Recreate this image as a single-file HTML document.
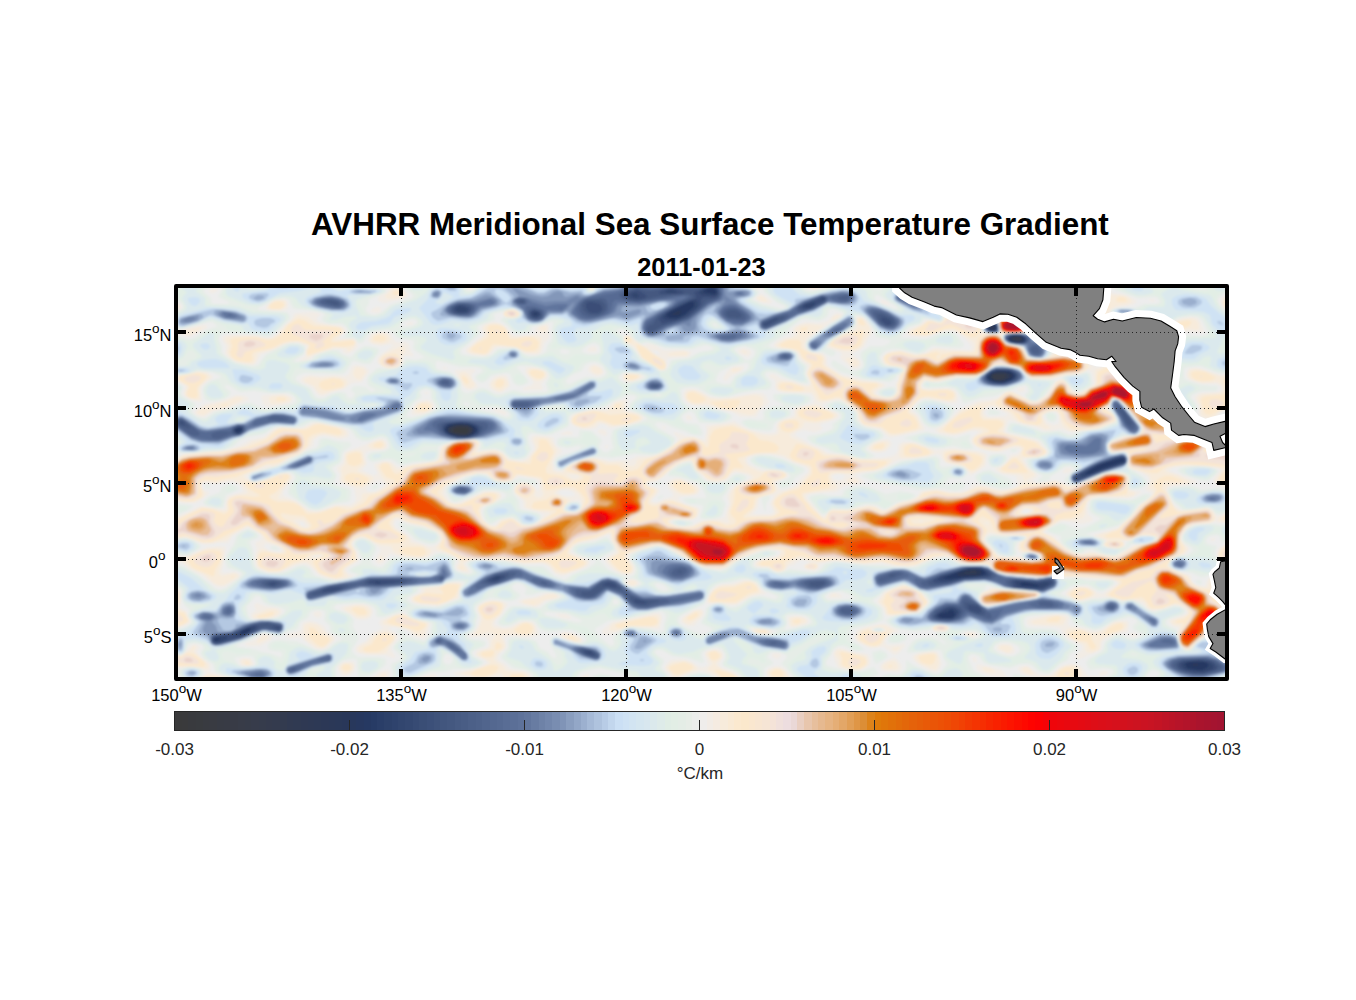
<!DOCTYPE html>
<html><head><meta charset="utf-8"><title>AVHRR Meridional Sea Surface Temperature Gradient</title>
<style>
html,body{margin:0;padding:0;background:#fff;}
body{width:1356px;height:1000px;overflow:hidden;position:relative;font-family:"Liberation Sans",Arial,sans-serif;}
svg{position:absolute;left:0;top:0;}
</style></head><body>
<svg width="1356" height="1000" viewBox="0 0 1356 1000">
<defs>
<clipPath id="dc"><rect x="178" y="288" width="1047" height="389"/></clipPath>
<filter id="bl" x="-2%" y="-2%" width="104%" height="104%"><feGaussianBlur stdDeviation="1.1"/></filter>
<linearGradient id="cb" x1="0" x2="1" y1="0" y2="0"><stop offset="0.0000" stop-color="#3a3a3b"/><stop offset="0.0067" stop-color="#3a3a3b"/><stop offset="0.0067" stop-color="#3a3a3c"/><stop offset="0.0133" stop-color="#3a3a3c"/><stop offset="0.0133" stop-color="#393a3e"/><stop offset="0.0200" stop-color="#393a3e"/><stop offset="0.0200" stop-color="#393b3f"/><stop offset="0.0267" stop-color="#393b3f"/><stop offset="0.0267" stop-color="#393b41"/><stop offset="0.0333" stop-color="#393b41"/><stop offset="0.0333" stop-color="#393b42"/><stop offset="0.0400" stop-color="#393b42"/><stop offset="0.0400" stop-color="#383b44"/><stop offset="0.0467" stop-color="#383b44"/><stop offset="0.0467" stop-color="#383b45"/><stop offset="0.0533" stop-color="#383b45"/><stop offset="0.0533" stop-color="#383b46"/><stop offset="0.0600" stop-color="#383b46"/><stop offset="0.0600" stop-color="#383c48"/><stop offset="0.0667" stop-color="#383c48"/><stop offset="0.0667" stop-color="#373c49"/><stop offset="0.0733" stop-color="#373c49"/><stop offset="0.0733" stop-color="#373c4b"/><stop offset="0.0800" stop-color="#373c4b"/><stop offset="0.0800" stop-color="#363c4c"/><stop offset="0.0867" stop-color="#363c4c"/><stop offset="0.0867" stop-color="#353b4d"/><stop offset="0.0933" stop-color="#353b4d"/><stop offset="0.0933" stop-color="#343b4e"/><stop offset="0.1000" stop-color="#343b4e"/><stop offset="0.1000" stop-color="#333b4f"/><stop offset="0.1067" stop-color="#333b4f"/><stop offset="0.1067" stop-color="#313a51"/><stop offset="0.1133" stop-color="#313a51"/><stop offset="0.1133" stop-color="#303a52"/><stop offset="0.1200" stop-color="#303a52"/><stop offset="0.1200" stop-color="#2f3953"/><stop offset="0.1267" stop-color="#2f3953"/><stop offset="0.1267" stop-color="#2e3954"/><stop offset="0.1333" stop-color="#2e3954"/><stop offset="0.1333" stop-color="#2d3955"/><stop offset="0.1400" stop-color="#2d3955"/><stop offset="0.1400" stop-color="#2c3856"/><stop offset="0.1467" stop-color="#2c3856"/><stop offset="0.1467" stop-color="#2b3857"/><stop offset="0.1533" stop-color="#2b3857"/><stop offset="0.1533" stop-color="#2a3858"/><stop offset="0.1600" stop-color="#2a3858"/><stop offset="0.1600" stop-color="#293759"/><stop offset="0.1667" stop-color="#293759"/><stop offset="0.1667" stop-color="#28385c"/><stop offset="0.1733" stop-color="#28385c"/><stop offset="0.1733" stop-color="#27385f"/><stop offset="0.1800" stop-color="#27385f"/><stop offset="0.1800" stop-color="#263962"/><stop offset="0.1867" stop-color="#263962"/><stop offset="0.1867" stop-color="#273b65"/><stop offset="0.1933" stop-color="#273b65"/><stop offset="0.1933" stop-color="#2a3e68"/><stop offset="0.2000" stop-color="#2a3e68"/><stop offset="0.2000" stop-color="#2d416a"/><stop offset="0.2067" stop-color="#2d416a"/><stop offset="0.2067" stop-color="#2f436d"/><stop offset="0.2133" stop-color="#2f436d"/><stop offset="0.2133" stop-color="#32466f"/><stop offset="0.2200" stop-color="#32466f"/><stop offset="0.2200" stop-color="#344871"/><stop offset="0.2267" stop-color="#344871"/><stop offset="0.2267" stop-color="#374b74"/><stop offset="0.2333" stop-color="#374b74"/><stop offset="0.2333" stop-color="#3a4e76"/><stop offset="0.2400" stop-color="#3a4e76"/><stop offset="0.2400" stop-color="#3c5079"/><stop offset="0.2467" stop-color="#3c5079"/><stop offset="0.2467" stop-color="#3f537b"/><stop offset="0.2533" stop-color="#3f537b"/><stop offset="0.2533" stop-color="#42567e"/><stop offset="0.2600" stop-color="#42567e"/><stop offset="0.2600" stop-color="#445880"/><stop offset="0.2667" stop-color="#445880"/><stop offset="0.2667" stop-color="#475b83"/><stop offset="0.2733" stop-color="#475b83"/><stop offset="0.2733" stop-color="#495d85"/><stop offset="0.2800" stop-color="#495d85"/><stop offset="0.2800" stop-color="#4c6088"/><stop offset="0.2867" stop-color="#4c6088"/><stop offset="0.2867" stop-color="#4e628a"/><stop offset="0.2933" stop-color="#4e628a"/><stop offset="0.2933" stop-color="#51658d"/><stop offset="0.3000" stop-color="#51658d"/><stop offset="0.3000" stop-color="#546890"/><stop offset="0.3067" stop-color="#546890"/><stop offset="0.3067" stop-color="#566a92"/><stop offset="0.3133" stop-color="#566a92"/><stop offset="0.3133" stop-color="#596d95"/><stop offset="0.3200" stop-color="#596d95"/><stop offset="0.3200" stop-color="#5b6f97"/><stop offset="0.3267" stop-color="#5b6f97"/><stop offset="0.3267" stop-color="#5e729a"/><stop offset="0.3333" stop-color="#5e729a"/><stop offset="0.3333" stop-color="#62769d"/><stop offset="0.3400" stop-color="#62769d"/><stop offset="0.3400" stop-color="#687ca2"/><stop offset="0.3467" stop-color="#687ca2"/><stop offset="0.3467" stop-color="#6e82a7"/><stop offset="0.3533" stop-color="#6e82a7"/><stop offset="0.3533" stop-color="#7387ac"/><stop offset="0.3600" stop-color="#7387ac"/><stop offset="0.3600" stop-color="#798db1"/><stop offset="0.3667" stop-color="#798db1"/><stop offset="0.3667" stop-color="#8094b7"/><stop offset="0.3733" stop-color="#8094b7"/><stop offset="0.3733" stop-color="#8a9ebf"/><stop offset="0.3800" stop-color="#8a9ebf"/><stop offset="0.3800" stop-color="#93a7c7"/><stop offset="0.3867" stop-color="#93a7c7"/><stop offset="0.3867" stop-color="#9cb0cf"/><stop offset="0.3933" stop-color="#9cb0cf"/><stop offset="0.3933" stop-color="#a6bad7"/><stop offset="0.4000" stop-color="#a6bad7"/><stop offset="0.4000" stop-color="#afc3de"/><stop offset="0.4067" stop-color="#afc3de"/><stop offset="0.4067" stop-color="#b8cce6"/><stop offset="0.4133" stop-color="#b8cce6"/><stop offset="0.4133" stop-color="#c2d6ed"/><stop offset="0.4200" stop-color="#c2d6ed"/><stop offset="0.4200" stop-color="#cbdff4"/><stop offset="0.4267" stop-color="#cbdff4"/><stop offset="0.4267" stop-color="#cfe2f4"/><stop offset="0.4333" stop-color="#cfe2f4"/><stop offset="0.4333" stop-color="#d2e4f2"/><stop offset="0.4400" stop-color="#d2e4f2"/><stop offset="0.4400" stop-color="#d5e6f0"/><stop offset="0.4467" stop-color="#d5e6f0"/><stop offset="0.4467" stop-color="#d8e7ef"/><stop offset="0.4533" stop-color="#d8e7ef"/><stop offset="0.4533" stop-color="#dbe9ec"/><stop offset="0.4600" stop-color="#dbe9ec"/><stop offset="0.4600" stop-color="#deebe9"/><stop offset="0.4667" stop-color="#deebe9"/><stop offset="0.4667" stop-color="#e0ede5"/><stop offset="0.4733" stop-color="#e0ede5"/><stop offset="0.4733" stop-color="#e2eee5"/><stop offset="0.4800" stop-color="#e2eee5"/><stop offset="0.4800" stop-color="#e4ede6"/><stop offset="0.4867" stop-color="#e4ede6"/><stop offset="0.4867" stop-color="#e7ede7"/><stop offset="0.4933" stop-color="#e7ede7"/><stop offset="0.4933" stop-color="#ebedeb"/><stop offset="0.5000" stop-color="#ebedeb"/><stop offset="0.5000" stop-color="#efedeb"/><stop offset="0.5067" stop-color="#efedeb"/><stop offset="0.5067" stop-color="#f2ece6"/><stop offset="0.5133" stop-color="#f2ece6"/><stop offset="0.5133" stop-color="#f5ebe1"/><stop offset="0.5200" stop-color="#f5ebe1"/><stop offset="0.5200" stop-color="#f7ebdb"/><stop offset="0.5267" stop-color="#f7ebdb"/><stop offset="0.5267" stop-color="#f9ead5"/><stop offset="0.5333" stop-color="#f9ead5"/><stop offset="0.5333" stop-color="#fbe9cf"/><stop offset="0.5400" stop-color="#fbe9cf"/><stop offset="0.5400" stop-color="#fbe8cc"/><stop offset="0.5467" stop-color="#fbe8cc"/><stop offset="0.5467" stop-color="#fae7cf"/><stop offset="0.5533" stop-color="#fae7cf"/><stop offset="0.5533" stop-color="#f8e6d2"/><stop offset="0.5600" stop-color="#f8e6d2"/><stop offset="0.5600" stop-color="#f6e5d5"/><stop offset="0.5667" stop-color="#f6e5d5"/><stop offset="0.5667" stop-color="#f4e3d8"/><stop offset="0.5733" stop-color="#f4e3d8"/><stop offset="0.5733" stop-color="#f0e0dc"/><stop offset="0.5800" stop-color="#f0e0dc"/><stop offset="0.5800" stop-color="#eddddf"/><stop offset="0.5867" stop-color="#eddddf"/><stop offset="0.5867" stop-color="#ead8d7"/><stop offset="0.5933" stop-color="#ead8d7"/><stop offset="0.5933" stop-color="#e9cfc2"/><stop offset="0.6000" stop-color="#e9cfc2"/><stop offset="0.6000" stop-color="#e8c6ad"/><stop offset="0.6067" stop-color="#e8c6ad"/><stop offset="0.6067" stop-color="#e7bf9d"/><stop offset="0.6133" stop-color="#e7bf9d"/><stop offset="0.6133" stop-color="#e6b990"/><stop offset="0.6200" stop-color="#e6b990"/><stop offset="0.6200" stop-color="#e6b483"/><stop offset="0.6267" stop-color="#e6b483"/><stop offset="0.6267" stop-color="#e5ae76"/><stop offset="0.6333" stop-color="#e5ae76"/><stop offset="0.6333" stop-color="#e3a768"/><stop offset="0.6400" stop-color="#e3a768"/><stop offset="0.6400" stop-color="#e19f57"/><stop offset="0.6467" stop-color="#e19f57"/><stop offset="0.6467" stop-color="#df9646"/><stop offset="0.6533" stop-color="#df9646"/><stop offset="0.6533" stop-color="#dc8e36"/><stop offset="0.6600" stop-color="#dc8e36"/><stop offset="0.6600" stop-color="#dd831a"/><stop offset="0.6667" stop-color="#dd831a"/><stop offset="0.6667" stop-color="#df7b0a"/><stop offset="0.6733" stop-color="#df7b0a"/><stop offset="0.6733" stop-color="#e0760a"/><stop offset="0.6800" stop-color="#e0760a"/><stop offset="0.6800" stop-color="#e1710a"/><stop offset="0.6867" stop-color="#e1710a"/><stop offset="0.6867" stop-color="#e26c0a"/><stop offset="0.6933" stop-color="#e26c0a"/><stop offset="0.6933" stop-color="#e3670a"/><stop offset="0.7000" stop-color="#e3670a"/><stop offset="0.7000" stop-color="#e5620a"/><stop offset="0.7067" stop-color="#e5620a"/><stop offset="0.7067" stop-color="#e65e09"/><stop offset="0.7133" stop-color="#e65e09"/><stop offset="0.7133" stop-color="#e85a08"/><stop offset="0.7200" stop-color="#e85a08"/><stop offset="0.7200" stop-color="#ea5507"/><stop offset="0.7267" stop-color="#ea5507"/><stop offset="0.7267" stop-color="#ec5106"/><stop offset="0.7333" stop-color="#ec5106"/><stop offset="0.7333" stop-color="#ed4d05"/><stop offset="0.7400" stop-color="#ed4d05"/><stop offset="0.7400" stop-color="#ef4705"/><stop offset="0.7467" stop-color="#ef4705"/><stop offset="0.7467" stop-color="#f14104"/><stop offset="0.7533" stop-color="#f14104"/><stop offset="0.7533" stop-color="#f23a03"/><stop offset="0.7600" stop-color="#f23a03"/><stop offset="0.7600" stop-color="#f43402"/><stop offset="0.7667" stop-color="#f43402"/><stop offset="0.7667" stop-color="#f62e02"/><stop offset="0.7733" stop-color="#f62e02"/><stop offset="0.7733" stop-color="#f72701"/><stop offset="0.7800" stop-color="#f72701"/><stop offset="0.7800" stop-color="#f92100"/><stop offset="0.7867" stop-color="#f92100"/><stop offset="0.7867" stop-color="#fa1b00"/><stop offset="0.7933" stop-color="#fa1b00"/><stop offset="0.7933" stop-color="#fc1500"/><stop offset="0.8000" stop-color="#fc1500"/><stop offset="0.8000" stop-color="#fc0f00"/><stop offset="0.8067" stop-color="#fc0f00"/><stop offset="0.8067" stop-color="#fe0900"/><stop offset="0.8133" stop-color="#fe0900"/><stop offset="0.8133" stop-color="#fe0300"/><stop offset="0.8200" stop-color="#fe0300"/><stop offset="0.8200" stop-color="#fc0102"/><stop offset="0.8267" stop-color="#fc0102"/><stop offset="0.8267" stop-color="#f50307"/><stop offset="0.8333" stop-color="#f50307"/><stop offset="0.8333" stop-color="#ef050b"/><stop offset="0.8400" stop-color="#ef050b"/><stop offset="0.8400" stop-color="#ec070d"/><stop offset="0.8467" stop-color="#ec070d"/><stop offset="0.8467" stop-color="#e9080f"/><stop offset="0.8533" stop-color="#e9080f"/><stop offset="0.8533" stop-color="#e70a11"/><stop offset="0.8600" stop-color="#e70a11"/><stop offset="0.8600" stop-color="#e40b13"/><stop offset="0.8667" stop-color="#e40b13"/><stop offset="0.8667" stop-color="#e10c15"/><stop offset="0.8733" stop-color="#e10c15"/><stop offset="0.8733" stop-color="#de0e17"/><stop offset="0.8800" stop-color="#de0e17"/><stop offset="0.8800" stop-color="#db0f19"/><stop offset="0.8867" stop-color="#db0f19"/><stop offset="0.8867" stop-color="#d9101b"/><stop offset="0.8933" stop-color="#d9101b"/><stop offset="0.8933" stop-color="#d6111c"/><stop offset="0.9000" stop-color="#d6111c"/><stop offset="0.9000" stop-color="#d3111d"/><stop offset="0.9067" stop-color="#d3111d"/><stop offset="0.9067" stop-color="#d0121f"/><stop offset="0.9133" stop-color="#d0121f"/><stop offset="0.9133" stop-color="#cd1320"/><stop offset="0.9200" stop-color="#cd1320"/><stop offset="0.9200" stop-color="#cb1322"/><stop offset="0.9267" stop-color="#cb1322"/><stop offset="0.9267" stop-color="#c81423"/><stop offset="0.9333" stop-color="#c81423"/><stop offset="0.9333" stop-color="#c41424"/><stop offset="0.9400" stop-color="#c41424"/><stop offset="0.9400" stop-color="#bf1426"/><stop offset="0.9467" stop-color="#bf1426"/><stop offset="0.9467" stop-color="#bb1427"/><stop offset="0.9533" stop-color="#bb1427"/><stop offset="0.9533" stop-color="#b71429"/><stop offset="0.9600" stop-color="#b71429"/><stop offset="0.9600" stop-color="#b3142a"/><stop offset="0.9667" stop-color="#b3142a"/><stop offset="0.9667" stop-color="#af142b"/><stop offset="0.9733" stop-color="#af142b"/><stop offset="0.9733" stop-color="#aa142d"/><stop offset="0.9800" stop-color="#aa142d"/><stop offset="0.9800" stop-color="#a7142e"/><stop offset="0.9867" stop-color="#a7142e"/><stop offset="0.9867" stop-color="#a51430"/><stop offset="0.9933" stop-color="#a51430"/><stop offset="0.9933" stop-color="#a21431"/><stop offset="1.0000" stop-color="#a21431"/></linearGradient>
</defs>
<text x="311" y="235" font-family="Liberation Sans, Arial, sans-serif" font-weight="bold" font-size="31.4" fill="#000">AVHRR Meridional Sea Surface Temperature Gradient</text>
<text x="701.5" y="275.5" text-anchor="middle" font-family="Liberation Sans, Arial, sans-serif" font-weight="bold" font-size="25.4" fill="#000">2011-01-23</text>
<rect x="178" y="288" width="1047" height="389" fill="#ededed"/>
<g clip-path="url(#dc)"><g filter="url(#bl)"><path fill="#f2ece5" fill-rule="evenodd" d="M256 284 254 283 252 280 257 280 257 282 256 284ZM380 287 368 287 360 286 357 284 355 280 381 280 382 286 380 287ZM470 290 468 289 467 288 469 280 474 280 475 286 473 288 470 290ZM690 283 682 282 678 280 693 280 690 283ZM814 290 810 289 806 288 805 286 804 280 829 280 828 282 830 284 830 286 814 290ZM880 287 876 287 869 284 866 282 864 280 883 280 883 284 880 287ZM1190 650 1184 649 1180 644 1177 634 1179 628 1172 626 1169 622 1169 620 1172 619 1182 616 1186 614 1187 612 1186 610 1180 606 1174 605 1162 609 1152 611 1147 608 1142 603 1132 600 1122 601 1114 598 1100 597 1082 601 1078 601 1067 596 1065 594 1068 590 1072 588 1082 586 1090 587 1098 593 1102 594 1114 586 1117 584 1117 582 1114 580 1108 579 1092 579 1076 577 1062 577 1054 575 1038 578 1006 575 996 572 988 565 962 564 950 558 946 557 934 558 918 565 910 567 896 566 882 563 864 564 838 561 832 561 820 564 819 564 818 568 814 571 806 569 803 566 806 564 811 562 810 562 802 560 797 562 794 565 788 566 784 571 778 572 774 571 768 567 760 567 755 566 755 562 758 560 762 559 774 557 778 556 780 554 780 552 778 550 768 550 760 551 744 557 738 560 726 568 720 570 702 567 671 550 664 546 656 546 640 550 629 554 628 556 629 558 634 566 635 570 632 574 628 575 621 574 613 570 605 562 605 560 606 558 615 552 616 550 611 540 610 535 608 534 596 540 580 543 574 546 571 550 570 552 572 553 589 560 590 562 588 566 584 568 562 576 554 573 549 566 544 564 540 563 524 564 504 560 494 560 478 559 470 560 465 564 466 566 470 572 468 573 462 572 458 570 456 568 456 566 458 562 456 558 448 554 438 552 436 552 428 557 422 558 404 557 390 554 388 556 384 562 382 564 378 564 376 562 375 560 377 556 381 550 380 548 369 540 362 537 356 539 352 544 353 546 357 552 359 560 357 562 348 567 346 570 348 573 353 576 351 578 336 580 325 578 318 574 310 566 304 564 296 565 282 572 276 573 268 572 260 570 257 568 256 564 255 554 257 548 255 544 256 542 261 540 262 536 260 534 250 527 246 528 235 534 232 536 229 542 226 543 218 543 206 545 186 538 182 537 170 539 170 519 189 512 200 506 220 509 224 509 225 508 226 500 228 496 232 495 242 492 243 490 240 485 234 482 228 482 216 484 206 483 202 484 202 487 204 490 209 492 209 494 198 502 194 503 184 503 170 500 170 464 184 454 208 452 220 451 228 450 240 446 250 440 264 437 273 430 278 427 284 427 294 428 302 428 312 423 316 422 342 428 347 430 349 432 349 436 346 438 340 439 326 436 320 436 314 440 313 446 298 455 290 458 285 462 274 467 252 472 247 476 247 478 250 481 254 482 266 479 281 474 286 473 290 474 292 476 293 478 284 490 283 494 284 496 298 502 308 510 316 511 322 510 336 505 350 505 355 502 356 498 354 488 339 482 340 474 337 470 337 468 343 462 344 454 346 452 380 439 382 439 386 441 387 444 387 448 382 450 370 451 366 452 365 456 367 464 362 470 366 472 372 475 376 475 377 474 377 472 374 466 374 464 382 461 390 461 398 467 400 467 414 464 435 462 438 458 440 448 441 446 450 442 460 440 470 440 477 440 480 444 478 452 496 450 502 452 510 459 520 461 526 459 534 450 534 446 531 440 531 438 532 436 536 435 552 437 554 438 554 442 556 446 562 450 562 452 556 457 553 462 555 470 558 471 560 471 573 464 582 460 590 458 596 458 606 460 610 461 620 460 630 460 638 456 650 456 656 455 667 450 677 442 678 438 674 434 674 432 678 433 686 436 694 437 704 440 706 434 706 426 708 425 720 424 734 421 736 422 742 426 748 429 764 433 772 433 776 432 776 426 778 422 793 416 794 414 794 410 795 408 812 404 814 402 813 396 810 394 782 392 776 390 775 388 775 380 770 378 769 376 770 374 774 374 782 379 792 381 804 385 808 385 810 384 810 382 806 374 808 366 801 360 797 352 794 350 790 349 778 348 773 346 774 344 778 340 792 336 793 334 792 328 798 325 806 322 818 323 824 322 828 321 834 314 838 313 842 314 842 316 841 318 830 323 808 339 805 344 806 348 812 352 820 353 824 354 827 358 827 364 828 366 842 375 864 380 878 382 885 384 887 384 886 386 878 390 876 394 880 396 890 397 894 396 896 394 897 390 895 384 898 380 898 376 903 372 904 370 902 367 888 366 884 364 882 360 882 358 886 353 892 351 900 350 914 354 918 354 924 353 934 348 964 350 970 350 972 348 970 344 962 336 956 332 952 331 944 331 926 337 912 336 906 335 907 332 910 329 921 324 926 320 930 320 940 323 942 321 944 318 942 313 927 304 922 300 918 295 908 290 908 288 911 280 931 280 932 282 942 285 946 292 954 296 956 298 954 300 942 304 941 306 942 308 948 311 964 314 983 320 981 328 982 332 986 333 996 334 1000 333 1000 332 999 324 996 318 998 317 1006 314 1007 312 1008 310 1006 304 1002 296 1002 292 1006 291 1018 294 1032 295 1034 298 1032 306 1033 308 1034 310 1044 312 1048 314 1053 320 1053 322 1048 325 1038 325 1032 330 1028 332 1002 334 1002 336 1002 338 1006 343 1010 345 1022 347 1024 349 1028 357 1032 359 1038 359 1044 358 1051 356 1053 352 1054 348 1060 344 1068 343 1078 343 1082 344 1082 346 1074 352 1073 352 1074 354 1082 357 1090 364 1096 367 1104 366 1114 361 1118 361 1125 366 1128 374 1132 376 1140 375 1147 370 1148 368 1147 362 1148 360 1152 359 1157 360 1160 362 1162 364 1162 372 1164 376 1173 384 1172 385 1168 386 1154 387 1146 389 1147 394 1144 398 1143 402 1143 404 1145 408 1150 412 1158 414 1164 413 1170 408 1172 408 1190 416 1190 418 1188 420 1174 424 1170 432 1170 434 1172 435 1190 434 1198 435 1220 442 1230 447 1233 452 1234 460 1233 466 1236 468 1236 495 1232 494 1228 488 1216 485 1214 482 1213 480 1214 478 1221 470 1219 468 1206 466 1190 466 1174 467 1169 470 1171 472 1195 480 1197 482 1192 484 1172 486 1167 488 1167 492 1172 503 1180 510 1188 511 1208 508 1212 510 1216 515 1218 516 1228 512 1236 511 1236 522 1222 523 1214 522 1210 523 1195 524 1188 528 1182 534 1181 540 1183 542 1189 548 1189 550 1185 554 1174 558 1169 562 1169 566 1172 568 1176 571 1190 575 1191 576 1192 582 1194 584 1200 586 1204 586 1205 586 1207 580 1209 578 1222 573 1225 570 1226 568 1225 566 1217 556 1217 552 1219 548 1226 544 1236 542 1236 592 1224 591 1222 592 1220 594 1222 596 1224 598 1236 600 1236 618 1228 620 1214 627 1211 630 1210 634 1198 641 1190 650ZM970 290 966 290 964 289 954 284 952 280 976 280 974 285 970 290ZM1108 317 1100 316 1092 314 1090 306 1082 296 1076 295 1058 295 1045 292 1043 290 1043 288 1046 286 1054 283 1056 280 1127 280 1124 283 1112 285 1110 288 1110 290 1112 293 1122 294 1128 296 1136 300 1137 302 1132 305 1120 307 1112 309 1110 312 1111 314 1108 317ZM1160 285 1156 284 1153 280 1164 280 1162 283 1160 285ZM760 290 753 288 752 286 756 283 758 284 760 286 760 290ZM386 303 380 302 378 300 378 298 379 296 387 292 390 288 396 287 400 288 404 290 408 294 408 296 404 298 386 303ZM594 290 590 290 590 288 592 287 594 287 594 290ZM214 293 210 293 209 290 212 288 218 288 218 290 214 293ZM1236 314 1230 313 1226 310 1222 306 1220 302 1221 298 1224 296 1231 292 1236 290 1236 314ZM770 304 760 302 756 300 755 298 760 294 762 294 771 300 772 302 770 304ZM172 312 170 312 170 299 176 301 181 306 181 308 179 310 172 312ZM280 311 268 310 266 309 265 308 269 304 274 300 280 299 286 300 288 302 288 308 286 310 280 311ZM1154 302 1147 300 1148 300 1152 299 1155 300 1154 302ZM890 305 883 304 880 300 883 300 888 302 890 304 890 305ZM378 313 372 312 371 312 371 310 376 307 380 307 381 310 380 312 378 313ZM516 318 510 318 506 317 503 316 503 314 504 312 508 310 515 310 518 311 520 314 518 316 516 318ZM254 365 248 365 238 363 234 361 229 358 225 354 226 346 222 340 222 337 226 335 230 335 254 335 268 338 272 337 278 333 284 326 291 320 294 314 296 313 314 312 320 314 321 314 317 318 317 320 320 322 327 324 340 326 345 328 346 330 345 332 338 339 354 339 356 340 358 346 356 349 348 354 344 353 342 350 342 349 334 349 315 354 309 360 300 361 299 360 305 356 307 346 298 342 290 343 284 344 274 350 262 354 260 356 257 362 254 365ZM856 369 850 367 842 360 840 358 842 354 840 352 828 348 827 346 829 342 833 340 854 328 856 324 856 317 858 316 862 317 866 320 872 328 872 332 872 334 868 339 865 346 860 350 852 354 858 359 861 362 861 366 856 369ZM1136 349 1130 348 1129 346 1131 344 1140 340 1156 336 1170 324 1182 318 1192 317 1198 318 1200 321 1204 330 1204 332 1200 333 1188 332 1180 333 1176 336 1173 342 1170 343 1154 344 1136 349ZM410 325 406 325 406 324 410 322 413 322 413 324 410 325ZM486 356 470 354 466 352 465 350 467 348 483 336 483 332 481 328 484 324 492 322 500 323 506 327 512 335 518 336 535 334 536 332 534 328 535 328 546 324 548 324 549 326 549 338 544 344 542 352 539 354 534 355 528 354 524 353 518 349 516 348 500 347 496 348 490 354 486 356ZM190 337 185 336 174 332 170 332 170 327 178 330 182 330 202 325 206 325 207 326 207 328 204 330 190 337ZM396 368 390 368 384 367 379 364 377 362 378 358 380 355 386 351 392 346 393 344 380 346 372 344 369 342 368 340 369 338 371 334 378 332 386 332 390 334 396 342 406 342 409 344 410 350 414 356 404 356 402 364 400 366 396 368ZM662 371 660 370 654 366 642 358 634 347 624 342 624 338 624 336 626 335 628 335 636 341 642 345 644 346 648 344 652 344 657 346 662 350 682 350 692 352 691 354 688 357 668 358 667 360 666 368 665 370 662 371ZM596 352 590 352 588 351 587 350 590 347 594 346 597 348 597 350 596 352ZM748 357 746 356 740 354 738 352 738 350 744 348 750 350 751 352 751 354 748 357ZM660 354 658 351 652 350 651 350 656 354 658 355 660 354ZM600 376 596 376 590 373 588 370 589 366 594 364 600 366 603 370 604 372 603 374 600 376ZM324 396 320 396 318 395 312 387 301 382 300 380 301 378 304 376 310 375 322 376 334 375 346 376 348 375 352 366 356 365 364 366 369 370 369 372 362 382 352 383 344 389 332 392 324 396ZM826 516 830 511 832 509 848 510 868 505 874 506 882 510 886 510 898 503 915 498 918 496 920 492 928 490 936 489 950 492 962 492 968 490 972 485 974 484 986 486 1002 490 1008 490 1014 488 1017 486 1018 484 1016 476 1002 474 995 470 995 468 1002 466 1005 464 1008 460 1010 455 1016 454 1018 453 1021 450 1020 448 1012 448 1002 452 992 452 980 449 972 444 971 440 972 438 978 432 978 431 970 431 958 435 952 436 940 434 934 430 946 423 958 411 962 408 978 401 990 400 998 398 1006 392 1010 391 1016 392 1030 401 1036 402 1045 396 1056 381 1060 379 1064 380 1066 382 1070 389 1072 391 1078 392 1082 392 1094 384 1092 373 1090 371 1088 370 1080 374 1066 375 1052 379 1032 379 1028 377 1020 368 998 365 994 366 982 374 974 378 956 377 938 382 932 382 926 380 922 384 921 386 922 388 928 389 946 388 952 389 955 390 957 394 958 398 957 402 956 403 952 403 930 399 924 399 920 400 913 406 912 410 918 416 921 422 925 428 925 430 916 432 890 438 888 437 880 429 866 427 862 424 858 420 858 414 857 412 852 408 842 400 836 400 824 404 822 406 824 408 838 414 839 416 838 418 834 420 821 424 820 426 823 428 821 430 814 432 804 430 797 432 795 434 796 436 802 439 810 444 822 449 828 453 844 455 862 459 882 458 892 456 896 454 898 450 898 446 899 444 903 442 908 442 916 443 936 450 954 448 965 450 980 451 987 454 986 466 970 476 968 470 964 467 960 465 946 463 944 461 940 455 938 454 924 457 898 460 887 466 880 470 857 474 855 476 856 476 863 480 864 483 858 484 844 486 838 491 836 492 818 493 810 494 807 496 807 498 816 509 822 516 824 516 826 516ZM726 381 724 380 723 378 728 370 731 368 736 366 740 366 744 366 744 368 743 370 731 376 726 381ZM448 369 444 369 442 368 444 367 447 368 448 369ZM542 390 526 390 523 390 523 388 524 388 532 385 534 382 526 374 525 370 525 368 530 367 538 368 543 370 547 372 548 376 547 378 541 384 543 388 542 390ZM1218 420 1207 420 1199 416 1199 406 1194 398 1196 395 1200 393 1218 392 1221 390 1221 386 1216 384 1202 384 1190 380 1187 378 1186 374 1187 372 1188 369 1192 368 1198 368 1220 375 1236 374 1236 406 1221 412 1219 414 1220 418 1218 420ZM472 390 468 390 464 388 461 382 456 374 455 370 472 369 476 370 472 374 472 376 473 380 478 386 477 388 472 390ZM200 402 192 400 185 396 183 394 185 388 185 386 182 384 175 380 174 378 178 376 198 371 207 372 213 376 213 378 206 382 202 386 201 390 202 400 202 401 200 402ZM632 382 626 382 624 381 622 378 622 376 625 374 628 373 640 374 643 376 643 378 640 379 632 382ZM500 393 498 392 494 391 490 388 489 384 491 380 494 377 500 375 504 375 507 376 508 378 510 386 506 390 500 393ZM1022 392 1020 392 1017 390 1019 388 1024 387 1025 390 1022 392ZM756 417 740 417 733 412 708 406 692 405 688 403 685 400 683 396 684 392 686 389 694 389 700 391 710 397 720 398 730 398 754 393 762 393 766 396 769 402 768 404 760 410 756 417ZM428 394 426 394 424 392 426 392 428 392 428 394ZM270 407 266 406 263 404 261 396 266 395 284 394 290 396 293 398 292 401 290 403 270 407ZM204 417 202 417 198 416 195 414 194 412 196 410 204 404 222 401 236 395 245 396 249 398 248 400 244 402 228 408 214 411 204 417ZM1118 556 1130 548 1134 545 1152 543 1156 540 1157 538 1156 536 1152 536 1140 535 1128 541 1124 541 1125 544 1122 547 1114 548 1105 546 1104 544 1106 540 1094 536 1094 534 1097 534 1118 528 1132 515 1140 505 1150 498 1152 494 1150 492 1145 490 1149 482 1149 480 1147 476 1140 472 1132 469 1128 466 1129 460 1127 452 1124 452 1112 453 1110 451 1108 448 1108 444 1112 441 1126 436 1136 435 1142 432 1142 430 1141 426 1126 406 1120 400 1116 398 1113 398 1111 400 1108 408 1116 418 1116 420 1116 422 1098 429 1072 432 1060 429 1050 431 1044 431 1036 427 1009 420 1005 430 1005 432 1010 434 1024 436 1036 440 1040 442 1048 452 1046 454 1042 456 1026 458 1024 459 1025 462 1029 468 1037 474 1038 476 1033 480 1034 482 1042 483 1056 480 1068 485 1074 485 1104 474 1112 472 1122 473 1126 474 1128 476 1129 488 1130 490 1142 492 1135 496 1129 498 1098 497 1092 498 1088 502 1087 508 1088 514 1092 518 1093 520 1090 522 1082 524 1064 521 1060 522 1045 530 1044 532 1054 536 1064 546 1074 553 1082 554 1090 551 1108 556 1114 556 1118 556ZM592 429 582 429 574 426 570 422 571 416 574 414 590 410 606 409 614 402 626 399 628 400 626 408 626 410 640 414 643 416 644 418 640 422 628 425 610 428 604 424 600 424 596 428 592 429ZM420 415 414 415 411 414 412 408 415 404 418 402 426 400 428 400 433 402 434 406 433 410 430 412 420 415ZM1006 416 1007 414 1004 412 994 407 990 407 988 408 984 412 986 415 988 417 1006 416ZM506 415 502 414 492 410 491 410 496 409 502 410 506 412 506 415ZM1058 424 1059 422 1059 416 1058 414 1056 412 1050 411 1044 414 1044 418 1048 423 1054 425 1058 424ZM692 420 687 420 686 418 686 416 688 415 690 415 692 418 692 420ZM1236 426 1228 424 1222 420 1223 420 1236 418 1236 426ZM666 429 664 429 662 426 664 426 666 429ZM606 436 602 435 600 434 598 432 598 430 602 429 606 430 607 434 606 436ZM570 435 562 435 560 434 564 432 568 431 572 432 573 434 570 435ZM878 453 870 451 868 450 868 448 871 444 878 441 886 439 890 440 892 444 891 446 886 451 878 453ZM174 452 170 452 170 441 177 444 175 448 175 452 174 452ZM608 448 605 448 605 446 608 445 608 446 608 448ZM786 490 792 487 797 484 801 478 808 472 808 470 806 467 793 462 782 457 770 454 758 455 752 456 747 458 747 460 748 464 762 470 778 470 784 472 787 474 788 476 786 478 778 481 775 482 780 490 786 490ZM688 526 692 526 700 521 724 518 725 516 729 504 727 496 731 488 734 486 748 480 750 478 750 476 744 474 736 472 732 474 727 480 724 481 716 482 710 481 706 479 696 470 692 462 690 461 683 462 676 466 670 470 664 477 658 480 648 482 648 485 657 488 660 490 659 492 652 500 652 501 654 502 658 502 673 496 673 494 668 488 667 486 668 482 672 479 676 478 682 479 694 484 698 486 700 490 698 494 694 495 680 497 678 498 684 504 699 508 700 510 697 518 694 519 690 520 674 519 670 522 671 524 675 526 680 527 688 526ZM1068 473 1064 473 1062 472 1066 468 1071 468 1072 470 1068 473ZM530 526 536 524 539 522 543 516 544 514 538 512 524 508 523 508 523 502 522 500 515 494 514 490 515 486 518 484 520 483 526 483 533 486 537 490 538 492 540 484 538 481 536 479 520 476 510 481 502 482 494 480 486 474 476 474 465 476 450 484 447 486 445 490 445 494 449 500 452 503 456 503 460 502 484 492 490 491 499 492 502 496 501 498 492 504 484 506 481 510 481 514 484 520 486 522 490 525 494 526 501 520 512 518 514 519 522 525 526 526 530 526ZM842 480 845 476 843 474 836 474 832 476 833 478 836 480 838 480 842 480ZM375 492 381 488 384 486 384 484 380 481 376 481 369 486 366 488 367 490 368 492 375 492ZM888 488 884 488 882 486 889 486 889 488 888 488ZM575 496 573 492 568 490 562 490 558 492 559 494 564 496 574 496 575 496ZM771 514 774 512 771 506 770 504 774 496 770 495 759 498 758 508 753 514 754 514 771 514ZM577 512 580 510 582 506 581 502 578 500 570 502 566 504 564 508 564 510 568 512 572 512 577 512ZM1026 514 1031 512 1030 510 1026 509 1024 510 1021 512 1022 513 1026 514ZM433 546 438 544 441 540 440 536 436 532 424 527 410 524 400 520 396 520 395 522 394 524 396 528 407 534 414 541 428 546 433 546ZM305 526 303 522 299 522 302 526 305 526ZM1039 560 1040 558 1040 556 1038 554 1028 552 1020 553 1018 550 1017 546 1019 542 1027 538 1025 536 1018 536 1004 536 990 534 988 535 985 538 985 540 986 542 998 556 1006 557 1020 557 1030 560 1039 560ZM1214 541 1212 541 1210 540 1212 538 1214 538 1216 538 1214 541ZM281 552 282 550 282 548 277 546 268 544 265 544 264 546 265 548 270 551 276 552 281 552ZM224 587 218 587 214 585 203 576 191 570 182 563 180 563 170 563 170 553 184 557 190 555 208 547 222 546 226 547 226 550 224 558 222 572 224 573 236 572 239 574 240 576 238 579 224 587ZM320 556 316 556 320 556ZM636 586 632 586 630 586 626 584 625 582 630 579 636 580 638 582 639 584 636 586ZM736 605 730 605 718 603 708 604 706 602 710 594 716 586 720 585 734 583 744 580 750 580 756 582 762 590 767 594 758 595 752 596 736 605ZM438 606 418 604 412 602 410 598 421 592 421 588 424 588 440 586 446 583 454 582 460 582 463 584 459 590 458 598 438 606ZM892 616 888 616 886 615 883 608 877 602 878 600 884 592 892 589 902 585 906 586 923 594 928 600 927 604 920 611 918 613 902 614 892 616ZM176 629 170 629 170 586 176 588 180 590 181 604 180 608 187 612 187 616 191 622 186 625 176 629ZM990 606 986 606 983 604 980 602 979 598 982 593 989 590 990 587 1004 590 1036 592 1038 592 1040 594 1039 596 1036 598 990 606ZM536 607 526 605 522 604 518 602 520 600 524 599 536 597 546 593 554 593 560 596 561 596 559 598 546 601 540 606 536 607ZM840 598 832 598 829 598 828 596 832 593 838 593 843 596 840 598ZM524 686 492 686 494 682 498 680 499 678 498 678 488 679 478 679 458 676 453 674 454 673 456 672 468 670 478 668 485 664 487 662 486 660 476 656 475 654 476 652 477 650 488 648 489 644 488 640 486 637 472 637 470 636 470 634 477 628 480 618 477 610 477 608 478 605 484 602 490 600 494 600 505 602 508 604 502 614 495 620 495 624 498 626 504 628 510 627 520 622 526 621 533 622 537 628 539 634 538 636 526 637 512 636 506 637 505 638 506 646 506 648 499 654 498 658 498 660 505 664 510 669 524 671 530 674 531 676 530 678 524 686ZM268 619 254 619 252 618 251 616 251 614 256 610 254 606 255 604 256 603 258 603 264 606 278 608 282 610 281 614 278 616 274 618 268 619ZM364 620 356 619 350 614 342 610 340 608 344 606 356 604 364 604 370 606 373 610 372 615 370 618 364 620ZM694 626 688 626 684 624 681 622 681 618 684 616 694 610 700 609 702 609 704 612 703 616 694 626ZM318 618 316 617 314 616 313 614 314 612 318 611 321 612 322 616 318 618ZM394 658 384 655 368 655 362 654 356 652 355 648 358 645 366 641 371 634 383 628 379 624 380 620 396 614 404 613 412 618 428 622 430 624 428 630 427 636 424 639 414 636 408 630 403 628 394 627 388 628 396 634 398 638 397 640 391 648 392 651 395 656 396 656 394 658ZM610 635 606 635 604 635 602 632 602 630 612 622 654 613 660 613 662 616 662 620 660 628 658 629 628 627 610 635ZM570 619 562 618 554 614 560 614 566 614 570 616 571 618 570 619ZM1080 659 1076 658 1075 656 1082 650 1082 648 1082 646 1067 638 1063 634 1060 628 1054 627 1030 626 1027 624 1027 620 1030 618 1048 615 1062 615 1068 616 1069 618 1068 624 1070 626 1084 628 1094 631 1102 630 1112 623 1116 621 1126 620 1129 622 1128 632 1116 634 1107 638 1102 642 1101 648 1100 650 1080 659ZM796 627 790 627 789 626 788 618 788 617 794 616 800 616 806 618 809 620 808 622 807 624 796 627ZM322 650 314 648 300 637 288 638 286 636 288 634 300 631 301 630 302 624 304 622 310 621 316 622 324 626 327 632 334 636 336 638 335 640 327 648 322 650ZM894 655 884 647 870 648 858 642 854 638 856 632 857 630 862 628 882 624 886 624 898 630 899 632 892 633 889 636 885 640 886 644 888 645 905 644 905 646 902 650 898 654 894 655ZM946 631 936 631 933 630 932 628 936 625 945 626 948 626 949 628 946 631ZM883 632 885 630 882 628 874 628 871 630 874 632 883 632ZM770 634 766 634 759 634 753 632 751 630 752 628 756 628 771 630 773 632 770 634ZM580 643 576 642 568 640 560 636 558 634 560 633 564 632 572 633 582 638 583 640 580 643ZM976 637 972 637 966 636 963 634 968 632 974 632 977 634 976 637ZM1136 637 1131 636 1129 634 1132 633 1137 634 1137 636 1136 637ZM260 646 248 646 244 644 254 640 262 634 268 634 272 636 272 638 271 640 260 646ZM1012 654 1008 654 1002 652 997 650 997 646 999 644 1002 644 1010 644 1013 646 1015 650 1015 652 1012 654ZM246 686 182 686 182 680 192 680 198 679 204 676 206 672 200 668 194 667 180 668 170 667 170 649 174 650 178 655 180 656 184 654 190 646 194 644 198 645 200 648 198 650 197 652 200 656 210 664 211 666 209 672 224 676 242 680 245 682 246 686ZM862 670 852 670 844 669 838 668 836 664 834 658 833 654 835 650 838 648 842 648 852 652 868 654 870 658 870 664 868 666 862 670ZM744 686 720 686 720 680 718 678 702 671 686 675 674 681 672 680 670 674 665 670 664 668 666 665 670 660 682 659 688 660 700 667 704 667 707 666 708 664 705 656 705 652 710 650 718 649 722 651 723 654 723 658 719 664 720 666 722 668 732 671 736 674 743 680 744 686ZM936 672 932 672 918 664 913 660 912 656 916 654 924 652 934 651 938 652 942 664 939 670 936 672ZM1236 659 1232 658 1231 656 1232 654 1236 652 1236 659ZM778 659 774 658 772 656 772 654 776 653 781 654 781 656 778 659ZM252 666 246 666 242 666 240 664 239 660 241 658 244 658 250 658 252 660 254 664 252 666ZM448 660 447 658 448 657 449 658 448 660ZM898 672 884 671 881 670 880 666 884 662 892 658 894 657 898 660 902 666 901 670 898 672ZM976 663 972 660 972 658 974 657 976 658 977 660 976 663ZM344 677 342 676 340 674 338 670 338 666 340 664 344 662 350 661 354 662 355 666 354 672 350 675 344 677ZM1006 678 990 676 982 673 977 670 976 668 977 664 978 664 1002 670 1005 674 1006 676 1006 678ZM1104 686 1084 686 1084 682 1082 681 1078 680 1062 682 1058 684 1057 686 1043 686 1042 682 1038 679 1022 674 1018 670 1018 668 1022 666 1028 666 1038 674 1042 675 1048 675 1052 674 1060 667 1064 665 1070 664 1076 664 1082 667 1088 676 1098 677 1104 686ZM782 686 765 686 767 680 766 672 768 669 772 667 778 666 782 667 786 670 792 680 790 683 782 686ZM380 686 363 686 366 682 372 678 379 672 384 670 388 670 390 672 390 676 382 682 381 686 380 686ZM1102 676 1099 676 1099 674 1100 672 1104 670 1108 672 1108 674 1102 676ZM588 686 575 686 582 676 588 673 589 674 588 686ZM428 686 409 686 411 682 416 679 430 674 436 674 437 676 436 676 431 680 428 686ZM1154 675 1152 674 1154 675ZM172 686 170 686 170 675 175 678 176 680 173 684 173 686 172 686ZM1230 680 1225 680 1236 677 1236 679 1230 680ZM324 686 294 686 296 684 300 681 310 678 314 679 320 682 323 684 324 686ZM882 686 876 686 876 682 878 681 880 682 882 686Z"/>
<path fill="#f7ebdb" fill-rule="evenodd" d="M378 286 372 286 363 286 360 284 358 280 380 280 378 286ZM690 282 684 282 679 280 692 280 690 282ZM814 289 810 288 808 287 806 284 806 280 825 280 822 286 814 289ZM878 285 872 284 867 280 881 280 880 283 878 285ZM942 311 927 304 923 300 920 294 911 290 910 288 912 280 927 280 930 283 940 286 945 292 952 296 953 298 952 300 940 305 939 306 942 310 942 311ZM968 287 966 287 962 286 958 282 957 280 974 280 972 284 968 287ZM1106 315 1100 314 1096 313 1094 312 1092 306 1088 302 1087 298 1088 296 1091 292 1089 290 1084 289 1082 292 1079 294 1064 295 1058 294 1049 292 1047 290 1047 288 1056 284 1058 280 1125 280 1122 282 1112 283 1108 286 1107 292 1108 294 1110 295 1120 295 1126 296 1130 298 1132 302 1128 304 1116 306 1110 310 1109 314 1106 315ZM1158 283 1156 280 1161 280 1158 283ZM470 288 470 286 472 284 473 286 472 287 470 288ZM592 290 590 289 591 288 593 288 594 288 592 290ZM396 299 388 299 386 298 385 296 392 289 398 288 403 290 405 294 405 296 402 297 396 299ZM1236 313 1230 312 1226 310 1223 306 1222 302 1223 300 1226 297 1232 293 1236 292 1236 313ZM1006 334 1001 334 997 320 998 318 1006 314 1009 312 1009 308 1004 296 1004 294 1006 293 1030 297 1032 300 1030 308 1031 310 1034 312 1044 314 1048 316 1050 320 1050 322 1046 323 1035 322 1034 328 1031 330 1028 332 1006 334ZM766 302 760 301 757 298 760 296 762 296 767 300 766 302ZM280 310 272 310 268 309 267 308 269 304 274 301 280 300 284 300 286 302 286 306 284 308 280 310ZM174 311 170 311 170 301 176 302 180 306 179 308 174 311ZM514 318 510 318 506 316 504 314 504 312 506 310 510 309 516 310 519 312 519 314 518 316 514 318ZM898 435 890 435 880 428 868 426 863 424 859 420 858 414 857 410 840 399 836 399 820 402 817 400 814 394 812 392 786 392 780 391 778 390 777 388 777 384 778 382 782 381 792 382 808 387 810 386 811 384 807 374 810 366 809 364 802 359 798 353 796 351 792 349 779 348 776 346 777 344 784 340 797 336 798 334 795 330 795 328 800 325 808 324 824 326 822 328 806 338 804 346 806 350 812 353 822 354 825 358 825 364 826 366 842 376 862 381 876 382 882 384 883 386 875 390 874 394 878 396 886 398 892 397 896 394 897 392 897 384 899 380 900 376 904 372 905 370 904 368 902 367 890 365 885 364 884 362 883 358 884 356 887 354 892 352 900 351 914 355 918 355 926 354 932 350 936 349 950 351 972 352 974 350 975 346 974 342 956 331 954 330 946 330 926 336 914 336 909 334 909 332 911 330 922 325 928 321 932 321 938 323 942 322 945 318 942 311 962 314 982 320 982 322 981 328 982 333 990 334 1000 334 1003 340 1006 343 1008 345 1022 348 1027 356 1032 359 1040 359 1046 358 1054 354 1056 348 1060 345 1068 344 1074 344 1075 346 1071 352 1070 354 1082 358 1090 366 1091 368 1089 368 1078 374 1066 375 1050 379 1036 379 1028 377 1020 368 1002 365 998 365 994 366 982 374 974 377 956 377 938 381 924 380 921 384 921 386 922 389 928 390 944 389 950 389 955 392 956 396 956 398 954 401 950 402 928 398 922 398 918 400 912 406 910 410 910 412 917 416 921 426 922 428 916 431 898 435ZM252 364 238 362 234 360 229 356 227 352 229 346 225 340 226 338 230 336 250 336 266 339 272 338 279 334 285 326 296 317 298 315 308 317 314 322 318 324 342 327 344 330 344 332 334 340 338 340 352 339 354 340 356 342 354 347 350 351 348 351 346 348 344 348 334 348 316 354 308 357 307 356 306 354 306 350 308 346 308 345 298 342 290 342 284 344 274 349 258 353 257 354 255 362 252 364ZM832 321 832 320 832 318 835 316 838 315 841 316 838 318 832 321ZM852 351 844 351 830 347 828 346 829 344 831 342 837 338 856 330 857 328 857 318 860 317 863 318 866 322 870 328 870 332 866 338 862 346 858 349 852 351ZM1144 346 1140 346 1136 346 1137 344 1141 342 1154 339 1158 337 1169 326 1179 320 1186 319 1192 318 1196 320 1198 322 1199 328 1198 330 1188 329 1179 332 1174 334 1171 340 1168 342 1154 343 1144 346ZM486 355 480 355 472 354 468 352 468 350 476 342 485 336 486 334 483 328 485 326 488 324 496 323 502 325 506 328 510 335 514 337 534 336 540 337 542 339 540 350 538 353 528 353 524 352 516 347 498 346 494 347 490 352 486 355ZM546 332 542 332 538 328 541 326 546 326 547 328 546 332ZM188 335 186 334 183 332 185 330 194 328 200 327 202 328 197 332 188 335ZM384 344 378 344 372 343 370 340 371 336 374 334 378 333 382 333 387 334 389 336 390 340 389 342 384 344ZM664 370 660 370 642 358 634 346 625 342 624 338 625 336 628 336 630 336 636 342 646 347 654 354 664 360 666 364 666 368 664 370ZM394 368 388 368 382 366 379 362 379 360 382 356 386 353 400 347 404 346 405 350 405 352 401 356 402 360 402 362 399 366 394 368ZM746 354 743 352 742 352 742 350 747 352 746 354ZM686 356 680 356 670 356 667 354 674 352 684 351 688 352 688 354 686 356ZM856 367 854 367 850 364 846 360 846 358 848 358 852 358 858 360 859 364 856 367ZM1188 650 1186 650 1184 648 1179 642 1178 634 1181 628 1180 626 1174 625 1171 622 1171 620 1173 620 1184 616 1188 614 1188 612 1186 608 1180 605 1174 604 1162 609 1152 610 1147 608 1145 602 1142 601 1130 599 1122 600 1114 598 1107 596 1106 596 1106 594 1119 584 1118 582 1112 579 1076 576 1062 577 1054 575 1038 578 1006 575 996 572 988 564 962 563 958 562 950 557 944 556 934 557 916 565 908 566 896 565 882 562 862 563 836 560 818 562 800 558 796 559 788 564 785 570 782 571 778 572 774 570 768 567 758 566 757 566 756 564 758 562 760 560 774 558 779 556 782 552 781 550 779 550 768 549 758 551 742 557 726 567 720 569 706 568 702 567 672 550 664 546 656 545 639 550 628 554 627 556 627 558 633 566 633 570 632 573 628 574 622 573 616 570 608 562 608 560 608 558 616 554 618 552 612 540 611 534 610 533 594 539 578 542 573 546 569 550 570 554 586 560 588 562 587 564 584 567 566 574 562 574 556 573 550 566 544 563 524 563 502 559 492 560 476 559 468 560 463 562 463 564 468 570 464 571 460 570 457 568 458 566 461 562 458 558 450 554 436 549 437 546 442 540 441 536 438 532 424 526 410 523 398 518 395 518 393 520 392 524 393 526 396 530 406 535 409 538 410 543 422 545 431 550 431 552 428 556 420 558 402 556 394 552 391 546 380 545 366 538 360 537 355 538 352 542 352 546 356 552 357 560 355 562 345 568 344 570 345 572 348 576 347 578 336 579 324 576 319 574 310 564 306 562 296 564 280 571 274 572 268 572 262 569 257 566 256 560 258 552 260 550 262 549 273 552 280 553 284 552 284 550 279 546 266 541 261 534 248 526 246 527 233 534 226 540 210 543 202 543 192 538 186 537 170 539 170 521 178 518 202 507 208 508 224 511 227 510 227 502 230 497 236 495 246 494 248 492 242 484 236 481 228 480 216 483 206 481 202 482 201 486 205 494 203 498 198 500 194 502 186 502 170 499 170 465 178 458 184 455 208 452 222 452 246 446 252 442 265 438 274 430 280 428 302 429 314 424 318 423 342 428 345 430 346 432 346 434 344 436 338 437 324 434 317 436 312 439 309 446 300 454 288 458 279 464 274 466 270 465 266 465 246 474 243 476 245 478 252 482 254 483 268 479 280 474 289 474 291 476 291 478 282 490 278 498 280 499 290 500 296 502 308 511 316 512 322 511 336 506 342 506 350 507 352 507 361 500 362 498 362 494 376 492 385 488 388 484 381 476 377 466 379 464 384 462 388 462 392 464 396 469 398 470 412 465 434 462 439 460 441 450 443 446 448 444 455 442 468 440 476 440 478 442 479 444 476 452 492 450 496 451 502 453 508 460 522 462 528 460 536 450 536 446 534 440 534 438 540 437 549 438 557 450 552 462 552 470 555 472 564 473 564 470 565 468 571 464 582 460 590 458 596 459 608 462 622 462 628 466 634 466 636 464 637 460 640 459 652 457 660 454 670 448 684 438 694 437 698 439 706 443 709 428 713 426 734 424 743 428 762 435 770 436 776 435 778 434 779 432 778 426 779 422 784 420 795 418 796 416 796 410 799 408 808 406 816 405 836 413 837 414 837 416 832 419 816 423 804 422 803 426 801 428 790 434 790 436 792 438 818 449 826 454 844 455 862 460 888 459 890 459 892 460 891 462 887 466 876 470 861 472 850 474 838 473 832 474 830 476 831 478 832 481 837 486 836 489 832 490 810 493 805 494 804 496 806 500 815 510 822 517 824 518 829 512 832 510 848 510 870 506 876 507 882 511 886 511 898 504 914 500 919 496 922 492 928 491 936 490 950 493 962 493 968 491 976 487 980 486 986 487 998 491 1004 491 1016 488 1025 482 1023 476 1018 474 1002 473 998 470 1006 464 1012 457 1019 456 1022 450 1022 448 1018 446 1014 446 998 451 984 449 976 446 973 442 972 440 974 437 983 432 982 430 974 429 958 434 952 434 941 432 939 432 939 430 962 410 978 403 990 402 998 399 1004 394 1006 392 1012 392 1030 402 1036 402 1040 400 1046 396 1049 394 1056 382 1060 380 1064 380 1066 382 1072 391 1076 393 1082 393 1094 386 1096 384 1095 370 1104 367 1114 362 1118 362 1121 364 1124 366 1125 374 1126 375 1130 377 1134 377 1142 374 1149 370 1151 368 1150 362 1152 360 1154 360 1159 364 1160 372 1168 382 1166 384 1164 385 1140 386 1139 388 1143 394 1142 402 1144 408 1150 411 1158 414 1164 414 1172 410 1176 411 1185 416 1186 418 1184 419 1173 424 1169 434 1169 436 1172 436 1192 435 1198 436 1216 441 1226 447 1231 450 1233 454 1233 462 1231 468 1232 469 1236 469 1236 493 1234 492 1232 488 1220 484 1216 482 1216 480 1217 478 1223 470 1220 468 1206 466 1186 465 1172 467 1167 468 1165 470 1166 472 1178 475 1191 482 1187 484 1170 485 1166 488 1166 490 1174 507 1179 510 1182 511 1206 508 1208 509 1213 512 1216 518 1214 520 1210 523 1194 524 1190 526 1186 528 1182 534 1181 540 1182 542 1187 548 1187 550 1184 554 1174 557 1171 560 1168 564 1168 566 1174 570 1188 576 1192 582 1196 586 1202 587 1206 588 1208 586 1210 580 1222 574 1227 570 1227 566 1218 556 1218 554 1220 550 1226 545 1236 543 1236 591 1222 590 1219 590 1218 592 1220 596 1222 599 1236 601 1236 617 1228 619 1213 626 1211 628 1208 634 1198 641 1192 648 1188 650ZM600 374 598 374 594 373 591 370 591 368 594 366 598 367 602 370 602 372 600 374ZM360 380 355 378 353 374 354 370 356 367 363 368 366 372 362 378 360 380ZM736 372 732 372 731 370 732 368 735 368 740 368 741 370 736 372ZM538 381 534 380 530 376 527 372 528 370 532 368 538 369 542 370 545 372 546 374 546 377 542 379 538 381ZM1214 418 1208 418 1202 416 1201 414 1200 406 1197 398 1199 396 1202 394 1220 393 1224 390 1223 386 1220 384 1218 382 1202 383 1192 380 1189 378 1188 374 1189 372 1190 370 1194 369 1200 369 1220 376 1236 375 1236 403 1229 408 1218 412 1214 418ZM198 400 190 399 185 396 185 392 187 388 187 386 177 380 176 378 178 376 198 372 206 373 210 376 210 378 200 386 199 390 200 396 200 399 198 400ZM472 388 468 388 464 386 459 376 460 373 464 372 468 374 475 384 474 386 472 388ZM632 381 626 380 623 378 623 376 624 374 628 374 638 374 641 376 640 378 632 381ZM502 391 498 391 496 390 493 388 491 384 494 380 500 377 505 378 508 382 508 386 506 387 502 391ZM322 394 318 392 314 386 305 382 304 379 307 378 310 377 320 378 334 377 342 378 347 380 347 384 344 388 322 394ZM750 415 744 414 737 412 722 409 706 404 696 405 692 404 688 402 686 400 685 394 688 391 694 390 700 392 710 398 718 399 730 398 754 395 760 396 763 398 763 404 754 414 750 415ZM280 404 274 404 271 404 269 400 269 398 272 396 282 395 287 396 290 398 291 400 290 401 280 404ZM204 415 202 415 199 414 197 414 197 412 199 410 206 406 226 401 236 397 240 397 243 398 242 400 230 406 224 408 212 410 204 415ZM1116 556 1131 548 1135 546 1152 542 1156 540 1157 538 1156 537 1154 536 1144 535 1140 536 1130 540 1120 540 1119 540 1124 543 1124 546 1120 548 1114 548 1108 547 1105 546 1104 544 1107 540 1097 536 1100 534 1118 529 1132 515 1140 506 1150 498 1154 494 1154 491 1149 488 1151 480 1150 476 1143 472 1132 469 1128 466 1129 460 1128 452 1124 451 1112 453 1110 452 1108 449 1109 444 1112 441 1126 436 1138 435 1142 432 1143 430 1141 426 1124 404 1120 400 1116 398 1113 398 1111 400 1107 410 1112 413 1115 418 1116 420 1114 422 1098 428 1072 431 1068 430 1063 426 1061 422 1059 414 1056 410 1048 412 1044 414 1042 416 1045 424 1051 428 1050 428 1046 429 1038 426 1024 424 1018 422 1014 418 1009 412 998 407 990 405 986 407 982 412 983 416 984 417 988 418 1000 418 1005 420 1005 424 1003 432 1007 434 1036 441 1039 442 1041 446 1046 450 1046 454 1042 456 1034 457 1021 458 1022 460 1027 468 1035 474 1034 476 1026 480 1026 482 1032 483 1038 484 1056 482 1070 486 1078 485 1102 474 1108 473 1122 473 1127 476 1129 478 1128 490 1130 491 1135 492 1135 494 1133 496 1126 497 1098 497 1092 498 1089 500 1087 502 1086 508 1085 514 1083 518 1074 520 1060 520 1042 532 1052 537 1060 544 1067 550 1076 553 1082 555 1094 553 1110 556 1116 556ZM424 413 418 413 415 412 414 410 416 406 418 403 424 402 428 401 430 403 433 406 432 408 430 410 424 413ZM588 428 582 428 574 425 571 422 572 417 576 414 592 410 608 411 613 404 616 402 622 401 624 403 624 410 624 411 638 414 642 418 641 420 640 421 628 424 612 426 600 422 598 422 594 426 588 428ZM1236 425 1230 424 1227 422 1230 420 1236 419 1236 425ZM382 449 372 449 370 448 368 446 369 444 372 442 378 440 382 440 384 442 386 444 385 448 382 449ZM882 451 874 451 871 450 870 448 873 444 878 442 884 441 888 442 889 444 888 446 886 449 882 451ZM172 452 170 452 170 442 174 443 176 444 174 451 172 452ZM912 458 902 458 899 456 901 446 903 444 908 443 914 443 931 450 934 452 932 454 928 456 912 458ZM362 488 360 488 345 484 341 480 342 474 341 468 345 464 345 456 346 453 350 451 358 450 362 451 365 464 357 470 359 472 371 476 373 478 373 480 370 482 362 488ZM972 473 970 472 963 466 946 462 943 458 943 452 947 450 954 450 976 452 984 455 985 458 984 464 978 470 972 473ZM773 516 775 514 776 512 773 506 772 502 778 494 798 486 809 474 810 472 810 468 807 466 793 462 784 455 762 453 756 454 748 456 744 460 745 462 748 466 758 471 762 472 770 470 778 470 784 472 787 474 786 476 784 478 773 482 777 490 776 492 758 498 755 508 748 516 752 516 773 516ZM692 526 702 522 708 521 718 521 726 523 730 523 728 518 728 512 731 504 730 496 732 490 736 486 751 480 753 478 753 476 748 473 736 471 732 472 727 478 724 480 718 481 710 481 706 479 702 474 696 471 694 468 692 461 690 460 682 462 675 466 658 480 654 481 647 482 646 484 647 486 656 488 657 490 656 494 650 500 650 502 652 503 656 504 666 500 672 500 686 505 697 508 698 510 698 512 697 516 694 518 688 519 674 519 670 520 669 522 671 524 676 526 684 527 692 526ZM494 526 497 526 501 520 510 518 514 519 522 525 531 526 538 523 550 514 550 512 540 511 526 508 526 502 525 500 518 495 515 492 515 488 518 485 522 483 526 483 532 486 535 488 535 492 534 496 538 498 542 497 544 494 542 490 541 482 540 479 536 478 518 475 510 481 502 482 494 480 488 474 478 473 464 476 449 484 445 486 442 492 442 494 448 502 454 504 461 504 484 492 494 492 500 494 500 496 500 498 495 502 490 504 482 506 480 510 482 519 484 522 490 526 494 526ZM579 478 580 476 577 474 566 474 568 476 572 479 576 479 579 478ZM856 483 850 483 847 482 847 480 850 478 854 478 858 480 858 482 856 483ZM690 495 682 495 676 492 670 486 670 484 670 482 674 480 680 479 695 486 698 488 698 491 695 494 690 495ZM574 512 579 510 582 506 582 500 579 494 574 490 568 488 560 489 555 492 554 494 555 494 571 500 564 506 563 510 568 512 574 512ZM1029 514 1032 512 1033 512 1033 510 1030 509 1026 508 1022 510 1020 512 1022 514 1029 514ZM1236 522 1222 522 1220 521 1218 520 1219 518 1225 514 1236 512 1236 522ZM308 528 309 526 308 524 304 520 298 519 293 520 295 522 300 526 304 528 308 528ZM922 522 924 520 920 520 919 522 922 522ZM989 524 988 522 984 522 986 524 988 525 989 524ZM1035 560 1040 558 1040 556 1039 554 1030 552 1022 552 1019 550 1019 546 1020 542 1027 538 1026 536 1018 535 1002 535 990 532 988 533 985 536 984 540 985 542 998 556 1006 557 1018 557 1028 560 1035 560ZM224 585 218 585 214 583 204 574 190 568 182 560 170 562 170 553 175 554 182 559 206 549 216 548 222 549 224 552 222 564 219 570 219 574 222 576 234 573 236 574 239 576 236 578 224 585ZM317 558 323 556 322 554 316 554 314 555 312 556 313 558 317 558ZM380 561 379 560 380 558 380 556 382 556 383 560 380 561ZM816 569 808 569 805 568 805 566 810 563 814 563 818 566 818 568 816 569ZM632 586 628 584 627 582 632 580 637 582 636 584 632 586ZM736 604 730 604 718 602 710 603 708 602 708 600 710 594 714 589 718 587 722 585 734 585 744 581 750 581 756 583 761 592 760 593 750 596 740 602 736 604ZM438 605 418 603 413 602 412 600 412 598 414 596 425 592 424 588 427 588 442 586 446 584 452 583 458 583 461 584 459 590 458 598 446 602 438 605ZM894 615 888 615 886 614 885 608 879 602 884 594 892 589 902 586 906 586 921 592 927 600 928 602 927 604 918 612 894 615ZM176 628 170 628 170 587 176 589 180 592 180 602 175 608 176 608 186 612 189 620 189 622 186 624 176 628ZM1082 600 1078 600 1073 598 1069 596 1067 594 1069 592 1072 589 1080 587 1088 588 1095 592 1095 594 1094 596 1082 600ZM988 606 986 605 982 604 980 600 980 597 982 593 992 589 1036 592 1038 593 1040 594 1039 596 1036 598 988 606ZM534 606 526 604 522 602 524 600 538 598 548 594 554 594 558 596 556 598 544 600 539 604 534 606ZM836 596 834 596 831 596 834 594 836 596ZM520 686 495 686 502 682 504 680 503 676 502 673 490 677 484 678 474 677 461 674 465 672 484 666 489 664 490 662 478 656 477 654 479 652 490 648 491 646 492 640 496 636 492 633 488 632 478 635 474 635 474 634 479 628 482 620 481 616 478 610 478 608 480 605 486 602 492 601 496 601 502 602 505 606 501 614 492 622 492 626 494 628 502 629 508 629 512 628 520 623 526 622 532 623 535 626 535 632 532 635 524 636 508 634 504 635 500 636 504 642 505 646 504 649 497 654 494 660 503 666 506 671 522 672 528 674 528 676 528 678 520 686ZM364 618 360 618 356 617 345 610 345 608 356 605 362 605 368 607 370 610 371 612 369 616 364 618ZM260 619 254 618 253 618 253 616 256 614 268 609 276 609 279 612 278 614 272 618 260 619ZM690 624 688 624 684 622 683 620 684 618 694 611 698 610 702 611 702 614 701 616 690 624ZM422 636 420 636 416 635 410 630 404 628 386 625 383 624 383 622 385 620 396 615 400 614 404 614 412 619 426 622 428 624 424 634 422 636ZM616 631 610 631 609 630 612 624 620 622 654 615 658 615 660 618 659 624 658 626 656 627 630 626 616 631ZM1062 625 1048 625 1034 624 1031 622 1032 621 1048 616 1058 615 1063 616 1066 618 1064 623 1062 625ZM796 626 791 626 790 620 790 618 794 617 800 617 804 618 806 620 806 622 804 623 796 626ZM1092 653 1086 652 1085 646 1084 644 1069 638 1066 634 1066 630 1070 628 1080 629 1092 633 1096 633 1102 631 1111 624 1116 622 1122 622 1126 623 1127 626 1124 630 1110 635 1102 639 1100 642 1100 648 1099 650 1092 653ZM324 648 320 648 317 648 306 640 304 634 304 626 306 624 310 623 318 625 321 628 324 632 333 638 333 640 324 648ZM878 647 870 647 859 642 856 638 859 632 861 630 867 628 880 625 886 626 893 630 894 630 893 632 886 637 882 644 878 647ZM944 631 936 631 933 630 933 628 934 626 938 625 947 626 948 628 944 631ZM884 632 886 630 884 628 880 627 874 627 872 628 870 630 872 631 876 632 884 632ZM768 634 760 633 754 632 753 630 758 629 768 630 770 632 768 634ZM380 654 370 654 364 653 359 652 358 648 360 646 368 642 373 636 378 633 386 631 394 634 396 636 396 638 389 646 387 652 386 653 380 654ZM580 642 576 642 570 640 563 638 562 636 562 634 566 633 572 634 580 638 581 640 580 642ZM974 636 965 634 968 633 972 633 974 634 974 636ZM258 643 256 642 262 636 266 635 268 636 268 638 265 640 258 643ZM1008 653 1001 650 999 648 1000 646 1004 645 1010 646 1012 648 1012 650 1008 653ZM206 669 194 666 182 667 170 666 170 650 174 651 178 656 180 656 190 650 193 646 195 646 196 648 194 650 194 652 208 664 208 668 206 669ZM896 651 894 651 891 648 892 648 896 647 900 647 900 649 896 651ZM858 670 846 669 840 666 839 664 839 660 835 654 836 651 838 650 842 650 852 653 864 655 866 656 868 660 868 664 864 668 858 670ZM744 686 721 686 721 680 720 678 708 670 708 668 713 664 707 656 706 654 707 652 710 651 714 650 720 652 722 654 722 657 715 664 720 668 734 674 742 681 744 686ZM936 670 932 669 920 664 916 660 915 656 919 654 926 653 932 652 936 653 938 656 939 662 938 666 936 670ZM1236 658 1234 656 1236 654 1236 658ZM248 666 242 664 241 662 242 660 246 659 250 660 252 664 248 666ZM678 677 674 677 668 670 666 668 668 665 674 662 684 661 692 663 697 668 697 670 696 670 678 677ZM896 670 892 670 886 670 883 668 882 666 887 662 890 661 894 661 896 662 898 666 898 668 896 670ZM348 674 344 674 340 670 340 666 344 663 350 663 354 665 353 670 348 674ZM1054 686 1045 686 1043 678 1052 676 1060 668 1066 666 1072 665 1076 666 1078 668 1081 670 1082 676 1080 678 1072 679 1058 681 1055 682 1054 686ZM994 673 986 672 983 670 982 668 984 667 990 668 994 670 995 672 994 673ZM1032 675 1028 674 1024 672 1022 670 1022 668 1026 667 1029 668 1033 672 1033 674 1032 675ZM776 682 774 682 769 676 768 674 768 671 774 668 778 668 782 669 786 672 789 680 786 681 776 682ZM382 678 380 677 380 674 384 673 386 673 387 676 382 678ZM244 686 187 686 188 682 198 680 206 675 210 674 240 680 244 682 245 686 244 686ZM426 686 411 686 412 682 416 680 430 677 431 678 428 682 427 686 426 686ZM322 686 296 686 297 684 302 681 310 679 318 682 322 684 322 686ZM586 686 577 686 580 682 584 679 586 680 586 686ZM1102 686 1087 686 1088 682 1090 680 1092 680 1098 681 1101 684 1102 686ZM378 686 368 686 370 684 374 682 376 683 378 686ZM774 686 769 686 772 682 774 683 774 686Z"/>
<path fill="#fbe8cc" fill-rule="evenodd" d="M372 286 364 284 361 280 378 280 376 284 372 286ZM688 282 684 282 681 280 690 280 688 282ZM816 287 812 287 810 286 808 284 807 280 822 280 820 284 816 287ZM876 281 873 280 876 281ZM934 306 931 306 926 302 923 294 914 288 915 280 924 280 924 282 926 284 936 287 949 298 948 300 938 303 934 306ZM968 283 966 282 964 280 970 280 968 283ZM1104 312 1098 310 1093 302 1092 298 1097 292 1092 288 1086 286 1082 286 1079 288 1076 292 1064 294 1056 292 1051 290 1051 288 1059 284 1061 280 1107 280 1102 292 1108 300 1109 306 1108 308 1104 312ZM592 289 591 288 592 289ZM400 295 394 295 393 294 392 294 394 291 398 290 401 292 400 295ZM1236 312 1232 311 1228 309 1225 306 1224 302 1225 300 1228 298 1236 294 1236 312ZM1024 333 1004 333 1001 332 998 320 1000 318 1009 314 1012 312 1009 298 1010 296 1024 298 1028 300 1028 302 1026 308 1026 316 1032 322 1034 326 1032 328 1030 330 1024 333ZM1126 302 1118 302 1116 301 1116 300 1118 297 1124 297 1127 300 1126 302ZM280 309 272 309 270 308 269 306 271 304 274 302 278 301 282 302 284 304 284 306 282 308 280 309ZM172 310 170 310 170 302 174 303 177 306 176 308 172 310ZM516 317 508 317 505 316 504 314 505 312 508 310 514 310 517 312 519 314 518 316 516 317ZM976 337 970 337 956 329 952 328 946 329 932 334 926 335 916 334 914 333 913 332 915 330 922 326 928 321 932 321 938 323 942 323 945 320 946 314 948 313 962 315 980 321 980 332 978 335 976 337ZM1044 320 1040 320 1037 316 1038 315 1042 316 1046 318 1044 320ZM864 326 859 324 858 319 862 319 864 322 865 324 864 326ZM250 362 246 362 240 361 235 360 231 356 230 352 232 346 230 340 234 338 250 337 256 337 268 340 274 339 282 334 286 328 288 325 298 319 304 320 310 324 314 326 336 327 340 328 342 332 332 338 331 340 332 342 338 342 352 340 355 342 354 345 350 346 344 347 334 346 323 350 308 355 307 354 307 352 310 346 309 344 300 341 290 341 282 343 272 348 254 352 252 354 253 360 250 362ZM1168 334 1168 332 1170 328 1179 322 1188 320 1190 321 1192 322 1189 326 1168 334ZM484 354 474 352 471 350 471 348 478 343 488 338 489 334 487 328 490 325 498 325 504 327 506 330 508 336 510 339 516 339 526 337 532 337 536 339 539 342 538 348 534 351 526 351 516 347 494 344 491 346 488 352 484 354ZM806 331 802 331 800 330 801 328 806 327 808 328 806 331ZM854 349 842 349 832 346 830 344 833 340 842 335 850 333 864 330 861 344 858 347 854 349ZM894 434 890 433 882 427 868 425 863 424 861 420 859 414 857 410 840 397 836 397 826 400 822 400 820 399 817 392 814 388 812 382 808 374 808 372 812 366 812 364 803 358 800 352 798 350 782 347 780 346 780 344 784 342 788 340 794 340 799 340 801 342 801 348 802 349 810 353 821 356 823 358 822 364 823 366 840 377 846 379 862 383 874 383 878 384 878 386 871 390 872 394 876 396 884 398 892 398 897 394 898 392 898 386 900 380 901 374 905 370 902 367 890 365 886 362 884 358 885 356 887 354 892 353 900 352 916 356 927 354 936 352 941 354 936 356 937 358 938 360 941 356 942 354 945 354 956 352 974 353 976 352 977 344 978 338 980 336 984 334 1000 334 1004 342 1006 344 1022 347 1028 357 1034 359 1040 359 1048 358 1057 354 1060 347 1064 346 1068 346 1070 348 1067 352 1067 354 1080 358 1085 362 1088 366 1087 368 1086 370 1080 373 1066 374 1050 378 1030 378 1028 376 1020 368 1000 364 994 365 982 374 974 377 956 377 938 381 932 381 924 379 922 382 920 384 920 388 922 390 928 391 942 390 948 390 953 392 954 394 954 397 952 399 948 400 928 396 920 398 910 408 907 412 915 418 918 424 918 428 916 429 912 430 894 434ZM382 342 376 341 373 340 373 338 378 335 384 336 386 338 386 340 382 342ZM632 342 626 342 625 340 625 338 628 336 630 337 632 342ZM664 369 660 369 643 358 640 354 636 344 645 348 652 354 664 361 666 366 664 369ZM390 368 386 367 382 365 381 362 381 360 382 357 386 355 392 354 396 354 400 358 401 360 401 362 398 366 390 368ZM1158 473 1152 473 1132 468 1130 466 1129 464 1129 452 1124 451 1114 452 1111 452 1109 450 1108 445 1112 442 1126 437 1138 435 1142 432 1143 430 1141 426 1131 412 1122 402 1118 399 1114 398 1112 399 1108 406 1105 410 1114 415 1115 418 1114 421 1098 428 1080 430 1072 429 1066 424 1063 420 1060 412 1056 410 1048 411 1041 414 1041 416 1042 422 1040 424 1038 425 1032 424 1024 423 1019 420 1013 412 999 406 996 404 996 402 1004 394 1010 392 1016 395 1032 402 1038 402 1048 396 1057 382 1060 381 1064 381 1066 383 1071 392 1076 394 1082 393 1097 384 1097 376 1098 372 1114 364 1118 364 1121 366 1123 368 1123 374 1124 376 1128 378 1132 379 1136 379 1152 372 1156 372 1158 374 1162 378 1163 380 1162 382 1152 384 1138 384 1136 384 1136 386 1141 396 1143 406 1147 410 1154 414 1160 415 1164 415 1172 412 1174 412 1180 414 1182 416 1182 418 1172 423 1167 436 1170 437 1180 438 1194 437 1204 439 1228 449 1232 452 1233 458 1232 464 1228 467 1204 465 1182 464 1168 466 1161 470 1158 473ZM540 379 536 378 532 376 530 374 530 371 533 370 537 370 544 372 544 376 542 378 540 379ZM1210 381 1202 381 1196 380 1192 377 1191 374 1192 372 1196 371 1206 372 1213 376 1216 378 1210 381ZM196 398 192 398 187 396 187 392 189 388 189 386 179 380 179 378 180 376 198 373 203 374 207 376 206 378 197 388 198 396 196 398ZM632 380 628 379 626 378 625 376 626 375 630 374 636 375 639 376 637 378 632 380ZM468 384 466 384 464 382 462 378 462 376 464 376 467 378 469 382 468 384ZM1210 415 1206 414 1204 412 1201 400 1201 398 1206 396 1220 395 1224 394 1226 392 1227 388 1223 380 1227 378 1236 376 1236 399 1231 400 1229 406 1226 408 1210 415ZM328 390 324 390 322 389 319 386 320 382 325 380 332 378 340 379 343 382 344 384 342 387 328 390ZM500 388 496 387 495 384 497 380 500 379 504 380 504 384 503 386 500 388ZM800 391 784 390 780 389 779 386 780 384 782 383 790 383 799 386 804 388 804 390 800 391ZM700 403 694 403 690 401 687 398 687 394 690 392 694 392 702 396 705 398 706 400 700 403ZM284 401 278 401 275 400 278 397 286 398 286 400 284 401ZM734 409 728 409 719 408 713 404 710 402 711 402 732 400 740 400 740 402 738 406 734 409ZM226 406 222 406 220 406 225 404 229 404 226 406ZM426 411 419 410 417 408 418 406 422 403 428 404 430 406 430 408 426 411ZM618 409 615 408 614 406 616 404 620 404 621 406 618 409ZM1038 457 1028 457 1023 456 1022 452 1025 448 1020 445 1014 445 996 450 986 449 978 446 974 442 974 440 975 438 978 436 989 432 989 430 982 427 974 427 954 433 946 432 944 430 943 430 948 424 960 414 972 408 980 406 981 408 980 416 983 420 986 420 998 420 1002 422 1003 424 1003 426 998 430 998 432 1034 442 1045 450 1046 452 1044 454 1038 457ZM816 421 808 420 802 418 799 416 798 412 800 410 804 408 814 407 830 412 834 416 832 418 816 421ZM584 427 580 426 574 424 572 420 573 418 578 414 594 411 600 412 610 415 622 414 630 414 636 415 640 418 637 420 628 424 614 425 604 421 600 420 596 421 592 424 584 427ZM790 432 786 432 782 430 780 426 781 424 784 421 790 420 794 420 798 421 799 424 798 428 794 430 790 432ZM1236 423 1234 422 1236 421 1236 423ZM192 501 184 501 170 498 170 466 176 460 182 456 188 455 206 453 222 452 248 447 266 440 277 430 282 428 304 430 308 429 314 425 320 424 338 428 342 432 341 434 338 435 322 432 312 435 308 438 307 446 303 450 298 454 287 458 280 462 266 464 256 469 243 474 236 477 228 478 216 481 206 480 202 481 201 482 200 486 202 492 202 496 198 499 192 501ZM1190 649 1186 649 1184 648 1180 644 1179 638 1178 634 1183 626 1184 623 1176 623 1175 622 1178 620 1184 619 1188 616 1190 612 1187 608 1180 604 1176 603 1162 608 1152 608 1150 607 1146 601 1142 597 1124 600 1110 596 1109 594 1111 592 1121 584 1122 582 1120 580 1108 578 1074 576 1054 575 1038 577 1007 574 997 572 988 564 962 563 958 561 950 556 944 555 934 556 916 564 906 565 898 565 882 561 864 563 854 562 836 559 818 561 802 556 798 556 784 562 785 566 784 568 782 570 778 571 774 570 770 566 762 566 759 564 762 561 780 559 784 556 785 554 785 550 782 549 768 548 758 550 740 557 726 567 718 568 706 567 702 566 692 562 675 550 664 546 656 545 640 548 625 554 624 556 625 558 632 568 630 572 626 573 619 570 611 562 611 560 612 558 619 554 620 552 613 540 612 532 612 531 610 531 596 537 580 541 572 544 568 550 567 552 567 554 582 560 585 562 585 564 582 566 578 568 566 572 562 572 557 570 550 563 544 561 524 562 502 559 492 560 476 559 462 560 440 548 440 546 443 538 441 534 438 531 424 525 410 522 398 516 392 518 389 522 389 524 393 530 405 536 406 538 405 540 400 543 382 543 376 542 364 536 360 536 356 538 352 540 350 544 351 546 355 552 355 560 343 568 342 570 343 576 336 578 330 577 322 574 319 572 314 564 313 562 314 560 326 556 321 554 310 554 304 559 292 563 285 568 280 571 270 571 262 568 259 566 258 562 258 557 260 553 264 552 276 554 282 554 286 553 286 550 282 546 268 540 263 534 248 525 246 525 221 538 212 542 206 542 202 542 186 536 170 538 170 522 176 521 202 508 212 509 224 514 226 513 229 510 228 502 229 500 232 498 238 496 254 497 261 496 248 488 245 484 246 482 248 482 256 483 268 480 277 476 284 474 288 474 289 476 289 478 276 492 269 496 270 498 273 500 278 502 288 502 294 503 300 506 306 513 308 514 320 513 336 507 340 508 347 510 352 509 364 503 369 496 382 492 396 482 394 480 386 477 380 468 381 464 386 463 389 464 391 468 393 472 396 474 400 473 406 468 412 466 436 462 440 460 442 450 444 446 449 444 456 442 468 440 475 440 478 442 478 444 474 452 474 454 496 451 502 454 508 461 530 464 531 462 532 456 539 448 539 440 542 439 546 440 548 442 554 452 546 468 546 472 548 474 562 476 572 481 576 482 582 480 584 476 578 474 568 471 566 470 570 466 580 461 586 459 594 459 606 465 618 465 626 471 632 471 638 469 645 460 662 454 680 441 686 439 692 438 696 439 701 442 706 447 708 447 709 444 710 436 714 430 720 428 732 426 753 434 760 440 768 441 774 443 778 446 779 448 778 450 776 452 756 453 738 458 737 458 738 460 744 468 734 468 732 470 726 478 720 480 714 480 708 478 704 474 696 470 695 466 693 460 692 459 682 461 675 464 668 470 662 476 656 479 654 480 646 480 645 482 646 486 652 489 655 490 654 492 649 498 648 502 648 504 652 506 656 506 664 502 672 501 692 508 695 510 696 514 694 518 688 519 676 518 670 519 668 520 667 522 669 524 678 527 690 528 694 527 704 522 712 521 718 522 726 526 732 525 735 524 736 520 732 516 730 512 734 502 735 488 739 486 759 478 765 472 772 471 782 472 785 474 786 476 782 478 771 480 775 488 775 490 772 493 755 498 754 504 753 508 743 516 744 518 746 518 770 517 774 516 778 514 780 512 776 507 774 504 775 500 777 498 784 493 798 489 812 474 812 468 810 465 796 461 792 459 790 456 790 454 795 446 796 444 800 444 817 450 822 455 824 456 842 456 860 460 882 461 886 461 887 462 886 464 883 466 874 470 862 470 850 473 838 472 831 472 829 474 828 476 830 486 829 488 802 493 802 496 804 500 813 510 824 520 826 520 829 512 832 511 848 511 868 507 874 508 882 512 886 511 898 504 916 500 919 498 924 493 930 492 936 491 950 494 962 494 968 492 978 488 982 488 988 489 998 492 1004 492 1011 490 1026 485 1042 484 1054 482 1058 483 1066 487 1068 488 1078 485 1106 474 1114 473 1124 474 1127 476 1128 478 1127 490 1127 494 1114 496 1096 496 1090 497 1086 502 1082 512 1079 514 1072 518 1060 519 1053 524 1040 532 1052 538 1066 550 1074 554 1082 555 1094 554 1114 557 1120 556 1137 546 1152 543 1157 540 1158 538 1156 536 1148 534 1140 535 1128 540 1120 538 1108 538 1104 536 1110 533 1118 530 1123 524 1134 515 1140 506 1153 496 1157 490 1154 486 1154 484 1158 479 1165 476 1172 476 1181 480 1183 480 1182 482 1176 482 1164 481 1161 488 1168 495 1174 508 1177 512 1180 512 1208 509 1212 512 1214 518 1214 520 1210 522 1194 524 1188 526 1186 528 1182 534 1180 538 1181 542 1184 548 1183 552 1180 554 1171 560 1166 566 1172 570 1186 576 1192 584 1196 586 1202 589 1212 590 1220 600 1236 604 1236 608 1232 614 1212 626 1207 634 1196 642 1190 649ZM1158 438 1156 436 1155 436 1156 438 1158 438ZM380 448 374 447 373 446 374 444 378 442 382 442 383 444 383 446 380 448ZM172 451 170 451 170 443 174 444 172 451ZM882 449 876 449 873 448 874 446 878 444 884 443 885 446 882 449ZM914 457 906 456 904 455 904 448 905 446 910 444 916 445 926 448 930 452 929 454 926 455 914 457ZM974 470 970 470 964 465 952 463 948 462 945 458 945 454 948 452 956 451 974 454 980 456 982 458 982 462 979 466 974 470ZM356 466 352 466 348 464 347 458 347 456 349 454 356 452 360 453 361 454 362 460 362 462 360 464 356 466ZM1028 473 1006 472 1002 470 1001 468 1012 459 1016 458 1020 462 1027 470 1028 473ZM1236 484 1222 482 1219 480 1219 478 1222 474 1226 471 1236 471 1236 484ZM496 528 498 526 502 522 508 520 512 519 521 526 528 526 536 524 550 516 556 512 556 510 536 509 532 508 532 506 534 502 546 500 552 496 558 496 565 500 567 502 562 510 566 512 570 513 576 512 581 510 585 502 585 498 580 492 574 487 564 487 548 490 546 490 545 488 542 478 540 477 518 474 516 474 512 480 504 481 495 480 488 473 480 472 472 474 462 476 446 483 437 492 438 494 448 503 456 505 462 504 484 494 490 493 496 494 497 496 494 502 490 504 480 506 478 510 481 520 484 522 490 527 496 528ZM362 485 356 485 348 482 345 480 345 478 345 476 348 474 352 473 360 474 364 476 368 478 369 480 367 482 362 485ZM690 493 684 493 680 492 675 488 673 486 674 483 676 482 680 481 692 486 694 488 695 490 694 492 690 493ZM528 497 522 496 516 493 515 490 517 486 520 484 526 484 530 485 533 488 534 490 533 492 530 495 528 497ZM1026 514 1034 512 1035 510 1032 508 1026 507 1022 508 1018 512 1018 514 1020 514 1026 514ZM310 528 312 526 311 524 304 516 292 515 282 513 281 514 281 516 284 519 292 523 300 528 306 529 310 528ZM1236 521 1225 520 1223 520 1223 518 1228 514 1236 513 1236 521ZM1037 560 1041 558 1041 556 1039 554 1036 553 1024 551 1021 548 1021 544 1023 542 1027 538 1027 536 1020 535 1000 534 994 530 992 524 990 520 982 516 978 520 979 522 987 530 983 538 984 542 992 550 996 556 1002 558 1018 558 1028 560 1037 560ZM923 524 937 520 932 518 920 518 912 519 910 520 911 522 914 524 923 524ZM1118 548 1108 547 1106 546 1105 544 1110 541 1118 541 1122 542 1123 544 1122 546 1118 548ZM1236 590 1216 587 1214 586 1213 584 1214 580 1224 575 1230 570 1229 566 1220 558 1219 554 1220 552 1226 546 1236 544 1236 590ZM422 556 416 556 405 554 400 552 399 550 402 548 406 547 420 547 424 548 426 552 426 554 422 556ZM214 576 212 576 193 568 188 562 188 560 193 556 204 551 212 550 220 551 221 554 220 562 215 570 214 576ZM170 561 170 555 174 556 176 558 175 560 170 561ZM814 569 808 568 805 566 806 566 810 564 816 564 817 566 814 569ZM462 569 461 568 460 568 462 567 463 568 462 569ZM232 578 231 578 232 576 234 576 232 578ZM736 602 712 602 710 601 709 600 710 596 714 591 720 588 734 587 748 582 752 583 756 586 758 590 758 591 748 594 736 602ZM438 604 420 603 415 600 414 598 418 596 426 593 438 594 443 594 443 592 439 588 440 588 447 584 454 584 460 585 455 596 446 602 438 604ZM896 614 890 614 888 613 887 608 883 602 885 598 886 594 893 590 904 586 912 588 921 594 927 602 926 604 922 608 918 612 896 614ZM172 606 170 606 170 588 176 590 178 592 179 594 178 602 172 606ZM1082 599 1078 599 1073 598 1071 596 1070 594 1074 590 1080 588 1086 588 1092 592 1092 594 1091 596 1082 599ZM994 605 986 605 984 604 980 600 980 598 980 596 984 593 996 589 1036 592 1039 594 1038 596 1036 598 994 605ZM534 603 529 602 534 602 535 602 534 603ZM488 620 484 618 480 612 479 608 480 606 486 603 492 602 498 602 502 604 502 608 499 614 494 617 488 620ZM366 615 362 615 358 615 352 610 352 608 356 607 364 608 367 612 366 615ZM172 627 170 627 170 610 184 613 188 620 187 622 182 625 172 627ZM264 618 258 618 257 616 270 612 274 612 274 614 271 616 264 618ZM692 620 688 620 687 618 689 616 693 614 696 612 698 613 698 616 692 620ZM420 631 416 631 407 628 390 624 387 622 389 620 394 616 400 615 402 615 412 619 426 624 426 626 420 631ZM1058 622 1050 622 1046 621 1046 620 1052 617 1058 616 1061 618 1058 622ZM622 628 618 628 615 626 617 624 622 623 648 617 654 617 658 620 657 624 652 626 630 626 622 628ZM798 624 794 623 793 622 793 620 798 619 801 620 800 622 798 624ZM528 634 520 634 516 632 514 630 522 624 524 623 528 623 532 626 533 628 532 632 528 634ZM1108 634 1104 634 1109 628 1114 625 1120 623 1123 624 1123 628 1121 630 1108 634ZM944 631 936 630 934 630 933 628 936 626 940 625 946 626 948 628 947 630 944 631ZM322 647 316 644 310 638 309 628 310 627 314 628 320 634 329 638 330 640 327 644 322 647ZM766 633 760 633 755 630 758 630 765 630 767 632 766 633ZM874 646 866 644 860 640 859 638 859 636 862 632 868 630 874 632 887 632 880 644 874 646ZM1092 650 1090 648 1087 642 1076 640 1072 638 1069 634 1070 632 1074 631 1080 630 1084 631 1089 634 1091 636 1092 640 1096 646 1096 648 1092 650ZM378 652 366 652 363 650 363 648 372 644 375 638 380 634 386 633 392 636 394 638 392 642 382 650 378 652ZM576 641 572 640 567 638 570 636 574 637 577 640 576 641ZM498 650 496 650 495 650 495 646 496 643 498 642 501 644 502 646 501 648 498 650ZM492 657 488 657 484 657 482 656 481 654 482 652 493 650 494 650 494 654 492 657ZM716 660 712 660 710 658 709 654 710 652 716 651 719 654 720 656 719 658 716 660ZM204 667 170 665 170 652 174 652 180 657 182 656 188 653 194 654 204 662 205 664 204 667ZM858 669 850 668 843 666 842 664 842 658 840 654 840 652 844 652 860 656 865 658 866 660 866 664 862 667 858 669ZM930 665 926 664 921 662 919 658 919 656 928 654 934 654 936 656 935 660 934 663 930 665ZM248 664 246 664 245 662 248 662 249 664 248 664ZM678 675 674 674 670 670 669 668 670 666 676 664 684 662 689 664 693 666 693 668 691 670 678 675ZM348 671 346 671 343 670 342 668 342 666 346 664 350 665 351 668 350 670 348 671ZM484 677 474 676 470 674 476 670 490 665 494 665 498 666 498 668 496 672 490 675 484 677ZM892 667 888 667 888 666 892 665 892 666 892 667ZM1070 679 1059 678 1057 678 1057 676 1059 672 1062 669 1066 667 1072 667 1076 670 1078 674 1076 676 1070 679ZM780 678 776 677 772 676 771 674 771 672 776 669 781 670 783 672 784 676 782 677 780 678ZM742 686 722 686 723 680 722 678 714 670 718 670 732 674 740 680 742 684 742 686ZM514 683 512 683 510 682 509 678 510 676 512 674 518 674 522 674 525 676 524 678 522 679 514 683ZM242 686 193 686 195 682 206 677 212 677 240 680 243 682 243 686 242 686ZM320 686 298 686 302 682 310 680 316 682 319 684 320 686ZM424 686 413 686 414 684 416 682 422 680 424 682 424 686ZM1098 686 1091 686 1092 684 1094 683 1098 684 1098 686Z"/>
<path fill="#f3e3d9" fill-rule="evenodd" d="M1096 282 1089 280 1097 280 1096 282ZM1064 291 1060 290 1062 288 1066 288 1066 290 1064 291ZM936 298 933 296 932 292 934 292 937 294 938 296 936 298ZM1236 309 1231 308 1229 304 1230 301 1236 299 1236 309ZM516 316 512 316 508 316 507 314 506 312 510 311 514 311 517 314 516 316ZM1020 333 1002 332 1000 329 999 322 999 320 1006 317 1016 316 1020 317 1028 320 1031 324 1032 328 1028 331 1020 333ZM972 333 968 332 956 326 950 324 946 325 932 331 926 331 925 330 930 323 934 323 942 325 944 323 948 318 958 317 974 321 978 323 978 326 977 330 975 332 972 333ZM318 349 315 348 314 348 317 344 316 344 310 342 300 337 292 334 291 330 292 327 294 325 298 324 300 325 304 329 306 330 328 330 334 331 334 332 322 342 325 344 324 346 318 349ZM500 333 496 332 494 331 495 330 499 330 500 332 500 333ZM880 424 870 424 864 422 859 410 844 398 843 396 843 392 844 390 846 387 852 385 856 385 862 387 872 397 874 397 888 399 892 399 896 397 899 394 900 386 906 368 904 366 892 364 889 362 888 360 888 358 892 355 900 354 914 357 928 357 938 362 948 356 954 354 976 355 978 354 979 342 982 338 986 335 995 334 1000 336 1006 344 1021 348 1023 350 1026 356 1028 359 1034 360 1040 360 1058 356 1064 355 1080 358 1084 361 1085 364 1085 368 1080 372 1066 373 1050 377 1030 377 1026 375 1020 367 1008 366 1000 363 994 364 984 372 974 376 956 376 936 380 924 377 918 384 918 386 920 392 919 394 910 406 900 413 887 418 880 424ZM852 346 844 346 833 344 835 340 842 337 848 335 854 335 858 337 858 340 856 344 852 346ZM242 358 238 357 236 354 238 350 238 344 240 341 245 340 252 339 259 340 265 344 266 344 265 346 245 352 242 358ZM528 347 522 346 521 344 526 341 530 341 532 342 532 344 528 347ZM480 350 479 348 480 347 482 348 480 350ZM816 361 808 359 806 358 806 356 807 354 810 354 816 356 818 360 816 361ZM392 367 386 366 383 364 383 360 384 358 388 356 392 356 396 357 399 358 400 362 399 364 396 366 392 367ZM662 366 654 362 652 358 654 358 659 360 663 364 662 366ZM828 395 826 395 818 387 811 376 810 372 814 369 818 367 824 369 832 373 843 382 844 384 842 388 828 395ZM1150 470 1134 468 1130 466 1129 464 1129 456 1130 454 1134 452 1145 450 1148 448 1142 448 1114 452 1112 451 1110 449 1109 446 1112 442 1126 437 1136 436 1144 432 1142 426 1133 414 1123 402 1118 399 1114 398 1112 398 1108 405 1102 410 1102 412 1112 416 1114 418 1113 420 1099 426 1084 428 1076 427 1068 423 1065 420 1063 412 1056 408 1048 410 1040 413 1038 416 1037 420 1036 422 1032 422 1026 422 1022 418 1020 414 1003 406 1001 402 1002 398 1006 395 1010 394 1030 403 1036 403 1042 401 1048 396 1058 383 1062 382 1064 382 1066 384 1068 391 1070 392 1076 395 1082 394 1085 394 1090 389 1101 384 1101 376 1103 374 1114 369 1116 368 1118 370 1118 374 1120 376 1130 383 1137 392 1139 396 1142 406 1144 410 1148 413 1156 416 1172 418 1169 428 1166 434 1162 435 1156 434 1152 434 1152 436 1156 443 1166 440 1196 439 1202 441 1206 444 1207 446 1203 450 1204 452 1206 452 1216 449 1224 449 1229 452 1231 456 1230 462 1228 464 1226 465 1202 462 1182 462 1172 463 1150 470ZM538 375 536 374 539 374 538 375ZM194 383 192 383 187 382 185 380 184 378 189 376 194 375 200 376 201 378 200 380 194 383ZM1202 377 1200 377 1199 376 1202 376 1203 376 1202 377ZM1150 381 1146 380 1146 378 1150 376 1152 376 1155 378 1154 380 1150 381ZM334 385 331 384 334 383 335 384 334 385ZM790 389 786 388 785 386 788 385 793 386 794 388 790 389ZM946 396 940 396 937 394 938 394 940 393 944 393 947 394 946 396ZM1216 408 1212 408 1210 406 1209 404 1210 400 1216 399 1220 400 1223 402 1224 404 1222 406 1216 408ZM728 405 726 405 722 404 724 404 726 403 728 404 728 405ZM816 418 807 416 804 414 804 412 806 410 812 410 819 412 823 414 820 416 816 418ZM588 423 580 423 576 422 576 420 578 416 582 415 592 413 597 414 596 416 592 421 588 423ZM628 421 622 421 621 420 628 417 631 418 632 418 628 421ZM960 428 954 428 952 426 955 422 962 419 970 417 972 418 973 420 971 422 960 428ZM908 427 901 426 900 424 901 422 906 419 910 420 911 422 912 424 908 427ZM792 428 786 428 785 426 784 424 788 423 792 423 794 426 792 428ZM192 499 182 499 170 495 171 468 174 463 182 458 188 456 208 454 222 454 236 450 251 448 268 442 278 434 284 431 298 432 302 434 303 436 305 442 304 446 302 450 298 453 278 459 266 462 254 468 240 472 216 477 206 476 202 478 199 480 198 482 198 494 196 497 192 499ZM720 479 716 479 712 478 704 473 698 470 696 466 695 458 694 457 684 459 676 463 668 468 660 476 654 479 650 479 646 477 643 474 642 470 645 466 650 461 666 453 680 444 686 441 692 439 698 441 700 444 702 446 702 454 706 456 720 452 719 446 720 444 729 438 732 432 738 432 748 434 749 438 746 444 750 450 744 452 725 454 726 456 730 460 730 464 726 474 724 477 720 479ZM1002 448 994 448 984 447 978 444 977 442 977 440 979 438 982 436 994 434 1010 436 1016 438 1019 440 1017 442 1002 448ZM1126 578 1118 578 1062 573 1040 577 1008 574 1000 572 995 570 992 568 990 562 976 563 964 563 958 561 948 555 942 553 932 554 916 562 904 564 884 559 860 561 834 558 818 558 811 556 803 552 792 550 784 547 780 547 764 548 754 550 740 556 728 564 722 567 706 567 702 565 695 562 680 552 660 544 652 544 628 551 622 551 618 547 615 542 614 538 615 530 612 529 608 530 596 535 576 539 572 543 560 554 554 557 526 561 502 557 490 559 466 558 462 557 446 548 444 546 445 540 444 538 442 533 438 530 426 523 410 520 398 514 394 514 391 516 379 524 377 528 378 529 384 530 390 531 398 536 399 538 394 539 380 540 376 539 368 534 364 534 358 535 354 536 350 540 348 544 348 546 353 552 351 556 351 560 340 568 337 574 334 575 329 574 325 572 321 570 318 564 320 561 330 556 329 554 320 552 300 554 294 554 285 546 271 540 265 532 256 528 248 521 245 522 239 526 234 528 224 531 215 538 206 540 202 540 184 534 170 537 170 526 178 525 188 518 202 511 206 511 212 512 215 514 215 516 214 520 214 522 218 526 222 527 224 525 227 520 234 512 234 510 232 504 232 502 234 499 240 498 260 502 266 504 270 506 274 514 282 522 302 531 308 531 313 530 317 528 320 526 317 522 318 520 321 520 324 524 328 523 334 521 342 514 352 511 367 506 374 498 383 494 400 482 405 474 409 470 414 467 429 466 441 462 443 460 442 454 443 450 447 446 454 442 468 440 474 441 477 444 476 448 470 456 472 456 492 452 498 453 502 456 505 460 505 464 503 468 504 468 510 470 512 472 513 474 512 478 508 480 500 480 494 478 490 472 474 472 462 475 444 482 431 490 430 492 440 498 446 504 450 506 460 507 472 505 473 510 482 522 488 528 494 530 501 528 505 524 510 521 514 522 518 526 522 527 532 526 552 518 562 513 574 513 580 511 589 502 589 500 585 488 592 476 591 476 584 474 572 470 570 468 578 462 588 460 594 461 599 464 600 468 598 472 599 474 612 473 618 474 618 476 614 480 615 482 620 483 628 477 636 476 642 479 644 488 650 490 650 494 644 502 644 510 640 513 633 518 630 520 631 522 638 523 658 518 659 516 658 508 659 506 662 503 666 503 674 504 682 507 692 511 694 514 692 517 688 518 676 517 664 518 662 518 662 520 664 522 666 525 670 527 688 529 696 528 704 524 708 523 726 528 732 528 737 526 742 522 748 520 758 519 772 519 786 515 797 514 799 512 798 512 784 508 780 504 780 502 782 498 785 496 790 494 794 494 796 496 804 504 807 510 822 522 836 527 842 528 847 526 849 524 842 522 832 523 830 523 828 518 829 516 830 513 834 512 840 513 846 513 868 508 872 509 880 513 884 513 900 505 914 501 932 494 936 493 948 496 962 495 968 494 978 490 984 489 988 490 998 493 1004 494 1028 487 1054 484 1060 485 1065 490 1068 490 1106 474 1118 474 1124 475 1126 476 1127 480 1126 486 1124 490 1122 491 1112 495 1096 495 1090 496 1076 510 1072 511 1064 512 1056 515 1055 516 1054 522 1051 524 1034 532 1022 534 1004 534 1000 533 996 528 994 519 987 512 984 509 981 510 971 520 983 528 984 532 982 538 982 540 984 544 991 550 994 558 1018 559 1030 561 1040 560 1042 558 1040 554 1027 550 1024 548 1024 544 1027 540 1030 536 1034 534 1040 535 1046 537 1066 551 1076 555 1082 556 1096 555 1114 558 1121 556 1140 546 1150 544 1156 542 1158 540 1158 537 1156 535 1154 534 1144 533 1128 539 1123 536 1121 534 1120 532 1124 526 1134 516 1142 507 1153 498 1160 492 1162 492 1166 494 1169 500 1170 504 1168 509 1160 516 1160 519 1180 514 1206 510 1208 510 1211 512 1213 518 1210 521 1192 524 1186 526 1184 529 1180 537 1179 542 1181 548 1180 552 1178 554 1161 564 1152 569 1138 572 1126 578ZM920 454 916 454 911 454 909 452 909 450 912 447 918 448 923 452 920 454ZM1036 456 1028 455 1026 454 1025 452 1028 450 1032 448 1038 448 1043 450 1043 452 1042 454 1036 456ZM810 460 804 460 798 458 796 456 798 452 800 449 804 448 810 449 814 451 815 454 814 456 813 458 810 460ZM542 462 538 460 536 458 540 453 542 452 546 452 548 454 548 458 546 460 542 462ZM966 463 958 463 952 462 947 460 947 456 950 454 954 453 960 453 966 454 971 456 973 460 971 462 966 463ZM822 473 820 473 818 470 816 466 816 462 820 460 832 457 844 457 860 462 876 463 879 464 877 466 874 467 862 468 850 471 834 471 822 473ZM1016 469 1010 469 1007 468 1011 464 1014 462 1016 463 1019 466 1019 468 1016 469ZM526 470 516 469 515 468 516 467 521 468 526 470ZM778 478 770 478 767 476 767 474 769 472 774 472 779 472 783 474 782 476 778 478ZM1236 479 1228 479 1226 478 1226 476 1228 474 1236 474 1236 479ZM282 478 280 478 278 478 280 476 283 476 282 478ZM556 486 550 485 547 482 548 480 550 478 556 477 560 478 564 480 564 482 563 484 556 486ZM360 480 356 480 355 480 355 478 359 478 360 480ZM814 487 811 486 810 484 816 480 818 479 820 479 820 480 820 484 818 486 814 487ZM754 496 748 496 744 495 739 492 739 488 741 486 746 484 760 481 766 482 772 486 772 490 770 492 754 496ZM262 488 256 488 254 486 258 484 262 484 265 486 262 488ZM528 495 524 495 520 493 517 490 518 488 522 485 526 485 530 486 532 488 532 490 530 493 528 495ZM488 504 482 504 476 503 474 502 476 500 479 498 488 496 492 497 493 500 492 502 488 504ZM560 508 554 508 550 506 549 502 551 500 554 497 556 497 562 499 564 502 564 504 562 506 560 508ZM740 512 736 511 737 508 742 500 746 499 748 499 749 502 748 506 744 509 740 512ZM1061 508 1061 502 1058 501 1051 502 1047 504 1047 506 1050 508 1060 509 1061 508ZM1023 516 1039 512 1041 512 1041 510 1038 508 1033 506 1028 506 1024 506 1018 510 1015 514 1018 515 1023 516ZM925 526 946 520 938 517 918 516 910 517 906 520 908 524 910 526 918 526 925 526ZM1236 518 1232 518 1233 516 1236 516 1236 518ZM891 532 888 531 884 532 888 533 891 532ZM1118 547 1110 547 1107 544 1108 543 1110 542 1118 542 1121 544 1118 547ZM1236 566 1232 565 1226 561 1223 558 1222 554 1223 552 1226 548 1230 547 1236 546 1236 566ZM208 567 204 567 198 565 194 562 194 560 197 556 203 554 210 552 214 553 217 556 216 560 212 565 208 567ZM278 569 270 569 264 567 261 564 262 560 264 557 268 556 284 559 286 560 284 564 281 568 278 569ZM568 568 564 568 561 568 559 564 559 562 562 560 568 560 574 561 577 562 576 564 568 568ZM780 570 776 569 774 568 773 566 773 564 778 563 782 564 783 568 780 570ZM814 568 809 568 807 566 810 564 814 565 815 566 814 568ZM1188 649 1184 648 1182 645 1179 640 1179 634 1190 618 1193 612 1187 608 1177 600 1172 595 1168 594 1165 594 1170 600 1168 604 1160 606 1154 606 1152 602 1151 598 1157 590 1154 584 1150 581 1137 588 1130 596 1128 597 1124 597 1119 596 1115 594 1115 592 1132 582 1150 578 1156 570 1160 569 1164 568 1168 569 1182 576 1192 586 1209 594 1211 596 1212 601 1219 604 1222 608 1224 612 1224 616 1220 620 1210 626 1204 636 1195 642 1190 647 1188 649ZM1236 588 1225 586 1223 584 1223 582 1232 576 1236 574 1236 588ZM750 589 745 588 748 586 751 586 751 588 750 589ZM918 612 912 612 894 611 891 606 891 604 895 600 890 596 889 594 895 590 904 588 910 589 917 592 919 594 920 598 924 602 921 608 918 612ZM998 604 984 604 981 602 981 598 984 594 998 590 1034 593 1038 593 1038 594 1037 596 1035 598 998 604ZM1080 596 1077 594 1077 592 1078 592 1082 591 1086 592 1085 594 1080 596ZM172 603 170 603 170 591 176 592 177 596 176 600 172 603ZM724 599 718 599 716 598 715 596 718 592 722 591 738 594 734 596 724 599ZM436 602 424 601 422 600 420 598 422 596 426 596 441 598 441 600 440 600 436 602ZM492 615 488 615 484 613 482 610 483 608 485 606 490 604 494 604 497 606 498 608 497 610 492 615ZM174 623 170 623 170 614 180 615 183 618 183 620 182 621 174 623ZM418 626 412 626 401 624 396 622 395 620 398 617 402 617 420 624 418 626ZM944 630 938 630 935 628 938 626 944 626 947 628 944 630ZM872 643 868 642 866 640 864 638 865 636 870 633 880 634 880 636 878 640 872 643ZM386 641 382 641 382 640 384 638 386 638 387 640 386 641ZM198 664 188 664 178 662 170 662 170 654 174 655 180 659 186 655 192 656 198 660 199 662 198 664ZM856 666 852 666 850 665 848 664 849 660 854 658 860 660 861 662 856 666ZM1068 675 1066 675 1064 674 1066 672 1068 672 1070 674 1068 675ZM738 686 726 686 728 681 732 680 736 682 738 684 738 686ZM238 686 223 686 224 683 230 682 236 683 238 684 238 686ZM316 686 301 686 304 683 310 682 314 683 317 684 317 686 316 686Z"/>
<path fill="#ead3cc" fill-rule="evenodd" d="M512 316 509 314 508 312 510 312 513 312 515 314 512 316ZM1018 333 1006 333 1002 332 1000 328 1000 320 1006 318 1016 317 1024 319 1030 324 1031 326 1028 330 1024 332 1018 333ZM972 328 968 328 965 326 965 324 968 323 972 324 973 326 972 328ZM316 341 310 338 309 336 312 334 316 334 322 334 323 336 322 338 316 341ZM876 422 870 422 866 420 859 410 846 400 845 396 845 392 848 388 856 386 861 388 872 398 888 400 892 400 896 398 900 394 901 386 907 368 906 366 904 364 896 362 892 360 891 358 894 356 902 356 910 359 926 358 936 363 938 363 948 358 954 355 978 356 979 354 979 346 982 340 986 336 994 335 998 336 1004 343 1008 345 1020 348 1022 350 1026 358 1028 359 1040 360 1058 357 1066 357 1078 359 1082 362 1084 364 1084 368 1078 372 1066 373 1050 376 1032 377 1028 375 1020 367 1007 364 1002 361 1000 361 994 363 990 368 984 372 976 375 956 375 936 379 924 376 918 382 917 386 918 394 908 405 900 411 884 416 876 422ZM848 344 842 343 838 342 844 338 848 338 852 338 853 340 853 342 848 344ZM248 347 244 346 244 344 246 342 250 341 254 342 256 344 253 346 248 347ZM392 366 388 365 386 364 384 362 385 360 388 358 390 357 396 358 398 360 398 362 396 364 392 366ZM832 390 826 390 820 386 812 376 812 374 813 372 818 369 822 370 828 373 838 380 840 382 840 385 836 388 832 390ZM1164 433 1160 433 1148 431 1146 430 1133 414 1124 404 1120 400 1116 398 1112 398 1108 405 1101 408 1099 410 1101 412 1111 416 1112 418 1111 420 1100 425 1090 427 1080 426 1072 422 1068 418 1066 412 1056 407 1044 410 1035 416 1032 420 1028 420 1026 418 1024 414 1022 412 1004 405 1003 404 1003 400 1006 396 1010 395 1030 404 1038 404 1042 402 1049 396 1058 385 1062 383 1066 385 1067 392 1070 393 1076 395 1082 395 1086 394 1090 389 1102 384 1104 382 1105 376 1108 375 1112 375 1128 384 1131 386 1137 394 1141 406 1144 411 1156 417 1166 418 1168 420 1169 422 1169 426 1167 430 1164 433ZM586 420 583 420 582 418 584 417 587 418 586 420ZM188 498 180 497 170 494 170 478 172 476 172 468 175 464 182 459 190 457 208 455 222 455 238 451 252 450 268 444 280 436 286 434 296 434 300 436 302 438 303 442 303 446 300 450 296 452 276 458 264 460 253 466 246 469 232 472 206 474 201 476 198 478 196 480 196 494 192 496 188 498ZM1114 451 1112 450 1110 448 1110 446 1112 443 1128 438 1136 436 1146 433 1148 433 1150 434 1153 440 1152 444 1148 446 1114 451ZM1000 447 994 447 986 446 980 444 979 440 980 438 982 437 992 435 1004 436 1013 440 1012 442 1000 447ZM1152 468 1144 468 1132 466 1130 462 1130 456 1134 454 1146 452 1156 450 1166 443 1184 440 1192 439 1198 440 1202 442 1204 444 1203 448 1199 452 1200 456 1198 457 1175 460 1152 468ZM716 478 712 476 706 471 700 470 698 468 696 464 697 456 696 456 686 458 676 462 666 468 654 478 650 478 647 476 644 474 644 470 646 466 654 460 670 452 682 443 690 441 694 440 698 442 701 446 701 450 698 456 708 458 714 457 720 457 724 458 726 460 727 464 724 474 721 476 716 478ZM332 572 328 571 323 566 323 564 324 562 334 556 326 552 320 550 302 552 294 551 273 540 267 532 256 527 250 520 248 518 242 520 236 525 232 525 231 524 231 522 236 515 238 512 238 508 235 504 235 502 238 501 240 501 262 505 266 508 278 520 282 523 290 526 302 532 308 533 316 532 332 525 344 515 370 506 376 499 402 482 408 474 412 470 416 468 440 464 445 462 446 462 444 456 444 454 445 450 447 446 455 442 466 441 472 442 474 442 475 444 474 448 466 458 472 458 490 453 498 454 501 456 503 460 503 464 500 468 510 472 511 474 510 478 506 480 500 480 497 478 494 476 492 470 474 471 460 475 443 480 427 490 426 492 438 498 448 506 452 508 464 509 468 511 474 515 481 524 490 529 494 531 504 531 510 533 514 532 520 529 536 526 553 520 564 514 574 514 578 513 591 504 591 500 589 490 591 488 594 484 600 482 611 484 622 485 628 479 632 478 636 478 639 480 641 484 642 488 647 492 647 494 642 502 643 508 642 510 638 513 631 516 626 522 626 524 628 525 636 525 650 522 656 521 668 527 692 530 698 529 704 525 708 524 722 529 732 530 737 528 744 523 750 521 758 520 774 520 786 517 792 516 810 517 824 525 838 529 844 529 862 524 846 520 842 518 857 512 868 509 880 514 884 514 900 506 912 503 932 496 936 496 948 497 962 497 968 496 978 491 984 491 988 491 996 494 1002 495 1028 488 1054 485 1060 486 1064 491 1066 492 1106 474 1114 474 1122 475 1124 476 1127 478 1125 486 1121 490 1110 494 1090 495 1086 497 1078 506 1072 509 1068 509 1066 508 1063 506 1061 500 1058 499 1049 500 1040 505 1028 505 1024 505 1018 508 1013 512 1012 515 1016 516 1040 514 1048 514 1050 516 1053 520 1052 522 1048 526 1038 530 1022 532 1004 533 1000 532 998 530 997 528 997 518 986 509 984 508 982 508 974 517 964 520 967 522 976 526 981 528 982 532 981 538 981 540 992 552 992 556 990 559 986 561 980 562 972 563 964 562 958 560 948 553 936 551 928 552 917 560 908 562 902 562 884 558 876 558 864 560 856 560 834 556 818 556 813 554 805 550 794 548 780 545 764 547 752 549 740 555 728 563 722 566 706 566 700 564 695 562 682 551 660 543 652 544 628 550 624 550 620 547 615 540 615 536 617 528 614 527 610 528 596 533 584 534 576 537 572 540 562 551 552 555 526 559 518 559 502 556 488 558 477 558 466 556 452 549 448 546 446 538 443 532 439 530 426 522 410 518 402 513 398 512 392 514 380 522 370 530 358 533 352 537 345 546 351 550 351 552 348 556 346 560 338 566 332 572ZM738 449 732 448 730 446 732 444 736 444 739 446 738 449ZM1034 455 1030 454 1028 454 1028 452 1034 449 1040 450 1040 452 1034 455ZM1228 461 1226 461 1222 459 1210 458 1205 456 1215 452 1224 451 1228 452 1229 454 1229 458 1228 461ZM806 456 804 456 803 454 804 452 808 452 809 454 806 456ZM964 462 953 462 950 460 948 458 950 455 954 454 964 454 967 456 969 458 968 460 964 462ZM852 470 846 470 824 470 820 468 819 466 820 463 824 461 832 459 838 458 848 460 860 464 862 466 852 470ZM590 474 580 472 573 468 572 466 576 464 584 461 588 460 592 461 597 464 598 468 594 472 590 474ZM776 477 772 476 770 474 772 473 775 474 779 476 776 477ZM556 483 554 482 554 481 557 480 558 482 556 483ZM760 494 754 494 748 494 742 492 741 488 746 485 756 483 764 483 769 486 771 488 769 490 760 494ZM526 494 522 493 520 492 519 490 520 488 524 486 530 488 530 492 526 494ZM1132 538 1126 537 1123 534 1122 530 1124 527 1144 506 1160 494 1162 494 1164 495 1168 502 1168 506 1167 508 1159 514 1148 526 1140 534 1132 538ZM484 504 479 502 478 502 479 500 482 498 486 497 490 498 491 500 490 502 484 504ZM560 507 556 507 552 506 550 502 552 500 556 498 562 500 563 502 563 504 560 507ZM798 507 794 507 787 506 785 504 785 500 788 498 794 498 799 504 800 506 798 507ZM688 518 684 518 676 516 666 515 660 510 660 506 662 504 666 504 688 511 692 512 693 514 691 516 688 518ZM1124 577 1116 577 1060 571 1052 574 1042 576 1008 574 1001 572 996 570 993 568 992 564 994 560 998 559 1032 562 1040 560 1042 558 1041 554 1038 553 1029 550 1026 546 1027 542 1030 538 1034 536 1038 536 1044 538 1066 552 1076 556 1082 557 1096 556 1112 559 1116 559 1122 557 1142 546 1156 541 1159 538 1160 534 1155 530 1155 528 1160 525 1166 525 1178 516 1184 514 1206 511 1208 511 1210 513 1211 518 1210 520 1192 523 1186 525 1183 528 1179 536 1178 540 1179 548 1176 554 1150 567 1137 570 1124 577ZM208 538 202 537 182 531 174 534 170 535 170 529 180 529 184 522 188 520 202 514 208 514 210 516 210 522 215 532 213 536 208 538ZM834 521 832 520 830 519 832 516 833 516 836 518 834 521ZM923 528 936 524 957 520 948 518 918 515 910 516 905 518 906 526 908 527 923 528ZM894 534 896 532 894 530 882 529 878 529 878 530 879 532 884 535 890 535 894 534ZM382 538 376 536 374 534 375 534 380 532 387 534 387 536 386 536 382 538ZM1118 546 1114 546 1109 544 1112 543 1116 542 1119 544 1120 544 1118 546ZM1236 563 1228 560 1225 558 1224 554 1225 552 1228 550 1236 547 1236 563ZM206 562 201 560 202 558 206 555 210 555 211 556 210 560 206 562ZM274 567 267 566 266 564 266 562 270 560 276 561 278 562 278 564 274 567ZM780 567 776 567 776 566 780 565 780 567ZM812 567 812 566 812 567ZM1188 648 1186 648 1182 646 1180 640 1179 636 1190 622 1194 612 1179 600 1174 594 1160 590 1158 588 1155 582 1154 578 1157 572 1162 570 1168 570 1182 576 1190 586 1207 594 1208 596 1209 602 1217 606 1221 610 1222 616 1219 620 1210 626 1204 634 1188 648ZM1236 586 1231 584 1230 582 1232 581 1236 580 1236 586ZM916 612 908 611 900 608 899 606 907 600 895 596 893 596 894 594 899 590 904 590 910 590 916 592 916 594 915 598 920 602 922 604 920 608 916 612ZM990 604 986 604 982 602 981 600 982 596 984 595 998 591 1015 592 1036 593 1037 594 1036 596 1034 597 1002 602 990 604ZM170 601 170 593 174 594 174 596 174 599 170 601ZM1162 604 1158 604 1156 603 1157 600 1160 598 1164 600 1165 602 1162 604ZM490 612 486 611 486 608 490 607 493 608 493 610 490 612ZM944 629 940 629 937 628 938 627 942 627 945 628 944 629ZM172 659 170 659 170 657 172 658 172 659ZM192 662 186 662 184 660 186 658 190 658 193 660 192 662ZM314 686 305 686 310 684 312 684 314 686ZM734 686 732 686 734 686Z"/>
<path fill="#e7be9a" fill-rule="evenodd" d="M1016 333 1006 333 1002 332 1000 326 1000 322 1000 320 1008 318 1018 318 1026 321 1030 324 1030 328 1027 330 1022 332 1016 333ZM874 420 870 420 867 418 860 409 847 400 846 394 847 392 848 390 854 387 858 388 872 399 888 401 896 400 899 398 901 394 902 386 904 380 908 364 910 362 916 360 924 359 928 360 935 364 938 364 948 358 954 356 979 356 980 354 980 348 980 342 984 338 988 336 994 335 998 336 1006 345 1019 348 1022 350 1026 358 1027 360 1040 360 1058 358 1064 357 1078 360 1081 362 1083 364 1083 368 1078 371 1066 372 1050 376 1032 376 1028 374 1020 367 1008 364 1000 359 994 362 987 370 982 373 976 375 956 375 936 378 924 376 916 382 916 394 908 404 900 409 874 420ZM392 365 386 363 386 362 386 360 392 358 396 360 396 362 392 365ZM902 361 897 360 898 358 900 358 902 360 902 361ZM834 388 828 388 822 386 814 376 814 374 814 372 818 371 822 371 835 378 838 382 838 384 836 386 834 388ZM1164 432 1150 430 1146 428 1134 414 1123 402 1120 399 1114 397 1112 398 1108 404 1101 408 1098 410 1098 412 1100 413 1109 418 1109 420 1100 424 1090 426 1082 425 1074 422 1070 418 1068 412 1058 407 1044 409 1034 415 1030 416 1006 405 1004 404 1003 400 1006 397 1010 395 1030 405 1036 405 1040 404 1050 397 1056 387 1060 384 1062 384 1065 386 1067 392 1068 394 1075 396 1080 396 1084 395 1090 389 1101 386 1106 382 1110 379 1112 379 1126 384 1130 387 1137 396 1140 408 1143 412 1156 418 1164 419 1167 420 1168 422 1168 426 1166 430 1164 432ZM1116 450 1112 449 1110 446 1111 444 1128 438 1146 434 1150 435 1152 440 1151 444 1148 446 1116 450ZM186 497 178 495 170 492 170 480 173 478 174 476 173 468 176 464 182 459 190 457 206 456 222 456 238 452 254 451 268 445 280 437 286 435 296 435 299 436 301 440 302 444 302 446 299 450 296 452 276 457 262 458 253 466 244 468 230 471 208 472 200 474 197 476 195 478 195 492 194 494 190 496 186 497ZM1000 446 994 446 988 445 982 444 981 440 984 438 992 437 1004 438 1008 439 1010 440 1008 442 1000 446ZM1152 467 1144 467 1132 465 1130 462 1130 457 1134 455 1158 451 1178 442 1186 440 1196 441 1200 442 1203 444 1201 448 1192 456 1168 458 1166 458 1161 464 1152 467ZM332 565 330 564 330 562 339 556 330 552 327 550 328 548 327 546 321 546 314 550 306 551 300 551 294 549 274 538 268 530 258 526 250 517 242 516 241 514 242 505 244 504 252 505 262 507 266 510 278 524 290 527 300 532 310 534 320 532 332 526 346 516 362 510 371 508 378 500 403 484 409 474 412 471 418 469 449 464 450 462 446 459 445 456 445 452 446 448 453 444 466 441 472 442 474 444 474 446 471 450 463 458 464 459 470 459 484 455 494 454 498 455 501 458 502 462 501 464 496 468 474 470 456 474 440 480 426 489 423 492 425 494 436 499 446 506 462 510 468 512 472 516 481 524 490 530 504 534 510 537 514 537 523 530 542 525 564 516 576 515 580 513 594 504 594 502 592 492 594 488 598 486 602 486 622 486 630 481 634 480 638 483 640 488 645 492 644 496 641 500 642 508 640 512 630 516 620 525 612 526 596 532 584 531 578 533 572 537 562 549 558 552 552 553 524 558 504 554 486 557 474 556 460 551 452 548 450 546 448 540 442 531 430 522 424 520 410 517 402 512 400 511 392 513 380 520 370 528 358 532 352 536 343 546 349 550 349 552 342 556 342 558 340 560 332 565ZM654 477 650 477 648 476 645 472 647 468 654 462 672 453 679 446 686 443 694 441 698 444 700 450 698 453 674 461 664 467 657 474 654 477ZM1034 453 1032 452 1034 451 1036 452 1034 453ZM1226 455 1218 455 1216 454 1222 453 1226 453 1226 455ZM958 462 952 460 950 458 950 456 954 455 958 454 964 455 967 458 967 460 965 460 958 462ZM718 476 714 475 708 470 702 470 698 469 696 464 698 459 700 457 708 460 716 458 722 460 724 464 722 472 721 474 718 476ZM852 469 846 469 826 468 824 467 823 466 824 464 828 461 836 460 842 460 850 462 857 464 857 466 852 469ZM590 473 586 473 580 471 575 468 575 466 579 462 584 461 588 461 592 462 596 464 597 468 594 471 590 473ZM506 479 502 479 497 478 495 476 495 472 496 471 498 471 508 472 509 474 510 476 509 478 506 479ZM724 565 708 565 700 564 692 560 682 551 668 545 660 543 650 543 628 549 624 549 620 547 617 542 616 540 616 536 620 528 622 527 638 526 650 523 658 523 668 528 694 531 700 530 704 526 708 525 716 529 730 531 738 530 746 524 752 522 760 521 774 521 786 518 792 517 808 520 820 526 842 531 846 531 858 528 870 528 880 535 892 537 897 534 901 530 898 530 872 527 866 523 852 520 851 518 858 512 864 510 872 511 882 515 886 514 900 507 930 498 936 497 948 499 962 498 968 496 978 492 984 491 988 492 996 495 1002 495 1028 489 1054 485 1060 487 1064 492 1066 493 1078 488 1086 484 1106 475 1114 474 1120 475 1124 476 1126 478 1123 486 1119 490 1108 493 1088 495 1078 504 1072 508 1068 508 1066 507 1064 504 1062 499 1060 498 1049 500 1038 504 1028 504 1022 505 1016 508 1009 514 1009 516 1011 516 1016 517 1040 514 1046 515 1050 518 1052 520 1050 524 1042 528 1036 530 1004 532 1001 532 998 530 997 526 1000 516 988 508 984 507 980 509 972 517 966 519 918 514 908 515 904 518 903 528 904 529 924 529 938 524 954 522 962 522 976 527 980 530 980 538 981 542 989 550 991 554 991 556 990 558 982 562 972 562 964 561 958 559 948 552 936 549 926 549 920 556 916 558 912 561 906 561 886 557 876 557 864 559 858 559 848 558 834 554 820 555 815 554 806 548 794 547 780 544 760 547 752 549 738 554 728 562 724 565ZM756 494 752 494 747 492 744 490 743 488 748 485 756 483 764 484 769 486 769 488 767 490 756 494ZM524 493 521 492 522 489 524 488 528 489 527 492 524 493ZM1132 537 1128 537 1124 534 1123 532 1125 528 1145 506 1160 496 1162 496 1164 496 1167 502 1167 504 1166 506 1138 534 1132 537ZM486 503 482 502 480 500 484 498 489 498 490 500 486 503ZM560 506 556 506 553 506 551 504 552 500 556 498 560 499 562 502 561 504 560 506ZM690 517 684 517 676 515 669 514 662 510 660 508 661 506 662 505 666 504 670 507 688 512 692 514 690 517ZM1124 576 1116 576 1096 574 1080 573 1058 570 1056 571 1051 574 1044 576 1008 573 996 571 993 568 993 564 994 561 998 559 1032 562 1042 560 1043 558 1042 554 1040 553 1030 550 1028 548 1027 546 1028 542 1030 540 1034 537 1038 536 1044 538 1064 552 1076 557 1082 558 1098 557 1116 560 1122 558 1142 546 1157 542 1167 528 1174 520 1178 517 1184 515 1206 512 1210 514 1211 516 1209 520 1192 522 1186 524 1183 528 1179 534 1178 548 1177 552 1174 554 1150 566 1136 570 1124 576ZM208 535 202 535 188 531 186 528 186 524 189 520 194 518 200 517 204 518 207 520 211 530 210 532 208 535ZM1116 545 1111 544 1112 544 1114 543 1116 544 1116 545ZM1236 562 1229 560 1227 558 1226 554 1228 550 1236 548 1236 562ZM1188 647 1186 647 1182 645 1180 640 1180 636 1190 622 1195 614 1196 612 1180 600 1174 592 1162 589 1158 587 1156 582 1155 578 1158 574 1162 571 1168 571 1182 577 1189 586 1205 594 1207 596 1208 603 1216 606 1220 610 1221 616 1218 619 1209 626 1203 634 1188 647ZM910 597 902 596 898 596 898 594 902 591 908 591 912 592 914 594 913 596 910 597ZM998 603 986 603 983 602 982 598 984 596 1002 591 1021 592 1036 594 1036 596 998 603ZM172 598 170 598 170 595 172 596 172 598ZM916 611 912 611 908 610 905 608 904 606 906 603 910 601 916 601 920 603 921 606 920 608 916 611Z"/>
<path fill="#e5af79" fill-rule="evenodd" d="M1014 333 1006 332 1002 331 1000 326 1000 322 1000 321 1008 318 1016 318 1024 321 1029 324 1029 328 1026 330 1022 332 1014 333ZM872 419 867 418 860 408 848 400 846 394 848 390 854 388 858 389 872 400 890 402 896 401 900 399 902 396 903 388 905 382 906 374 910 364 912 362 916 360 924 359 928 361 934 364 938 365 948 359 954 357 960 356 980 357 981 356 980 348 981 342 984 338 988 336 996 336 1000 338 1006 345 1018 348 1022 352 1025 358 1026 360 1040 361 1058 358 1064 358 1078 360 1082 362 1083 364 1082 368 1078 370 1068 371 1050 375 1032 376 1028 374 1020 366 1009 364 1006 362 1002 359 1000 358 992 362 990 366 986 370 981 372 976 375 956 374 936 378 924 375 915 382 916 390 915 394 908 403 902 406 872 419ZM392 363 388 363 387 360 390 359 394 359 394 361 392 363ZM832 387 826 387 822 384 816 376 816 374 818 372 822 372 834 380 835 382 836 384 832 387ZM1164 430 1152 430 1146 427 1140 422 1135 412 1122 400 1114 397 1112 398 1108 404 1099 408 1097 412 1098 414 1106 418 1106 420 1100 423 1092 425 1084 424 1076 421 1072 418 1069 412 1058 406 1042 408 1036 413 1030 414 1006 405 1004 403 1004 400 1006 398 1010 396 1032 406 1040 407 1042 406 1051 396 1056 388 1060 385 1064 386 1066 392 1068 394 1074 396 1080 396 1086 395 1091 390 1102 386 1110 381 1114 381 1126 384 1131 388 1136 396 1139 410 1142 412 1154 418 1164 420 1166 422 1167 426 1164 430ZM1118 449 1113 448 1112 447 1111 446 1114 444 1144 435 1148 435 1151 440 1150 443 1148 445 1118 449ZM186 496 178 494 170 491 170 481 174 478 175 476 174 468 177 464 182 460 190 458 206 456 222 457 238 453 256 452 268 446 280 438 286 436 296 436 298 438 300 440 301 444 301 446 296 450 278 455 260 456 257 458 253 464 246 467 232 470 210 470 200 473 194 478 193 492 190 495 186 496ZM1000 445 994 445 988 444 983 442 983 440 986 438 990 438 1002 439 1005 440 1004 442 1000 445ZM1178 456 1162 454 1172 448 1178 444 1184 441 1194 441 1200 442 1202 444 1201 446 1200 448 1194 453 1188 455 1178 456ZM458 460 452 460 446 457 445 452 448 448 452 444 458 442 468 442 473 444 473 446 471 450 458 460ZM654 476 650 476 648 474 646 470 648 468 656 462 662 458 672 455 680 448 686 444 694 442 698 446 699 450 696 453 674 460 662 467 654 476ZM526 557 518 556 504 553 488 556 482 556 460 549 452 545 444 531 438 527 428 520 411 516 404 511 400 510 394 512 380 519 370 528 360 530 352 534 340 546 348 550 347 552 342 555 338 554 332 552 330 550 333 546 326 545 320 546 308 550 296 549 277 540 274 536 273 534 274 532 278 528 282 527 288 528 298 533 306 534 314 534 324 532 334 527 346 517 362 510 372 508 380 500 395 488 404 484 410 474 414 471 436 467 448 466 458 462 472 460 484 456 492 455 496 455 500 458 501 462 498 466 488 468 476 468 454 473 440 479 424 488 422 490 422 492 436 499 446 507 466 513 488 531 502 535 510 540 512 541 516 540 520 534 524 532 554 522 566 516 578 515 595 504 597 502 595 498 594 492 596 490 598 488 624 487 630 483 632 482 637 484 638 488 643 492 643 494 640 500 642 508 640 510 636 513 630 515 620 523 600 530 594 531 588 530 582 524 580 524 572 532 566 544 560 550 552 553 536 554 526 557ZM1152 466 1144 466 1134 464 1131 462 1131 458 1132 456 1134 455 1152 454 1160 454 1159 458 1160 462 1158 464 1152 466ZM962 461 954 460 952 460 951 458 953 456 956 455 962 455 965 456 966 459 962 461ZM718 473 716 473 713 470 708 467 704 469 700 469 697 466 698 460 700 458 704 459 708 462 714 460 720 461 721 462 722 464 718 473ZM592 472 586 472 580 471 577 468 576 466 578 464 584 462 592 462 594 464 596 466 595 470 592 472ZM852 468 844 468 830 467 827 466 828 464 832 462 842 461 850 462 854 464 854 466 852 468ZM504 479 497 476 496 474 496 473 502 472 508 474 508 476 504 479ZM900 528 894 528 876 527 857 518 860 514 864 512 870 511 880 515 884 515 890 513 900 508 910 505 928 499 934 498 946 500 952 500 966 498 978 493 984 492 988 493 996 496 1002 496 1024 491 1054 486 1060 488 1064 494 1081 488 1088 484 1106 475 1112 474 1118 475 1124 476 1125 478 1125 480 1121 486 1118 489 1106 493 1088 494 1078 503 1072 507 1068 507 1065 506 1062 496 1048 499 1038 503 1022 504 1016 507 1008 513 1004 515 998 513 988 508 984 506 980 508 972 516 968 518 928 514 912 514 906 515 904 517 902 520 903 526 900 528ZM758 493 749 492 745 490 745 488 749 486 756 484 764 484 767 486 767 488 766 490 758 493ZM1134 536 1130 536 1126 534 1124 532 1126 528 1146 506 1160 498 1164 499 1167 504 1164 507 1134 536ZM486 502 482 502 481 500 484 499 486 499 488 500 489 500 486 502ZM558 506 556 506 553 504 552 502 554 500 558 499 561 500 561 504 558 506ZM668 511 662 510 661 508 661 506 664 505 668 506 670 510 668 511ZM268 526 262 526 257 524 250 516 245 512 246 508 248 507 254 507 260 508 264 510 271 518 273 522 272 524 268 526ZM688 517 682 516 676 513 672 512 670 510 674 509 678 511 688 512 691 514 688 517ZM1120 576 1096 573 1080 573 1058 569 1053 574 1046 576 1008 573 997 570 994 568 993 564 995 562 998 560 1032 562 1040 562 1042 561 1044 558 1042 554 1040 553 1031 550 1029 548 1028 546 1028 544 1030 540 1034 538 1038 537 1044 540 1052 546 1066 554 1076 557 1082 559 1098 557 1114 560 1118 560 1124 558 1144 546 1157 542 1174 522 1178 517 1184 516 1206 513 1209 514 1210 516 1208 518 1194 520 1188 523 1182 528 1178 534 1177 550 1174 554 1148 566 1136 569 1126 574 1120 576ZM1006 532 1000 531 998 526 999 520 1004 518 1016 518 1038 515 1046 516 1051 520 1051 522 1048 524 1038 529 1006 532ZM200 532 194 531 190 529 188 526 189 522 192 520 196 519 200 519 204 520 206 524 206 528 204 530 200 532ZM722 565 706 565 700 563 693 560 682 551 660 542 650 543 628 548 624 548 622 546 618 542 617 540 617 536 620 530 622 528 650 524 656 524 666 529 696 532 700 532 704 527 708 525 712 526 716 530 730 532 738 531 747 524 752 522 760 522 774 522 786 519 792 519 802 520 818 527 842 532 846 532 856 529 864 529 870 530 880 536 890 537 896 536 906 531 924 530 939 524 956 523 974 526 978 528 979 532 979 538 979 540 989 550 991 554 989 558 984 561 976 562 968 562 960 559 946 551 924 545 921 546 920 552 918 556 914 558 910 560 902 560 890 557 882 556 856 559 848 557 834 553 818 553 806 547 794 546 780 544 758 546 750 549 738 553 728 562 722 565ZM1236 561 1230 558 1227 554 1230 551 1236 549 1236 561ZM1188 647 1184 646 1182 644 1180 640 1180 636 1191 622 1197 612 1181 600 1174 592 1162 589 1158 586 1156 582 1156 578 1159 574 1162 571 1168 571 1178 576 1182 578 1188 586 1204 593 1206 596 1206 604 1216 606 1218 608 1220 612 1220 616 1218 620 1208 625 1202 634 1188 647ZM1004 602 986 602 984 601 983 598 985 596 996 593 1002 592 1024 594 1032 596 1026 598 1004 602ZM910 595 906 595 903 594 906 593 910 593 910 595ZM916 611 912 611 908 610 905 608 905 606 908 603 910 602 914 602 918 602 920 604 920 606 918 609 916 611Z"/>
<path fill="#e09d53" fill-rule="evenodd" d="M1022 332 1010 332 1004 331 1001 328 1000 322 1004 319 1012 318 1018 319 1024 320 1028 324 1029 326 1027 330 1022 332ZM904 404 902 404 901 402 903 396 904 388 907 382 907 374 910 366 912 363 916 361 924 360 934 365 938 366 950 359 956 357 980 358 982 356 980 348 981 344 984 339 990 336 996 336 1000 338 1006 345 1018 348 1021 352 1024 358 1026 360 1040 361 1064 358 1078 361 1080 362 1082 364 1082 368 1078 370 1068 371 1050 375 1032 375 1026 373 1021 366 1010 364 1002 358 992 361 987 368 982 372 976 374 970 375 956 374 936 377 924 374 911 382 914 388 915 392 910 399 904 404ZM830 385 828 385 825 384 823 380 819 376 819 374 820 374 823 374 832 380 833 382 830 385ZM1094 424 1086 424 1078 421 1074 418 1072 414 1069 412 1062 409 1058 406 1046 406 1046 404 1046 402 1052 396 1056 389 1060 386 1064 388 1066 392 1068 394 1078 397 1085 396 1090 390 1112 382 1124 384 1130 387 1134 394 1137 398 1138 406 1137 410 1134 410 1132 410 1121 400 1116 397 1112 397 1108 404 1096 410 1096 414 1102 418 1104 420 1100 422 1094 424ZM876 417 872 417 868 416 861 408 849 400 847 396 848 391 852 389 858 389 870 400 885 402 891 404 891 408 888 410 876 417ZM1034 413 1028 413 1007 404 1005 402 1005 400 1007 398 1010 397 1023 402 1036 410 1036 412 1034 413ZM1154 429 1150 428 1145 426 1141 420 1140 416 1142 415 1145 416 1156 420 1164 421 1166 422 1166 424 1164 427 1154 429ZM1130 447 1118 447 1115 446 1114 446 1129 440 1144 435 1148 435 1150 438 1151 442 1148 444 1130 447ZM282 454 274 454 266 450 272 444 284 438 294 437 296 438 298 439 300 444 298 448 291 452 282 454ZM994 444 990 444 986 442 988 440 990 440 996 442 994 444ZM1190 454 1180 454 1172 452 1175 450 1178 444 1182 442 1192 441 1196 442 1200 444 1201 446 1199 448 1194 452 1190 454ZM456 459 452 459 447 456 446 452 448 447 453 444 459 442 468 442 472 444 473 446 470 450 462 456 456 459ZM682 456 680 455 679 452 680 450 683 446 687 444 692 443 696 444 697 446 698 450 696 452 682 456ZM186 495 178 493 170 489 170 483 176 478 175 468 177 464 180 461 186 459 192 458 210 457 222 459 234 454 240 453 248 454 253 456 252 462 250 464 245 466 232 469 210 469 204 470 197 474 192 478 191 492 190 494 186 495ZM464 470 458 470 456 468 456 466 460 464 472 461 481 458 490 456 496 456 498 457 500 460 500 463 496 465 476 466 464 470ZM962 460 956 460 953 458 952 458 955 456 960 456 964 458 962 460ZM1152 465 1144 465 1135 464 1132 462 1132 459 1132 457 1134 457 1151 456 1155 460 1156 462 1154 464 1152 465ZM652 474 650 474 648 474 647 472 648 469 659 462 666 460 666 462 657 468 654 472 652 474ZM702 469 700 468 698 464 698 460 700 459 704 460 707 464 706 466 702 469ZM590 472 586 472 580 470 577 468 577 466 579 464 584 462 592 463 594 464 595 468 594 470 590 472ZM850 467 842 467 835 466 834 464 840 463 846 463 851 464 851 466 850 467ZM524 556 516 555 506 551 488 555 482 555 470 550 458 546 452 542 442 528 432 521 426 519 412 516 402 509 394 511 378 517 370 526 360 529 354 532 342 543 338 545 322 544 308 549 300 549 294 547 282 542 278 538 276 536 278 533 282 530 286 529 290 530 300 534 308 535 318 535 328 532 336 527 343 520 347 518 356 514 362 511 372 509 380 500 396 489 406 484 410 476 414 473 420 471 434 468 442 469 447 474 432 484 422 488 420 490 421 494 434 499 445 508 460 512 466 514 488 532 502 536 510 543 512 544 518 542 522 534 527 532 568 518 578 516 587 510 594 506 600 505 606 506 609 504 609 502 600 501 598 498 597 494 598 492 600 490 626 488 628 487 630 484 632 484 635 486 635 488 636 490 641 494 639 500 641 506 640 510 636 512 630 514 618 522 602 529 594 530 588 529 582 521 578 521 567 530 566 532 567 538 566 542 563 546 560 549 552 552 534 553 524 556ZM506 477 500 477 498 476 498 474 500 472 506 473 507 476 506 477ZM1102 493 1090 492 1087 486 1090 484 1106 475 1118 475 1122 476 1124 478 1124 480 1117 488 1110 491 1102 493ZM760 492 750 492 747 490 747 488 750 486 756 484 762 485 766 486 766 488 765 490 760 492ZM898 528 884 527 874 525 862 520 861 518 862 514 864 512 868 512 880 516 886 516 892 513 900 509 908 507 926 500 934 499 944 501 952 501 968 498 982 493 988 493 996 496 1002 497 1022 492 1054 487 1058 488 1061 492 1061 494 1058 496 1048 498 1038 502 1022 503 1008 512 1004 513 998 512 988 507 984 506 979 508 972 516 968 518 918 513 908 514 902 516 901 526 898 528ZM1072 507 1068 506 1065 504 1064 500 1064 496 1076 491 1080 491 1084 493 1084 496 1080 500 1076 505 1072 507ZM560 505 554 505 553 504 553 502 556 499 559 500 561 502 561 504 560 505ZM1134 535 1130 535 1128 535 1126 532 1126 530 1137 518 1144 508 1149 504 1156 501 1160 500 1164 501 1165 504 1163 508 1134 535ZM666 510 662 509 662 507 666 506 667 506 668 508 666 510ZM262 525 258 524 256 521 249 512 250 510 254 509 260 509 264 512 268 516 270 520 270 522 268 523 262 525ZM688 516 682 516 680 515 679 514 682 512 688 512 690 514 688 516ZM1208 517 1201 516 1199 516 1206 514 1208 516 1208 517ZM1008 531 1002 531 999 528 999 524 1002 520 1038 515 1046 516 1050 520 1050 522 1048 524 1038 529 1008 531ZM1122 575 1116 575 1096 572 1080 572 1058 568 1056 569 1052 574 1046 575 1010 573 997 570 994 568 994 564 995 562 998 560 1032 563 1040 562 1044 561 1045 558 1042 554 1040 552 1032 550 1029 546 1029 544 1031 540 1034 538 1038 538 1043 540 1052 546 1064 554 1076 558 1082 559 1098 558 1114 561 1118 561 1124 558 1145 546 1158 542 1175 522 1178 518 1184 516 1191 516 1192 518 1183 526 1178 532 1177 536 1177 548 1176 550 1174 554 1162 559 1148 565 1136 569 1122 575ZM724 564 706 564 700 563 694 560 683 550 660 542 652 542 628 547 624 547 618 542 617 540 617 536 620 532 622 529 648 525 654 526 664 530 678 530 696 533 702 532 704 527 708 526 712 527 716 531 730 534 739 532 748 525 754 523 760 522 774 524 786 520 792 520 798 521 816 528 831 530 844 534 848 534 856 530 862 530 868 532 878 537 890 538 896 537 907 532 924 531 938 525 948 524 956 524 972 527 976 529 978 532 978 538 979 540 988 550 990 554 988 558 982 561 974 562 966 561 959 558 948 550 924 542 920 543 918 546 918 552 917 554 914 558 910 559 904 559 890 556 882 555 856 558 846 556 836 551 820 552 808 546 794 546 780 543 758 546 748 549 738 553 729 560 724 564ZM198 529 192 528 191 526 191 524 196 521 201 522 203 524 203 526 202 528 198 529ZM342 554 336 553 333 550 334 548 338 548 342 549 346 550 346 552 342 554ZM1236 560 1230 558 1229 554 1231 552 1236 550 1236 560ZM1188 646 1186 646 1182 644 1180 640 1180 636 1191 622 1197 614 1198 610 1192 608 1183 602 1180 598 1176 591 1164 588 1160 586 1157 582 1157 578 1159 574 1162 572 1168 572 1178 576 1182 580 1186 586 1203 594 1206 598 1206 604 1214 606 1217 608 1219 612 1219 616 1218 618 1208 626 1202 634 1188 646ZM998 602 986 600 984 598 993 594 1002 592 1010 592 1026 596 1022 598 998 602ZM912 611 907 608 906 606 907 604 912 602 918 604 919 606 918 608 916 610 912 611Z"/>
<path fill="#dd8116" fill-rule="evenodd" d="M1022 332 1010 332 1004 331 1001 328 1000 322 1004 320 1012 319 1018 319 1024 321 1027 324 1029 326 1026 330 1022 332ZM914 379 910 379 908 378 908 374 912 366 916 362 924 361 932 366 938 367 950 359 956 358 982 358 983 356 981 348 982 342 986 338 992 336 996 337 998 338 1006 346 1014 347 1018 348 1021 352 1024 361 1042 361 1064 359 1078 361 1080 363 1081 366 1081 368 1078 369 1068 370 1052 374 1032 375 1026 372 1022 365 1010 364 1008 362 1004 357 1002 357 990 361 988 366 987 368 982 372 976 374 970 374 956 374 936 376 924 373 914 379ZM1094 423 1086 422 1078 420 1076 418 1073 414 1071 412 1064 409 1058 405 1050 405 1048 404 1048 402 1056 390 1060 388 1064 388 1065 392 1068 395 1078 397 1084 396 1092 390 1112 382 1124 384 1130 388 1134 394 1136 398 1137 404 1136 407 1134 408 1130 407 1121 400 1116 397 1112 397 1108 403 1099 408 1094 412 1094 414 1100 420 1098 422 1094 423ZM908 399 906 399 906 398 905 390 906 388 908 386 912 387 914 390 913 394 908 399ZM874 416 868 415 860 406 850 399 848 396 849 392 854 390 858 390 870 400 882 402 887 404 887 408 885 410 874 416ZM1032 412 1028 412 1008 404 1006 402 1006 400 1006 399 1008 398 1018 402 1032 410 1033 410 1032 412ZM1152 427 1149 426 1146 425 1143 422 1143 420 1148 419 1156 422 1162 422 1164 424 1162 424 1156 424 1152 427ZM1134 446 1128 445 1126 444 1125 444 1131 440 1142 436 1146 436 1150 438 1150 442 1148 444 1134 446ZM284 453 274 453 271 450 270 448 275 444 284 439 294 438 297 440 299 444 297 448 292 450 284 453ZM1190 453 1184 453 1179 452 1178 448 1178 446 1182 443 1188 441 1194 442 1199 444 1200 446 1198 448 1194 451 1190 453ZM458 458 452 458 448 456 447 452 450 447 454 444 462 443 468 443 471 444 471 448 469 450 464 455 458 458ZM686 454 683 452 683 450 684 448 690 445 696 447 696 448 696 451 686 454ZM188 493 184 493 178 492 173 490 172 486 173 484 178 478 175 470 176 468 177 464 182 462 190 459 208 458 212 459 220 462 224 461 231 456 237 454 246 454 250 456 249 462 244 466 232 468 218 466 212 467 204 469 194 474 191 478 191 486 190 490 188 493ZM498 463 496 463 484 463 480 462 480 460 485 458 494 456 498 458 499 460 498 463ZM960 458 958 458 955 458 958 456 960 458ZM1148 464 1138 462 1136 462 1134 460 1144 458 1148 459 1152 462 1148 464ZM704 468 701 468 699 466 699 462 700 460 703 460 705 462 705 466 704 468ZM590 471 586 471 582 470 578 468 578 466 580 464 584 462 590 463 593 464 594 466 594 469 590 471ZM490 554 482 553 470 547 456 544 450 539 442 528 432 520 428 518 412 515 404 510 402 509 396 510 382 514 376 514 374 522 370 525 368 527 358 528 352 531 342 541 338 544 322 543 308 548 300 548 294 547 287 544 281 540 278 536 279 534 286 531 302 535 314 536 324 535 334 531 340 528 343 522 348 518 356 515 364 511 374 510 378 504 380 501 396 490 407 484 411 476 414 473 422 471 436 470 439 472 439 476 430 484 420 488 419 490 420 494 433 500 444 508 460 512 466 515 488 533 500 538 506 542 507 546 506 548 490 554ZM502 475 501 474 502 475ZM1106 492 1098 492 1092 491 1091 490 1090 486 1102 478 1107 476 1116 475 1122 476 1124 478 1124 480 1117 488 1112 490 1106 492ZM754 492 750 490 748 488 751 486 756 485 762 486 764 488 760 490 754 492ZM898 527 886 527 874 525 866 520 865 518 865 514 866 513 870 513 880 516 886 516 894 514 900 510 906 509 916 504 926 500 934 500 944 502 952 502 968 498 982 493 988 493 996 497 1000 498 1054 487 1058 488 1060 492 1060 494 1058 496 1048 497 1036 501 1022 502 1008 511 1004 512 998 511 990 506 984 505 978 507 972 515 968 517 950 515 914 512 908 513 902 516 900 524 898 527ZM598 530 592 530 588 528 582 520 581 516 585 512 592 508 598 506 608 506 612 504 612 502 612 501 600 498 600 496 601 492 606 491 630 489 636 491 639 494 638 500 640 506 639 510 629 514 616 523 598 530ZM1072 506 1070 506 1066 504 1065 502 1064 497 1066 496 1070 493 1074 492 1078 492 1082 495 1081 498 1078 502 1072 506ZM558 505 554 504 554 502 556 500 559 500 560 502 558 505ZM1136 529 1134 528 1136 524 1146 508 1156 502 1160 502 1164 503 1163 506 1161 508 1142 525 1136 529ZM666 509 664 509 664 508 666 507 667 508 666 509ZM260 523 258 522 255 518 253 514 254 511 258 510 262 511 264 513 267 516 268 518 267 520 260 523ZM686 516 682 515 681 514 684 513 688 514 686 516ZM1010 530 1004 530 1001 530 999 526 1000 522 1004 520 1014 519 1038 515 1046 517 1048 518 1049 520 1049 522 1046 524 1038 528 1010 530ZM1048 575 1042 575 1003 572 996 569 995 568 994 564 996 562 1000 561 1032 563 1040 563 1044 562 1045 560 1046 558 1044 553 1040 552 1032 550 1030 546 1030 544 1032 541 1034 539 1038 538 1043 540 1050 547 1062 554 1072 558 1080 560 1098 558 1114 562 1120 561 1126 559 1146 546 1158 542 1178 520 1182 518 1186 518 1185 522 1178 528 1177 532 1177 546 1175 550 1172 554 1160 560 1120 574 1106 572 1080 571 1056 567 1055 568 1052 572 1048 575ZM524 554 517 554 513 552 512 550 513 548 522 545 523 544 523 538 526 534 566 520 570 520 572 520 571 522 564 528 562 531 562 534 564 538 565 540 563 544 560 548 550 551 532 551 524 554ZM722 564 706 564 700 563 694 559 684 550 660 541 652 541 640 543 628 546 624 546 622 545 619 542 618 536 620 532 624 530 650 526 654 527 662 530 678 531 698 534 702 534 704 528 708 526 712 528 716 532 730 535 740 532 750 526 754 524 762 523 776 526 787 522 792 521 798 522 816 529 830 531 844 536 850 536 856 532 862 531 866 532 878 538 892 539 896 538 908 532 914 532 926 533 938 526 954 524 972 528 976 530 977 532 977 538 978 540 987 550 990 554 988 558 982 561 974 562 966 561 958 558 948 550 926 540 920 541 916 544 915 546 916 552 914 556 910 558 906 558 890 555 882 554 874 555 860 557 854 557 846 554 836 549 820 550 808 545 794 545 780 542 756 545 746 548 738 552 728 561 722 564ZM196 526 195 524 198 524 196 526ZM1132 534 1129 534 1128 532 1133 530 1133 532 1132 534ZM342 553 337 552 336 550 342 550 344 552 342 553ZM1236 558 1232 557 1231 554 1233 552 1236 552 1236 558ZM1188 646 1184 645 1182 643 1181 640 1181 636 1192 622 1199 612 1199 610 1192 607 1183 600 1180 598 1176 590 1164 588 1160 586 1158 582 1157 578 1159 574 1162 572 1168 572 1177 576 1182 580 1184 586 1202 594 1205 598 1205 606 1214 606 1217 608 1219 612 1219 616 1217 618 1208 625 1201 634 1188 646ZM1004 601 994 600 990 598 989 598 995 594 1004 593 1011 594 1017 596 1004 601ZM916 610 910 609 907 608 907 606 912 603 916 603 919 606 916 610Z"/>
<path fill="#e26e0a" fill-rule="evenodd" d="M1020 332 1010 332 1004 331 1001 328 1001 322 1004 320 1010 319 1018 319 1024 321 1027 324 1028 326 1026 330 1020 332ZM914 377 910 376 910 372 913 366 918 363 924 362 932 368 936 369 940 367 950 360 956 358 962 358 982 359 984 358 981 348 982 344 986 339 990 337 998 338 1006 346 1017 348 1020 352 1022 356 1022 362 1016 364 1010 363 1004 357 1002 356 990 360 988 362 988 366 986 368 981 372 976 373 936 374 924 372 914 377ZM1042 375 1032 374 1028 373 1024 368 1024 364 1028 362 1046 362 1062 359 1076 362 1080 364 1080 366 1078 368 1070 369 1052 374 1042 375ZM1090 419 1086 419 1080 418 1072 412 1064 408 1058 405 1052 404 1051 402 1051 400 1056 392 1060 389 1062 390 1065 394 1068 395 1076 397 1082 397 1086 396 1092 390 1112 383 1124 385 1128 387 1131 390 1135 400 1136 404 1134 405 1130 406 1120 399 1112 397 1108 403 1093 412 1091 414 1092 418 1090 419ZM874 414 870 413 860 404 850 399 849 396 850 392 852 391 856 391 870 402 878 403 883 404 884 406 883 410 878 412 874 414ZM910 393 909 392 910 391 910 393ZM1020 407 1016 406 1009 402 1018 404 1021 406 1020 407ZM1142 444 1134 444 1133 442 1135 440 1141 438 1146 437 1148 438 1149 440 1148 442 1142 444ZM284 452 276 451 274 450 273 448 277 444 284 441 292 440 295 442 296 444 295 448 290 450 284 452ZM1190 452 1186 452 1182 451 1179 448 1180 446 1182 444 1188 442 1194 442 1197 444 1199 446 1198 448 1194 450 1190 452ZM458 457 452 457 449 456 448 452 450 448 454 445 460 443 466 443 470 444 470 448 468 450 462 454 458 457ZM236 466 232 466 229 464 229 462 232 458 235 456 240 456 246 457 246 460 245 462 242 464 236 466ZM184 492 178 490 175 488 174 486 175 484 181 478 177 470 177 468 178 466 183 462 189 460 204 459 210 460 211 462 209 464 188 476 187 478 189 482 189 484 186 490 184 492ZM704 466 702 466 701 466 702 462 704 462 704 464 704 466ZM588 471 582 469 579 468 579 466 584 463 590 464 593 466 593 468 591 470 588 471ZM492 552 486 552 482 552 479 550 473 544 460 543 456 541 450 536 442 527 430 518 412 514 402 507 386 511 382 511 378 509 379 506 382 502 396 490 406 487 414 486 415 486 412 483 411 480 412 478 414 474 422 472 432 472 433 474 433 476 430 482 426 484 416 487 417 492 419 494 432 500 442 509 458 513 464 516 478 525 490 535 500 540 503 544 502 546 498 550 492 552ZM1106 491 1096 490 1093 488 1093 486 1101 478 1106 476 1116 475 1123 478 1123 480 1117 484 1114 488 1106 491ZM756 490 752 488 756 486 759 486 760 488 756 490ZM968 517 964 517 950 514 918 512 912 511 910 510 916 505 926 501 934 501 944 503 952 503 969 498 982 494 988 494 996 498 1000 499 1018 496 1026 497 1036 494 1043 490 1054 489 1056 489 1059 492 1058 494 1056 495 1044 496 1034 499 1024 499 1010 509 1004 511 998 510 992 505 982 504 978 506 973 514 968 517ZM598 529 592 529 588 526 583 518 584 514 586 512 590 510 594 508 609 508 614 506 615 504 614 500 605 496 605 494 607 494 626 491 632 491 636 494 637 496 636 500 640 506 640 508 638 510 629 514 614 522 598 529ZM1072 505 1070 505 1068 504 1066 502 1066 498 1068 495 1072 494 1076 494 1078 496 1079 498 1078 500 1072 505ZM558 504 556 503 556 502 558 502 558 504ZM1146 518 1145 512 1148 508 1154 504 1160 505 1160 506 1159 508 1148 516 1146 518ZM368 526 350 526 346 525 345 524 346 520 350 519 358 516 364 512 368 512 372 514 373 518 372 522 368 526ZM262 520 260 520 258 519 256 516 257 514 260 513 264 514 265 518 262 520ZM890 527 882 526 875 524 870 520 869 518 872 516 882 518 894 516 898 516 900 520 898 524 896 526 890 527ZM1036 529 1024 529 1014 527 1004 529 1001 528 1000 524 1002 522 1004 521 1014 520 1036 516 1042 516 1048 520 1048 522 1045 524 1040 527 1036 529ZM1046 575 1022 572 1006 572 998 569 996 567 995 564 996 562 1000 561 1030 564 1044 563 1047 560 1046 553 1052 552 1056 552 1064 557 1078 560 1098 559 1114 563 1120 562 1126 560 1133 554 1146 547 1158 542 1174 528 1178 522 1180 521 1181 522 1176 528 1174 530 1176 544 1175 550 1172 553 1160 560 1134 567 1122 573 1116 573 1108 571 1080 571 1056 565 1054 566 1052 572 1046 575ZM724 563 708 563 700 562 694 559 688 552 684 549 660 540 652 540 640 542 628 545 624 545 620 542 619 536 621 532 624 531 648 528 652 528 660 532 676 531 694 535 702 535 704 534 705 528 708 527 712 528 714 534 730 538 742 533 750 527 754 525 762 525 778 530 782 529 788 524 792 523 798 524 816 530 830 532 848 538 852 538 862 534 878 539 888 540 896 539 910 534 918 534 921 536 920 538 913 544 912 546 913 554 911 556 908 557 902 557 890 554 882 553 854 556 847 554 840 547 822 548 808 544 794 544 780 541 754 545 742 548 738 551 730 559 724 563ZM980 561 970 561 962 559 948 549 930 539 927 536 936 528 946 526 956 526 974 530 976 532 976 538 977 540 987 550 989 554 987 558 980 561ZM552 550 544 550 538 548 534 544 527 540 526 538 526 536 527 534 530 533 548 527 556 526 560 526 558 534 562 538 562 542 559 546 552 550ZM338 543 334 543 330 542 327 540 326 538 330 536 336 533 342 532 345 532 346 534 344 538 341 540 338 543ZM308 547 300 547 294 546 284 540 282 538 282 536 286 534 290 534 318 540 318 542 315 544 308 547ZM1040 550 1034 550 1031 548 1031 544 1034 541 1039 540 1044 544 1045 546 1044 547 1040 550ZM1174 588 1166 588 1160 585 1159 582 1158 580 1160 574 1164 573 1168 573 1176 576 1180 580 1181 582 1181 584 1174 588ZM1200 608 1192 607 1185 602 1181 596 1180 594 1180 592 1186 589 1190 589 1196 591 1203 594 1205 598 1205 600 1202 606 1200 608ZM1004 600 998 599 995 598 995 596 998 594 1002 594 1006 594 1009 596 1009 598 1004 600ZM916 609 912 609 910 608 908 608 908 606 912 604 916 604 917 606 916 609ZM1188 645 1186 645 1182 642 1181 638 1182 634 1191 624 1202 609 1208 606 1212 607 1216 608 1218 612 1217 618 1216 620 1207 624 1200 634 1188 645Z"/>
<path fill="#e75c08" fill-rule="evenodd" d="M1018 332 1010 332 1004 331 1001 328 1001 322 1006 320 1012 319 1020 320 1025 322 1027 324 1027 328 1024 330 1018 332ZM1018 363 1014 363 1010 362 1004 355 994 358 986 359 982 350 982 346 983 342 988 338 994 337 1000 340 1006 348 1016 348 1019 352 1021 356 1020 360 1018 363ZM976 373 970 373 946 373 942 372 941 370 946 363 956 359 964 359 986 361 987 364 986 368 982 370 976 373ZM1048 374 1038 374 1030 373 1025 370 1025 366 1026 364 1030 362 1048 362 1060 360 1069 362 1074 364 1063 370 1048 374ZM918 373 914 373 913 372 914 368 918 364 923 364 924 366 923 368 918 373ZM1086 415 1080 414 1064 408 1055 402 1054 400 1056 394 1058 392 1062 392 1066 395 1070 396 1078 398 1084 397 1086 396 1092 391 1114 383 1122 385 1126 386 1130 390 1133 396 1134 402 1132 404 1130 404 1120 398 1112 396 1111 398 1106 403 1086 415ZM862 400 852 398 850 396 851 394 854 392 858 393 862 398 862 400ZM876 411 872 411 870 410 864 404 864 402 870 403 878 404 880 406 880 408 876 411ZM286 450 280 449 278 448 278 446 282 443 288 443 291 444 291 446 290 448 286 450ZM1190 451 1184 450 1181 448 1181 446 1184 444 1188 443 1194 443 1196 444 1196 448 1190 451ZM458 456 454 456 450 454 449 452 451 448 456 445 460 444 466 444 468 446 469 448 467 450 462 454 458 456ZM190 474 184 474 180 472 178 468 180 464 185 462 190 460 198 461 203 462 202 466 199 468 190 474ZM588 470 582 468 580 467 581 466 584 464 590 464 591 466 591 468 588 470ZM424 483 415 482 414 480 414 478 416 475 420 474 426 474 428 476 428 480 426 482 424 483ZM1106 490 1100 490 1097 488 1097 486 1102 478 1106 476 1112 476 1118 476 1122 478 1121 480 1114 484 1112 488 1106 490ZM182 489 178 488 178 484 182 481 184 481 186 482 186 484 184 488 182 489ZM492 550 486 550 482 548 481 546 480 541 464 542 456 540 450 535 444 525 432 517 414 512 404 506 386 509 382 507 382 504 398 491 404 490 414 490 419 496 430 502 440 509 458 515 476 525 484 532 487 538 496 540 498 542 499 544 498 546 492 550ZM600 528 594 528 588 525 585 518 585 514 587 512 590 510 596 509 610 509 615 508 617 506 617 504 617 500 614 496 616 494 626 493 630 493 633 494 634 500 639 506 638 510 636 512 627 514 610 524 600 528ZM970 516 964 516 950 513 920 512 914 510 913 508 918 504 926 502 932 502 944 504 950 504 972 499 984 495 988 496 998 500 1010 498 1013 498 1014 500 1013 502 1009 508 1002 510 996 508 994 502 980 503 978 505 974 513 970 516ZM1070 504 1068 502 1067 498 1070 497 1074 497 1076 498 1076 500 1073 502 1070 504ZM368 525 362 524 357 520 361 516 364 513 370 514 372 518 371 522 368 525ZM1038 528 1030 528 1022 528 1017 526 1015 522 1020 519 1034 516 1040 516 1045 518 1047 520 1046 522 1043 526 1038 528ZM892 526 882 525 876 522 878 520 888 517 894 517 897 518 898 520 898 522 895 524 892 526ZM352 522 352 520 354 520 352 522ZM720 563 706 562 700 561 695 558 684 549 660 539 640 540 626 543 621 540 620 536 622 534 626 532 646 529 658 534 676 532 692 536 704 536 705 534 705 530 706 528 708 527 712 530 712 536 724 538 736 544 737 544 737 538 739 536 752 528 758 526 764 527 774 532 780 534 784 533 792 527 798 527 816 533 830 534 850 540 864 538 882 541 894 541 900 540 910 536 914 536 916 538 909 544 908 546 910 552 909 554 904 555 894 553 886 552 872 552 860 554 854 554 848 552 845 546 842 546 822 547 808 543 794 543 784 539 780 539 770 542 740 546 738 548 729 558 726 561 720 563ZM978 561 968 561 961 558 944 544 932 538 930 536 930 534 938 529 948 527 954 527 972 531 974 532 974 538 975 540 986 550 988 554 988 556 986 558 978 561ZM552 549 546 549 543 548 538 542 530 538 530 536 534 534 546 530 553 530 554 534 560 539 561 542 558 546 552 549ZM1048 574 1022 571 1009 572 998 569 997 568 996 566 997 564 1000 562 1028 565 1044 564 1050 562 1050 556 1052 555 1064 559 1078 562 1096 560 1102 560 1109 562 1116 566 1128 564 1134 556 1148 547 1158 543 1168 534 1172 533 1174 536 1175 538 1175 548 1172 553 1160 559 1142 564 1132 566 1123 570 1118 570 1114 567 1102 570 1080 570 1068 568 1054 563 1052 564 1052 570 1048 574ZM306 546 300 546 295 544 289 542 286 538 288 537 292 536 307 538 312 540 312 542 311 544 306 546ZM338 541 334 540 333 538 336 536 340 536 341 536 341 538 338 541ZM1038 548 1034 548 1032 546 1034 542 1038 541 1040 542 1041 544 1041 546 1038 548ZM1168 587 1162 585 1160 582 1159 578 1162 574 1166 573 1168 574 1176 578 1179 580 1178 583 1172 586 1168 587ZM1198 607 1194 607 1186 602 1182 598 1182 594 1184 592 1190 591 1194 591 1202 594 1204 598 1204 600 1202 604 1198 607ZM914 607 912 607 910 606 911 606 914 605 915 606 914 607ZM1188 644 1186 644 1184 642 1182 640 1182 636 1193 624 1200 613 1202 610 1208 607 1212 607 1215 608 1218 612 1217 618 1206 624 1200 634 1188 644Z"/>
<path fill="#ee4c05" fill-rule="evenodd" d="M1018 332 1008 332 1004 330 1002 327 1001 322 1006 320 1014 320 1020 321 1026 324 1027 326 1026 328 1022 330 1018 332ZM1018 362 1014 362 1011 362 1004 353 994 358 990 358 986 357 984 354 982 350 982 346 984 342 986 340 990 338 994 338 998 339 1001 342 1006 349 1013 348 1017 350 1020 356 1019 360 1018 362ZM972 373 948 372 946 370 944 368 946 366 949 362 958 359 970 360 984 363 985 366 983 368 978 372 972 373ZM1050 373 1040 373 1030 373 1027 370 1025 366 1027 364 1030 363 1060 361 1066 362 1069 364 1068 366 1065 368 1050 373ZM1086 413 1080 413 1064 407 1056 402 1057 398 1059 394 1062 393 1068 396 1074 398 1084 397 1092 392 1114 384 1126 386 1129 390 1132 394 1133 400 1130 403 1128 403 1118 398 1112 396 1110 397 1106 402 1086 413ZM1190 450 1186 449 1184 448 1183 446 1188 444 1194 445 1194 446 1194 448 1190 450ZM456 455 454 454 451 452 451 450 453 448 456 446 460 445 464 445 466 446 466 448 464 452 456 455ZM190 472 186 472 182 471 181 468 181 466 184 463 188 461 194 461 198 462 199 464 198 468 190 472ZM586 468 583 466 584 466 587 466 586 468ZM422 479 418 479 417 478 420 476 422 476 423 478 422 479ZM1104 489 1101 488 1103 484 1103 480 1105 478 1114 476 1118 477 1121 478 1118 482 1111 484 1108 488 1104 489ZM470 541 460 541 454 538 449 532 445 524 436 515 417 512 406 505 390 507 386 506 386 504 394 495 398 492 408 492 412 492 418 498 426 502 438 511 455 516 470 522 478 526 482 532 483 536 480 538 470 541ZM600 527 594 527 589 524 586 518 586 514 588 512 592 510 598 509 614 511 618 510 621 508 620 498 624 496 627 496 638 506 638 508 636 510 626 513 608 524 600 527ZM968 516 962 515 950 512 934 512 921 512 917 510 915 508 920 505 928 503 934 502 944 505 948 505 962 501 976 500 984 497 986 497 990 498 989 500 988 500 978 501 976 501 974 512 972 514 968 516ZM1004 509 1002 509 998 508 996 506 996 504 1000 502 1006 502 1008 506 1007 508 1004 509ZM368 524 364 523 361 520 362 516 364 514 368 515 370 518 370 522 368 524ZM1036 528 1024 527 1020 526 1018 522 1021 520 1032 517 1038 516 1044 518 1046 520 1045 524 1041 526 1036 528ZM892 525 884 524 882 524 881 522 888 518 894 518 896 518 897 520 896 522 892 525ZM762 542 746 542 742 541 742 538 743 536 751 530 758 528 766 530 773 534 774 536 772 540 762 542ZM974 561 966 560 961 558 947 544 934 539 932 536 932 534 938 530 948 528 952 529 970 534 973 540 984 548 987 554 986 556 984 558 974 561ZM708 535 706 534 705 532 706 529 708 529 710 530 711 532 710 534 708 535ZM830 546 820 546 806 541 792 541 787 538 786 536 792 530 800 529 806 531 816 535 834 536 840 538 844 542 842 544 830 546ZM626 541 622 540 622 536 624 534 628 532 644 532 647 532 650 536 648 537 638 537 626 541ZM554 547 550 547 546 546 542 540 536 536 540 534 546 534 558 541 558 542 557 544 554 547ZM722 562 706 562 700 560 696 558 684 548 665 540 662 538 662 536 670 534 678 533 690 536 708 537 716 538 724 540 732 546 734 550 733 554 729 558 722 562ZM1142 563 1138 562 1136 561 1136 558 1139 554 1148 548 1156 544 1168 535 1170 535 1174 537 1175 540 1175 546 1174 550 1172 552 1158 559 1142 563ZM306 544 300 544 296 542 295 542 298 540 304 540 307 542 306 544ZM862 552 856 552 852 550 850 548 850 544 852 543 860 541 868 540 900 544 901 546 903 550 902 551 874 550 862 552ZM492 547 488 547 486 546 486 544 490 543 492 543 494 544 492 547ZM1036 545 1035 544 1036 543 1036 545ZM1102 569 1088 569 1071 566 1064 564 1059 562 1064 561 1078 564 1092 561 1100 561 1106 562 1108 564 1107 566 1102 569ZM1048 573 1046 573 1022 569 1016 571 1010 571 1005 570 1004 568 1006 566 1010 565 1022 567 1048 564 1051 566 1051 568 1050 571 1048 573ZM1170 585 1164 585 1162 583 1160 580 1162 576 1164 574 1168 575 1176 580 1175 582 1170 585ZM1198 606 1194 606 1188 602 1184 598 1183 594 1186 593 1192 592 1196 593 1202 595 1203 598 1203 600 1201 604 1198 606ZM1188 642 1186 642 1184 641 1183 638 1183 636 1194 624 1200 614 1208 608 1212 608 1214 609 1217 614 1216 618 1204 624 1199 634 1188 642Z"/>
<path fill="#f43503" fill-rule="evenodd" d="M1014 332 1008 331 1004 330 1002 327 1002 323 1006 321 1014 320 1022 321 1026 324 1026 328 1024 330 1014 332ZM996 357 992 357 988 357 984 351 983 348 984 344 986 340 990 339 994 338 998 340 1002 343 1004 348 1004 352 996 357ZM1016 361 1012 360 1010 357 1007 352 1008 350 1012 349 1016 352 1018 358 1016 361ZM974 372 968 372 952 371 948 370 947 368 948 366 951 362 960 360 974 361 983 364 984 366 982 368 974 372ZM1048 373 1038 373 1030 372 1027 370 1027 366 1030 364 1036 363 1060 362 1064 364 1064 366 1060 368 1048 373ZM1086 412 1080 412 1064 407 1058 402 1058 398 1062 395 1074 398 1084 398 1086 397 1092 392 1114 384 1126 387 1129 390 1131 394 1132 398 1130 401 1126 401 1116 397 1112 396 1106 402 1086 412ZM456 453 454 452 454 448 458 446 462 447 463 448 461 450 456 453ZM188 471 186 470 184 469 183 466 184 464 190 462 195 464 196 466 195 468 188 471ZM1114 483 1106 483 1104 482 1104 480 1106 478 1110 477 1116 477 1119 478 1119 480 1114 483ZM396 505 394 504 392 502 393 498 396 494 408 493 412 496 413 500 412 503 396 505ZM970 515 962 515 952 510 948 510 930 512 919 510 917 508 920 506 928 503 934 503 948 507 952 506 962 502 970 501 974 503 975 508 973 512 970 515ZM630 512 624 512 623 510 623 506 624 503 628 502 632 503 637 506 638 508 637 510 630 512ZM1004 508 1002 508 998 508 998 506 998 504 1000 503 1004 503 1006 506 1004 508ZM598 527 592 526 588 520 587 516 590 512 596 510 602 510 617 514 615 518 609 522 598 527ZM368 522 366 522 363 520 363 518 364 516 366 516 368 518 369 520 368 522ZM1034 528 1024 526 1020 524 1020 522 1026 518 1036 517 1040 517 1044 520 1044 522 1042 526 1034 528ZM892 524 888 524 883 522 884 521 888 520 892 519 895 520 895 522 892 524ZM470 540 460 540 454 537 450 534 449 530 448 528 450 525 456 521 460 520 468 522 476 526 480 530 481 534 478 538 470 540ZM980 560 970 560 962 558 957 554 950 542 936 539 933 536 933 534 938 531 946 530 954 531 962 534 980 546 985 550 987 554 986 556 984 558 980 560ZM708 533 707 532 708 531 710 532 708 533ZM766 540 752 540 748 539 748 538 749 536 753 532 760 531 764 532 769 536 769 538 766 540ZM802 540 796 540 792 540 790 538 789 536 792 533 796 532 804 532 808 534 809 538 802 540ZM724 561 710 561 700 560 696 557 684 547 670 540 667 538 671 536 678 535 688 537 714 539 724 541 730 546 733 550 732 552 730 556 724 561ZM832 545 824 545 820 544 813 542 810 538 818 537 828 536 834 538 839 540 839 542 832 545ZM1154 560 1143 560 1142 558 1141 556 1145 550 1156 545 1166 537 1170 536 1172 537 1174 540 1174 544 1172 550 1160 558 1154 560ZM552 544 550 544 550 542 552 542 552 544ZM864 549 858 548 856 546 860 544 868 543 885 544 888 546 882 548 864 549ZM1098 568 1088 568 1084 566 1086 564 1092 563 1100 563 1103 564 1102 566 1098 568ZM1048 572 1038 569 1038 568 1048 565 1050 568 1050 570 1048 572ZM1014 571 1008 570 1006 568 1007 568 1012 566 1018 568 1018 570 1014 571ZM1166 583 1164 583 1162 580 1162 578 1164 576 1169 576 1172 580 1166 583ZM1198 605 1194 605 1190 602 1185 598 1185 596 1188 594 1192 593 1196 593 1200 596 1202 598 1202 600 1201 602 1198 605ZM1190 640 1185 640 1184 638 1184 636 1197 624 1198 618 1201 614 1208 609 1212 608 1214 610 1216 614 1215 618 1200 624 1200 628 1199 632 1190 640Z"/>
<path fill="#fa1d00" fill-rule="evenodd" d="M1020 331 1012 331 1004 330 1002 328 1002 324 1004 322 1010 320 1016 320 1021 322 1024 324 1026 326 1024 329 1020 331ZM994 357 990 357 988 356 985 354 983 350 984 346 985 342 988 340 990 339 994 339 998 340 1001 344 1003 348 1003 350 1001 352 994 357ZM1012 355 1010 354 1010 351 1012 351 1014 352 1012 355ZM970 372 952 370 950 368 950 366 951 364 953 362 962 361 974 362 981 364 981 366 978 370 970 372ZM1040 373 1030 371 1028 370 1028 366 1030 365 1038 364 1060 364 1060 366 1058 368 1052 370 1040 373ZM1086 411 1080 411 1064 406 1059 402 1058 400 1059 398 1060 396 1062 396 1074 399 1084 398 1087 398 1092 392 1114 385 1124 387 1128 389 1130 392 1131 398 1128 400 1126 400 1116 396 1112 396 1106 402 1086 411ZM190 468 188 468 186 466 188 464 191 464 192 466 190 468ZM1114 482 1108 482 1106 481 1105 480 1110 478 1117 478 1118 480 1117 480 1114 482ZM398 503 396 502 394 500 395 498 396 496 409 496 409 498 407 500 398 503ZM968 515 964 515 960 513 955 510 954 508 957 504 962 503 968 502 972 503 974 506 974 510 972 513 968 515ZM632 511 628 511 626 510 625 508 625 506 628 504 636 505 637 506 636 508 632 511ZM936 511 926 511 920 510 919 508 920 506 924 505 932 504 938 506 940 508 939 510 936 511ZM1004 507 1002 507 1000 506 1001 504 1003 504 1004 506 1004 507ZM598 526 594 525 589 522 588 516 590 513 596 511 602 511 606 512 612 516 612 518 609 522 604 524 598 526ZM1038 527 1026 527 1022 525 1021 522 1022 520 1028 518 1036 517 1040 517 1043 520 1044 522 1042 524 1038 527ZM890 523 886 522 889 520 892 520 890 523ZM470 539 462 539 455 536 450 532 450 528 450 527 454 524 462 522 468 523 474 525 478 530 480 534 477 536 470 539ZM976 560 968 559 962 557 956 552 954 542 938 539 935 536 935 534 937 532 942 531 952 531 959 534 962 539 978 545 985 550 986 554 983 558 976 560ZM762 538 757 538 756 536 758 535 760 535 763 536 762 538ZM800 538 796 538 793 536 795 534 800 534 802 536 800 538ZM830 544 821 544 816 542 816 540 820 538 826 537 832 538 835 540 835 542 830 544ZM1156 559 1150 559 1146 558 1144 556 1144 554 1148 549 1156 546 1166 538 1170 537 1172 538 1174 544 1172 550 1160 557 1156 559ZM722 561 708 560 700 559 696 556 684 545 678 542 676 539 678 538 686 539 700 538 716 540 724 542 730 546 731 548 731 552 728 558 722 561ZM1016 569 1014 569 1009 568 1010 568 1012 567 1015 568 1016 569ZM1198 604 1194 604 1190 602 1188 600 1187 596 1192 594 1200 596 1201 598 1201 600 1198 604ZM1206 621 1200 620 1200 618 1202 614 1208 609 1212 609 1214 610 1216 614 1214 617 1210 619 1206 621ZM1190 637 1188 637 1187 636 1194 630 1196 630 1198 630 1196 634 1190 637Z"/>
<path fill="#fe0700" fill-rule="evenodd" d="M1018 331 1010 331 1004 330 1002 328 1002 324 1005 322 1010 320 1016 321 1022 322 1025 324 1025 326 1022 329 1018 331ZM996 356 992 356 988 356 984 351 984 348 984 344 986 342 990 340 994 339 996 340 1000 342 1002 346 1002 348 1001 352 996 356ZM972 371 965 370 955 368 953 368 953 366 957 362 962 361 974 362 978 364 979 366 978 368 972 371ZM1046 372 1034 371 1030 370 1029 368 1032 365 1040 364 1050 365 1054 366 1052 370 1046 372ZM1084 411 1078 410 1064 406 1060 402 1059 398 1062 396 1074 400 1086 399 1092 393 1114 385 1124 387 1128 389 1130 392 1130 396 1128 399 1124 400 1112 395 1106 401 1092 408 1084 411ZM1114 481 1110 481 1107 480 1110 478 1113 478 1115 480 1114 481ZM968 514 964 514 960 512 956 508 956 506 962 503 971 504 973 506 973 508 972 512 968 514ZM632 510 628 510 626 508 626 506 630 505 634 506 635 508 632 510ZM932 511 926 510 921 508 923 506 928 505 932 505 936 506 937 508 932 511ZM600 525 594 525 590 522 589 518 591 514 594 512 600 511 605 512 609 516 610 518 608 520 604 523 600 525ZM1036 527 1030 527 1026 526 1023 524 1023 522 1026 520 1034 518 1038 517 1041 518 1043 520 1042 524 1040 526 1036 527ZM470 538 462 538 456 537 452 532 451 528 454 526 460 524 466 523 470 525 476 528 478 532 476 536 470 538ZM956 540 950 540 942 540 938 538 936 536 937 534 942 532 950 532 955 534 958 536 958 538 956 540ZM1154 559 1146 558 1145 556 1145 552 1150 549 1158 547 1166 539 1170 538 1172 540 1173 544 1170 550 1160 557 1154 559ZM722 560 706 560 700 558 689 548 686 544 686 542 692 540 700 539 716 541 724 543 729 548 731 552 728 556 722 560ZM826 543 822 542 820 540 824 539 830 540 830 542 826 543ZM980 559 970 559 962 556 957 550 956 546 957 544 960 541 966 542 972 543 980 547 984 550 985 554 984 556 980 559ZM1196 603 1194 602 1190 601 1189 598 1194 596 1198 597 1200 598 1200 600 1196 603ZM1210 619 1205 618 1203 618 1202 616 1203 614 1208 611 1212 610 1214 612 1215 614 1214 617 1210 619Z"/>
<path fill="#ef060b" fill-rule="evenodd" d="M1018 331 1010 331 1005 330 1003 328 1002 324 1006 322 1010 321 1016 321 1021 322 1024 324 1024 328 1021 330 1018 331ZM994 356 988 355 986 352 985 350 985 344 988 341 990 340 994 340 998 341 1001 346 1001 350 1000 352 994 356ZM972 370 962 368 959 368 957 366 959 364 964 362 970 363 976 364 976 366 976 368 972 370ZM1048 371 1042 371 1036 371 1032 370 1031 368 1032 366 1036 365 1048 365 1051 366 1051 368 1050 370 1048 371ZM1086 410 1078 409 1064 405 1061 402 1060 400 1062 397 1072 400 1086 399 1088 398 1092 394 1102 390 1108 389 1114 386 1124 387 1127 390 1129 392 1130 396 1126 399 1124 399 1114 395 1110 395 1106 400 1092 408 1086 410ZM966 514 962 513 959 512 957 508 958 506 962 504 968 504 971 504 972 506 972 510 970 512 966 514ZM632 509 628 509 627 508 628 506 632 506 632 508 632 509ZM932 510 926 510 925 508 928 506 932 506 934 508 932 510ZM600 524 596 524 592 522 590 518 591 514 594 513 598 512 602 513 606 514 608 518 608 520 606 522 600 524ZM1038 526 1028 526 1025 524 1024 522 1025 520 1028 520 1038 518 1042 520 1042 522 1042 524 1038 526ZM470 537 464 537 458 536 454 533 452 529 454 527 460 525 464 524 470 526 474 528 476 532 474 535 470 537ZM954 539 950 539 944 539 939 538 937 536 939 534 942 532 950 532 956 536 956 538 954 539ZM1156 558 1148 557 1146 556 1146 554 1150 550 1158 548 1161 544 1166 539 1170 539 1171 540 1172 544 1170 550 1156 558ZM724 559 720 559 712 559 701 558 698 555 691 548 689 546 689 542 693 540 700 540 716 542 724 544 728 548 730 552 728 556 724 559ZM978 559 969 558 962 556 958 550 958 546 962 543 968 543 974 544 980 547 983 550 984 554 983 556 978 559ZM1212 617 1208 617 1206 614 1209 612 1212 612 1213 612 1214 614 1212 617Z"/>
<path fill="#e20c14" fill-rule="evenodd" d="M1016 331 1006 329 1003 328 1003 324 1006 322 1012 321 1018 322 1023 324 1024 326 1022 328 1016 331ZM996 355 990 355 987 354 986 351 985 348 986 345 990 341 996 341 998 343 1001 346 1000 350 996 355ZM972 368 967 368 965 366 966 364 970 364 972 366 972 368ZM1044 371 1036 370 1033 368 1036 366 1042 365 1046 366 1049 368 1047 370 1044 371ZM1088 409 1082 409 1078 408 1064 403 1062 400 1064 399 1068 402 1086 399 1092 394 1102 390 1108 390 1113 386 1116 386 1124 388 1129 392 1129 396 1126 399 1110 394 1106 400 1100 402 1093 406 1088 409ZM968 513 964 513 961 512 958 508 959 506 962 504 970 505 971 506 972 509 970 512 968 513ZM600 523 596 522 592 520 591 518 592 515 596 513 600 513 605 516 606 518 606 520 603 522 600 523ZM1036 526 1029 526 1027 524 1025 522 1027 520 1029 520 1039 518 1041 520 1041 522 1040 524 1036 526ZM464 537 460 536 456 534 454 532 454 529 458 527 462 526 466 526 470 528 473 530 473 534 469 536 464 537ZM950 539 942 538 939 536 942 534 946 533 950 534 953 536 953 538 950 539ZM1156 557 1150 557 1148 556 1147 554 1150 550 1158 548 1162 544 1166 541 1170 541 1172 544 1170 549 1156 557ZM722 559 710 558 702 556 692 548 691 546 691 544 694 541 700 541 716 543 724 545 728 548 729 552 726 556 722 559ZM978 558 972 558 964 556 959 552 959 548 959 546 962 544 968 544 974 545 978 547 983 550 984 554 982 556 978 558Z"/>
<path fill="#d4111d" fill-rule="evenodd" d="M1018 330 1014 330 1007 330 1004 328 1003 324 1006 322 1010 322 1019 322 1022 324 1023 326 1021 328 1018 330ZM992 355 990 354 988 353 986 348 988 343 992 341 998 343 1000 348 1000 350 998 352 992 355ZM1088 408 1080 408 1076 406 1075 404 1078 402 1088 400 1092 395 1100 391 1104 391 1110 391 1114 387 1124 388 1126 390 1128 392 1128 396 1124 398 1110 393 1106 398 1096 401 1093 406 1088 408ZM966 512 961 510 961 506 964 505 969 506 969 510 966 512ZM602 520 598 520 596 516 598 515 600 516 602 518 602 520ZM1038 525 1030 525 1028 522 1030 520 1038 519 1040 520 1040 522 1039 524 1038 525ZM466 535 460 534 457 532 456 530 460 528 466 528 468 532 466 535ZM722 558 712 557 702 555 694 548 693 546 694 544 696 542 700 542 724 547 727 550 727 552 725 556 722 558ZM1154 556 1150 554 1150 552 1154 551 1160 550 1164 544 1166 543 1169 544 1169 546 1168 549 1160 552 1157 554 1154 556ZM976 558 970 557 964 556 960 552 960 548 964 545 968 545 974 545 978 548 982 550 982 554 980 556 976 558Z"/>
<path fill="#c61424" fill-rule="evenodd" d="M1016 330 1010 330 1006 329 1004 326 1004 324 1007 322 1012 322 1016 322 1020 324 1022 326 1022 328 1016 330ZM994 354 989 352 987 348 988 344 992 342 996 343 999 346 998 350 994 354ZM1124 398 1113 394 1111 392 1112 390 1114 388 1116 387 1124 389 1127 392 1128 394 1127 396 1124 398ZM1086 408 1079 406 1077 406 1078 404 1082 402 1090 400 1092 396 1102 392 1106 391 1108 392 1108 394 1106 397 1095 400 1092 406 1086 408ZM964 509 963 508 964 509ZM1036 523 1032 522 1036 521 1038 522 1036 523ZM720 557 711 556 705 554 697 548 696 546 696 544 698 543 702 543 722 548 725 550 726 552 724 555 720 557ZM976 557 970 557 966 555 962 552 962 548 964 546 968 546 972 546 977 548 980 550 981 552 980 555 976 557Z"/>
<path fill="#ab142d" fill-rule="evenodd" d="M1018 329 1010 329 1006 328 1005 326 1006 324 1008 323 1016 322 1019 324 1021 326 1020 328 1018 329ZM994 353 990 352 988 348 990 345 992 343 996 344 998 348 997 350 994 353ZM1126 397 1122 397 1114 394 1112 392 1113 390 1116 387 1124 390 1127 394 1127 396 1126 397ZM1098 399 1092 399 1092 398 1102 392 1106 392 1107 394 1106 397 1098 399ZM1088 407 1082 407 1079 404 1081 402 1084 402 1089 402 1091 402 1091 404 1088 407ZM976 556 970 556 966 554 963 552 963 548 968 546 976 548 979 550 980 552 978 554 976 556ZM720 555 714 554 713 552 712 550 716 549 722 550 723 552 720 555Z"/>
<path fill="#e6ede7" fill-rule="evenodd" d="M562 470 558 469 555 466 555 462 556 458 560 456 574 452 582 448 578 446 568 448 562 447 558 446 557 444 557 440 559 438 564 437 578 437 579 436 579 432 580 430 592 431 594 433 602 440 602 442 599 446 600 449 604 452 608 452 610 450 613 448 611 438 612 432 613 430 618 428 635 424 646 420 647 418 644 416 631 410 629 408 629 406 630 404 636 398 636 396 632 395 628 395 612 402 604 407 590 409 572 414 570 416 569 418 569 426 552 434 546 435 532 433 530 434 528 436 528 438 529 444 531 448 531 450 526 458 520 459 514 459 510 458 502 451 496 449 480 450 479 450 481 444 480 442 476 440 470 439 450 442 439 446 438 448 439 452 438 458 436 460 432 461 416 462 402 465 398 464 392 460 388 459 372 462 370 461 367 458 367 456 369 454 372 452 384 451 389 448 389 444 386 438 380 437 368 441 362 441 356 438 351 430 349 428 322 422 314 422 310 422 304 426 294 428 282 426 274 427 264 434 248 437 240 440 234 446 224 450 192 453 182 453 178 452 176 448 179 444 178 442 170 440 170 433 173 432 170 427 170 380 176 382 182 386 183 388 181 392 182 396 196 404 195 406 192 410 192 412 196 416 202 418 206 418 214 412 228 409 246 403 252 403 262 408 266 409 292 404 295 402 296 400 294 396 288 393 268 393 254 391 240 392 236 390 230 386 226 385 225 386 226 388 231 392 229 396 226 398 220 400 214 401 208 401 206 400 204 398 203 392 203 388 206 384 210 381 220 378 221 376 220 376 212 372 198 371 188 374 170 376 170 334 176 335 186 339 190 339 194 338 206 330 216 327 217 326 213 322 208 322 182 329 178 328 174 325 170 323 170 313 180 310 183 308 183 306 182 304 178 300 174 298 170 297 170 282 173 280 249 280 250 285 254 287 259 286 260 280 338 280 342 282 350 283 360 286 384 288 386 290 386 292 382 294 372 298 369 300 369 304 366 308 366 310 368 313 370 314 374 315 378 314 382 312 390 305 408 299 412 298 413 296 412 294 404 287 400 286 386 285 384 284 384 280 467 280 466 288 467 290 470 291 474 290 476 288 477 286 477 280 608 280 612 282 617 280 676 280 680 282 686 283 692 282 694 280 752 280 749 286 757 290 759 292 758 294 753 298 752 300 753 300 762 304 782 309 785 308 785 306 778 303 767 294 764 292 761 280 803 280 803 286 804 288 808 291 812 291 837 286 839 284 837 280 861 280 864 284 878 290 882 289 885 286 885 280 910 280 905 288 906 290 916 296 927 306 942 313 943 316 944 318 942 321 940 322 928 319 924 319 920 324 911 326 908 328 903 334 902 336 902 338 926 339 942 333 950 332 956 334 964 344 964 346 960 348 932 346 924 352 918 354 914 353 900 349 894 349 888 350 884 352 881 356 880 358 882 362 886 366 902 368 904 370 903 372 896 376 896 378 894 380 890 382 864 379 852 375 840 372 832 366 831 364 832 362 832 361 834 360 850 370 854 371 858 370 862 368 863 366 863 362 860 356 861 352 870 346 884 346 888 344 890 342 890 340 876 337 874 330 867 320 862 316 856 315 855 316 856 324 854 328 833 340 827 346 827 348 833 350 836 352 835 354 834 356 830 356 822 352 814 352 810 351 807 348 806 346 806 342 808 340 830 324 840 318 844 314 842 312 834 309 830 309 829 310 828 316 824 319 818 321 806 319 802 319 790 328 787 334 773 342 768 346 773 348 790 350 796 352 799 360 807 366 805 374 808 380 808 384 802 383 786 378 776 373 770 372 767 372 765 374 766 376 771 382 772 384 771 388 768 390 756 390 740 393 728 397 720 397 710 395 698 388 692 387 684 388 681 390 682 400 684 403 692 409 702 407 710 407 730 414 732 416 732 418 728 421 720 423 700 423 698 421 694 413 690 411 684 414 682 416 682 418 684 421 686 423 698 424 703 432 702 435 701 436 690 434 684 431 674 428 664 423 658 422 655 424 658 428 672 436 675 438 675 440 672 446 661 452 652 455 634 454 612 458 600 457 590 458 574 462 562 470ZM998 334 986 333 983 332 981 326 985 320 985 318 950 310 945 308 945 306 957 300 964 295 972 293 974 290 978 280 1052 280 1050 282 1042 286 1036 293 1020 293 1006 289 1002 290 1000 291 1000 296 1004 304 1005 310 1003 312 994 318 998 322 1000 328 1000 332 998 334ZM1192 414 1184 412 1175 406 1170 405 1168 406 1163 412 1158 413 1150 411 1145 406 1144 402 1146 399 1152 396 1158 391 1172 388 1178 384 1177 382 1170 378 1166 376 1165 372 1166 366 1161 360 1154 357 1146 358 1144 360 1146 366 1146 370 1140 374 1132 375 1129 372 1126 364 1117 356 1118 356 1122 354 1152 346 1172 344 1177 342 1180 336 1184 335 1200 336 1206 335 1208 332 1207 330 1202 320 1198 317 1190 316 1178 318 1168 324 1158 334 1152 336 1130 341 1118 339 1117 340 1120 344 1121 346 1117 352 1117 356 1106 363 1100 365 1096 364 1090 362 1078 354 1077 352 1080 351 1091 348 1095 346 1094 344 1084 338 1062 342 1054 345 1052 348 1052 352 1050 356 1043 358 1036 359 1032 358 1028 356 1024 348 1022 347 1006 343 1003 340 1002 336 1006 334 1028 332 1038 327 1052 327 1056 325 1057 322 1053 316 1048 312 1038 309 1036 307 1035 304 1038 297 1040 294 1046 294 1060 296 1074 297 1078 298 1081 300 1087 308 1088 316 1106 319 1112 318 1114 316 1115 314 1111 312 1112 310 1114 309 1120 308 1135 308 1144 304 1156 304 1160 302 1159 300 1156 297 1138 298 1115 290 1116 288 1126 284 1129 280 1151 280 1154 286 1156 287 1160 288 1164 286 1167 280 1195 280 1192 286 1195 288 1200 289 1204 289 1206 288 1208 280 1236 280 1236 289 1230 290 1222 295 1219 298 1218 300 1219 304 1224 310 1230 314 1236 316 1236 373 1220 373 1200 366 1190 367 1185 368 1184 370 1184 378 1186 380 1202 385 1214 386 1217 386 1218 388 1216 391 1202 391 1192 395 1191 396 1191 398 1196 404 1197 408 1196 412 1192 414ZM228 304 229 302 220 298 218 296 222 290 220 286 218 286 212 286 206 288 204 290 204 292 211 298 212 302 212 304 220 304 228 304ZM593 290 594 290 594 288 592 286 590 288 589 290 590 290 593 290ZM958 293 954 293 950 292 948 290 948 288 950 287 954 288 958 290 958 293ZM898 308 896 306 878 295 876 295 875 296 875 300 881 304 894 309 896 309 898 308ZM352 398 355 394 351 390 352 388 354 386 358 386 366 387 371 392 376 390 368 386 367 382 368 376 376 369 378 368 388 369 394 369 401 366 406 359 416 360 423 358 424 358 423 356 414 350 413 348 414 342 412 340 398 338 396 336 392 332 388 330 378 331 371 332 368 335 364 341 362 343 358 343 355 338 352 338 343 338 348 332 347 328 344 325 340 324 329 324 324 322 322 320 322 318 325 314 322 312 312 310 294 309 292 307 289 300 284 298 274 300 258 308 259 310 268 311 286 312 289 314 290 318 289 320 274 334 270 336 266 337 254 334 228 333 222 334 219 338 219 340 222 346 222 352 225 356 236 363 252 366 258 365 263 358 266 354 284 345 292 343 300 344 305 346 304 354 295 360 295 362 298 362 312 360 314 356 318 354 332 350 338 350 342 354 350 357 352 356 356 351 364 346 368 346 378 348 379 350 379 352 372 362 370 364 364 364 354 361 352 362 346 372 343 374 304 373 298 375 296 378 296 380 298 382 310 388 315 396 318 398 324 398 332 394 340 392 346 393 348 398 352 398ZM487 356 492 355 498 349 512 348 518 349 524 354 528 356 536 356 542 354 546 352 547 346 552 339 552 330 553 322 550 322 540 325 532 326 531 328 531 332 529 332 518 334 514 333 508 326 500 320 504 317 512 318 518 317 520 314 519 312 516 309 510 309 502 312 496 313 494 314 495 318 495 320 478 326 478 328 480 332 480 334 461 350 462 354 466 355 482 357 487 356ZM412 326 416 324 417 322 416 320 412 319 404 321 402 322 400 326 400 327 404 327 412 326ZM717 326 716 324 713 324 714 326 717 326ZM665 370 668 368 670 362 672 360 688 358 700 352 712 350 713 348 710 346 706 345 692 349 666 348 650 343 646 342 642 344 640 343 634 339 627 330 622 329 618 329 618 330 619 334 623 336 623 340 624 342 633 348 641 358 654 366 660 371 665 370ZM597 354 600 352 600 348 599 346 596 344 594 343 588 345 582 350 583 352 588 354 594 354 597 354ZM749 360 752 358 754 356 755 352 754 350 750 348 744 346 740 347 735 348 735 350 736 352 746 360 749 360ZM568 354 570 352 568 350 564 349 560 350 560 352 562 354 566 354 568 354ZM501 394 514 390 524 393 546 392 548 390 546 384 546 382 549 378 549 374 546 370 540 368 532 366 522 366 518 366 517 368 522 373 528 380 529 382 526 384 520 386 516 385 513 382 510 374 506 373 494 375 491 376 486 381 482 383 478 381 475 378 476 375 482 372 482 370 480 368 476 367 460 367 438 361 436 362 436 368 438 370 450 372 458 378 461 382 461 390 466 393 468 393 480 388 484 388 496 394 501 394ZM570 384 576 381 586 377 598 378 602 377 606 374 606 372 603 366 598 363 594 362 588 363 584 366 582 371 573 374 566 380 566 382 568 384 570 384ZM730 384 735 376 747 370 749 366 748 363 746 363 732 366 719 372 716 380 717 382 724 384 730 384ZM966 403 964 403 963 402 958 392 954 388 946 387 926 388 923 386 923 384 926 381 932 382 938 383 958 378 974 378 982 374 994 366 1000 365 1019 368 1028 377 1030 379 1048 380 1056 380 1044 396 1036 401 1030 401 1025 396 1025 394 1028 392 1028 390 1027 386 1024 385 1018 386 1012 390 1006 391 996 396 980 398 966 403ZM632 382 642 380 646 376 640 374 626 372 622 373 620 376 619 378 622 382 626 383 632 382ZM1082 391 1078 391 1072 389 1066 382 1061 378 1066 375 1078 375 1086 372 1090 373 1091 376 1092 384 1091 386 1082 391ZM890 397 882 396 879 394 878 392 880 390 886 388 890 387 894 387 896 389 896 392 894 396 890 397ZM411 418 427 414 436 409 436 406 431 398 431 392 430 390 426 389 422 390 420 392 422 396 421 398 414 402 411 406 406 416 408 417 411 418ZM768 431 758 430 748 428 742 424 741 422 744 420 748 419 762 420 764 418 763 412 766 409 774 406 785 406 778 402 774 400 773 396 774 394 798 394 806 395 810 396 811 400 808 403 800 406 788 408 791 412 790 416 776 422 774 424 772 430 768 431ZM660 396 661 394 657 394 656 396 660 396ZM1140 489 1134 489 1130 489 1129 486 1130 478 1128 476 1124 473 1118 472 1110 472 1104 474 1076 485 1072 485 1064 480 1065 478 1075 470 1074 468 1070 466 1064 467 1056 473 1051 476 1050 476 1050 480 1049 480 1044 482 1039 482 1037 480 1038 480 1043 476 1032 470 1028 466 1026 460 1028 459 1040 457 1046 456 1048 454 1048 450 1042 442 1038 439 1008 432 1007 430 1008 426 1010 423 1014 423 1033 428 1042 432 1060 431 1070 435 1074 434 1079 432 1100 429 1116 422 1116 418 1109 408 1112 399 1114 398 1118 400 1124 404 1140 424 1142 430 1141 432 1138 435 1132 436 1124 436 1112 441 1108 444 1108 448 1110 451 1112 453 1124 452 1126 453 1128 458 1128 466 1128 468 1132 470 1142 476 1146 480 1147 482 1145 486 1140 489ZM934 428 928 427 923 422 920 415 914 410 915 408 918 404 924 400 932 400 944 403 955 408 954 412 948 420 940 426 934 428ZM866 459 858 458 844 454 832 452 826 448 814 444 808 440 807 438 808 436 820 434 831 430 833 428 832 424 841 418 841 416 840 413 826 406 828 404 836 401 840 401 844 403 851 408 856 412 857 414 857 420 860 424 866 427 878 430 883 434 884 436 883 438 872 443 866 448 866 450 868 451 875 456 872 458 866 459ZM470 406 469 404 466 402 464 402 464 404 466 406 470 406ZM509 416 510 414 508 412 498 407 488 407 480 408 480 410 494 413 506 417 509 416ZM559 408 557 408 559 408ZM998 415 990 415 988 414 988 412 990 409 996 410 1000 412 1000 414 998 415ZM1236 417 1226 417 1223 414 1227 412 1236 409 1236 417ZM1054 422 1052 422 1048 421 1046 417 1045 414 1050 412 1054 413 1056 414 1057 418 1056 420 1054 422ZM1236 463 1235 452 1234 450 1224 442 1216 439 1190 431 1186 431 1178 434 1172 434 1172 432 1174 426 1178 424 1198 420 1216 422 1228 426 1236 427 1236 463ZM972 449 964 449 954 446 942 448 934 448 928 447 914 441 903 438 910 436 926 432 956 438 970 434 970 436 969 440 974 448 972 449ZM318 510 314 510 310 509 288 494 288 492 288 490 295 478 295 476 292 473 288 472 280 473 266 479 254 482 250 480 249 478 249 476 252 473 280 465 306 451 316 448 318 446 319 440 322 438 326 438 338 441 350 442 351 444 351 446 343 452 341 462 332 468 337 476 336 478 334 482 334 484 338 486 346 488 350 489 351 492 350 500 348 502 334 504 318 510ZM430 448 427 448 430 448ZM1016 452 1012 452 1010 450 1012 449 1016 449 1017 450 1016 452ZM170 464 170 453 180 454 179 456 170 464ZM998 467 992 467 990 465 988 460 989 456 992 455 996 454 1002 454 1006 455 1007 458 1006 460 1003 464 998 467ZM786 488 780 488 778 484 779 482 789 478 790 476 789 474 782 470 766 469 756 466 751 462 750 460 751 458 754 456 760 455 770 456 782 459 804 468 805 470 804 472 795 478 792 484 786 488ZM956 491 950 490 944 488 916 490 908 487 872 481 865 478 861 476 864 474 880 471 902 461 936 456 939 458 940 460 940 466 942 467 959 466 964 467 967 470 967 474 964 477 960 479 950 478 945 484 945 486 946 486 958 482 962 482 965 484 965 486 964 488 956 491ZM712 519 704 519 700 518 700 516 703 508 703 506 702 505 688 504 685 502 683 500 685 498 690 498 706 498 706 496 701 486 698 483 680 477 668 476 668 474 671 470 680 464 690 462 692 462 696 471 701 476 704 480 708 482 716 483 726 482 733 476 736 474 742 474 746 476 747 478 745 480 730 486 727 492 722 498 725 502 726 504 722 516 718 518 712 519ZM1208 481 1204 481 1188 476 1182 474 1177 470 1184 467 1196 466 1210 467 1218 470 1218 472 1216 474 1208 481ZM1006 489 1000 489 980 483 976 480 975 476 978 474 984 471 990 470 1008 478 1011 480 1013 484 1012 486 1010 488 1006 489ZM532 525 528 525 523 524 514 518 512 517 500 519 492 524 490 524 486 522 483 514 483 510 487 506 504 498 506 496 506 494 502 492 494 490 484 490 460 501 456 502 453 502 451 500 446 492 447 488 450 485 459 482 465 478 478 474 486 475 494 480 502 482 510 482 520 478 534 480 537 482 536 485 526 482 520 482 515 484 513 490 514 494 519 500 520 509 522 510 538 513 541 516 541 518 539 520 532 525ZM660 485 656 485 653 484 662 481 662 482 660 485ZM222 508 216 508 207 506 204 504 203 502 208 497 220 492 221 488 223 486 230 484 236 486 239 488 238 490 226 495 224 506 222 508ZM210 488 206 488 205 486 206 485 210 486 211 486 210 488ZM376 489 372 489 371 488 374 485 378 485 379 486 376 489ZM824 515 822 514 816 508 810 500 809 498 810 496 814 495 822 494 832 496 842 496 844 490 848 488 862 486 870 487 886 494 900 491 912 493 914 494 916 496 913 498 898 502 886 509 884 509 876 505 866 504 848 509 832 509 824 515ZM1218 515 1216 514 1212 509 1208 507 1190 510 1183 510 1174 502 1169 494 1168 490 1170 488 1174 487 1190 486 1196 487 1202 490 1218 488 1224 490 1232 496 1236 497 1236 510 1218 515ZM1114 556 1102 554 1092 549 1085 550 1084 552 1082 553 1074 552 1068 548 1062 544 1060 540 1061 536 1060 536 1048 532 1046 530 1060 523 1066 524 1074 528 1078 529 1088 526 1099 520 1100 520 1100 518 1092 514 1089 510 1090 502 1091 500 1094 499 1100 498 1130 500 1134 499 1144 494 1150 494 1150 496 1149 498 1139 504 1131 516 1118 526 1086 534 1104 540 1105 542 1103 544 1104 546 1108 548 1114 549 1124 547 1126 546 1127 542 1140 536 1152 536 1156 537 1156 538 1155 540 1151 542 1131 544 1128 548 1118 554 1114 556ZM660 499 657 498 662 495 664 495 660 499ZM766 511 764 510 764 509 761 498 765 496 770 496 770 498 766 504 766 511ZM172 517 170 517 170 502 180 504 192 505 193 506 189 510 172 517ZM576 512 567 512 564 510 564 508 568 503 572 502 578 502 580 504 581 506 580 510 576 512ZM1028 512 1025 512 1028 512ZM688 526 678 526 674 524 672 522 674 521 678 520 693 522 693 524 688 526ZM434 544 428 544 416 540 408 532 399 526 398 524 401 522 410 525 422 527 436 532 439 536 440 538 438 542 434 544ZM1204 577 1200 577 1192 573 1176 570 1172 568 1169 566 1170 562 1173 558 1178 556 1188 555 1193 550 1192 548 1184 543 1183 540 1182 538 1184 534 1188 528 1196 525 1214 524 1220 525 1236 523 1236 541 1222 542 1221 542 1220 536 1216 535 1210 536 1207 538 1206 542 1208 544 1217 546 1215 552 1215 556 1222 564 1224 568 1222 570 1218 572 1204 577ZM1236 686 1132 686 1128 684 1125 686 1106 686 1105 680 1106 678 1112 674 1113 672 1113 670 1110 669 1104 668 1090 670 1087 666 1086 662 1090 658 1102 651 1105 642 1112 637 1116 635 1122 635 1129 638 1132 639 1138 638 1142 636 1142 634 1134 630 1133 628 1133 626 1137 622 1137 620 1134 618 1130 617 1118 620 1112 622 1100 629 1094 630 1074 624 1073 622 1069 616 1067 614 1056 613 1028 616 1025 618 1024 622 1025 626 1028 628 1050 629 1056 630 1067 640 1078 646 1078 649 1070 654 1068 660 1060 664 1050 673 1046 674 1041 672 1037 670 1033 666 1028 664 1020 664 1010 668 990 665 983 662 979 656 972 654 969 656 968 658 974 671 986 677 1000 680 1002 682 1004 686 886 686 882 676 888 674 898 675 902 674 905 670 906 668 906 660 908 661 915 666 936 674 940 673 947 664 943 658 942 652 940 650 910 653 908 653 907 652 908 648 912 642 916 639 920 638 930 637 936 638 944 644 946 644 945 642 938 637 936 634 937 632 944 632 948 630 950 628 948 626 944 625 936 625 932 626 930 630 914 631 896 628 889 624 885 620 890 618 898 615 918 613 929 604 929 600 924 594 904 584 886 590 873 600 874 602 882 608 884 620 883 620 876 623 855 628 851 630 850 638 851 640 863 648 865 650 856 651 852 650 844 646 838 646 834 649 830 656 826 662 826 664 828 666 844 670 862 671 874 667 879 674 871 678 871 680 872 686 794 686 796 682 796 680 786 668 781 664 786 658 787 656 780 652 774 652 771 652 768 656 768 658 773 662 773 664 766 667 764 670 763 686 746 686 744 680 738 672 723 666 722 664 725 658 725 654 722 649 716 647 708 649 703 652 702 654 704 662 702 663 688 658 672 656 662 650 656 650 655 652 656 654 664 660 664 662 662 666 662 668 668 676 669 678 668 686 635 686 628 676 626 674 600 668 590 670 581 672 578 676 572 686 529 686 533 676 532 674 526 670 513 668 501 658 501 656 508 648 508 640 509 638 516 637 534 640 537 642 540 648 548 652 552 657 556 658 556 655 550 644 550 640 552 637 556 636 570 642 580 643 584 642 586 640 585 638 582 635 572 630 564 630 550 632 544 631 540 629 535 622 530 620 520 620 512 625 508 626 502 626 498 624 498 622 499 620 508 609 512 606 518 606 540 608 548 602 560 598 563 596 558 594 548 592 541 592 532 595 526 595 525 594 526 590 526 588 522 584 518 583 514 584 512 586 514 590 520 594 520 596 516 600 510 601 490 598 480 603 476 606 475 610 478 616 476 622 476 626 474 630 468 634 467 636 468 638 470 639 482 640 486 642 486 644 485 646 475 650 472 652 473 656 484 662 482 664 478 667 468 669 454 669 444 672 434 672 429 672 411 680 408 682 408 686 385 686 386 682 392 678 393 676 391 666 391 664 400 660 402 658 401 656 395 650 393 648 394 646 401 638 402 636 396 630 398 630 403 630 405 632 407 636 424 641 431 634 431 630 432 624 429 622 418 620 412 618 408 616 406 611 404 611 384 617 378 617 376 616 376 610 372 606 364 603 356 603 337 604 335 606 334 608 337 610 349 614 354 620 353 626 359 638 353 648 352 650 354 654 358 657 378 657 384 658 386 660 386 664 382 668 370 676 358 678 358 676 357 660 356 659 350 659 342 661 337 666 336 668 336 674 336 680 338 682 340 682 356 678 357 678 357 686 327 686 325 684 320 680 310 677 298 681 294 684 292 686 248 686 247 682 244 680 224 676 215 672 213 664 204 659 201 654 201 652 204 648 202 644 194 643 188 644 187 646 184 652 180 655 178 654 172 648 170 647 170 631 186 627 190 624 192 622 188 616 190 610 185 606 182 600 181 596 182 592 182 590 176 586 170 584 170 565 178 565 182 566 190 570 200 576 216 589 220 590 226 588 239 578 242 574 241 572 238 571 227 568 225 560 226 556 234 544 236 536 241 532 248 529 256 532 259 536 258 538 252 540 250 542 253 550 254 564 256 568 258 570 266 573 278 573 286 572 298 566 304 565 310 568 315 576 334 581 350 578 358 576 356 574 350 572 349 570 351 568 360 564 362 560 359 552 354 546 354 544 356 540 362 538 369 540 376 546 376 550 372 558 371 562 374 565 378 567 382 567 390 559 394 557 424 559 430 558 436 554 442 553 448 555 454 558 456 562 454 566 455 570 458 572 464 573 470 574 473 572 467 564 468 562 472 561 480 560 494 561 504 561 528 566 543 566 546 568 550 572 554 576 560 578 564 580 566 579 570 576 574 574 588 568 596 562 596 560 594 560 578 555 574 552 572 550 574 546 580 544 594 542 606 537 608 538 614 545 615 550 603 556 599 560 609 570 622 575 630 577 634 575 636 570 635 566 630 558 630 556 631 554 640 550 656 546 662 547 670 550 702 567 720 571 726 569 736 561 744 558 760 552 766 550 774 551 776 552 777 554 772 556 756 559 754 562 753 566 758 568 768 568 774 572 778 573 782 572 790 569 810 572 816 572 820 570 824 564 834 562 864 565 882 565 894 567 914 567 932 560 942 558 946 558 962 564 988 565 996 572 1006 575 1038 578 1054 575 1064 579 1076 578 1090 580 1106 580 1111 580 1115 582 1114 584 1112 586 1102 591 1098 591 1088 585 1080 585 1071 586 1060 594 1078 601 1082 602 1092 599 1110 598 1116 599 1122 602 1132 600 1140 604 1148 610 1154 612 1174 606 1180 607 1185 610 1185 612 1184 613 1182 615 1170 618 1167 620 1166 622 1168 626 1176 629 1179 642 1182 648 1186 650 1190 650 1196 644 1202 639 1213 636 1214 634 1213 630 1215 628 1228 621 1236 620 1236 650 1230 652 1228 654 1230 658 1236 660 1236 675 1224 678 1221 678 1219 680 1222 683 1236 681 1236 686ZM1010 557 1004 556 998 554 987 542 986 540 986 537 988 536 992 535 1004 536 1020 536 1026 538 1024 540 1017 542 1015 548 1017 554 1010 557ZM188 555 182 555 170 552 170 540 182 538 186 538 193 540 201 546 200 548 188 555ZM280 550 278 550 274 550 270 548 272 546 276 546 278 548 280 550ZM1038 560 1032 560 1026 559 1021 556 1021 554 1026 552 1036 554 1040 556 1040 558 1038 560ZM637 586 641 584 640 582 636 579 628 578 626 579 624 582 625 584 629 586 632 587 637 586ZM704 634 710 632 712 630 711 628 702 624 701 622 706 614 706 608 709 606 714 604 718 603 724 604 730 607 734 607 740 605 749 598 754 597 760 596 774 599 777 598 777 596 764 590 756 582 748 579 742 579 732 582 720 583 716 585 710 590 706 600 704 604 683 614 680 616 678 620 679 624 682 626 700 634 704 634ZM1200 585 1195 582 1196 580 1200 580 1202 582 1201 584 1200 585ZM440 606 460 599 460 598 460 590 462 587 464 584 465 582 460 581 454 581 446 583 442 585 420 588 418 588 418 592 417 592 407 598 409 602 416 605 434 607 440 606ZM668 590 667 588 663 584 658 583 655 584 657 588 661 590 664 591 668 590ZM993 606 1036 598 1039 596 1040 594 1038 592 1036 592 1005 590 999 588 990 585 986 585 985 590 982 592 979 596 979 600 981 604 984 606 988 606 993 606ZM838 600 852 599 854 598 848 594 840 591 829 592 825 596 826 598 828 600 838 600ZM1236 598 1228 597 1225 594 1226 593 1236 593 1236 598ZM258 620 276 618 283 614 285 612 285 610 282 608 268 605 263 602 260 596 256 596 247 606 247 608 248 616 250 618 252 620 258 620ZM616 604 618 604 619 602 616 599 614 600 613 602 614 604 616 604ZM282 656 282 654 281 652 272 651 269 650 268 648 268 644 272 641 278 640 296 641 316 650 322 651 328 649 334 643 341 640 342 638 330 632 330 626 324 620 325 614 325 612 322 610 316 610 310 612 308 618 300 622 298 628 296 630 286 632 280 636 276 636 266 633 262 633 252 639 239 644 237 646 240 647 254 649 262 652 270 653 280 657 282 656ZM612 646 614 644 613 638 614 636 624 629 628 627 632 627 650 629 658 632 662 632 664 630 664 624 666 618 665 614 662 611 655 612 630 618 608 621 596 628 595 630 596 632 601 638 608 644 612 646ZM581 622 582 620 581 620 566 613 548 612 546 612 544 614 548 616 570 621 576 622 581 622ZM788 630 809 624 812 622 811 620 809 618 804 615 796 614 788 615 786 616 787 624 785 628 785 630 788 630ZM368 625 368 624 369 624 368 625ZM771 634 777 632 776 630 756 628 750 627 749 628 752 632 757 634 764 635 771 634ZM880 632 876 631 873 630 872 630 878 628 882 628 884 630 880 632ZM978 638 979 636 980 634 978 632 974 631 966 631 959 634 972 638 978 638ZM898 643 890 643 888 642 888 640 890 636 896 634 902 634 907 636 907 638 906 640 898 643ZM1014 656 1019 652 1020 650 1018 646 1014 644 1008 642 1002 642 997 644 994 646 994 648 995 650 1000 654 1008 656 1014 656ZM876 664 873 660 872 652 876 651 880 650 886 652 888 656 887 658 882 661 876 664ZM451 664 453 660 453 658 450 654 446 654 443 658 444 662 446 664 451 664ZM250 666 254 666 256 664 254 658 252 656 244 656 234 658 239 666 244 667 250 666ZM194 680 188 679 182 678 179 674 179 670 184 668 192 667 198 668 203 670 204 672 202 676 198 678 194 680ZM1150 680 1158 676 1160 674 1159 672 1154 670 1150 671 1146 676 1146 679 1150 680ZM718 686 675 686 678 682 684 677 692 674 700 673 708 674 715 678 718 680 718 686ZM1040 686 1015 686 1013 674 1016 674 1034 679 1039 682 1040 686ZM628 686 591 686 592 680 593 676 596 675 600 674 608 675 616 678 626 682 629 684 629 686 628 686ZM488 686 431 686 432 682 434 680 440 677 446 676 484 681 488 682 488 686ZM1082 686 1061 686 1064 683 1074 681 1080 682 1082 686Z"/>
<path fill="#e2eee5" fill-rule="evenodd" d="M406 463 400 463 396 459 392 458 386 458 374 460 372 460 370 459 369 456 372 454 386 452 390 450 391 448 390 442 388 438 384 436 380 436 370 439 364 439 358 436 353 430 350 428 314 421 309 422 294 427 282 426 274 427 264 433 248 435 237 440 232 446 224 450 206 451 192 453 178 452 176 448 180 444 180 442 176 440 170 439 170 435 174 434 175 432 170 426 170 381 176 383 181 386 182 388 180 392 180 396 193 404 193 406 190 410 190 412 196 417 202 420 206 419 216 413 230 410 244 405 250 405 260 410 266 410 294 405 298 403 298 400 295 396 288 392 272 393 256 389 244 390 238 389 228 382 223 374 217 372 198 370 187 374 170 375 170 336 176 337 188 341 190 341 196 339 208 331 214 330 219 330 220 332 217 340 219 346 220 352 221 354 234 363 254 368 258 368 260 366 264 360 266 357 284 347 290 344 298 344 302 346 305 348 303 354 291 360 291 362 294 363 310 360 313 360 320 354 330 351 335 352 347 358 349 360 349 364 347 366 342 371 338 372 314 371 296 368 295 370 292 376 292 380 294 382 308 388 310 390 314 398 320 400 324 399 333 394 338 393 342 394 346 400 350 402 352 402 356 397 360 394 384 392 386 392 384 390 372 385 370 382 369 380 369 378 374 373 380 370 392 369 398 368 402 366 406 361 428 361 432 363 436 370 452 374 459 380 461 384 460 390 462 396 459 404 461 406 479 412 494 414 504 418 508 419 511 418 511 414 506 409 500 407 496 406 482 406 478 405 472 400 471 398 471 396 476 392 484 390 488 391 494 395 498 396 502 396 512 392 524 394 547 394 550 392 551 390 548 384 551 378 550 374 546 370 540 367 528 364 522 364 515 366 508 371 490 374 485 380 480 380 478 378 478 376 486 372 486 370 484 367 478 366 466 365 452 363 440 359 430 357 417 350 416 346 419 342 418 340 414 338 402 338 397 336 396 332 398 330 412 328 418 325 419 322 418 320 416 318 410 318 404 320 396 327 392 328 378 330 372 331 366 334 362 340 358 341 354 337 347 336 349 330 344 323 342 322 332 323 327 322 325 320 328 316 327 314 321 312 296 307 293 304 292 300 290 298 284 297 276 298 260 306 256 307 244 305 224 297 222 294 224 290 224 288 222 286 220 284 210 286 203 288 201 290 201 292 207 298 209 304 240 306 254 311 282 313 287 314 288 316 288 318 275 332 268 335 246 333 227 330 225 326 212 320 196 325 180 329 178 327 174 323 170 321 170 314 182 311 184 308 185 306 183 304 178 298 178 292 170 291 170 284 174 283 176 280 248 280 250 286 254 288 261 286 262 284 261 280 335 280 338 283 342 284 350 285 360 287 380 288 385 290 385 292 384 293 370 296 361 300 359 302 365 314 368 315 374 316 382 314 392 306 412 300 415 298 417 296 416 294 404 286 400 285 388 284 386 282 385 280 466 280 465 290 466 292 468 292 472 291 477 288 478 286 478 280 558 280 560 282 564 283 568 282 569 280 603 280 612 283 616 282 619 280 675 280 678 282 686 284 693 282 695 280 750 280 747 286 754 290 757 292 756 296 750 300 751 300 760 305 780 310 786 308 788 306 776 301 768 294 766 292 763 280 802 280 802 286 803 290 806 292 812 292 840 286 841 284 840 280 859 280 861 286 871 290 872 292 872 298 874 300 881 304 898 311 901 310 900 308 885 298 882 294 882 292 887 286 887 280 908 280 907 284 904 288 903 288 904 290 916 297 928 307 942 314 943 316 942 320 940 322 928 318 924 318 920 323 908 327 898 336 894 338 890 338 882 337 879 336 874 328 866 318 860 315 856 314 855 316 856 322 854 327 830 341 827 344 824 350 816 352 812 352 808 350 807 348 806 344 808 340 832 324 841 318 845 314 844 312 836 308 828 308 825 310 825 314 822 318 818 319 806 317 801 318 787 328 782 334 762 346 764 348 768 348 776 350 790 350 796 352 797 354 798 360 805 366 804 374 807 380 807 382 802 382 788 378 776 371 769 370 764 372 763 374 764 378 770 384 769 386 766 388 740 392 730 395 724 396 716 396 710 394 705 390 705 388 706 385 712 384 726 386 731 386 732 384 736 377 747 372 751 368 752 362 757 354 758 350 757 348 752 346 746 345 740 346 734 348 733 348 733 350 742 358 743 360 742 362 720 367 718 367 710 364 706 364 703 366 704 368 712 372 714 374 714 378 712 380 704 385 682 386 680 387 678 388 681 400 688 408 687 410 680 416 680 420 686 425 694 426 696 428 699 432 698 434 693 434 686 429 676 426 666 421 652 420 642 414 632 410 630 408 631 404 639 398 640 396 634 394 628 392 604 406 590 408 570 414 568 416 568 424 567 426 552 433 544 434 528 431 526 436 527 442 527 446 529 450 526 456 522 458 516 459 510 458 502 450 496 448 482 449 482 444 481 442 476 440 470 439 454 441 438 446 425 446 421 448 418 452 434 450 436 450 438 454 436 458 430 461 416 461 406 463ZM996 334 986 333 982 330 982 328 982 324 984 321 988 318 954 310 949 308 947 306 950 304 961 300 973 294 975 292 979 280 1047 280 1042 284 1036 290 1032 292 1020 292 1004 288 1000 290 998 292 998 296 1002 304 1002 310 1001 312 991 318 996 320 998 323 1000 332 998 333 996 334ZM1180 379 1174 379 1168 376 1167 372 1170 368 1170 366 1160 357 1152 356 1144 357 1142 360 1144 366 1144 370 1140 372 1134 374 1132 373 1130 372 1128 366 1123 360 1123 358 1126 355 1136 353 1150 348 1174 345 1184 337 1202 337 1208 336 1210 334 1210 330 1204 318 1198 315 1188 315 1178 317 1168 323 1158 332 1152 335 1132 339 1120 336 1114 337 1111 340 1116 344 1116 348 1110 358 1104 362 1100 363 1096 363 1090 361 1082 354 1083 352 1096 349 1099 346 1098 344 1092 340 1090 334 1088 332 1084 332 1074 338 1060 341 1052 344 1051 346 1051 352 1049 356 1046 358 1038 359 1034 359 1028 357 1024 348 1022 346 1006 343 1003 340 1002 336 1006 334 1029 332 1040 328 1052 329 1058 327 1060 324 1059 320 1048 311 1039 308 1038 306 1039 298 1044 295 1048 295 1060 297 1076 298 1080 300 1086 308 1085 312 1081 316 1082 318 1084 319 1094 319 1106 321 1112 319 1117 316 1117 314 1112 312 1112 310 1116 309 1124 308 1138 309 1146 305 1158 305 1162 304 1162 302 1162 300 1158 296 1152 295 1136 296 1120 290 1120 288 1128 283 1131 280 1149 280 1152 287 1156 289 1160 289 1166 287 1168 284 1169 280 1190 280 1186 286 1186 288 1194 290 1204 291 1208 291 1209 290 1210 280 1236 280 1236 288 1230 289 1219 294 1217 296 1216 300 1218 304 1222 310 1230 315 1236 317 1236 373 1218 372 1212 370 1202 365 1184 365 1182 366 1181 368 1182 376 1180 379ZM594 290 595 288 594 287 592 286 590 286 588 290 590 291 594 290ZM568 360 573 356 576 354 592 356 598 355 602 352 601 344 598 342 594 341 578 349 562 347 552 349 551 348 551 346 555 340 554 328 555 326 558 321 556 320 550 320 542 324 530 326 528 330 526 332 518 333 514 330 504 320 506 319 516 318 520 316 521 314 520 311 516 309 512 309 493 312 491 314 491 318 490 320 475 326 475 328 477 332 477 334 469 342 459 348 458 352 460 355 464 357 484 358 491 356 498 350 514 348 518 350 524 355 528 357 539 356 552 352 562 359 566 360 568 360ZM720 328 720 326 716 322 714 321 711 322 711 324 713 326 716 328 720 328ZM666 372 669 368 672 363 674 361 690 359 700 353 714 351 716 348 713 346 706 344 700 344 692 348 684 348 666 347 648 342 644 342 640 343 634 338 632 336 631 332 628 330 620 328 612 328 616 333 622 337 624 342 632 348 640 359 654 366 660 372 666 372ZM920 353 914 352 904 349 894 346 900 342 906 340 930 340 941 334 948 333 950 333 955 336 958 340 958 344 956 345 950 346 932 344 924 350 920 353ZM368 362 364 362 358 360 355 358 355 356 358 352 364 348 368 348 374 349 376 350 376 354 372 359 368 362ZM890 380 884 380 868 379 862 378 857 374 857 372 862 369 865 366 863 356 865 352 872 349 880 349 882 350 879 356 879 358 880 362 882 364 886 366 898 367 902 369 903 370 902 372 894 376 892 378 890 380ZM186 366 188 361 196 358 197 356 196 354 192 350 188 351 184 358 177 362 180 366 186 366ZM568 388 573 386 578 382 586 379 592 378 600 379 604 378 608 376 608 372 604 365 598 361 592 360 584 362 581 364 578 370 562 380 562 382 564 388 568 388ZM1036 401 1032 401 1027 398 1027 396 1030 392 1031 390 1028 386 1026 384 1019 386 1010 389 1002 391 986 393 976 398 968 399 964 398 958 390 954 387 946 386 928 387 924 386 923 384 926 382 932 383 940 383 957 378 974 378 982 375 994 366 1004 365 1020 369 1030 379 1054 381 1052 384 1043 396 1036 401ZM631 384 642 380 647 378 647 376 640 373 624 372 620 374 617 376 618 380 622 383 626 384 631 384ZM522 384 518 384 515 382 514 378 516 374 520 374 525 378 526 382 522 384ZM1082 390 1078 390 1072 388 1063 378 1068 376 1078 375 1086 373 1088 374 1090 376 1091 384 1088 387 1082 390ZM216 400 212 400 208 399 206 396 204 392 204 388 206 386 210 383 214 381 218 381 220 382 222 388 227 394 227 396 224 398 216 400ZM1192 412 1186 411 1174 405 1168 404 1165 404 1163 410 1162 411 1158 412 1156 412 1147 408 1145 406 1145 402 1146 400 1156 397 1162 392 1174 389 1184 383 1190 383 1197 386 1200 388 1201 388 1192 393 1189 396 1190 398 1195 406 1195 410 1192 412ZM402 420 418 417 432 412 437 410 438 406 433 398 433 392 432 390 426 388 420 390 419 392 419 396 418 398 411 404 404 414 397 420 398 421 402 420ZM888 397 882 396 880 394 880 392 882 390 888 388 892 388 894 389 895 392 894 394 888 397ZM662 396 665 394 654 394 651 394 651 396 656 397 662 396ZM798 405 792 405 784 403 778 400 777 396 780 394 792 394 804 395 808 398 808 400 807 402 798 405ZM1136 489 1132 489 1130 488 1129 476 1126 473 1124 472 1114 472 1106 473 1074 485 1070 484 1068 480 1070 474 1077 468 1074 466 1068 465 1064 466 1056 472 1050 474 1044 474 1036 472 1031 468 1028 460 1030 459 1046 456 1049 454 1049 450 1043 442 1040 439 1034 437 1012 432 1009 430 1010 426 1012 424 1016 424 1030 428 1042 433 1058 432 1068 436 1074 436 1081 432 1100 429 1116 423 1117 418 1110 410 1110 406 1112 399 1114 398 1118 400 1124 404 1140 424 1141 428 1142 430 1141 432 1138 435 1132 436 1124 435 1112 440 1108 444 1108 448 1110 452 1112 453 1124 452 1127 454 1128 460 1128 468 1132 471 1142 477 1145 480 1145 484 1143 486 1140 487 1136 489ZM938 426 930 426 924 423 920 415 917 410 917 408 918 404 924 401 932 401 943 404 952 408 952 412 949 418 944 423 938 426ZM868 458 858 458 836 452 830 447 818 445 812 442 811 440 813 438 834 430 836 428 836 424 842 418 843 416 842 414 839 412 830 408 828 406 829 404 836 402 844 403 850 408 855 412 856 414 856 420 859 424 864 428 876 430 881 432 882 436 881 438 868 444 864 448 864 450 870 456 868 458ZM376 406 377 404 372 404 367 404 366 406 370 406 376 406ZM561 410 562 409 563 408 562 406 560 406 551 406 546 408 548 410 561 410ZM722 422 712 422 702 421 698 418 696 412 700 408 708 408 722 412 729 414 730 416 729 418 722 422ZM774 421 770 421 766 416 766 412 768 410 774 408 780 408 786 410 789 412 789 414 787 416 774 421ZM1236 415 1228 415 1227 414 1231 412 1236 410 1236 415ZM994 413 992 412 994 411 995 412 994 413ZM1052 420 1048 418 1047 416 1047 414 1050 413 1054 414 1055 418 1052 420ZM242 420 243 420 242 419 239 420 242 420ZM766 428 758 428 750 428 746 426 744 422 746 421 750 421 767 424 768 426 766 428ZM618 456 612 456 610 456 610 454 614 450 616 448 614 436 614 432 616 430 622 428 644 423 650 423 656 430 670 436 674 440 673 444 669 446 662 452 656 454 650 454 634 452 618 456ZM1236 448 1222 440 1200 433 1188 427 1186 427 1181 430 1176 432 1173 432 1173 428 1174 427 1177 426 1186 426 1196 422 1200 422 1214 423 1228 427 1236 428 1236 448ZM562 469 560 469 556 466 555 462 558 459 581 450 587 446 580 443 570 446 564 446 559 444 560 440 566 438 580 440 582 438 583 434 584 432 590 432 595 436 598 440 597 444 600 452 600 454 596 456 584 459 574 462 562 469ZM944 447 936 447 930 446 913 440 912 438 920 434 928 433 946 438 952 440 952 442 951 444 944 447ZM320 509 314 509 310 508 298 500 293 494 291 492 291 488 297 478 296 476 292 472 288 472 280 473 266 479 254 482 251 480 249 476 252 473 278 466 291 460 306 452 318 449 321 446 322 442 324 440 328 440 342 445 343 446 341 452 340 460 338 463 331 466 329 468 335 474 335 476 334 479 328 481 316 478 312 478 310 480 311 482 315 484 328 484 346 489 347 492 347 498 344 500 332 503 320 509ZM644 442 645 442 644 440 641 442 642 443 644 442ZM970 447 966 447 963 446 961 444 961 442 964 441 966 441 970 446 970 447ZM409 456 413 456 417 452 408 453 402 454 401 456 402 456 409 456ZM172 463 170 463 170 453 178 454 178 456 177 458 172 463ZM998 466 994 466 990 464 989 460 991 456 994 455 1000 455 1004 456 1006 457 1006 460 1005 462 1001 464 998 466ZM796 474 792 474 782 470 766 468 754 464 752 462 752 460 756 457 762 456 770 456 780 459 800 468 801 470 800 472 796 474ZM932 488 920 488 910 486 878 481 870 478 867 476 880 471 902 462 914 460 932 458 936 458 938 460 938 468 942 470 946 470 952 467 958 466 962 467 966 470 966 474 964 477 958 478 948 476 939 486 932 488ZM718 496 712 495 707 492 702 483 692 480 680 475 670 474 670 472 673 470 679 466 686 463 690 463 694 470 699 476 704 482 728 484 727 488 725 492 722 494 718 496ZM1208 479 1202 479 1190 476 1183 472 1182 470 1187 468 1198 467 1210 468 1216 470 1217 472 1215 474 1212 477 1208 479ZM1006 487 1000 487 982 483 978 480 977 476 979 474 984 472 990 472 1006 482 1008 484 1006 487ZM456 501 453 500 448 492 447 490 447 488 452 485 460 482 467 478 472 476 478 474 484 475 498 482 504 483 512 483 514 484 510 493 500 490 486 489 480 491 470 496 456 501ZM738 483 730 482 731 478 734 476 740 475 744 478 744 480 743 480 738 483ZM534 483 530 482 532 481 534 483ZM784 486 782 486 782 484 784 482 786 483 787 484 784 486ZM230 492 226 491 225 490 226 488 230 486 235 488 235 490 230 492ZM826 513 822 513 818 508 812 500 812 498 818 496 828 497 846 496 847 496 846 492 848 490 856 487 864 487 872 489 880 494 886 500 892 502 892 504 890 506 886 508 884 508 878 504 870 503 862 504 854 508 848 509 832 508 830 509 826 513ZM958 488 956 488 958 487 958 488ZM1220 513 1216 513 1212 508 1208 507 1190 509 1184 509 1174 501 1170 494 1169 490 1174 488 1188 487 1194 488 1200 492 1216 490 1224 491 1232 497 1236 499 1236 509 1220 513ZM908 500 898 500 897 498 897 496 898 494 902 494 910 494 913 496 912 498 908 500ZM220 507 208 505 206 504 205 502 208 499 212 497 220 496 222 498 223 502 222 506 220 507ZM532 525 526 525 522 524 516 517 512 516 500 518 492 522 490 522 486 519 485 510 486 508 489 506 505 500 512 496 516 500 516 508 518 510 532 512 538 514 540 516 540 518 539 520 536 522 532 525ZM1096 531 1088 531 1085 530 1103 520 1105 518 1103 516 1094 513 1091 510 1090 506 1091 502 1092 500 1100 499 1130 501 1136 500 1144 496 1146 496 1147 496 1145 500 1138 504 1133 512 1130 516 1118 524 1104 529 1096 531ZM694 503 690 502 687 500 692 499 696 500 696 502 694 503ZM712 518 704 518 702 516 703 514 706 508 708 502 714 500 720 501 723 504 721 514 718 516 712 518ZM574 512 568 511 565 510 565 508 567 504 570 503 574 502 578 503 580 505 581 508 578 510 574 512ZM172 515 170 515 170 505 176 506 186 506 188 508 186 510 172 515ZM684 526 676 524 673 522 674 521 680 520 688 522 690 522 689 524 684 526ZM1210 574 1204 574 1192 571 1178 571 1172 568 1170 566 1169 564 1171 560 1176 557 1180 556 1190 556 1198 552 1198 548 1186 542 1183 540 1183 536 1184 534 1189 528 1195 526 1202 525 1212 525 1218 527 1236 524 1236 539 1226 539 1220 534 1216 533 1208 535 1204 538 1204 545 1212 548 1211 554 1212 556 1219 562 1222 566 1221 568 1219 570 1210 574ZM1058 533 1052 532 1048 530 1051 528 1060 525 1064 525 1066 526 1066 528 1065 530 1058 533ZM432 543 428 542 417 538 407 530 406 527 422 528 435 532 438 536 438 538 436 541 432 543ZM1220 686 1136 686 1133 684 1128 682 1124 684 1122 686 1107 686 1107 680 1115 674 1116 672 1115 670 1112 668 1110 667 1094 666 1090 664 1090 660 1093 658 1105 652 1106 642 1112 638 1116 636 1120 636 1129 640 1132 640 1138 638 1144 636 1145 634 1145 632 1138 630 1136 628 1137 626 1140 624 1140 622 1135 618 1128 615 1114 620 1102 627 1094 629 1078 623 1068 614 1056 613 1030 615 1023 616 1022 620 1023 626 1026 630 1030 631 1044 630 1054 631 1075 646 1074 648 1068 652 1065 660 1058 664 1053 670 1050 672 1046 672 1042 671 1039 670 1034 664 1030 662 1022 663 1008 666 990 664 985 662 980 654 976 653 972 653 968 654 966 658 967 668 970 674 984 679 996 682 1000 683 1000 686 888 686 887 680 888 678 890 676 902 676 910 667 914 667 920 669 932 675 938 676 940 675 944 670 950 666 951 664 945 658 944 656 946 650 952 646 955 642 948 640 946 638 945 634 950 630 950 628 949 626 944 625 938 625 934 626 928 629 912 630 898 628 892 626 889 622 889 620 890 618 896 616 920 613 928 606 930 602 930 600 925 594 904 584 900 585 884 590 878 596 869 600 870 602 878 607 880 610 881 616 879 620 872 623 850 627 846 630 846 640 848 642 859 646 861 648 860 650 854 649 846 644 838 645 833 648 829 656 825 660 824 667 828 669 834 671 860 673 872 672 867 678 867 680 869 686 854 686 852 684 846 684 842 684 840 686 798 686 798 682 798 680 791 672 787 664 808 647 825 638 826 636 824 635 814 638 788 653 784 653 774 651 768 652 765 656 765 658 766 662 764 663 762 663 759 660 754 659 750 658 748 660 747 662 749 664 760 666 762 676 761 686 747 686 745 680 738 672 725 666 724 664 727 658 727 654 723 648 718 646 706 648 702 650 699 654 700 658 698 659 688 656 674 655 662 649 658 649 654 650 653 652 654 654 661 660 662 662 659 668 665 674 667 676 665 686 645 686 644 682 636 678 629 672 598 667 588 668 578 672 576 676 570 686 533 686 535 676 535 674 526 669 516 666 504 658 504 656 509 650 510 642 511 640 518 639 532 641 535 642 538 650 546 654 556 664 558 665 562 664 563 660 560 650 554 647 551 644 551 640 552 638 556 637 570 642 580 644 586 642 588 640 589 638 586 635 574 629 568 629 550 630 544 629 540 627 536 620 532 619 520 620 508 624 502 624 500 622 501 620 508 610 512 608 520 607 536 609 540 610 542 614 544 616 558 619 576 625 586 627 598 640 608 647 612 648 616 647 618 644 618 642 616 638 617 636 622 630 626 628 632 627 650 630 660 634 664 633 666 631 666 624 669 618 669 614 668 612 666 611 658 610 628 618 614 619 608 618 604 613 600 614 592 618 588 618 580 617 566 612 548 610 545 608 546 604 550 602 562 598 564 598 563 596 554 592 534 592 524 584 518 582 513 584 509 586 510 588 516 596 515 598 514 599 506 600 494 596 493 594 496 590 494 590 488 592 487 594 488 596 476 604 474 606 474 610 477 616 474 622 475 626 473 630 466 634 465 636 466 638 468 640 480 642 483 644 482 646 474 649 471 652 472 656 482 662 482 664 481 664 476 667 470 668 464 668 458 667 455 664 455 660 453 656 450 653 444 652 443 654 442 660 442 663 446 668 444 669 430 671 412 678 407 682 406 686 387 686 388 682 395 676 394 668 394 666 403 660 404 658 403 654 395 648 395 646 396 644 402 640 406 639 424 643 433 634 433 630 434 624 433 622 412 618 408 614 408 612 412 609 418 607 439 608 460 600 461 598 460 594 460 590 467 582 464 581 458 580 448 582 442 585 423 586 416 588 415 592 402 598 412 606 386 615 380 615 377 608 376 606 372 604 366 603 356 602 333 604 331 606 330 609 346 614 348 616 351 618 351 620 348 626 351 632 350 634 348 635 340 635 333 632 334 626 327 620 328 610 322 609 314 608 310 609 308 611 305 616 298 622 294 628 286 631 282 635 278 636 266 633 262 633 250 639 235 644 233 646 236 648 250 650 252 652 251 652 238 654 228 651 223 652 222 654 222 656 224 660 232 662 240 666 248 667 254 666 257 664 256 658 257 656 258 654 270 655 276 658 280 663 282 662 285 658 286 650 284 649 276 649 272 648 271 646 272 644 276 642 282 642 290 645 302 645 320 652 327 650 336 644 342 641 348 641 350 642 351 644 350 656 340 661 335 666 334 668 334 676 330 682 326 682 314 677 310 676 295 682 289 686 250 686 248 682 245 680 226 675 217 672 216 670 216 664 206 658 202 654 202 652 207 648 202 644 194 642 188 643 185 652 180 655 176 653 172 646 170 644 170 632 186 628 193 622 192 620 189 616 189 614 194 608 194 607 186 604 183 600 182 598 183 590 182 589 176 584 170 583 170 566 180 566 198 576 214 590 220 591 226 590 230 587 244 576 244 574 242 572 230 566 228 562 227 558 228 554 238 542 237 538 238 536 243 532 248 530 255 532 257 536 256 537 248 540 246 542 251 550 253 566 258 570 267 574 280 574 286 572 298 567 304 567 307 568 309 570 310 576 312 576 334 581 346 580 358 576 360 576 360 574 352 571 352 570 354 568 362 565 366 565 376 568 382 569 384 568 390 561 394 559 424 560 430 559 436 555 440 554 447 556 453 558 454 562 454 568 456 572 468 575 472 574 475 572 469 566 468 564 472 561 478 560 506 562 536 569 538 568 541 568 551 576 560 580 566 581 570 580 572 576 575 574 588 570 596 566 598 566 606 570 625 578 623 580 623 582 628 586 632 588 639 586 643 584 641 582 634 578 637 574 637 570 636 566 632 560 632 556 638 552 656 546 662 547 669 550 702 568 720 572 726 571 736 563 742 559 754 556 763 552 766 551 772 552 774 554 770 556 756 558 752 562 752 566 756 569 768 569 774 572 778 573 788 571 810 573 816 573 822 570 827 564 836 562 868 566 916 568 932 561 946 558 960 564 986 565 996 572 1006 575 1038 578 1054 576 1062 579 1066 580 1078 579 1088 582 1106 580 1110 581 1113 582 1112 584 1110 586 1104 590 1098 589 1088 583 1072 585 1062 591 1054 594 1058 596 1078 602 1084 602 1092 600 1102 600 1110 598 1116 599 1122 602 1128 600 1132 600 1138 603 1148 610 1154 613 1174 607 1178 607 1180 607 1183 610 1183 612 1180 614 1169 618 1165 620 1164 624 1166 626 1176 631 1180 644 1182 649 1186 651 1190 650 1196 644 1202 639 1216 636 1217 636 1216 630 1217 628 1228 623 1236 621 1236 638 1230 640 1233 646 1227 652 1226 654 1228 658 1236 661 1236 674 1221 678 1217 680 1217 682 1220 686ZM1012 556 1004 556 998 554 988 542 987 540 988 538 992 536 1004 537 1016 536 1022 536 1026 538 1024 540 1015 542 1014 548 1015 554 1012 556ZM1116 555 1112 555 1104 554 1094 548 1084 549 1082 552 1080 552 1076 552 1067 548 1064 544 1063 542 1064 539 1072 537 1084 536 1094 537 1103 540 1104 542 1102 546 1104 547 1114 549 1125 548 1116 555ZM1144 544 1134 544 1130 543 1130 542 1136 538 1142 536 1152 536 1156 538 1153 542 1144 544ZM184 555 170 551 170 540 182 539 186 539 194 542 199 546 199 548 196 550 190 554 184 555ZM368 558 366 558 362 556 359 550 355 546 355 542 358 540 362 539 366 540 370 542 373 546 374 548 373 550 370 555 368 558ZM596 558 586 556 578 554 575 552 574 548 576 546 580 544 594 543 606 539 608 540 613 546 614 548 613 550 600 557 596 558ZM1038 560 1028 560 1023 558 1022 556 1023 554 1026 552 1035 554 1040 556 1040 558 1038 560ZM703 636 717 628 706 624 704 622 707 614 708 608 712 605 716 604 720 604 730 608 734 609 740 607 749 600 754 598 762 597 776 601 780 599 780 596 777 594 764 590 762 588 757 582 746 578 740 578 714 584 710 588 706 598 704 603 678 616 676 618 676 622 678 624 698 636 703 636ZM670 592 671 590 671 588 665 584 658 582 654 582 652 584 654 586 660 592 664 592 670 592ZM994 606 1014 601 1036 598 1039 596 1040 594 1038 592 1036 592 1000 589 986 584 970 584 967 586 970 587 978 587 981 588 982 590 978 596 980 602 984 605 986 606 994 606ZM691 588 690 588 691 588ZM838 600 856 600 858 600 859 598 852 594 842 590 830 592 825 594 823 596 824 598 828 601 838 600ZM259 620 278 618 285 614 289 610 290 608 288 606 270 604 266 602 261 596 258 594 254 594 252 596 250 602 245 606 244 608 247 616 249 620 252 620 259 620ZM1236 597 1232 596 1236 594 1236 597ZM616 606 619 604 621 602 619 600 616 598 612 600 610 606 612 607 616 606ZM774 634 780 632 812 625 814 624 814 622 811 618 808 615 799 614 790 613 786 614 784 616 786 622 786 624 784 627 780 629 772 629 752 627 747 628 751 632 758 634 766 635 774 634ZM882 631 876 631 873 630 876 628 880 628 883 630 882 631ZM974 640 980 638 982 636 980 632 976 630 964 630 959 632 955 634 968 637 972 640 974 640ZM896 642 892 641 890 640 890 638 892 636 896 635 900 635 902 636 903 638 902 640 896 642ZM926 651 914 651 912 650 911 648 912 646 916 642 924 639 934 640 937 642 939 644 939 646 936 648 926 651ZM1017 656 1022 654 1026 650 1024 646 1018 644 1010 641 1000 641 995 644 992 648 992 650 993 652 1004 656 1010 657 1017 656ZM880 660 878 660 876 659 875 656 876 654 880 652 884 654 884 658 880 660ZM1139 656 1138 654 1134 652 1132 652 1129 654 1130 655 1132 656 1136 656 1139 656ZM370 674 364 674 360 672 359 668 360 661 363 660 368 659 376 659 381 660 382 664 380 668 376 671 370 674ZM196 679 190 679 184 678 181 676 180 672 184 669 188 667 194 668 200 669 202 672 203 674 200 676 196 679ZM314 672 319 670 320 668 314 668 311 670 314 672ZM1151 680 1161 676 1162 674 1161 672 1154 668 1150 669 1146 674 1144 678 1145 680 1146 681 1151 680ZM718 686 677 686 680 682 686 678 692 675 700 674 708 675 714 678 717 680 718 686ZM622 686 593 686 594 678 598 676 602 676 608 676 614 679 621 682 622 686ZM1038 686 1017 686 1017 680 1018 678 1020 677 1030 679 1036 682 1038 686ZM486 686 432 686 433 682 436 680 442 678 446 678 482 681 486 683 486 686ZM1236 686 1224 686 1228 683 1236 682 1236 686ZM1078 686 1064 686 1067 684 1074 683 1078 684 1079 686 1078 686ZM350 686 345 686 348 684 350 686Z"/>
<path fill="#dbe9ed" fill-rule="evenodd" d="M698 384 686 384 678 383 676 382 672 378 670 374 673 366 676 364 678 362 692 360 703 356 714 354 721 350 718 346 711 344 702 342 700 343 690 347 670 347 664 346 650 341 644 340 638 341 635 338 634 332 632 329 626 327 610 324 602 326 592 332 591 332 593 336 592 338 582 345 574 347 562 345 559 344 558 343 555 330 557 326 564 322 564 320 558 319 552 319 540 324 528 325 524 330 518 331 514 329 508 322 508 320 509 320 518 318 521 316 521 314 520 312 517 310 514 308 510 308 493 312 489 314 488 318 486 320 469 326 468 326 474 332 473 336 468 342 454 350 453 352 455 358 452 360 432 354 422 349 421 348 421 346 427 340 426 338 420 336 406 336 401 334 401 332 402 332 414 329 421 326 423 324 422 320 419 318 416 316 412 316 404 318 390 327 370 330 366 332 362 338 358 339 352 335 352 330 349 326 350 322 357 318 356 316 344 317 336 320 332 320 330 320 330 318 333 316 332 314 302 306 298 302 296 298 290 296 284 296 276 297 260 305 248 304 228 296 226 294 226 286 224 283 220 281 204 286 196 290 196 292 197 292 202 296 205 298 205 306 206 306 234 307 240 308 252 313 280 314 285 316 285 320 274 332 270 334 266 334 247 332 244 330 242 326 238 325 224 323 212 319 196 324 180 328 178 326 174 320 171 318 173 316 184 311 187 308 186 306 182 298 187 292 178 286 179 280 246 280 247 288 250 289 254 289 262 287 264 286 263 280 332 280 334 284 340 286 380 289 384 290 382 292 361 298 358 299 356 300 356 306 359 312 360 316 374 317 378 317 384 315 391 308 394 306 416 300 426 293 429 288 428 287 420 290 414 290 410 288 404 283 392 283 390 282 388 280 464 280 463 290 464 293 468 294 474 292 478 288 480 286 480 280 555 280 559 284 568 285 571 284 573 280 590 280 594 283 612 284 618 283 621 280 673 280 678 283 686 284 694 283 696 280 747 280 745 286 754 290 756 292 755 296 748 300 748 301 760 306 778 311 787 308 789 306 778 299 770 294 768 290 765 280 800 280 800 288 801 290 806 293 812 294 843 286 845 284 843 280 856 280 856 286 866 291 868 298 871 300 894 310 900 312 904 311 903 308 887 298 885 294 891 288 889 280 907 280 905 284 900 288 901 290 916 298 930 308 941 314 943 316 942 320 940 321 926 318 922 317 919 322 908 325 898 334 894 336 888 336 880 334 864 316 860 314 854 313 853 314 855 322 853 326 830 340 822 350 816 352 812 351 809 350 807 346 807 344 809 340 830 325 842 318 847 312 845 310 837 308 828 306 823 308 822 314 820 316 816 317 806 315 801 316 790 323 776 330 774 332 775 336 770 339 754 344 738 345 731 348 729 350 739 358 739 360 738 362 722 365 718 364 710 360 706 361 702 362 700 366 700 368 708 374 710 376 706 380 698 384ZM990 316 984 316 976 315 955 310 952 308 951 306 954 304 969 300 975 296 977 292 981 280 1038 280 1036 288 1034 290 1030 291 1020 291 1004 287 1000 288 997 290 996 294 997 304 996 306 997 310 995 314 990 316ZM1144 295 1138 295 1134 294 1125 290 1124 288 1132 282 1133 280 1147 280 1149 286 1154 292 1153 292 1152 293 1144 295ZM1220 291 1216 290 1214 288 1213 286 1213 280 1236 280 1236 286 1220 291ZM1236 372 1222 371 1213 368 1210 366 1211 358 1210 356 1204 357 1198 362 1190 363 1172 362 1160 356 1143 354 1143 352 1146 350 1152 349 1176 346 1188 339 1216 338 1217 338 1216 336 1209 324 1205 318 1202 315 1198 314 1188 314 1178 316 1170 320 1154 332 1134 337 1120 335 1114 335 1108 336 1104 340 1102 341 1097 338 1095 332 1092 329 1090 328 1086 328 1082 330 1071 336 1060 339 1052 343 1050 346 1049 354 1045 358 1040 359 1034 359 1030 357 1027 356 1024 347 1022 346 1007 344 1004 340 1003 336 1004 335 1006 334 1030 333 1040 330 1056 332 1061 330 1063 328 1064 320 1050 310 1042 305 1041 302 1041 300 1044 296 1050 296 1075 300 1081 306 1083 310 1081 312 1075 318 1075 320 1084 322 1102 323 1113 320 1121 316 1121 314 1113 312 1113 310 1116 309 1128 308 1142 311 1148 307 1160 307 1164 307 1165 304 1165 300 1161 294 1168 289 1176 284 1178 288 1182 290 1210 295 1212 297 1215 304 1218 308 1228 317 1236 319 1236 336 1228 337 1222 339 1221 344 1217 352 1219 354 1226 353 1229 350 1231 346 1236 344 1236 372ZM592 292 594 290 595 288 594 286 592 284 590 286 587 290 588 292 592 292ZM994 334 986 333 983 330 982 328 983 324 988 320 994 319 996 320 998 322 1000 332 998 333 994 334ZM722 328 723 328 722 326 716 321 712 320 709 322 708 324 712 328 716 329 722 328ZM460 326 460 324 456 324 453 324 456 326 460 326ZM646 394 642 394 636 392 630 390 628 388 632 384 644 381 650 376 642 373 624 371 614 375 600 360 600 358 603 354 604 352 603 342 601 336 603 332 606 331 610 332 620 339 624 344 633 350 639 360 650 365 656 368 660 374 660 376 666 380 669 388 668 390 664 392 646 394ZM518 458 512 457 507 454 504 448 507 446 504 442 497 442 486 447 484 446 484 444 482 442 474 439 458 440 438 444 424 443 421 444 416 448 412 450 398 451 394 448 389 438 384 434 380 434 370 437 366 437 361 436 356 430 352 428 312 420 306 421 294 427 276 426 262 431 250 433 242 438 234 440 229 446 224 449 206 450 192 452 180 452 178 450 177 448 178 446 182 442 177 438 178 436 177 434 170 425 170 383 175 384 179 386 180 388 177 394 178 396 190 404 187 410 188 412 198 419 204 422 208 421 212 416 216 414 230 411 242 406 250 406 260 411 266 412 284 408 294 408 301 402 302 400 296 394 290 391 272 392 258 387 244 388 240 387 231 382 226 374 221 372 196 369 192 372 186 373 170 374 170 364 178 366 190 366 191 362 201 358 202 356 194 348 193 346 193 344 206 335 210 333 212 333 214 334 214 340 216 346 217 354 234 364 252 369 260 370 265 368 266 362 270 360 274 360 286 363 290 366 289 370 285 376 286 378 292 384 302 387 306 389 308 392 311 398 314 400 318 402 324 402 328 400 334 396 338 396 340 398 344 402 348 405 358 404 364 406 370 407 376 406 379 404 378 404 374 403 360 404 356 401 356 398 360 396 364 395 390 394 392 392 391 390 387 388 373 382 371 380 374 375 380 373 396 369 408 363 424 363 428 365 435 372 450 374 454 376 458 380 460 384 457 390 458 396 456 404 456 406 458 408 463 410 477 412 494 415 508 420 512 419 513 416 512 414 508 410 502 406 498 404 484 404 480 403 475 398 475 396 476 394 480 392 484 392 494 397 498 398 512 394 524 396 544 395 551 394 558 390 566 390 571 388 580 383 590 379 594 379 600 382 612 377 623 388 622 390 619 396 600 406 590 408 580 411 572 412 568 411 564 406 562 405 548 406 542 408 543 410 546 412 556 411 566 412 566 414 567 418 566 423 552 431 546 433 537 432 528 426 522 426 521 430 523 436 526 440 526 444 524 448 527 452 524 456 518 458ZM950 344 940 343 936 342 936 340 938 338 942 336 950 335 953 338 953 340 953 342 950 344ZM174 361 170 361 170 337 180 340 184 342 187 346 183 356 180 358 174 361ZM918 352 910 350 904 346 903 344 906 342 912 341 920 342 925 344 925 346 924 348 921 350 918 352ZM288 358 280 357 278 356 277 354 281 350 290 345 298 345 303 348 304 351 302 353 296 356 288 358ZM1100 362 1094 361 1090 359 1087 356 1088 354 1104 348 1108 345 1110 345 1110 348 1106 358 1103 360 1100 362ZM558 379 556 379 550 372 546 368 526 361 516 363 502 369 496 370 492 370 484 365 470 363 467 362 472 359 488 359 500 352 514 349 519 350 522 357 526 359 530 359 552 356 562 362 574 366 574 368 572 372 566 376 558 379ZM366 360 362 359 358 358 358 356 358 354 362 351 366 350 368 350 372 351 373 354 372 356 369 358 366 360ZM752 389 744 389 735 388 736 382 737 378 740 377 754 369 757 360 762 352 766 350 786 350 792 351 796 354 797 360 804 368 803 374 805 380 804 381 800 381 791 378 776 370 766 369 762 371 760 374 761 376 766 382 766 384 762 386 752 389ZM886 379 880 379 870 378 864 377 860 374 861 372 866 366 867 356 870 353 872 352 876 352 878 362 882 366 886 367 898 368 902 370 900 372 892 375 886 379ZM338 371 312 370 302 368 299 366 302 364 316 360 322 355 328 354 332 354 342 358 346 362 346 364 344 367 342 369 338 371ZM1138 372 1134 372 1132 370 1126 360 1126 358 1127 358 1134 356 1138 358 1142 368 1141 370 1138 372ZM1036 400 1032 400 1029 398 1034 392 1030 385 1028 383 1022 384 1004 389 984 390 974 396 968 397 964 394 958 387 946 384 956 379 974 379 982 375 994 366 1000 365 1004 366 1020 369 1030 380 1042 381 1049 382 1050 384 1049 386 1041 392 1040 396 1036 400ZM1176 377 1172 376 1171 374 1171 372 1174 371 1178 372 1179 374 1178 376 1176 377ZM1080 389 1076 389 1072 387 1064 378 1068 376 1087 374 1089 378 1088 384 1086 386 1080 389ZM520 380 519 380 520 379 520 380ZM558 387 556 387 555 386 554 383 556 383 558 385 558 387ZM928 386 926 385 926 384 926 383 930 384 928 386ZM220 398 212 398 208 396 206 392 208 386 212 384 216 385 223 394 223 396 220 398ZM1160 411 1156 411 1150 409 1146 406 1146 402 1150 401 1160 399 1166 395 1176 391 1186 386 1190 385 1195 388 1194 390 1188 393 1186 396 1187 398 1192 406 1192 408 1191 410 1186 409 1174 403 1164 400 1162 402 1162 408 1160 411ZM400 424 418 419 439 410 440 408 440 406 436 398 436 392 434 390 431 388 426 387 420 389 417 392 416 398 408 404 403 412 400 415 390 420 388 422 392 424 400 424ZM726 395 716 394 711 392 710 390 712 388 718 387 732 388 734 390 732 392 726 395ZM890 396 884 395 882 394 882 392 886 390 892 390 894 390 894 392 893 394 890 396ZM674 420 672 420 652 417 634 409 633 408 633 406 636 402 644 398 648 398 662 399 666 397 672 392 674 392 677 394 680 402 685 408 684 410 678 416 674 420ZM796 404 790 403 786 402 782 400 781 398 784 396 792 395 802 396 805 398 803 402 796 404ZM1076 485 1071 484 1069 480 1069 478 1071 474 1078 468 1078 466 1076 465 1070 464 1064 464 1060 466 1056 471 1048 473 1038 472 1032 468 1030 464 1030 460 1046 457 1049 454 1050 452 1045 442 1040 436 1056 433 1068 437 1072 437 1076 436 1082 432 1101 430 1116 424 1118 423 1117 420 1110 408 1110 406 1112 399 1114 399 1118 400 1124 406 1140 424 1142 428 1141 432 1138 434 1132 435 1122 435 1110 441 1108 444 1108 450 1112 453 1124 452 1126 454 1128 460 1127 468 1130 472 1130 473 1126 472 1116 471 1106 472 1076 485ZM938 425 932 425 926 422 919 410 920 406 921 404 926 402 934 402 942 404 949 408 950 412 948 418 944 422 938 425ZM864 457 857 456 843 452 840 450 838 445 834 443 822 444 816 442 816 440 817 438 832 434 836 432 839 428 840 424 845 418 845 414 844 412 833 408 832 406 833 404 836 403 840 404 849 408 854 412 854 420 857 424 864 428 876 431 879 434 880 436 878 438 861 448 861 450 866 454 866 456 864 457ZM722 421 714 421 704 420 700 417 699 412 702 410 706 409 722 412 726 414 727 416 726 418 722 421ZM780 418 776 418 772 418 770 416 770 412 772 411 776 410 782 411 785 412 786 414 785 416 780 418ZM242 422 244 420 246 418 244 417 240 417 236 418 234 420 236 421 242 422ZM1236 445 1222 438 1201 432 1197 428 1197 426 1200 424 1208 424 1228 428 1236 429 1236 445ZM656 453 644 452 640 450 638 448 646 445 650 444 650 442 649 440 644 437 640 438 636 440 635 444 636 448 626 450 622 450 618 443 617 436 617 432 619 430 624 428 642 425 648 426 656 432 668 438 671 442 671 444 668 447 661 450 656 453ZM1036 435 1015 432 1012 430 1012 428 1014 426 1016 425 1027 428 1033 430 1036 434 1036 435ZM940 446 934 446 928 445 919 440 917 438 922 435 928 434 942 438 947 440 947 442 946 444 940 446ZM570 444 566 444 563 442 564 441 568 441 571 442 570 444ZM258 481 254 481 252 481 250 478 250 476 254 473 278 467 297 458 306 453 318 450 328 445 334 447 338 450 339 458 338 460 325 466 332 474 332 476 330 478 326 478 314 476 302 477 294 472 288 471 278 473 258 481ZM562 469 558 468 556 466 556 462 558 459 592 445 594 445 598 448 599 452 596 455 574 462 562 469ZM428 460 422 458 421 458 421 456 423 454 428 452 432 452 436 452 436 454 435 458 432 459 428 460ZM170 463 170 454 176 455 176 456 176 458 170 463ZM378 458 374 458 372 456 376 454 380 454 382 456 378 458ZM998 465 994 465 991 464 990 460 992 458 998 456 1002 456 1004 458 1003 460 1001 464 998 465ZM794 472 790 472 770 468 758 463 755 460 756 458 762 457 776 460 784 462 792 466 795 470 794 472ZM930 487 922 487 912 485 898 483 878 479 873 476 877 474 902 463 916 460 932 459 935 462 935 468 942 474 943 476 936 484 930 487ZM698 479 694 479 690 478 682 472 676 471 676 470 684 466 690 464 693 470 698 476 698 479ZM962 477 958 477 952 476 949 472 950 470 952 468 956 467 962 468 965 470 966 472 965 474 962 477ZM1206 478 1200 477 1192 476 1187 474 1185 470 1190 468 1198 467 1210 468 1215 470 1214 472 1212 474 1206 478ZM1136 488 1132 488 1130 486 1131 476 1130 474 1130 473 1140 477 1143 480 1143 482 1142 485 1136 488ZM998 483 992 483 984 482 981 480 981 476 986 474 990 474 998 480 999 482 998 483ZM464 498 458 498 454 497 448 492 448 490 448 488 452 485 462 482 469 478 474 476 480 475 485 476 496 482 510 484 511 486 510 488 508 490 490 488 482 489 472 495 464 498ZM738 481 734 481 734 480 736 477 740 478 741 480 738 481ZM318 508 314 508 310 507 299 498 296 488 297 484 302 480 304 480 312 485 330 487 338 490 341 492 341 494 339 498 324 506 318 508ZM720 493 714 493 710 492 707 490 707 486 708 485 712 484 720 484 724 485 725 488 724 490 720 493ZM826 511 823 510 819 506 817 502 818 500 832 497 851 498 851 496 850 494 850 492 856 489 862 488 868 490 877 494 881 500 880 501 876 502 856 502 853 506 848 508 840 508 832 506 826 511ZM1222 511 1218 511 1213 508 1208 506 1192 508 1186 508 1182 504 1174 500 1171 494 1170 492 1174 489 1186 488 1192 489 1198 493 1214 490 1222 491 1226 494 1232 499 1236 501 1236 507 1222 511ZM216 506 210 504 209 504 208 502 212 498 216 498 219 498 221 500 221 504 220 505 216 506ZM1118 521 1114 520 1108 515 1098 513 1094 511 1092 506 1093 502 1096 500 1102 500 1134 504 1135 504 1134 508 1131 514 1124 518 1118 521ZM532 524 528 524 523 524 520 520 516 515 514 514 490 518 488 514 487 510 489 508 496 505 504 503 510 503 512 505 516 512 530 513 538 516 539 518 539 520 536 522 532 524ZM574 512 567 510 565 508 566 506 572 503 576 503 578 504 580 506 580 508 577 510 574 512ZM714 516 708 516 705 514 708 511 714 505 717 506 718 510 717 514 714 516ZM684 525 678 524 676 522 680 521 685 522 686 524 684 525ZM1102 528 1100 528 1099 526 1100 525 1104 524 1107 524 1108 524 1106 526 1102 528ZM1236 537 1230 537 1226 535 1222 532 1222 530 1222 528 1228 526 1236 524 1236 537ZM1198 545 1192 544 1185 540 1184 536 1186 531 1191 528 1198 526 1206 525 1212 526 1214 528 1213 530 1204 536 1201 542 1198 545ZM432 541 428 540 419 538 415 534 413 530 414 529 420 529 432 533 436 534 437 536 436 539 432 541ZM248 538 244 538 242 538 242 536 243 534 248 531 250 532 254 534 254 536 248 538ZM1008 556 1002 555 998 553 989 542 988 540 989 538 992 537 1006 538 1014 536 1022 536 1025 538 1023 540 1013 542 1013 554 1008 556ZM1142 544 1135 544 1132 542 1135 538 1142 536 1151 536 1155 538 1152 542 1142 544ZM1116 554 1112 554 1104 553 1098 548 1084 548 1076 550 1068 546 1066 544 1066 542 1070 540 1080 537 1092 537 1102 541 1103 542 1101 546 1102 547 1120 550 1116 554ZM186 554 170 550 170 541 186 539 192 541 196 544 197 546 195 550 190 552 186 554ZM368 553 364 553 358 548 356 544 357 542 360 540 364 540 369 544 371 546 371 548 368 553ZM596 556 590 556 582 554 577 552 577 548 582 546 594 544 604 542 608 542 612 545 613 548 612 550 596 556ZM1216 686 1146 686 1165 676 1164 672 1155 666 1153 662 1154 660 1156 658 1164 654 1165 654 1148 655 1132 649 1126 652 1121 656 1122 658 1124 658 1140 660 1147 664 1148 666 1148 668 1140 681 1138 682 1124 681 1121 682 1119 686 1110 686 1110 680 1116 676 1118 674 1118 672 1117 666 1114 665 1098 664 1095 662 1095 660 1098 657 1108 652 1107 644 1110 641 1112 639 1120 637 1130 641 1134 641 1145 636 1149 632 1146 626 1141 622 1134 616 1128 614 1112 620 1102 626 1096 628 1090 627 1085 624 1082 619 1076 619 1068 614 1066 613 1056 613 1032 613 1025 614 1020 616 1019 618 1021 628 1022 632 1024 633 1030 635 1042 632 1052 633 1060 637 1071 646 1070 648 1065 652 1062 658 1048 670 1043 670 1036 662 1024 658 1029 652 1030 650 1030 646 1028 643 1022 641 1012 640 1002 640 994 641 992 644 988 650 989 652 1011 660 1012 662 1010 662 998 663 990 663 986 660 984 653 970 651 966 651 964 652 962 662 960 664 956 663 948 658 946 656 948 652 965 644 983 638 984 636 984 634 980 631 976 629 954 630 948 626 944 625 936 625 928 627 914 629 902 628 894 625 890 622 891 620 893 618 902 615 920 613 929 606 931 602 931 600 928 594 904 583 884 590 875 596 870 597 864 597 852 590 846 589 828 592 823 594 821 596 823 600 826 603 844 601 862 602 874 606 878 610 878 616 877 618 875 620 866 623 842 626 838 628 838 630 838 638 838 640 832 644 828 654 823 658 822 668 823 670 832 673 846 672 858 674 861 676 862 678 860 681 858 682 841 682 838 684 836 686 801 686 801 680 793 672 792 668 791 666 796 662 805 660 806 658 805 652 810 647 820 643 832 639 836 636 836 634 835 632 826 630 820 631 802 643 792 647 788 651 786 652 770 650 758 654 754 652 752 646 749 644 740 639 736 639 733 640 747 654 746 656 742 660 742 664 746 665 756 668 758 670 759 674 758 686 749 686 747 678 740 669 728 664 727 662 730 658 729 654 726 648 724 645 722 644 710 647 704 647 692 652 680 654 674 653 666 648 662 647 658 647 654 649 652 651 651 654 659 662 659 664 655 668 655 670 663 674 665 676 662 686 651 686 650 682 649 680 640 676 638 672 636 671 618 669 600 665 590 666 576 671 573 674 568 686 537 686 537 680 539 676 538 674 525 666 520 661 510 658 507 656 511 650 512 644 514 641 520 640 528 641 532 644 535 650 544 656 550 660 552 664 554 671 556 671 564 667 566 664 568 662 565 656 565 652 554 647 552 644 551 640 554 637 556 637 571 642 580 644 584 644 592 642 596 642 602 644 610 650 614 651 618 649 621 644 622 642 620 638 621 634 623 630 626 629 630 628 634 628 664 635 666 634 667 630 670 626 672 625 682 627 696 638 702 639 706 635 725 626 724 626 712 623 707 620 709 612 709 608 712 605 716 604 722 604 724 606 730 610 736 612 738 611 749 602 754 599 762 599 776 603 780 603 782 601 784 596 784 594 766 590 762 588 758 581 748 577 742 576 734 577 718 581 711 584 707 588 707 596 704 602 694 606 682 612 676 613 668 610 660 610 640 613 628 617 620 618 614 617 611 614 613 610 620 606 622 604 620 600 616 597 613 596 612 598 607 606 604 608 596 611 588 615 582 615 568 611 552 610 548 608 548 606 550 604 565 598 565 596 563 594 556 592 536 590 522 582 518 582 514 582 504 587 494 588 488 590 484 594 482 598 474 603 473 606 473 608 475 616 473 620 474 626 471 630 464 634 463 636 466 640 474 644 470 650 469 652 472 657 479 662 480 663 478 664 470 667 462 666 460 664 457 660 453 656 442 649 440 650 441 654 440 666 438 667 426 671 408 678 404 682 404 686 390 686 392 683 397 678 396 670 396 666 398 664 405 660 407 658 406 654 398 648 398 646 399 644 404 642 408 641 414 642 424 646 428 639 437 632 436 622 432 621 420 619 414 618 410 614 410 612 414 609 420 608 440 608 462 601 463 600 460 594 460 592 462 588 468 582 469 580 468 579 454 580 446 582 442 585 420 586 412 588 412 590 413 592 410 593 398 595 394 598 396 600 406 604 407 604 407 606 397 610 386 614 382 612 380 608 376 604 364 601 356 600 344 601 330 600 328 600 326 604 324 606 306 606 307 604 302 599 288 603 276 604 269 602 266 596 262 594 258 593 252 593 250 594 248 600 241 608 244 616 249 620 280 619 286 616 292 611 298 610 302 610 302 615 301 616 296 621 292 627 286 630 282 634 278 635 266 632 262 632 246 640 226 647 216 650 215 650 218 654 219 658 218 660 216 661 210 660 206 656 205 654 205 652 212 650 207 644 200 642 194 641 187 642 184 650 182 654 178 654 175 650 173 642 170 639 170 635 186 628 194 624 194 622 190 616 191 614 192 612 213 604 192 604 188 603 184 601 183 598 185 590 184 588 176 583 170 581 170 568 180 568 196 576 200 579 210 590 216 592 220 593 224 593 231 588 246 574 246 572 244 571 232 565 229 560 230 556 232 554 238 548 242 547 246 548 248 550 252 568 254 570 258 572 268 574 280 575 288 574 298 569 302 569 306 572 302 576 304 578 318 579 330 582 343 580 360 576 363 574 362 570 364 569 370 569 382 572 386 572 387 570 391 564 396 560 408 560 426 561 431 560 438 556 442 556 448 557 452 560 453 568 456 572 468 577 472 576 477 574 476 572 470 566 469 564 471 562 477 560 486 560 506 563 524 567 536 572 566 582 572 582 578 576 590 573 612 574 622 578 623 578 622 582 623 584 630 587 634 588 641 586 646 584 638 578 639 570 633 560 633 556 638 552 656 547 662 547 668 550 676 554 684 558 704 569 722 573 726 573 736 563 742 560 746 559 749 560 750 566 752 568 754 569 768 570 778 574 788 573 810 574 822 572 825 570 829 566 834 563 842 563 876 568 904 568 918 569 932 562 946 559 959 564 980 565 988 566 996 572 1006 575 1038 578 1052 576 1056 576 1062 580 1066 582 1067 584 1062 589 1051 592 1050 594 1051 594 1082 604 1092 601 1102 601 1110 599 1116 600 1122 603 1128 601 1132 601 1138 604 1148 611 1156 614 1174 608 1180 608 1182 610 1181 612 1170 616 1164 619 1162 620 1162 625 1162 627 1176 633 1179 644 1184 651 1188 652 1192 651 1196 643 1202 640 1206 638 1222 640 1226 642 1228 646 1228 648 1224 652 1224 654 1228 658 1236 662 1236 673 1216 678 1214 680 1216 684 1216 686ZM768 555 764 555 762 554 765 552 769 552 770 554 768 555ZM1038 560 1028 560 1024 558 1023 556 1024 554 1026 553 1034 554 1039 556 1039 558 1038 560ZM1212 572 1206 572 1192 569 1184 571 1180 571 1172 568 1170 566 1170 564 1172 559 1180 557 1190 558 1198 557 1208 558 1214 560 1219 566 1218 569 1212 572ZM870 584 871 584 871 582 870 580 868 580 867 582 868 584 870 584ZM671 592 676 590 664 583 654 581 650 582 647 584 659 592 664 593 671 592ZM1106 588 1100 588 1097 586 1095 584 1097 582 1102 582 1106 582 1109 582 1110 584 1106 588ZM990 606 1014 601 1036 598 1040 596 1041 594 1039 592 1036 591 1001 588 986 583 968 583 963 586 966 588 978 592 978 598 980 602 984 606 990 606ZM692 590 697 588 697 586 694 584 690 585 684 588 682 590 692 590ZM510 598 506 598 502 598 498 596 498 594 502 590 506 590 510 592 512 594 512 596 510 598ZM510 622 506 622 505 620 510 612 514 608 522 608 530 609 535 610 538 614 538 618 518 618 510 622ZM344 624 342 624 338 624 331 620 329 618 330 614 332 613 336 612 346 616 347 618 348 620 344 624ZM773 636 802 628 816 626 817 624 817 622 813 616 810 614 790 612 786 613 782 616 781 616 785 622 785 624 783 626 780 628 770 629 748 625 744 626 749 630 756 634 764 635 773 636ZM562 628 552 628 546 628 541 624 539 620 540 618 542 618 554 619 562 622 567 624 568 626 566 626 562 628ZM1236 636 1224 635 1220 633 1220 630 1222 628 1226 625 1236 622 1236 636ZM344 632 340 632 338 630 340 628 342 628 345 630 344 632ZM882 631 876 631 874 630 879 628 882 630 882 631ZM964 641 952 640 950 639 948 638 950 636 956 635 965 636 969 638 968 640 964 641ZM926 650 916 650 914 648 914 646 918 642 924 641 930 641 935 644 936 646 934 648 926 650ZM278 686 251 686 251 682 249 680 224 674 219 670 219 668 222 664 226 663 232 664 237 666 242 667 255 666 259 664 258 660 260 658 264 656 270 657 273 660 275 662 274 666 275 668 278 670 282 671 288 662 290 652 296 648 300 647 304 648 318 653 320 653 330 650 335 646 340 643 344 643 348 644 348 648 346 654 331 668 332 676 329 680 323 680 316 676 317 674 324 670 325 668 324 666 320 666 312 668 308 670 307 674 302 678 290 682 282 683 278 686ZM370 672 366 672 362 670 361 666 363 662 370 661 374 661 378 663 378 666 377 668 370 672ZM194 679 188 678 184 677 182 674 182 672 184 669 190 668 194 668 199 670 201 672 201 674 198 677 194 679ZM956 686 891 686 891 682 892 680 902 678 910 671 912 669 916 669 922 670 934 677 938 679 942 677 948 670 952 669 956 668 960 670 963 674 962 676 957 682 956 686ZM716 686 679 686 682 682 688 678 694 676 702 675 708 676 713 678 716 682 716 686ZM282 680 282 677 279 678 280 680 282 680ZM618 686 595 686 596 679 598 678 602 677 608 678 614 680 618 683 618 686ZM482 686 434 686 434 683 438 681 446 679 475 682 482 683 483 684 483 686 482 686ZM1036 686 1019 686 1020 681 1024 680 1033 682 1036 684 1036 686ZM1236 686 1230 686 1232 684 1236 684 1236 686ZM1074 686 1070 686 1074 686Z"/>
<path fill="#cfe2f4" fill-rule="evenodd" d="M194 287 190 287 186 286 184 284 183 280 209 280 204 284 194 287ZM238 292 234 290 229 280 242 280 240 288 238 292ZM342 313 332 312 318 309 310 307 307 304 305 302 306 298 310 296 321 292 321 290 318 288 310 288 298 291 280 293 264 302 258 303 252 303 247 300 243 298 242 294 246 293 267 290 269 288 266 280 325 280 326 284 328 286 338 291 340 291 348 289 356 288 372 289 380 290 380 292 379 292 372 294 348 295 347 296 352 302 352 308 348 311 342 313ZM420 285 414 285 412 283 412 280 423 280 422 282 420 285ZM732 345 724 345 700 339 696 340 691 344 686 345 666 344 656 340 646 338 642 336 639 332 638 323 632 325 630 325 612 321 602 322 588 327 576 328 575 330 574 334 577 340 574 342 568 343 564 340 559 332 560 330 562 328 572 326 572 324 570 320 564 318 556 316 550 317 542 322 536 324 532 324 524 322 518 323 516 322 516 320 520 318 522 316 522 312 520 311 514 308 502 308 487 312 484 314 481 318 476 320 468 322 452 320 442 324 436 325 432 324 430 322 419 308 428 299 429 294 431 290 438 286 440 280 462 280 459 294 460 296 464 296 472 295 479 290 483 286 484 280 522 280 526 283 534 284 538 288 540 288 543 288 545 286 536 284 536 280 548 280 548 285 570 288 580 286 584 287 586 288 586 292 588 293 594 292 598 288 600 287 620 285 622 283 625 280 670 280 672 282 676 283 686 284 695 284 697 282 698 280 741 280 738 286 750 289 754 292 753 296 744 300 745 302 760 310 776 312 787 310 791 306 792 304 790 302 782 298 775 294 773 290 774 286 771 280 796 280 796 283 792 288 796 292 800 295 810 296 834 290 844 288 850 289 856 291 860 294 863 300 864 301 880 306 900 315 912 315 914 316 915 318 914 320 908 323 902 329 898 332 892 334 888 334 880 331 868 317 860 312 828 304 822 308 816 312 801 316 786 323 769 330 766 332 765 334 766 336 762 338 752 341 732 345ZM900 284 896 283 893 280 903 280 902 282 900 284ZM988 298 984 297 983 294 983 288 984 280 998 280 991 296 988 298ZM1028 289 1024 289 1018 288 1011 284 1007 280 1029 280 1031 286 1030 288 1028 289ZM1228 284 1222 284 1220 283 1219 280 1236 280 1236 282 1228 284ZM1140 291 1134 290 1132 289 1131 288 1138 283 1140 283 1142 285 1144 288 1143 290 1140 291ZM940 320 910 311 896 302 892 298 892 294 896 292 902 292 914 299 928 309 940 316 941 318 940 320ZM442 304 452 298 454 296 453 296 444 292 441 298 435 302 438 304 442 304ZM1236 332 1224 332 1218 330 1212 324 1210 315 1204 312 1198 311 1176 310 1174 308 1172 304 1172 299 1176 296 1186 294 1196 295 1205 298 1207 300 1211 306 1226 319 1230 322 1236 323 1236 332ZM196 306 194 306 190 304 188 300 188 298 194 297 199 298 200 300 200 302 196 306ZM1070 314 1064 314 1059 312 1056 310 1054 304 1050 302 1050 300 1068 301 1072 303 1076 306 1077 310 1075 312 1070 314ZM984 313 976 312 964 308 962 308 962 306 972 304 980 304 981 304 986 310 986 312 984 313ZM268 331 262 331 254 330 251 328 248 323 242 324 224 321 212 317 208 317 196 323 182 327 178 326 177 320 178 317 184 314 208 308 214 308 236 310 244 313 250 316 274 316 280 318 281 320 279 322 272 328 268 331ZM364 330 360 330 358 330 356 328 356 326 358 324 362 322 376 321 386 318 390 316 394 311 398 309 406 308 411 308 411 310 409 312 394 317 391 322 388 324 372 326 364 330ZM1130 314 1118 313 1115 312 1115 310 1118 309 1124 309 1130 309 1135 310 1135 312 1134 312 1130 314ZM818 351 812 351 809 348 808 344 810 341 848 315 850 315 852 316 854 322 852 326 829 340 822 348 818 351ZM1124 332 1110 331 1107 330 1107 328 1108 326 1111 324 1130 316 1156 315 1162 316 1164 318 1163 320 1160 324 1156 328 1152 330 1146 331 1136 328 1128 331 1124 332ZM721 330 725 330 727 328 718 320 714 317 710 317 708 318 706 320 705 324 708 328 714 330 721 330ZM998 333 992 333 986 332 983 328 983 324 988 320 992 320 996 320 998 322 999 324 1000 330 998 333ZM759 330 756 328 752 328 759 330ZM454 345 446 345 440 342 436 336 436 332 437 330 440 328 446 328 460 330 465 332 467 336 466 340 462 342 454 345ZM1044 358 1036 358 1030 357 1028 355 1024 347 1008 343 1004 340 1004 336 1006 334 1016 333 1032 334 1040 333 1046 334 1048 336 1046 342 1048 352 1047 356 1044 358ZM174 358 170 358 170 340 174 340 178 342 181 344 182 348 181 352 180 354 174 358ZM1194 359 1188 359 1174 357 1170 355 1166 352 1168 351 1180 348 1188 343 1192 342 1202 342 1209 346 1210 348 1208 350 1200 354 1194 359ZM652 373 642 371 632 371 622 369 616 369 614 369 610 364 610 362 612 356 608 350 609 346 612 343 620 343 628 348 631 350 633 354 630 358 652 367 655 370 654 372 652 373ZM206 350 202 348 200 346 201 344 206 343 209 344 210 346 210 348 206 350ZM294 354 288 354 286 353 284 352 286 350 290 347 296 347 299 348 299 350 298 352 294 354ZM502 365 498 365 494 362 496 360 500 356 512 349 516 350 519 352 520 356 518 358 502 365ZM796 375 791 374 780 368 764 365 761 362 762 358 765 354 770 353 784 351 792 352 796 356 795 362 799 368 798 373 796 375ZM1236 370 1226 370 1220 368 1217 366 1217 362 1218 359 1222 358 1236 354 1236 370ZM730 360 726 360 725 358 726 356 730 357 732 358 730 360ZM334 369 314 369 306 368 304 366 309 362 328 357 332 357 339 360 342 364 340 367 334 369ZM230 368 204 368 198 366 197 364 198 362 204 360 212 359 216 359 225 362 229 366 230 368ZM560 374 556 372 550 368 543 364 542 362 546 361 550 361 564 368 565 368 565 370 563 372 560 374ZM696 380 688 380 682 378 678 372 678 370 679 368 684 365 692 366 701 376 700 378 696 380ZM882 377 870 377 867 376 866 374 870 367 874 365 882 368 896 368 899 370 900 370 896 373 886 374 882 377ZM194 452 184 452 179 450 179 446 187 442 174 429 172 424 170 419 170 406 171 406 170 399 180 404 178 408 180 412 191 418 202 426 210 427 219 424 216 422 215 418 218 416 222 414 233 414 227 422 228 424 245 422 250 418 250 416 237 414 238 412 244 409 248 410 254 414 258 414 282 411 286 411 294 413 300 406 304 404 320 406 334 406 340 410 348 412 362 409 378 407 382 406 383 404 378 402 364 401 362 400 361 398 365 396 374 395 400 396 400 394 394 387 379 380 378 378 382 377 396 375 401 370 408 367 416 366 422 367 426 368 429 372 432 374 446 375 452 377 456 380 458 382 457 386 451 392 451 398 448 401 446 401 442 399 441 396 440 392 434 388 426 385 418 386 414 390 410 395 404 398 404 408 402 412 375 422 373 424 374 430 370 432 366 431 361 428 357 426 336 423 316 419 300 419 298 424 294 426 280 425 271 426 248 432 242 437 231 440 222 447 218 448 206 447 194 452ZM972 391 970 391 967 390 966 388 965 384 974 381 992 368 996 366 1004 366 1018 369 1022 371 1026 378 1026 380 1024 382 1008 387 998 388 980 387 972 391ZM186 373 176 373 171 370 172 369 180 368 186 368 190 370 189 372 186 373ZM252 385 244 385 237 382 235 380 232 369 244 370 256 374 260 376 261 378 260 380 257 382 252 385ZM752 386 746 386 743 386 741 384 741 380 742 378 746 376 752 376 754 376 758 379 758 382 757 384 752 386ZM660 392 652 392 640 390 637 388 636 386 650 378 658 377 663 380 666 386 665 390 660 392ZM1080 385 1076 385 1072 384 1070 382 1068 378 1072 377 1082 378 1083 378 1084 381 1080 385ZM530 421 522 421 518 420 516 414 510 408 507 404 506 402 507 400 514 397 542 396 568 391 592 380 596 381 598 384 597 388 593 392 600 392 610 389 612 389 613 392 612 396 602 402 580 409 576 410 572 409 566 404 564 403 554 404 543 406 538 410 539 414 537 416 534 419 530 421ZM280 389 272 389 269 388 269 386 272 383 280 383 282 384 283 386 280 389ZM1040 386 1038 386 1038 384 1040 384 1041 384 1040 386ZM172 391 170 391 170 385 174 386 175 388 174 390 172 391ZM1180 401 1177 400 1177 398 1179 398 1180 400 1180 401ZM1078 484 1072 483 1070 480 1070 478 1072 474 1082 468 1082 466 1081 464 1072 462 1062 462 1059 464 1056 468 1054 470 1050 472 1044 472 1040 471 1035 468 1033 466 1033 462 1034 460 1046 458 1051 454 1052 452 1047 440 1048 438 1050 437 1056 436 1068 439 1074 439 1078 438 1087 432 1104 430 1118 426 1118 424 1118 420 1112 409 1110 406 1113 400 1116 399 1118 400 1126 408 1140 425 1141 428 1140 432 1136 435 1130 435 1124 432 1122 432 1110 440 1107 444 1107 450 1110 454 1114 454 1124 453 1126 455 1128 460 1126 466 1122 469 1102 473 1078 484ZM662 416 654 415 648 413 639 408 638 406 644 402 652 401 664 403 672 403 676 405 679 408 678 410 673 414 662 416ZM938 423 932 423 928 420 925 410 926 406 930 405 936 405 942 408 945 410 946 414 945 418 942 420 938 423ZM1156 408 1154 408 1152 408 1150 406 1154 405 1155 406 1156 408ZM406 448 402 447 398 445 390 432 390 430 392 428 406 425 428 416 450 409 474 414 490 415 496 417 511 426 515 430 514 436 522 438 524 442 522 445 516 447 512 446 510 444 509 442 509 438 508 437 496 439 486 441 474 439 448 441 424 440 418 442 411 446 406 448ZM716 419 712 419 707 418 704 416 704 414 706 412 708 411 718 414 721 416 716 419ZM548 430 544 430 539 428 537 426 539 422 544 418 552 414 558 414 562 416 563 418 562 422 558 425 548 430ZM860 444 850 443 844 440 840 438 840 436 848 425 850 425 860 430 873 432 875 434 875 436 872 438 860 444ZM630 437 628 437 626 437 624 434 624 432 628 430 632 430 637 430 640 430 640 432 630 437ZM1236 439 1228 436 1226 434 1226 432 1236 432 1236 439ZM938 443 934 443 929 442 925 440 924 438 928 437 934 438 939 440 939 442 938 443ZM662 442 661 442 661 440 662 441 662 442ZM562 468 558 467 557 464 557 462 560 460 592 447 594 447 597 450 597 452 596 455 572 462 562 468ZM256 481 252 481 250 479 250 476 252 474 278 468 306 455 328 451 332 452 334 454 335 458 332 460 320 462 316 464 314 466 314 470 312 472 304 473 294 470 280 472 266 478 256 481ZM518 454 516 454 513 452 515 452 518 452 519 452 518 454ZM172 461 170 461 170 455 174 456 174 458 172 461ZM996 462 994 462 994 460 998 458 998 460 996 462ZM928 482 900 481 886 478 882 476 886 472 896 467 908 465 916 462 926 462 929 464 930 470 934 476 933 478 928 482ZM786 468 778 468 775 466 775 464 778 464 781 464 785 466 786 468ZM962 476 958 476 954 475 952 472 952 470 954 468 956 468 962 468 964 470 965 472 964 474 962 476ZM1206 475 1198 475 1194 474 1192 472 1194 470 1198 469 1206 469 1210 470 1210 472 1206 475ZM462 497 456 496 452 494 449 492 450 488 452 486 456 485 470 483 472 478 478 477 485 478 497 484 494 486 478 485 476 490 474 492 468 495 462 497ZM1136 485 1134 485 1132 484 1132 482 1134 478 1136 479 1139 480 1139 482 1136 485ZM316 505 310 503 305 498 306 493 308 490 314 489 320 489 324 490 327 492 327 494 321 502 316 505ZM1184 499 1180 499 1176 498 1174 496 1173 494 1174 492 1178 491 1186 492 1189 494 1189 496 1188 497 1184 499ZM868 498 862 496 858 494 860 492 864 493 868 496 868 498ZM1218 505 1200 504 1197 502 1196 500 1198 496 1204 494 1212 492 1220 492 1225 494 1226 496 1227 500 1224 503 1218 505ZM846 505 834 504 829 504 825 502 828 500 836 498 844 499 850 500 850 502 846 505ZM1126 514 1122 514 1112 511 1100 510 1096 508 1096 504 1098 502 1104 502 1126 505 1130 507 1130 510 1128 512 1126 514ZM574 511 569 510 567 510 567 508 569 506 572 504 576 504 578 504 579 506 579 508 578 509 574 511ZM504 514 496 514 494 512 493 510 498 508 504 508 508 510 507 512 504 514ZM532 523 528 523 523 522 521 518 521 516 526 514 534 516 536 518 536 520 534 522 532 523ZM1236 533 1230 532 1229 530 1229 528 1236 526 1236 533ZM1194 541 1192 540 1189 538 1188 536 1189 532 1195 528 1200 527 1204 528 1205 528 1204 530 1198 533 1197 540 1194 541ZM1020 540 1012 540 1009 538 1010 537 1014 537 1023 538 1020 540ZM1096 547 1076 547 1073 546 1072 544 1075 540 1078 539 1084 538 1090 538 1096 539 1101 542 1100 545 1096 547ZM1144 543 1136 542 1134 542 1134 540 1137 538 1142 537 1150 537 1153 538 1153 540 1152 540 1144 543ZM1008 553 1004 553 1000 551 993 544 993 542 996 540 1000 540 1006 542 1009 546 1009 550 1008 553ZM186 552 170 548 170 543 184 541 190 542 193 544 193 548 190 550 186 552ZM596 553 588 552 585 552 584 550 588 548 598 546 604 546 606 548 601 550 596 553ZM678 586 660 580 644 577 643 574 641 566 636 560 637 556 640 554 653 550 658 548 662 549 666 550 672 555 687 560 712 576 712 578 707 580 694 581 678 586ZM1036 560 1026 559 1025 558 1024 556 1028 553 1036 554 1038 556 1039 558 1036 560ZM242 561 239 560 239 558 240 557 242 558 242 560 242 561ZM1184 570 1178 570 1173 568 1171 564 1171 562 1174 559 1178 558 1182 558 1186 559 1189 562 1190 564 1188 568 1184 570ZM182 653 178 652 176 650 175 646 176 638 178 635 190 630 197 624 197 622 192 616 193 614 196 612 202 610 216 610 220 604 226 600 230 594 236 589 240 582 252 575 256 574 290 577 294 578 300 582 304 583 334 583 357 578 372 573 382 575 389 574 392 572 394 565 400 562 410 562 426 563 444 559 447 560 450 562 452 570 455 576 453 578 446 581 442 584 422 585 394 589 386 597 384 599 380 600 372 600 358 598 344 599 332 596 310 602 306 600 302 594 290 590 284 591 274 594 256 591 248 592 246 592 244 599 238 604 239 616 243 620 248 622 266 620 284 621 286 622 286 624 285 630 282 632 278 634 266 632 262 632 240 641 228 645 216 647 212 646 206 641 202 640 194 638 188 639 185 640 184 650 182 653ZM628 615 622 615 618 614 619 610 624 606 625 604 620 598 614 595 608 594 605 602 602 604 591 606 586 611 580 611 570 609 558 608 555 606 554 606 556 604 569 600 569 598 564 594 558 592 538 589 522 582 518 581 514 581 502 585 490 589 476 597 468 599 466 599 462 597 461 592 464 588 482 574 481 572 474 568 472 566 473 564 477 562 484 561 490 562 504 566 516 566 523 568 536 574 566 583 584 583 588 582 602 577 608 576 619 578 624 584 632 589 636 589 646 588 656 594 660 594 670 594 692 591 700 589 704 589 706 592 705 598 702 601 682 608 660 608 648 611 636 612 628 615ZM1210 568 1203 568 1198 564 1201 562 1208 563 1210 564 1212 566 1210 568ZM1008 637 998 637 992 637 985 632 980 626 976 623 970 626 962 627 956 627 940 624 912 627 900 626 894 622 894 620 900 616 906 615 918 615 922 614 934 602 934 600 933 596 934 595 950 593 953 590 952 588 944 589 932 593 930 593 920 590 907 584 904 582 897 584 882 589 875 590 872 592 867 592 866 592 866 590 874 588 872 576 874 572 878 571 896 568 904 568 911 570 924 574 925 574 926 570 928 567 934 565 938 563 946 563 952 566 982 565 988 566 998 573 1006 575 1038 578 1052 576 1055 576 1059 580 1060 584 1060 586 1057 588 1048 592 1046 594 1050 596 1073 602 1081 604 1084 608 1084 610 1083 614 1080 616 1078 617 1074 617 1068 613 1062 612 1032 612 1020 614 1012 618 1015 624 1016 630 1014 634 1008 637ZM742 573 736 572 734 570 737 566 742 564 745 566 746 570 742 573ZM808 610 796 610 789 608 786 607 787 604 788 598 792 596 797 594 798 592 797 592 792 590 776 591 768 589 763 586 760 580 754 576 752 574 756 572 768 572 779 576 784 577 798 576 814 575 828 572 832 570 836 567 840 567 848 569 862 569 867 572 866 576 860 579 856 580 846 580 839 586 819 594 817 596 817 602 816 604 812 608 808 610ZM847 574 847 572 846 571 844 571 843 572 844 574 847 574ZM202 603 192 602 186 600 185 596 189 588 176 578 170 576 170 572 179 572 191 578 205 590 214 594 216 596 216 598 213 600 202 603ZM424 576 431 574 428 572 424 572 416 573 414 574 418 576 424 576ZM992 606 1016 602 1036 599 1040 596 1042 594 1039 592 1036 591 1004 588 992 583 984 582 966 582 960 584 956 588 960 590 968 591 972 593 976 597 980 602 984 606 988 607 992 606ZM1156 629 1152 628 1135 616 1124 611 1120 614 1107 618 1100 624 1094 624 1091 622 1092 616 1088 610 1088 606 1092 604 1102 603 1110 600 1116 601 1122 606 1128 602 1132 602 1147 612 1159 618 1160 620 1160 624 1158 628 1156 629ZM754 614 748 610 747 608 748 606 751 604 754 602 758 601 761 602 763 604 763 606 754 614ZM854 622 846 622 828 621 824 620 822 618 826 613 831 606 836 604 842 602 850 602 860 604 869 608 872 610 872 614 867 618 854 622ZM392 609 388 608 386 606 386 604 390 603 397 604 397 606 392 609ZM408 676 404 675 401 674 400 670 401 666 410 660 415 652 428 649 428 642 430 639 440 634 446 634 448 630 442 622 440 621 418 618 413 616 413 612 416 610 422 609 442 610 452 606 458 604 464 604 468 605 471 614 468 620 472 624 472 626 469 630 459 634 458 636 460 640 465 644 466 648 469 654 470 660 472 662 470 663 462 662 451 652 443 648 440 647 436 650 437 654 437 658 436 662 434 664 415 674 408 676ZM730 621 722 621 714 619 711 610 711 608 714 606 716 605 720 605 724 606 725 608 726 614 731 618 730 621ZM774 614 772 614 770 612 769 610 773 608 779 610 779 612 774 614ZM530 615 520 615 517 614 516 612 520 610 526 610 531 612 531 614 530 615ZM774 628 756 626 751 624 749 620 752 617 754 615 772 615 780 619 782 622 780 626 774 628ZM786 651 784 651 762 648 736 637 732 637 710 646 705 644 704 642 704 640 705 638 708 635 720 630 734 626 740 627 756 635 768 636 784 636 802 630 808 630 810 631 811 632 807 636 800 640 792 643 789 648 786 651ZM1236 632 1229 632 1228 630 1227 630 1230 627 1236 626 1236 632ZM680 641 674 640 670 638 668 632 670 628 674 627 678 627 684 630 685 634 686 638 684 640 680 641ZM644 666 622 665 618 664 617 664 626 661 629 658 624 650 629 640 623 634 623 632 626 630 630 628 634 629 640 632 650 634 666 640 666 642 652 646 648 650 647 652 647 654 653 660 653 662 650 665 644 666ZM1176 652 1148 652 1139 648 1136 646 1135 644 1139 642 1156 633 1162 632 1170 633 1176 635 1180 648 1180 650 1176 652ZM964 640 954 640 952 638 956 636 961 636 966 638 964 640ZM1050 659 1046 659 1040 658 1038 656 1036 654 1035 644 1036 642 1040 638 1046 636 1052 636 1058 638 1063 642 1064 646 1062 648 1056 655 1050 659ZM586 663 580 663 578 662 574 658 572 654 570 652 554 645 552 642 553 640 556 638 570 643 580 645 596 645 600 647 604 650 606 656 603 660 598 662 586 663ZM1122 649 1118 649 1114 648 1112 646 1111 644 1113 642 1116 640 1123 642 1126 644 1126 646 1125 648 1122 649ZM1210 686 1154 686 1157 682 1162 680 1174 679 1176 678 1161 668 1159 664 1159 662 1162 658 1176 654 1195 654 1201 652 1202 652 1201 650 1196 648 1195 646 1198 643 1202 641 1208 640 1218 643 1221 644 1222 646 1219 652 1219 654 1225 658 1236 664 1236 671 1210 680 1209 682 1210 684 1210 686ZM982 647 978 647 974 646 977 644 982 643 983 644 982 647ZM926 647 922 647 922 646 926 644 929 644 929 646 926 647ZM522 649 520 648 519 646 520 645 523 646 524 648 522 649ZM818 683 812 683 807 678 799 672 797 670 797 668 800 666 806 665 808 664 812 656 811 652 813 650 818 647 824 646 826 647 826 650 825 652 820 656 821 662 821 666 818 669 814 672 815 674 821 678 822 680 821 682 818 683ZM296 677 292 677 288 676 285 672 285 670 288 665 300 660 296 656 296 654 298 652 302 651 306 652 314 656 328 653 332 653 334 654 335 656 334 660 332 663 310 668 296 677ZM542 670 536 669 532 666 530 664 532 660 534 658 538 658 542 659 546 661 547 664 547 666 546 668 542 670ZM1136 678 1128 678 1124 674 1123 672 1123 668 1126 665 1130 663 1136 663 1140 664 1142 666 1142 670 1141 672 1138 676 1136 678ZM268 686 256 686 256 682 253 680 229 674 226 672 226 670 226 668 230 668 244 669 264 666 268 667 274 670 276 674 274 676 270 680 268 686ZM192 678 188 677 186 676 184 674 184 672 187 670 190 669 194 669 198 670 200 672 199 674 196 677 192 678ZM926 686 908 686 910 678 911 674 914 672 918 672 922 673 926 676 929 678 929 680 926 686ZM848 680 842 679 839 678 841 676 846 674 850 675 854 676 853 678 848 680ZM712 686 684 686 686 683 690 681 702 678 710 680 712 682 712 686ZM474 686 437 686 438 684 440 682 448 681 466 682 472 684 474 686ZM612 686 600 686 601 682 604 682 608 683 612 686ZM1032 686 1024 686 1026 684 1028 683 1030 684 1032 686Z"/>
<path fill="#b4c8e2" fill-rule="evenodd" d="M198 284 190 284 188 282 187 280 203 280 198 284ZM286 288 280 288 274 287 270 284 268 280 293 280 294 284 293 286 286 288ZM456 291 450 291 444 288 442 286 443 280 459 280 458 286 456 291ZM728 344 720 343 698 336 692 337 688 342 682 343 668 342 660 339 648 338 643 336 641 332 640 328 641 320 640 318 628 322 616 319 610 319 590 324 584 325 576 323 568 316 566 314 562 315 550 315 542 322 538 323 532 323 528 322 523 318 522 318 523 312 520 310 516 308 510 306 506 304 496 308 484 311 478 317 472 319 466 320 450 318 438 321 433 318 431 314 432 312 438 309 445 304 452 301 458 299 470 298 476 295 490 286 494 280 515 280 519 284 538 292 544 292 552 288 556 288 572 291 582 290 584 294 588 294 594 293 598 290 602 288 620 286 626 284 629 280 666 280 668 282 671 284 688 285 698 284 700 282 700 280 735 280 733 286 734 288 746 289 750 290 752 292 751 296 740 299 740 300 741 302 746 305 758 313 766 314 779 312 788 310 795 304 795 300 796 299 810 297 820 294 832 291 842 290 848 290 854 292 858 296 859 298 858 301 856 304 852 306 846 306 828 303 814 311 799 316 786 322 766 331 764 331 762 330 756 324 750 326 745 328 757 334 759 336 758 338 749 340 728 344ZM370 294 356 294 349 292 352 290 360 289 371 290 376 290 376 292 370 294ZM438 299 432 298 430 296 432 292 436 289 440 290 442 292 441 296 438 299ZM508 302 511 298 508 294 502 290 498 289 495 290 495 292 496 294 506 303 508 302ZM930 315 926 314 914 311 898 303 894 300 894 296 898 293 902 293 921 304 927 310 930 315ZM258 302 252 300 249 298 249 296 252 294 260 293 266 293 269 294 268 296 265 300 258 302ZM344 311 332 311 316 308 310 304 308 302 308 300 314 297 326 294 332 294 340 296 348 299 350 304 350 306 349 308 344 311ZM1194 308 1186 308 1182 307 1178 304 1178 300 1182 298 1188 297 1196 297 1201 300 1202 302 1201 304 1198 306 1194 308ZM657 310 663 308 666 304 664 303 658 303 653 304 650 306 651 308 652 309 657 310ZM894 332 888 332 880 329 861 310 860 308 860 306 866 304 874 305 888 310 904 318 905 322 903 326 899 330 894 332ZM1068 310 1065 310 1064 308 1066 306 1068 307 1070 308 1068 310ZM184 326 180 326 178 324 178 320 180 317 188 315 214 309 222 309 236 311 245 314 248 318 246 322 242 323 224 320 214 316 210 315 198 322 184 326ZM1130 313 1122 313 1117 312 1118 310 1122 309 1133 310 1133 312 1130 313ZM721 332 729 330 730 328 712 315 708 314 704 316 702 320 701 324 702 326 704 329 711 332 721 332ZM814 351 812 350 809 348 808 344 810 341 848 316 850 316 852 317 854 322 852 326 845 330 828 340 820 348 814 351ZM264 328 260 327 256 326 254 323 255 320 258 319 262 318 270 318 275 320 275 322 271 324 268 327 264 328ZM998 333 990 333 985 332 983 328 984 324 988 321 992 320 996 321 998 323 999 328 999 332 998 333ZM1152 327 1148 326 1136 320 1150 320 1155 320 1156 322 1156 324 1152 327ZM1224 325 1222 325 1219 324 1217 322 1218 321 1220 321 1224 325ZM1122 327 1120 327 1118 326 1122 325 1123 326 1122 327ZM673 332 675 330 674 329 670 330 668 332 670 333 673 332ZM454 342 450 342 446 340 442 338 442 334 444 332 448 331 455 332 460 334 462 336 461 338 454 342ZM1042 358 1036 358 1030 356 1028 354 1024 346 1008 343 1004 340 1004 336 1006 334 1020 333 1028 334 1038 336 1044 344 1047 350 1046 354 1042 358ZM174 356 170 356 170 342 176 344 179 348 178 352 174 356ZM1192 354 1188 354 1185 354 1185 352 1188 348 1192 345 1198 345 1202 346 1202 348 1201 350 1192 354ZM628 353 624 353 620 353 615 350 615 348 620 347 624 347 629 350 630 352 628 353ZM506 360 504 360 503 358 510 351 514 350 518 352 519 356 516 358 506 360ZM788 366 784 366 770 363 767 362 766 358 769 356 780 352 786 351 790 352 794 354 795 356 788 366ZM1236 369 1225 366 1222 364 1222 362 1226 360 1236 357 1236 369ZM332 368 316 368 310 368 307 366 312 362 326 360 334 360 338 362 339 364 338 366 332 368ZM636 371 628 369 624 368 623 364 626 362 634 361 638 363 644 367 650 368 651 370 648 370 644 369 636 371ZM1006 387 996 387 986 386 978 384 977 380 981 376 992 369 996 367 1002 366 1010 368 1018 369 1020 371 1025 376 1024 380 1018 383 1006 387ZM182 372 178 372 176 370 180 369 186 370 182 372ZM892 372 888 372 887 370 890 369 894 370 892 372ZM878 375 872 374 871 374 871 372 874 370 878 370 880 372 878 375ZM418 374 414 374 412 372 413 372 416 371 419 372 418 374ZM248 383 244 383 241 382 239 380 240 376 242 375 244 375 252 377 253 378 253 380 250 382 248 383ZM450 390 446 390 440 389 428 382 427 382 427 380 430 378 440 376 446 376 452 377 456 380 457 384 456 387 450 390ZM408 390 404 390 402 388 400 386 388 384 385 382 385 380 390 377 396 377 400 379 404 383 412 383 412 386 408 390ZM660 391 654 391 650 391 644 388 643 388 643 386 645 382 650 379 654 378 658 378 662 380 665 386 664 388 660 391ZM528 418 522 417 517 412 511 408 509 404 510 400 514 398 544 397 568 392 574 389 592 381 594 381 596 382 596 386 595 388 589 392 587 396 600 396 602 396 601 398 596 402 578 408 574 407 571 406 569 402 568 402 542 406 536 408 533 414 528 418ZM364 425 352 425 335 422 316 418 302 417 298 414 298 410 300 407 304 405 328 408 346 413 352 413 364 410 378 408 384 406 385 404 385 402 375 398 380 397 398 399 400 400 402 402 403 406 403 408 400 412 364 425ZM1134 435 1128 434 1120 428 1118 418 1111 406 1112 402 1114 400 1116 400 1120 402 1139 426 1140 428 1139 432 1137 434 1134 435ZM660 413 654 413 650 412 645 410 643 406 646 404 652 404 658 406 665 410 663 412 660 413ZM936 421 932 420 930 418 930 412 931 410 932 408 938 409 942 411 943 414 943 416 942 418 936 421ZM218 445 198 443 190 440 174 428 172 422 174 418 178 415 182 415 188 418 200 426 208 428 238 423 244 423 254 417 276 412 286 413 294 415 298 418 298 422 294 425 278 424 270 425 250 431 242 436 233 438 218 445ZM404 443 400 441 398 436 396 434 398 431 406 428 430 417 448 413 456 413 494 417 502 422 507 428 509 430 508 432 505 434 486 439 474 438 452 440 422 438 413 440 404 443ZM548 427 546 427 544 426 546 422 553 418 558 418 559 420 558 422 548 427ZM1076 484 1074 483 1071 480 1070 478 1072 475 1095 460 1084 462 1068 460 1060 460 1056 462 1055 466 1053 468 1046 471 1042 470 1037 468 1035 466 1035 464 1038 460 1048 458 1053 456 1054 452 1052 442 1054 439 1056 438 1068 440 1076 440 1080 439 1090 433 1116 430 1113 436 1107 444 1107 450 1108 453 1112 455 1122 453 1126 454 1128 460 1126 465 1122 468 1102 473 1076 484ZM864 440 860 440 856 438 854 436 854 434 864 434 868 434 870 436 869 438 864 440ZM518 446 512 444 511 442 511 440 514 438 516 438 522 439 522 443 518 446ZM196 451 184 451 181 450 181 448 183 446 186 445 194 444 198 445 200 448 199 450 196 451ZM562 467 560 467 558 466 558 462 560 461 592 448 594 448 596 450 597 452 595 454 574 461 562 467ZM294 470 284 470 280 468 290 463 308 455 316 457 326 455 329 456 328 457 326 458 316 459 312 464 304 468 294 470ZM170 460 170 456 172 458 170 460ZM960 476 956 475 953 474 953 472 954 470 958 468 963 470 963 474 960 476ZM910 480 902 480 896 479 888 476 887 474 889 472 893 470 902 469 908 469 922 474 917 478 910 480ZM256 480 254 480 252 480 251 478 252 476 262 472 272 472 271 474 268 476 256 480ZM1204 472 1202 472 1200 472 1204 472ZM464 496 458 495 454 494 451 492 451 488 454 486 462 485 470 485 474 488 474 490 472 492 464 496ZM1220 503 1212 503 1206 503 1202 501 1200 498 1202 496 1206 494 1212 493 1218 493 1222 494 1225 498 1224 500 1220 503ZM844 504 836 504 830 502 831 500 834 500 842 500 847 502 844 504ZM574 510 570 510 569 508 572 505 577 506 578 506 578 508 574 510ZM530 521 526 520 524 518 526 516 532 517 533 518 533 520 530 521ZM1018 539 1014 539 1011 538 1016 537 1019 538 1018 539ZM1096 546 1082 546 1077 544 1075 542 1077 540 1082 539 1092 538 1099 542 1100 544 1096 546ZM1144 541 1140 541 1138 540 1142 539 1143 540 1144 541ZM186 550 179 548 175 546 182 543 188 543 190 546 189 548 186 550ZM1002 548 1000 546 999 544 1002 545 1002 548ZM678 584 672 583 648 575 646 573 644 566 640 560 641 558 656 551 660 551 670 557 682 560 689 562 697 568 700 572 701 574 698 577 684 582 678 584ZM1034 560 1028 558 1026 558 1025 556 1028 554 1030 553 1035 554 1038 556 1038 558 1034 560ZM1184 569 1178 569 1174 568 1172 564 1172 562 1175 560 1178 558 1185 560 1187 562 1188 564 1186 567 1184 569ZM312 601 308 601 306 598 304 594 305 590 303 588 344 582 372 575 392 575 397 574 398 567 404 564 412 564 426 566 442 561 446 561 449 564 453 574 452 578 446 580 442 584 389 588 388 590 386 592 384 594 378 597 368 597 356 594 348 596 331 596 312 601ZM646 611 626 611 628 608 628 606 623 600 618 596 610 592 607 592 602 599 598 601 592 602 580 602 576 601 569 596 562 592 538 588 524 581 518 580 514 580 488 588 476 595 468 598 464 597 462 592 464 589 487 572 486 572 478 568 476 566 477 564 478 563 484 562 494 564 497 566 498 568 500 568 512 567 520 568 536 574 566 584 588 586 602 578 608 577 618 579 624 586 634 590 636 591 646 591 656 595 670 595 700 590 704 591 705 594 704 598 700 601 680 606 660 608 646 611ZM1042 594 1036 591 1006 588 990 582 984 581 964 582 954 586 942 588 930 591 920 590 908 583 904 582 898 582 884 587 879 588 876 587 875 586 873 582 873 578 874 574 878 572 894 569 902 569 908 570 921 576 924 576 929 574 934 570 938 568 946 569 964 566 982 566 988 567 1000 574 1008 576 1038 579 1052 576 1056 578 1058 582 1057 586 1054 589 1042 594ZM431 576 435 574 436 574 436 572 434 571 424 570 410 572 408 574 407 574 418 576 431 576ZM812 594 808 594 794 589 780 591 770 589 764 586 763 584 763 578 758 576 760 574 764 574 767 574 771 578 788 579 800 577 830 575 836 576 839 580 839 584 835 586 812 594ZM270 592 244 589 241 588 240 586 242 582 248 579 252 577 258 576 288 578 294 581 298 586 297 586 294 588 270 592ZM200 602 194 602 190 600 187 598 187 594 192 591 198 590 207 592 212 596 211 598 210 600 200 602ZM359 592 360 590 357 590 356 592 359 592ZM1002 635 996 635 992 634 988 630 985 626 974 620 972 620 966 624 962 625 928 623 910 626 900 624 897 622 896 620 898 618 904 616 922 617 928 610 936 604 940 598 948 598 956 599 960 594 964 592 970 594 976 599 982 605 986 607 988 608 1018 602 1036 599 1044 596 1070 602 1080 605 1082 608 1082 612 1078 616 1074 616 1068 612 1062 611 1032 611 1016 614 1006 618 1001 622 1001 624 1008 624 1011 626 1008 632 1002 635ZM238 600 234 600 234 598 236 595 238 594 241 596 241 598 238 600ZM804 608 798 608 793 606 791 604 791 600 794 598 798 596 806 595 810 596 812 600 812 602 809 606 804 608ZM1102 616 1098 615 1094 612 1092 608 1092 607 1102 604 1106 601 1110 600 1116 601 1120 604 1120 608 1118 612 1112 614 1102 616ZM222 646 216 646 214 646 206 639 193 634 193 632 200 622 194 618 194 616 195 614 204 611 216 612 222 604 226 602 234 601 234 602 236 608 235 618 236 620 246 622 262 620 270 620 280 622 284 624 284 630 280 633 278 634 266 631 262 631 242 640 222 646ZM1156 627 1154 627 1152 627 1138 616 1126 610 1124 608 1125 604 1128 602 1132 602 1146 612 1158 618 1159 620 1159 622 1156 627ZM852 620 842 620 834 617 831 614 832 608 838 604 846 603 858 604 865 608 866 612 863 616 858 618 852 620ZM464 631 456 631 452 630 450 626 450 622 446 620 442 619 422 618 417 616 415 614 417 612 421 610 442 612 456 606 463 606 466 609 468 614 466 616 461 618 461 620 468 622 471 626 469 628 464 631ZM720 614 716 613 714 612 712 610 714 607 718 606 723 608 724 610 723 612 720 614ZM772 627 764 626 757 624 754 622 753 620 758 618 768 617 774 618 779 620 780 622 779 624 772 627ZM678 638 674 637 671 636 669 632 671 630 674 628 676 628 680 628 682 630 683 634 682 636 678 638ZM786 650 784 650 762 647 736 636 732 637 710 645 706 644 705 640 708 636 718 632 730 628 738 628 756 636 788 639 789 642 790 644 789 648 786 650ZM638 654 634 653 630 650 630 646 634 640 633 638 626 636 624 635 624 632 626 630 630 629 634 630 640 634 652 637 657 640 655 642 648 647 638 654ZM1156 651 1150 651 1145 650 1141 648 1139 644 1144 641 1160 634 1170 634 1176 636 1179 646 1178 649 1156 651ZM466 661 464 661 462 660 454 653 442 647 440 646 434 648 432 648 429 646 429 642 432 639 440 635 452 638 460 645 468 654 469 658 466 661ZM182 651 178 651 176 646 178 640 180 637 182 638 183 640 183 648 182 651ZM960 639 956 639 955 638 960 638 961 638 960 639ZM598 661 580 659 570 650 554 645 553 644 553 640 554 639 556 639 572 644 584 646 594 646 598 647 601 650 602 654 601 658 598 661ZM1048 653 1046 653 1042 651 1040 646 1041 642 1044 640 1050 639 1054 640 1058 642 1059 644 1059 646 1054 650 1048 653ZM1214 650 1208 650 1198 647 1197 646 1199 644 1202 642 1209 642 1216 646 1216 648 1214 650ZM410 673 406 672 404 670 404 668 414 663 418 655 422 653 428 652 432 653 434 654 435 656 435 660 432 663 420 668 410 673ZM294 675 290 675 287 674 285 670 287 666 308 659 328 653 330 654 333 656 333 660 330 662 314 666 294 675ZM1204 686 1159 686 1160 684 1162 682 1176 682 1182 680 1181 678 1172 673 1165 668 1162 664 1162 662 1166 658 1178 655 1199 654 1210 653 1218 656 1235 666 1235 668 1234 670 1230 672 1204 680 1203 682 1204 684 1204 686ZM816 668 812 667 810 664 812 660 816 658 818 660 819 664 818 666 816 668ZM644 661 640 661 640 660 642 659 644 660 644 661ZM540 667 536 666 535 664 535 662 538 661 542 662 543 664 543 666 540 667ZM1134 675 1130 675 1128 673 1127 670 1129 668 1134 666 1138 668 1138 670 1138 672 1134 675ZM262 681 254 680 236 674 231 672 234 670 262 668 268 669 272 672 273 674 272 677 268 679 262 681ZM192 677 187 676 186 674 186 672 192 670 197 672 197 674 192 677ZM922 681 916 681 914 679 915 676 918 675 922 676 924 678 922 681ZM706 686 690 686 702 681 706 682 706 686ZM466 686 440 686 442 683 448 682 461 684 466 686Z"/>
<path fill="#9aaecd" fill-rule="evenodd" d="M196 281 193 280 196 280 196 281ZM282 285 274 284 272 282 271 280 286 280 284 283 282 285ZM454 289 450 289 446 287 445 284 445 280 457 280 456 286 454 289ZM730 343 722 342 716 340 709 338 706 334 708 333 726 332 736 328 726 323 716 314 713 312 716 306 714 306 706 311 700 318 698 324 700 332 685 336 684 336 683 340 681 340 670 341 667 340 665 336 666 336 679 334 680 332 678 328 674 327 667 330 665 332 665 336 664 336 652 337 648 337 644 334 641 330 641 324 645 316 644 315 640 316 628 320 614 318 590 323 584 323 578 321 569 316 568 313 566 312 562 314 550 314 544 320 540 322 534 323 530 322 524 318 523 312 522 310 512 306 511 302 514 296 502 286 501 284 504 281 508 280 515 284 538 294 544 294 552 290 558 289 570 293 580 292 584 295 586 295 590 295 604 289 620 287 634 281 648 283 660 282 670 284 688 285 698 284 701 282 702 280 731 280 729 288 730 290 732 290 744 290 748 290 751 292 750 294 749 296 738 298 737 300 740 304 753 312 760 319 787 310 792 308 800 301 822 294 840 291 846 290 853 292 857 296 856 301 850 305 844 305 828 303 814 310 798 315 786 322 766 330 764 330 760 329 759 326 758 321 756 321 739 328 753 334 755 336 753 338 748 340 730 343ZM370 293 360 293 352 292 356 290 362 290 372 292 370 293ZM438 298 434 298 432 296 432 292 434 291 438 290 441 292 440 296 438 298ZM472 318 464 318 442 316 441 316 440 314 443 308 450 303 458 300 472 298 486 292 490 292 492 294 501 300 501 304 498 306 482 310 476 316 472 318ZM922 312 914 310 898 302 895 300 895 296 898 293 900 293 912 299 922 306 923 308 922 312ZM260 300 256 300 253 298 258 295 264 296 264 298 260 300ZM344 310 334 310 323 308 313 306 311 304 310 302 314 298 322 296 330 295 340 297 346 300 349 304 348 307 344 310ZM1190 306 1183 304 1182 302 1182 300 1186 299 1190 298 1194 299 1196 300 1197 302 1196 304 1190 306ZM651 312 663 308 668 306 668 304 666 302 660 302 648 306 646 306 646 308 648 312 651 312ZM894 331 888 331 880 328 864 312 863 310 863 308 868 305 876 306 886 310 900 318 903 320 903 324 900 328 894 331ZM244 322 242 322 224 319 216 316 214 314 214 312 216 310 220 310 236 312 246 316 246 320 244 322ZM1128 313 1122 313 1118 312 1118 310 1124 310 1131 310 1132 312 1128 313ZM184 325 180 324 179 322 180 319 182 318 198 314 202 314 203 316 203 318 198 321 184 325ZM816 350 812 350 810 348 809 344 810 342 848 317 850 316 852 318 853 322 852 325 842 332 826 340 820 347 816 350ZM996 333 990 333 986 332 984 328 985 324 988 322 990 321 994 321 996 322 998 324 999 330 999 332 996 333ZM266 323 263 322 266 323ZM452 339 448 338 447 336 447 334 450 333 455 334 456 336 452 339ZM1040 358 1034 357 1029 356 1024 346 1012 344 1007 342 1004 340 1004 336 1007 334 1016 333 1026 334 1032 336 1042 343 1045 348 1046 352 1045 354 1043 356 1040 358ZM174 354 170 354 170 344 174 346 176 348 176 352 174 354ZM516 358 512 358 510 357 508 356 509 352 512 351 517 352 518 354 516 358ZM784 363 780 363 774 362 771 360 770 358 778 354 782 352 788 352 793 354 794 356 792 359 790 361 784 363ZM1236 367 1229 366 1228 364 1227 362 1230 360 1236 360 1236 367ZM326 368 315 368 310 366 312 363 322 361 332 362 336 364 334 366 326 368ZM638 370 632 370 628 368 626 366 626 364 630 362 637 364 640 366 641 368 638 370ZM1002 387 992 386 984 385 980 382 979 380 981 376 990 370 998 367 1006 367 1017 370 1020 372 1023 376 1024 378 1020 382 1010 385 1002 387ZM450 389 446 389 440 388 434 384 432 380 435 378 442 377 446 377 452 378 455 380 456 384 455 386 450 389ZM398 384 390 384 387 382 386 380 388 379 390 378 396 378 400 380 400 382 398 384ZM658 391 652 391 648 390 645 388 645 384 648 382 652 380 656 379 658 380 662 383 664 386 662 389 658 391ZM526 415 524 414 520 412 512 408 510 404 511 400 514 399 548 397 572 391 590 381 594 381 596 384 596 386 594 388 578 399 542 405 533 408 530 413 526 415ZM580 406 576 406 574 404 576 401 578 400 586 399 590 400 589 402 580 406ZM362 424 354 424 341 422 318 418 302 416 299 414 299 410 301 408 304 406 326 409 344 414 350 414 364 411 382 408 387 404 388 400 390 400 398 400 400 402 402 404 402 408 400 411 362 424ZM1136 434 1130 433 1121 426 1119 418 1112 407 1112 403 1114 400 1118 400 1120 403 1139 426 1140 428 1139 430 1136 434ZM656 410 650 410 649 408 650 407 654 407 656 408 656 410ZM220 443 202 443 192 440 186 436 175 428 173 424 174 420 178 416 182 416 188 419 200 427 204 429 208 429 230 426 238 424 244 423 256 417 274 413 282 413 292 415 296 416 297 418 297 422 294 425 278 424 270 424 250 430 240 436 234 438 220 443ZM938 418 936 418 934 417 933 414 934 413 936 413 939 414 939 416 938 418ZM460 440 452 440 430 437 412 437 407 436 406 434 414 426 429 418 438 416 450 415 492 418 500 422 504 430 504 432 502 433 486 438 460 440ZM1078 483 1074 483 1072 482 1071 478 1072 474 1104 457 1098 457 1082 459 1056 458 1055 456 1056 442 1060 441 1078 441 1092 434 1100 433 1108 434 1109 436 1106 444 1106 446 1108 456 1124 454 1126 456 1128 458 1126 464 1122 467 1102 473 1078 483ZM520 444 518 444 514 444 513 442 512 440 516 439 520 439 521 442 520 444ZM192 451 185 450 183 450 182 448 185 446 190 445 194 445 198 448 197 450 192 451ZM560 467 558 464 558 462 560 461 592 448 594 448 596 450 596 452 594 454 572 461 560 467ZM296 469 288 469 285 468 284 468 290 464 308 456 310 456 313 458 313 460 312 463 296 469ZM1048 470 1044 470 1039 468 1037 466 1036 464 1038 462 1042 460 1048 460 1052 461 1053 464 1053 466 1052 468 1048 470ZM960 475 956 474 954 472 954 470 958 469 961 470 963 472 960 475ZM904 479 896 477 892 476 891 474 894 472 900 470 906 472 910 474 910 476 909 478 904 479ZM254 480 252 478 252 476 253 476 262 473 267 474 264 476 254 480ZM466 495 460 495 456 494 452 492 451 490 454 487 460 485 468 486 472 488 473 490 472 492 466 495ZM1214 503 1205 502 1203 500 1203 498 1206 495 1214 494 1220 494 1223 496 1223 498 1221 500 1214 503ZM576 508 571 508 574 506 576 506 576 508ZM1094 546 1082 545 1079 544 1077 542 1079 540 1082 539 1092 539 1096 540 1098 542 1097 544 1094 546ZM186 547 182 547 182 546 184 545 186 547ZM1036 559 1032 559 1029 558 1027 558 1026 556 1028 554 1034 554 1037 556 1036 559ZM682 582 672 582 650 574 648 572 645 560 648 557 658 556 668 559 684 562 690 564 695 568 698 572 698 574 696 576 691 578 682 582ZM1182 569 1178 568 1174 567 1172 564 1173 562 1178 559 1182 559 1185 560 1186 562 1186 566 1182 569ZM314 600 310 600 306 598 305 594 306 591 324 585 354 580 370 576 388 576 400 575 422 577 434 576 438 574 437 568 439 566 442 564 444 563 446 564 448 566 452 574 450 577 446 579 442 583 388 588 384 590 381 594 376 595 370 596 367 594 365 592 366 590 365 588 360 588 344 593 328 596 314 600ZM488 570 481 568 479 568 479 566 481 564 486 563 491 564 494 566 492 568 488 570ZM1044 593 1042 593 1036 591 1008 588 992 582 984 580 965 582 952 586 928 591 920 589 908 582 904 581 880 587 876 585 874 578 875 576 878 573 894 569 906 570 920 576 924 577 930 576 940 571 962 566 980 566 988 567 996 573 1006 576 1036 579 1052 577 1056 578 1058 582 1056 586 1044 593ZM412 570 406 570 404 570 406 568 410 567 414 568 412 570ZM648 610 638 610 632 608 620 596 608 591 606 592 600 598 596 600 592 601 584 601 576 599 562 591 540 588 524 580 518 579 514 580 502 584 488 588 474 595 468 597 464 596 462 592 464 589 488 574 504 569 514 567 521 568 536 575 564 584 588 587 602 579 608 578 618 580 626 587 634 592 638 593 646 593 654 595 664 596 700 590 703 592 704 594 704 598 700 601 682 605 660 607 648 610ZM816 592 808 592 794 588 782 590 774 589 766 587 765 584 765 582 766 580 770 579 790 580 802 578 824 576 832 577 836 580 836 584 833 586 816 592ZM272 591 248 588 244 586 243 584 245 582 248 579 254 577 258 577 286 579 291 580 294 584 293 586 290 587 272 591ZM200 601 191 600 189 598 189 594 192 592 198 591 204 592 208 596 209 598 207 598 200 601ZM992 625 986 624 972 618 970 618 964 623 956 624 936 623 924 621 916 624 906 624 900 623 899 620 902 618 906 617 922 619 928 610 940 602 946 600 956 601 960 595 964 593 970 594 982 606 988 608 1015 602 1036 599 1042 597 1058 599 1071 602 1080 606 1082 608 1080 613 1076 615 1070 611 1066 610 1034 610 1026 611 1006 617 992 625ZM804 606 800 606 796 606 794 604 794 602 798 599 806 599 807 600 807 602 804 606ZM1114 613 1110 613 1102 612 1098 610 1097 608 1102 606 1108 602 1114 601 1118 603 1119 606 1118 610 1114 613ZM218 646 216 646 212 645 210 642 208 637 201 634 198 633 199 630 203 622 196 618 195 616 197 614 206 612 218 613 222 605 226 603 230 603 234 604 235 606 236 613 234 617 232 618 228 619 220 618 218 620 218 622 223 630 228 631 232 630 235 628 236 624 238 624 246 623 262 620 280 622 282 623 284 626 283 630 280 633 266 631 262 631 240 640 218 646ZM1156 627 1152 626 1138 615 1126 609 1125 608 1126 604 1128 603 1132 603 1144 612 1156 618 1158 620 1159 622 1158 625 1156 627ZM850 619 842 618 836 616 833 612 833 608 838 605 846 604 856 605 862 608 863 612 860 615 856 617 850 619ZM720 612 716 612 714 610 714 608 718 607 722 607 723 610 720 612ZM436 618 426 617 421 616 418 614 421 612 426 611 444 614 453 610 458 608 462 609 464 612 462 614 458 616 452 616 444 615 436 618ZM774 625 770 625 762 625 758 624 756 622 758 620 762 619 771 618 775 620 777 622 776 624 774 625ZM464 630 460 630 456 630 452 628 452 624 454 622 458 621 462 621 466 622 469 624 469 626 467 628 464 630ZM1000 632 994 631 993 630 993 628 998 627 1002 628 1002 630 1000 632ZM678 637 674 637 672 635 670 632 672 630 676 628 681 630 682 632 682 634 678 637ZM636 637 632 637 628 636 625 634 625 632 628 630 634 630 638 634 637 636 636 637ZM786 650 762 646 736 635 732 635 710 644 707 644 706 640 708 637 719 632 731 630 738 629 742 630 754 636 776 638 786 640 788 642 789 646 788 648 786 650ZM1156 650 1146 649 1142 646 1142 644 1145 642 1160 635 1170 635 1176 637 1179 646 1178 648 1156 650ZM466 661 462 660 454 654 444 646 440 646 434 647 432 647 430 644 430 642 435 638 440 636 452 640 460 645 467 654 468 658 466 661ZM640 649 636 649 634 648 640 637 645 636 652 640 652 642 651 642 640 649ZM180 650 178 649 177 646 178 641 180 639 182 640 183 644 182 648 180 650ZM596 661 582 657 568 649 554 644 554 641 554 640 556 639 568 644 596 648 600 652 601 656 600 659 596 661ZM1052 647 1046 647 1045 646 1045 644 1049 642 1054 642 1055 644 1052 647ZM290 675 288 674 286 672 286 668 288 666 328 654 330 654 332 656 332 660 330 662 312 666 296 673 290 675ZM426 664 422 664 419 664 418 662 419 658 422 656 424 654 430 655 432 656 432 660 430 662 426 664ZM1198 686 1175 686 1188 680 1185 678 1174 673 1168 669 1164 666 1163 664 1164 662 1169 658 1178 656 1210 655 1220 658 1232 666 1231 670 1228 672 1196 680 1198 686ZM814 665 814 664 814 665ZM264 679 258 679 252 678 237 674 236 672 258 669 266 669 270 671 271 674 270 676 264 679ZM194 675 190 675 188 672 190 671 194 671 196 672 194 675ZM454 686 444 686 448 684 454 686ZM1168 686 1166 686 1168 686Z"/>
<path fill="#8397b9" fill-rule="evenodd" d="M280 282 276 282 274 280 281 280 280 282ZM452 287 450 287 448 286 447 280 455 280 455 284 452 287ZM652 337 648 336 643 332 642 328 643 322 646 318 650 315 668 306 670 304 670 302 664 301 658 302 638 307 628 306 623 306 621 310 622 312 628 312 638 309 641 310 641 312 639 314 628 318 624 318 620 316 616 316 592 322 584 322 578 320 570 314 568 311 566 311 562 313 550 313 542 320 538 322 534 322 530 321 527 320 525 316 522 310 516 306 513 304 512 302 513 300 519 296 512 288 514 288 518 289 532 295 542 297 548 296 554 292 558 291 562 292 564 296 566 297 578 294 582 296 588 296 604 290 618 289 634 283 690 286 700 284 702 283 704 280 729 280 727 288 728 292 730 292 742 290 745 290 749 292 749 294 747 296 735 298 734 298 737 302 750 310 754 314 755 318 754 320 748 323 742 326 736 326 732 325 726 322 720 318 717 314 716 310 721 304 720 304 716 303 710 306 698 316 696 320 696 328 695 330 690 332 686 332 683 330 681 326 676 326 666 330 660 335 652 337ZM364 292 356 292 360 291 364 292ZM438 297 434 297 432 296 432 294 434 292 438 291 440 292 440 295 438 297ZM766 330 764 330 760 328 759 324 760 320 772 315 788 310 802 301 822 294 828 294 842 291 850 292 854 294 855 296 854 300 850 304 842 304 828 302 814 310 798 315 786 322 766 330ZM920 310 912 309 898 301 895 298 896 296 898 294 900 294 913 300 920 306 921 308 920 310ZM468 318 458 317 448 315 444 312 444 310 447 306 454 302 458 301 474 300 486 295 492 296 498 300 498 304 496 306 482 309 474 316 468 318ZM340 310 332 310 318 307 313 304 312 302 315 298 322 297 330 296 338 297 344 300 348 304 347 306 346 308 340 310ZM892 331 884 329 878 325 865 312 865 310 866 308 870 306 880 308 890 312 900 318 902 322 900 326 896 329 892 331ZM1130 312 1124 312 1120 312 1120 310 1126 310 1129 310 1130 312ZM244 321 224 319 219 316 217 314 218 312 222 311 234 312 244 316 245 318 244 321ZM190 323 182 323 180 322 180 320 183 318 190 316 198 315 199 316 198 320 190 323ZM816 350 812 349 810 348 809 344 810 342 818 338 833 326 848 318 850 317 851 318 852 322 850 326 840 332 825 340 820 346 816 350ZM996 333 990 333 986 332 984 328 985 324 988 322 990 321 994 321 996 322 998 324 999 330 998 332 996 333ZM732 342 726 342 720 341 713 338 710 336 714 334 738 330 747 332 751 336 748 338 732 342ZM1042 357 1036 357 1030 356 1028 352 1026 346 1008 343 1005 340 1004 336 1007 334 1016 334 1024 334 1029 336 1034 340 1040 343 1044 346 1045 352 1044 355 1042 357ZM172 352 170 352 170 347 174 348 174 350 172 352ZM516 357 512 357 510 356 509 354 510 352 512 351 516 352 517 354 516 357ZM788 361 778 361 776 360 776 358 778 354 782 353 790 352 792 354 793 356 792 359 788 361ZM330 367 318 367 314 366 315 364 322 362 330 362 334 364 333 366 330 367ZM638 369 630 368 628 368 627 366 630 363 635 364 639 366 639 368 638 369ZM1236 364 1234 364 1236 363 1236 364ZM1006 386 998 386 988 385 982 382 980 380 980 378 990 370 996 367 1004 367 1012 368 1018 370 1021 372 1023 376 1022 380 1016 383 1006 386ZM452 388 446 388 440 387 436 384 435 380 438 378 442 377 451 378 454 380 455 384 454 386 452 388ZM396 384 390 383 388 382 387 380 391 378 396 379 399 382 396 384ZM660 390 654 390 650 390 646 388 646 384 648 382 652 380 658 380 662 383 663 386 662 388 660 390ZM526 411 513 408 510 406 511 402 514 399 546 398 572 392 590 382 594 382 595 384 595 386 594 388 576 398 566 401 544 404 526 411ZM1134 434 1129 432 1122 426 1119 418 1112 406 1112 404 1114 401 1117 400 1120 403 1139 426 1139 428 1139 430 1137 432 1134 434ZM362 423 356 423 340 421 318 417 302 415 300 414 300 411 302 408 304 407 326 410 344 415 350 415 364 411 382 409 386 407 392 402 394 401 398 401 402 404 401 408 398 411 362 423ZM220 442 204 442 198 441 192 439 186 435 176 427 174 424 174 420 178 417 182 417 199 428 208 430 228 427 238 424 246 424 256 418 274 414 282 414 292 416 296 417 297 420 296 422 294 424 278 423 270 424 250 430 240 436 232 437 220 442ZM458 440 452 439 432 435 416 435 413 434 412 432 415 428 429 420 436 417 446 416 460 416 490 418 497 422 501 428 501 430 500 432 484 437 458 440ZM1082 458 1060 455 1058 450 1058 444 1062 442 1082 442 1089 436 1094 435 1102 434 1106 436 1107 438 1105 444 1105 452 1105 454 1099 456 1082 458ZM194 450 186 450 185 450 184 448 187 446 192 446 197 448 196 448 194 450ZM562 466 559 464 559 462 560 462 592 448 594 448 596 450 596 452 594 454 570 460 562 466ZM1078 483 1074 483 1072 480 1071 476 1074 474 1094 463 1108 457 1122 454 1126 456 1127 462 1126 464 1124 466 1102 473 1078 483ZM294 469 288 468 287 466 294 462 308 456 310 456 313 458 312 462 310 463 300 467 294 469ZM1048 469 1040 468 1038 466 1038 464 1039 462 1042 461 1050 462 1052 464 1052 466 1051 468 1048 469ZM960 474 956 474 955 472 956 470 960 470 961 472 960 474ZM904 477 898 476 895 474 898 472 902 472 906 474 906 476 904 477ZM254 479 252 478 253 476 259 474 263 474 261 476 254 479ZM464 495 456 494 453 492 452 490 456 487 462 486 468 486 471 488 472 490 470 492 464 495ZM1216 502 1208 501 1206 500 1204 498 1206 496 1212 494 1218 495 1221 496 1221 500 1216 502ZM1094 545 1084 545 1080 544 1079 542 1080 540 1083 540 1090 539 1096 542 1097 544 1094 545ZM1036 559 1030 558 1028 558 1027 556 1030 554 1034 555 1037 556 1037 558 1036 559ZM1182 568 1178 568 1176 567 1173 566 1173 562 1178 560 1184 560 1186 562 1186 564 1182 568ZM682 581 676 581 672 581 654 574 651 570 651 562 656 560 666 561 680 562 686 563 691 566 695 570 695 574 692 577 682 581ZM312 600 308 600 306 598 306 594 308 591 326 585 356 580 368 577 400 576 418 577 430 577 438 574 439 572 440 568 444 564 447 566 451 574 450 576 446 578 442 583 386 588 382 588 378 592 374 594 370 592 370 590 369 588 360 588 312 600ZM490 568 484 568 482 566 484 564 488 564 492 566 490 568ZM1044 592 1042 592 1034 590 1009 588 992 582 984 580 964 581 952 585 928 590 920 589 908 581 904 580 880 587 876 584 874 578 875 576 878 574 894 570 902 569 908 570 920 576 924 578 929 576 940 572 960 567 980 566 988 568 998 574 1006 576 1036 579 1050 577 1054 578 1057 582 1056 586 1054 588 1044 592ZM646 610 638 610 632 608 620 596 608 591 606 591 600 597 596 599 592 600 584 600 576 598 562 590 540 587 524 580 518 579 514 579 500 584 488 587 474 594 468 596 464 596 463 592 465 590 486 575 508 569 516 568 522 569 534 575 549 580 564 585 588 587 602 579 608 578 616 580 634 592 640 595 666 596 700 591 702 592 704 594 704 598 700 600 680 605 660 607 646 610ZM818 591 810 591 794 587 782 589 776 589 769 588 767 586 766 584 767 582 770 580 790 581 802 578 820 577 830 577 834 580 835 584 833 586 828 588 818 591ZM276 590 268 590 250 588 247 586 245 584 247 582 250 580 260 578 284 579 289 580 292 584 291 586 288 587 276 590ZM198 600 192 598 191 596 191 594 194 593 198 592 203 594 205 596 205 598 203 598 198 600ZM992 624 984 623 970 617 968 617 962 622 952 623 932 622 928 620 926 618 929 612 936 606 946 602 956 602 962 595 966 594 970 595 982 606 988 609 1017 602 1036 600 1042 598 1064 602 1078 606 1081 608 1080 612 1076 614 1070 610 1068 610 1026 610 1006 616 996 622 992 624ZM1114 612 1110 612 1104 610 1103 608 1104 606 1106 603 1110 601 1112 601 1116 602 1118 604 1119 608 1116 610 1114 612ZM1156 626 1152 626 1138 614 1128 609 1126 608 1126 605 1128 603 1132 603 1142 612 1156 619 1158 622 1156 626ZM232 617 226 617 220 615 221 610 224 606 230 604 234 606 235 610 235 612 234 615 232 617ZM850 618 844 618 838 616 835 614 834 610 838 606 846 604 854 605 861 608 862 612 860 614 856 616 850 618ZM720 611 718 611 715 610 716 608 720 608 721 610 720 611ZM216 646 214 645 211 644 210 640 208 635 203 632 203 628 206 622 198 618 197 616 199 614 202 612 208 612 213 614 217 616 217 618 212 622 216 626 217 630 218 632 226 632 232 631 242 625 262 621 280 622 282 624 283 626 283 630 280 633 266 630 262 631 240 640 216 646ZM434 617 427 616 422 614 424 612 428 612 437 614 437 616 434 617ZM908 623 904 622 901 620 903 618 908 618 912 618 914 620 908 623ZM770 624 762 624 760 623 758 622 762 619 770 619 773 622 770 624ZM462 630 458 630 455 628 453 626 453 624 456 623 460 622 467 624 468 626 468 627 462 630ZM678 636 676 636 672 635 671 632 672 630 676 629 680 630 681 634 678 636ZM634 636 628 636 626 634 626 632 628 630 634 630 636 634 634 636ZM710 644 708 644 706 642 706 639 708 637 724 632 728 632 730 634 729 636 726 638 710 644ZM466 660 462 660 454 653 444 646 434 645 432 644 433 640 436 637 440 636 454 642 460 646 467 654 468 658 466 660ZM786 649 763 646 751 640 746 636 774 638 786 641 788 642 788 644 788 647 786 649ZM1160 649 1148 648 1144 646 1144 644 1147 642 1160 636 1170 636 1176 638 1178 644 1177 648 1160 649ZM598 660 594 660 582 656 566 647 555 644 554 642 556 640 568 646 582 646 596 649 599 652 601 654 600 658 598 660ZM646 642 643 642 644 640 646 640 646 642ZM180 647 179 646 178 644 180 642 181 644 180 647ZM292 674 290 674 287 672 286 670 288 667 328 654 330 654 332 656 332 660 330 662 312 666 292 674ZM426 662 422 661 422 658 426 656 429 656 430 658 429 660 426 662ZM1202 678 1190 678 1176 673 1167 668 1165 664 1165 662 1170 659 1178 657 1208 656 1218 659 1227 664 1230 666 1229 670 1226 672 1202 678ZM262 679 251 678 243 674 240 672 242 671 260 669 266 670 270 672 270 674 268 676 262 679ZM1192 686 1182 686 1184 684 1188 683 1192 684 1192 686Z"/>
<path fill="#7286ab" fill-rule="evenodd" d="M654 336 648 336 644 332 642 328 644 322 646 319 652 316 669 306 672 304 672 301 660 301 640 305 622 305 618 306 616 312 613 314 600 319 586 321 580 320 571 314 571 310 574 304 574 302 572 304 568 308 562 312 548 312 543 320 540 321 536 322 530 321 527 318 523 310 514 304 513 302 513 300 518 297 522 297 526 297 544 302 556 301 566 301 576 296 578 296 580 298 586 297 604 291 620 289 634 285 692 286 703 284 704 284 705 280 727 280 724 288 726 296 734 302 748 311 751 314 752 316 752 318 750 321 742 325 734 325 726 321 720 316 718 312 719 310 725 302 725 300 724 300 713 304 708 306 694 318 691 322 690 327 684 324 674 326 666 328 658 334 654 336ZM744 296 736 296 734 295 733 294 736 291 742 291 745 292 746 294 744 296ZM438 296 434 296 434 295 434 294 436 292 438 292 438 294 438 296ZM766 330 762 329 760 326 760 322 762 320 774 315 788 311 804 301 822 295 828 295 842 292 850 293 853 294 854 296 854 300 850 303 842 304 828 302 814 310 798 315 784 322 766 330ZM916 309 912 307 898 301 896 298 896 296 898 294 900 294 912 300 918 306 918 308 916 309ZM342 309 334 309 324 308 315 304 313 302 316 299 324 297 332 297 338 298 344 300 346 304 346 306 342 309ZM470 317 462 317 450 315 446 312 445 310 447 306 450 305 458 302 476 301 490 298 494 298 496 300 497 302 495 304 490 306 480 308 474 314 470 317ZM892 330 886 329 878 325 867 312 866 310 867 308 872 307 879 308 888 312 898 318 900 320 900 324 896 328 892 330ZM238 319 232 319 226 318 220 316 220 314 222 311 230 312 237 314 243 318 238 319ZM1126 312 1123 312 1127 312 1126 312ZM188 322 184 322 183 320 188 317 194 317 196 318 194 320 188 322ZM830 337 824 337 823 336 826 332 834 326 848 319 850 319 851 322 848 326 839 332 830 337ZM996 333 990 332 986 330 984 328 986 324 990 321 994 321 996 322 998 326 999 330 998 332 996 333ZM734 341 722 341 716 338 713 336 714 336 716 334 736 332 742 332 747 334 747 336 746 338 734 341ZM1040 357 1034 357 1030 354 1028 351 1026 345 1014 344 1008 342 1005 340 1005 336 1008 334 1016 334 1024 334 1028 336 1031 338 1032 341 1040 343 1044 347 1044 350 1044 354 1042 356 1040 357ZM816 349 814 349 812 348 810 346 810 344 815 340 820 340 821 342 821 344 816 349ZM514 357 510 356 510 354 510 353 514 352 516 354 516 356 514 357ZM788 360 780 360 778 358 778 356 779 354 782 353 788 353 791 354 792 356 792 358 788 360ZM328 366 322 366 319 366 319 364 320 364 326 363 330 364 331 364 328 366ZM636 368 630 367 629 366 630 364 634 364 637 366 636 368ZM1004 386 994 386 986 384 982 382 981 378 983 376 990 370 998 368 1006 368 1014 369 1019 372 1022 374 1022 378 1019 380 1012 384 1004 386ZM450 388 444 388 440 386 437 384 437 380 440 379 444 378 448 378 452 379 454 382 454 384 452 386 450 388ZM396 383 390 383 389 380 392 379 396 379 398 380 398 382 396 383ZM658 390 654 390 650 389 647 386 647 384 649 382 652 381 660 382 662 384 663 386 661 388 658 390ZM528 409 524 409 514 409 511 406 511 402 512 401 514 400 546 399 574 392 591 382 592 382 594 384 595 386 594 387 574 398 563 400 546 402 528 409ZM1136 433 1130 432 1123 426 1120 418 1112 407 1112 404 1114 401 1116 401 1120 404 1137 424 1139 428 1138 431 1136 433ZM362 422 358 422 353 422 350 420 349 418 364 412 384 411 386 410 392 404 396 402 398 402 401 404 401 408 398 410 386 413 362 422ZM344 420 334 420 314 414 302 414 301 412 302 409 304 408 328 412 346 418 344 420ZM216 442 200 441 190 437 176 427 174 424 175 420 178 417 182 417 198 428 202 430 208 430 230 427 238 424 246 424 256 418 274 414 282 414 292 416 295 418 296 420 296 422 294 424 278 423 270 423 250 429 240 436 232 437 224 440 216 442ZM466 439 452 439 432 433 419 434 417 432 416 430 419 428 430 420 435 418 442 417 488 419 494 421 498 426 498 430 494 432 482 437 466 439ZM1088 456 1078 456 1064 454 1061 452 1060 446 1062 444 1064 444 1082 444 1086 443 1090 438 1093 436 1098 436 1102 437 1104 440 1103 444 1103 452 1098 454 1088 456ZM192 450 187 450 186 448 188 446 193 446 195 448 192 450ZM588 455 582 455 581 454 591 450 594 450 594 453 588 455ZM1076 483 1074 482 1072 480 1071 478 1072 476 1088 467 1100 461 1110 457 1122 454 1124 455 1126 457 1127 462 1124 465 1104 472 1076 483ZM296 468 290 468 289 466 293 464 308 457 310 457 312 458 312 460 310 463 296 468ZM1050 467 1046 467 1044 467 1040 466 1040 464 1042 463 1047 462 1050 464 1050 467ZM466 494 457 494 454 492 453 490 455 488 458 486 468 487 470 488 471 490 469 492 466 494ZM1216 501 1208 501 1206 498 1208 496 1212 496 1216 495 1219 496 1220 499 1216 501ZM1092 545 1084 544 1080 542 1081 542 1084 540 1090 540 1094 541 1096 542 1092 545ZM1032 559 1029 558 1028 556 1032 555 1035 556 1036 558 1032 559ZM1180 568 1178 567 1174 566 1174 564 1175 562 1180 560 1184 562 1185 564 1184 566 1180 568ZM682 580 674 580 664 576 657 572 658 567 661 564 674 563 682 563 690 565 694 570 694 574 690 577 682 580ZM310 600 308 599 306 596 306 594 308 591 328 585 354 581 368 577 400 577 422 578 430 577 439 574 441 572 441 568 444 566 446 568 449 574 449 576 442 582 426 583 376 589 366 587 360 587 310 600ZM1044 592 1042 592 1034 590 1011 588 1004 587 994 582 986 580 964 581 950 585 926 590 920 588 908 581 904 580 880 586 876 584 875 578 876 576 878 574 894 570 906 570 920 577 924 578 928 577 940 573 960 567 970 566 980 566 988 568 998 574 1006 577 1036 579 1050 577 1055 578 1057 582 1056 586 1053 588 1044 592ZM468 596 465 594 464 591 482 578 494 573 512 569 520 569 532 575 551 580 557 584 561 586 554 588 544 588 536 585 524 579 516 578 486 587 474 594 468 596ZM814 591 808 590 794 585 782 589 775 588 769 586 767 584 768 582 772 580 792 582 802 579 820 577 828 578 831 580 833 582 833 584 830 586 822 589 814 591ZM280 589 270 589 261 588 250 586 248 586 247 584 249 582 252 580 262 578 282 579 287 580 290 582 290 584 289 586 280 589ZM648 609 642 609 634 608 630 605 620 595 608 590 606 591 596 599 588 600 580 599 574 597 567 592 563 588 564 586 570 586 588 588 602 580 608 578 616 581 633 592 642 597 670 596 700 592 702 592 704 594 703 598 700 600 682 604 660 606 648 609ZM200 597 196 597 194 596 196 594 198 594 201 594 201 596 200 597ZM992 623 984 622 970 616 960 621 948 623 932 621 928 619 927 616 930 612 936 607 946 603 958 603 962 596 966 594 969 596 982 606 988 609 1042 598 1058 600 1071 606 1068 608 1060 609 1032 609 1024 610 1006 615 996 621 992 623ZM1114 611 1110 611 1106 610 1105 608 1105 606 1107 604 1110 602 1116 603 1118 605 1118 608 1114 611ZM1136 611 1134 611 1128 609 1127 606 1130 604 1132 604 1137 608 1136 611ZM230 616 226 616 222 614 222 608 225 606 230 605 234 608 234 612 230 616ZM852 617 846 617 840 616 836 614 835 610 838 606 844 605 852 605 858 608 860 610 860 612 856 615 852 617ZM1078 613 1076 612 1072 606 1078 607 1080 608 1080 611 1078 613ZM210 621 206 621 200 619 199 618 199 614 202 613 208 613 212 614 215 616 214 618 210 621ZM432 615 430 615 428 614 430 614 432 615ZM1156 625 1154 625 1152 624 1145 618 1143 616 1144 616 1148 616 1156 619 1157 622 1156 625ZM220 645 216 645 212 643 210 638 212 634 214 633 230 632 244 625 260 621 268 621 280 623 282 624 283 626 282 630 280 632 266 630 262 630 240 639 220 645ZM766 622 763 622 766 621 766 622ZM464 629 457 628 455 628 454 626 456 624 458 623 464 623 466 624 466 626 464 629ZM680 635 674 635 672 634 672 632 674 630 678 630 681 632 680 635ZM632 636 628 635 627 632 630 631 634 632 635 634 632 636ZM710 643 708 643 707 642 707 640 708 638 722 634 726 635 724 638 710 643ZM1162 648 1150 648 1147 646 1146 644 1150 642 1162 637 1170 637 1174 638 1176 639 1177 644 1176 647 1162 648ZM464 660 462 659 456 653 444 645 436 644 434 642 435 640 438 637 440 637 454 643 467 654 467 658 464 660ZM784 649 765 646 757 642 754 640 768 638 782 640 786 642 787 644 787 646 784 649ZM596 660 582 656 572 650 571 648 580 647 590 648 596 650 598 652 600 654 600 658 596 660ZM290 674 288 672 287 670 288 668 290 667 328 655 330 655 331 656 331 660 330 661 312 665 298 672 290 674ZM1204 677 1192 677 1178 673 1168 668 1166 664 1167 662 1171 660 1180 657 1208 656 1218 659 1226 664 1229 666 1228 670 1224 672 1204 677ZM262 678 254 677 248 676 245 674 245 672 248 672 258 670 262 670 267 672 268 674 266 676 262 678Z"/>
<path fill="#61759d" fill-rule="evenodd" d="M654 335 650 335 645 332 643 328 644 323 646 320 654 316 672 306 675 302 675 300 660 300 640 304 618 303 616 306 613 312 610 314 602 317 590 320 586 320 580 319 573 314 572 312 578 302 582 299 604 292 618 290 632 286 696 286 704 285 707 280 725 280 723 288 723 296 721 300 709 304 688 321 668 327 654 335ZM742 295 738 295 736 294 738 292 742 292 743 294 742 295ZM768 329 764 329 761 328 760 324 762 321 774 315 790 311 800 304 804 301 822 295 828 296 842 293 848 293 851 294 853 296 852 300 846 303 840 303 830 300 814 309 798 314 786 321 768 329ZM914 307 911 306 898 300 896 298 896 296 898 295 900 295 906 298 915 304 915 306 914 307ZM338 309 332 308 320 306 316 304 315 302 318 299 324 298 332 297 338 299 344 301 345 304 344 307 338 309ZM540 321 534 321 528 319 526 316 524 310 514 302 514 300 520 297 524 298 528 299 532 302 546 306 556 304 568 304 566 308 562 311 548 310 544 318 540 321ZM470 316 464 316 454 315 448 313 446 310 447 308 450 305 458 302 478 303 490 299 492 300 495 302 494 304 492 305 480 306 474 314 470 316ZM742 324 734 324 726 321 721 316 719 312 720 310 724 306 730 304 736 305 744 310 749 314 751 318 748 321 742 324ZM894 329 888 329 880 326 869 314 868 312 868 310 872 308 880 309 888 312 896 318 899 320 899 324 897 326 894 329ZM234 318 226 318 224 316 222 314 224 312 232 313 238 316 234 318ZM994 333 990 332 986 330 985 328 987 324 992 321 996 323 998 327 998 330 994 333ZM832 335 828 335 827 334 831 330 838 326 844 323 848 323 846 326 843 330 832 335ZM728 341 721 340 718 338 716 336 721 334 734 333 740 333 743 334 743 336 740 338 728 341ZM1040 356 1036 356 1030 354 1028 350 1028 344 1018 344 1010 343 1006 340 1005 338 1005 336 1009 334 1016 334 1022 334 1027 336 1030 338 1031 342 1038 344 1042 347 1044 352 1042 354 1040 356ZM816 349 812 348 810 345 812 342 816 342 818 343 819 344 816 349ZM514 356 512 356 511 354 515 354 514 356ZM786 360 780 359 779 358 779 356 784 353 790 354 792 355 792 357 790 359 786 360ZM1008 385 1000 385 990 385 984 382 982 378 984 376 989 372 992 369 996 368 1010 368 1016 370 1020 372 1022 376 1020 379 1016 382 1008 385ZM450 387 446 387 442 386 438 384 438 382 440 380 444 378 450 379 453 382 453 384 452 386 450 387ZM396 382 392 382 391 382 391 380 394 380 396 381 396 382ZM654 390 650 389 648 388 648 386 649 384 652 382 656 382 660 383 661 384 662 386 660 388 654 390ZM564 400 556 400 553 398 561 396 576 394 586 386 592 383 594 384 593 386 583 392 572 398 564 400ZM524 409 514 408 511 406 511 402 514 401 518 400 534 400 539 400 540 402 539 404 535 406 524 409ZM1134 433 1130 432 1124 425 1120 418 1113 408 1113 404 1114 402 1118 402 1122 406 1137 426 1138 428 1138 430 1134 433ZM396 410 392 409 391 406 394 404 398 403 400 404 400 406 398 409 396 410ZM362 421 358 421 357 420 360 416 365 414 370 413 377 414 374 416 362 421ZM218 441 202 441 192 438 176 427 175 424 175 420 178 418 182 418 198 429 204 431 208 431 228 428 238 424 248 426 252 422 256 419 274 414 286 415 294 417 296 420 295 422 293 424 274 422 248 428 244 432 240 435 232 436 218 441ZM330 415 328 414 330 415ZM466 439 458 439 452 438 441 436 432 431 423 430 430 422 435 420 440 418 486 420 492 421 496 424 496 428 492 432 481 436 466 439ZM1092 454 1082 454 1070 453 1065 450 1064 448 1066 446 1068 445 1086 446 1089 444 1094 439 1096 438 1100 438 1101 440 1100 450 1097 452 1092 454ZM192 449 189 448 192 448 192 449ZM1078 482 1076 482 1072 481 1072 478 1072 476 1088 467 1100 461 1112 457 1122 455 1124 455 1126 457 1127 462 1124 465 1102 472 1078 482ZM298 467 294 467 291 466 294 464 308 458 310 457 312 458 312 460 310 462 298 467ZM1046 465 1044 464 1046 464 1046 465ZM464 494 456 493 455 492 454 490 456 488 460 486 466 487 469 488 470 490 469 492 464 494ZM1214 500 1210 500 1209 498 1212 497 1216 498 1217 498 1214 500ZM1092 544 1086 544 1083 542 1084 541 1090 541 1094 542 1092 544ZM1034 558 1030 558 1029 556 1032 556 1034 556 1034 558ZM1182 567 1176 566 1175 564 1175 562 1178 561 1182 562 1184 564 1182 567ZM682 579 676 579 670 578 664 574 662 572 663 570 666 566 672 564 680 564 687 566 692 568 692 572 689 576 682 579ZM1042 592 1034 590 1012 588 1005 586 996 582 986 580 965 580 950 585 926 589 920 588 910 580 906 579 902 579 880 585 877 584 875 578 876 576 878 575 892 571 900 570 908 572 920 578 926 579 940 573 962 567 970 566 980 566 988 568 998 575 1004 577 1038 580 1052 577 1055 580 1056 582 1054 586 1042 592ZM312 599 310 599 308 598 306 596 308 592 326 586 356 581 368 578 400 577 428 578 438 576 442 574 442 570 444 569 447 574 444 580 442 582 428 582 406 585 378 587 360 587 312 599ZM470 594 468 594 466 594 472 586 484 578 494 573 512 569 520 570 530 575 549 580 556 584 555 586 553 588 544 587 536 585 524 578 516 578 499 584 486 587 470 594ZM818 590 808 589 798 586 796 584 797 582 802 580 816 578 826 578 830 580 832 582 832 584 830 586 818 590ZM276 589 270 589 262 588 252 586 250 584 251 582 254 580 266 579 281 580 285 580 288 582 288 584 287 586 276 589ZM646 609 638 609 634 607 630 604 622 595 608 590 606 590 596 598 588 599 580 598 574 596 569 592 568 588 568 587 572 587 589 588 602 580 608 579 616 581 632 593 643 598 672 597 700 592 702 593 703 594 702 598 693 600 646 609ZM784 588 774 588 770 586 769 584 771 582 776 581 782 582 790 584 789 586 784 588ZM992 622 988 622 984 621 968 615 960 620 950 622 934 621 930 620 928 616 931 612 936 608 946 603 958 604 962 596 966 595 968 596 982 606 988 610 1042 599 1056 601 1062 602 1064 604 1063 606 1062 608 1058 608 1046 609 1030 608 1022 609 1004 614 992 622ZM1112 611 1108 610 1106 608 1106 606 1107 604 1112 602 1116 604 1117 606 1116 608 1112 611ZM852 616 846 616 840 615 837 612 837 610 840 607 844 606 850 605 854 606 858 608 859 612 856 614 852 616ZM1132 608 1128 608 1128 606 1128 605 1130 605 1132 606 1132 608ZM230 615 226 615 223 614 223 610 226 607 230 606 232 608 233 612 230 615ZM210 620 202 619 200 618 201 616 204 613 212 614 213 616 213 618 210 620ZM1154 625 1149 620 1149 618 1150 618 1153 618 1156 620 1156 623 1154 625ZM218 645 214 645 211 642 211 636 214 634 232 632 246 625 260 622 268 621 280 623 282 624 283 626 282 630 280 632 266 630 262 630 240 639 218 645ZM462 628 458 628 456 626 458 624 462 624 464 626 462 628ZM678 635 674 634 674 632 676 631 679 632 679 634 678 635ZM632 635 630 635 628 634 630 632 632 632 634 634 632 635ZM464 659 463 658 444 644 436 644 435 642 435 640 438 638 440 637 454 644 466 654 466 658 464 659ZM1160 647 1152 647 1149 646 1149 644 1157 640 1163 638 1172 638 1176 641 1176 644 1174 646 1160 647ZM784 648 767 646 759 642 758 640 768 639 780 640 786 643 786 646 784 648ZM598 659 594 659 584 656 576 652 573 648 576 647 582 647 594 650 598 652 600 654 599 658 598 659ZM294 673 288 673 287 670 288 668 292 666 328 655 331 656 331 658 330 661 312 664 294 673ZM1206 676 1194 676 1184 674 1172 669 1169 666 1168 664 1171 660 1180 658 1206 657 1217 660 1224 664 1227 666 1226 670 1222 672 1206 676ZM264 677 258 677 254 677 250 676 249 674 255 672 262 671 266 674 265 676 264 677Z"/>
<path fill="#576b93" fill-rule="evenodd" d="M654 334 650 334 645 332 644 326 646 322 657 314 672 307 678 301 686 298 684 296 678 297 640 303 616 300 613 302 611 310 608 314 602 316 592 319 586 319 582 318 577 314 575 310 580 302 584 299 590 297 614 293 632 287 638 286 654 288 670 286 698 287 705 286 711 280 721 280 721 286 722 294 720 299 708 304 690 319 666 327 654 334ZM848 302 844 302 837 302 832 300 830 298 834 295 846 294 850 295 851 298 850 300 848 302ZM766 329 764 329 761 326 761 324 762 321 776 316 790 312 802 303 822 296 826 296 829 298 826 303 814 309 796 314 785 320 766 329ZM908 302 898 300 897 298 897 296 900 296 906 300 908 302ZM340 308 334 308 328 307 320 304 318 303 317 302 320 300 324 298 332 298 338 299 342 301 344 304 342 306 340 308ZM526 305 522 305 518 304 515 302 515 300 518 298 525 298 528 302 526 305ZM466 316 460 316 452 314 448 312 448 308 452 305 458 303 468 303 476 305 476 308 474 312 470 315 466 316ZM538 321 532 320 528 318 525 308 526 306 528 306 534 306 540 308 544 310 545 312 544 316 542 319 538 321ZM744 322 736 322 728 320 722 316 721 314 721 312 724 308 730 306 734 306 738 308 745 312 749 316 749 318 748 319 744 322ZM562 309 559 308 558 308 562 307 562 309ZM894 328 888 328 880 325 871 314 870 310 874 309 880 310 888 313 895 318 898 320 898 322 897 326 894 328ZM232 316 228 316 227 314 230 314 232 314 232 316ZM996 332 992 332 988 331 985 328 985 326 990 322 996 322 997 324 998 328 998 330 996 332ZM836 332 834 332 833 330 836 328 840 327 842 328 840 330 836 332ZM734 339 726 339 722 338 721 338 721 336 728 335 735 334 737 336 734 339ZM1026 344 1018 344 1010 343 1006 340 1005 338 1007 336 1010 334 1018 334 1024 335 1028 336 1030 340 1028 342 1026 344ZM814 348 812 346 812 344 816 345 817 346 814 348ZM1038 356 1032 355 1030 352 1029 348 1032 345 1037 344 1041 348 1042 350 1042 354 1038 356ZM788 359 782 358 781 358 780 356 784 353 789 354 790 356 788 359ZM1004 385 996 385 988 384 984 381 983 378 990 371 996 368 1004 368 1012 369 1016 371 1020 374 1021 376 1019 380 1012 383 1004 385ZM450 386 446 386 442 386 440 384 439 382 442 379 449 380 451 382 451 384 450 386ZM656 389 650 388 649 386 649 384 652 383 660 384 661 386 656 389ZM526 408 514 407 512 406 512 404 514 401 518 401 530 401 534 402 535 402 534 404 533 406 526 408ZM1136 431 1132 431 1125 426 1120 416 1114 408 1114 404 1114 402 1118 403 1122 407 1133 420 1137 426 1137 428 1136 431ZM256 426 254 426 252 424 253 422 255 420 274 415 284 415 292 418 295 420 294 422 292 422 272 422 256 426ZM220 440 210 440 194 437 188 434 177 426 175 424 176 421 178 418 182 418 196 428 200 431 206 432 228 429 238 425 244 425 246 428 246 430 245 432 240 435 232 436 220 440ZM464 439 454 438 442 435 432 426 432 424 434 421 440 420 464 420 486 421 490 422 493 424 493 428 492 429 482 435 477 436 464 439ZM1078 482 1074 482 1073 480 1072 478 1073 476 1088 467 1102 461 1114 457 1122 455 1124 456 1126 458 1127 462 1124 465 1104 471 1078 482ZM298 466 296 466 297 464 301 462 308 458 311 458 311 460 310 462 298 466ZM466 493 458 492 456 492 455 490 460 487 466 488 468 490 468 492 466 493ZM1180 566 1177 564 1178 564 1181 564 1180 566ZM682 578 676 578 672 577 668 574 667 572 670 568 676 566 682 566 688 568 690 570 690 572 687 576 682 578ZM1044 591 1040 591 1036 590 1014 588 1005 586 998 581 984 579 964 580 950 584 926 588 922 588 918 586 915 582 914 578 916 578 922 579 926 579 940 574 963 568 978 566 988 569 1000 576 1004 578 1038 580 1050 578 1054 580 1056 582 1054 586 1044 591ZM478 589 476 589 475 586 479 582 486 578 494 574 512 570 519 570 523 574 522 576 514 577 500 583 478 589ZM884 584 880 584 878 583 876 580 878 576 890 572 898 571 904 572 908 574 910 576 884 584ZM440 582 434 580 433 578 442 575 444 576 444 578 442 581 440 582ZM310 599 307 598 307 596 308 593 320 588 332 585 356 582 370 578 404 578 412 578 419 580 417 582 414 584 404 585 378 587 360 586 310 599ZM550 587 544 586 538 584 533 582 531 580 533 578 536 578 549 582 552 584 553 584 550 587ZM278 588 272 588 264 588 256 584 255 582 259 580 272 579 282 580 286 582 287 584 285 586 278 588ZM648 608 642 608 634 607 630 604 622 594 608 589 604 590 595 598 588 599 582 598 576 596 572 592 571 590 572 588 574 588 590 589 602 581 608 579 616 581 632 594 644 598 676 598 692 596 700 594 701 594 700 596 687 600 648 608ZM818 589 812 589 808 588 800 584 800 582 806 580 818 579 826 579 830 582 830 584 828 586 818 589ZM782 587 777 586 772 584 774 582 780 582 785 584 786 584 782 587ZM946 622 938 621 932 620 930 618 930 614 934 610 944 605 950 604 959 604 962 598 964 596 968 596 988 611 1002 609 1003 610 1001 612 997 618 992 621 986 620 968 613 962 618 958 620 946 622ZM1056 608 1039 608 1031 606 1028 604 1040 600 1050 600 1059 604 1059 606 1056 608ZM1114 610 1108 609 1107 608 1107 606 1110 603 1114 604 1116 606 1115 608 1114 610ZM848 616 844 615 840 614 838 612 838 610 842 607 846 606 852 607 856 610 857 612 855 614 848 616ZM228 614 226 613 225 612 227 608 230 608 231 610 232 612 228 614ZM208 619 205 618 203 618 203 616 206 615 210 616 211 618 208 619ZM216 645 213 644 211 640 211 638 214 635 232 632 244 626 252 623 260 622 268 622 280 624 282 626 282 630 280 632 262 629 240 639 216 645ZM440 644 438 643 436 642 436 640 438 638 441 638 443 640 442 642 440 644ZM1172 644 1164 643 1160 642 1164 639 1170 639 1174 642 1174 643 1172 644ZM782 646 771 646 763 642 766 640 776 640 785 644 784 645 782 646ZM460 652 458 652 450 648 446 642 450 642 455 646 460 650 460 652ZM596 659 584 655 578 652 576 650 578 648 582 648 594 650 598 652 599 654 599 658 596 659ZM328 661 322 661 317 660 320 658 328 656 330 656 331 658 330 660 328 661ZM1200 676 1190 675 1179 672 1172 668 1170 666 1170 664 1173 660 1182 658 1206 658 1216 660 1222 664 1225 666 1224 670 1220 672 1210 674 1200 676ZM290 673 288 672 288 668 297 666 304 665 304 666 301 668 290 673ZM262 676 256 676 254 674 260 673 263 674 262 676Z"/>
<path fill="#4d6189" fill-rule="evenodd" d="M650 334 648 332 645 330 646 326 648 323 661 314 680 302 688 298 690 296 686 295 676 296 644 301 636 302 628 301 622 298 619 296 620 294 628 290 636 288 652 289 670 287 686 288 696 288 704 287 714 283 716 284 718 286 721 294 720 296 718 299 708 303 698 311 688 319 666 326 654 332 650 334ZM846 301 840 300 836 298 842 296 846 295 849 296 849 298 846 301ZM802 312 798 312 796 310 798 306 802 304 822 296 824 296 827 298 827 300 824 303 810 309 802 312ZM596 317 588 317 582 315 579 310 580 304 584 301 588 299 602 298 606 299 608 304 608 310 604 314 596 317ZM338 307 332 306 322 304 320 302 322 300 326 299 336 300 340 302 342 304 341 306 338 307ZM524 304 518 304 516 302 516 300 520 299 524 299 526 302 524 304ZM468 315 460 315 454 314 450 312 450 308 453 306 458 304 464 303 470 304 474 306 474 310 472 312 468 315ZM538 320 534 320 530 318 528 314 528 310 530 309 534 308 538 309 542 310 543 312 543 316 542 318 538 320ZM744 320 738 320 728 319 724 316 723 314 723 312 726 309 730 308 734 308 738 309 745 314 746 318 744 320ZM892 327 886 327 880 324 873 314 873 312 876 311 882 312 894 318 896 322 896 325 892 327ZM766 328 764 328 762 326 761 324 763 322 782 315 786 314 790 316 788 318 785 320 766 328ZM996 332 992 332 988 331 986 328 986 326 990 322 996 323 998 325 998 328 996 332ZM1024 344 1016 344 1010 342 1007 340 1006 338 1008 336 1011 334 1018 334 1024 335 1028 337 1029 340 1028 342 1024 344ZM1038 354 1034 354 1032 352 1030 350 1032 347 1036 346 1039 348 1040 352 1038 354ZM788 358 783 358 782 356 786 355 788 356 788 358ZM1000 385 994 384 988 382 984 380 984 378 986 374 990 371 998 369 1012 370 1016 372 1019 374 1019 378 1016 380 1008 383 1000 385ZM448 385 443 384 442 384 441 382 444 380 448 380 449 382 448 385ZM658 388 652 388 650 387 650 386 652 384 658 384 660 386 658 388ZM526 407 514 407 513 406 513 404 514 402 522 402 528 402 530 404 531 404 529 406 526 407ZM1134 429 1130 429 1126 425 1121 416 1116 409 1116 405 1118 405 1122 407 1130 418 1135 424 1135 426 1134 429ZM282 421 267 420 268 418 272 416 278 416 287 418 290 420 282 421ZM198 436 194 436 190 435 178 426 176 424 177 420 180 419 185 420 199 432 200 434 198 436ZM470 438 458 438 446 435 440 432 437 426 437 424 442 422 464 421 484 422 488 424 488 428 481 434 478 436 470 438ZM218 439 212 438 211 434 215 432 220 431 226 431 230 432 233 428 238 425 242 426 245 428 244 432 240 435 236 435 230 434 226 436 218 439ZM1076 482 1074 481 1073 480 1073 478 1074 476 1094 465 1106 460 1120 456 1124 456 1126 458 1126 462 1124 464 1104 470 1076 482ZM464 492 460 492 458 490 460 488 465 488 466 490 464 492ZM682 576 678 576 674 576 671 574 672 572 674 569 678 568 682 567 686 568 687 570 687 572 682 576ZM932 587 923 586 921 584 920 582 928 580 940 575 966 567 976 567 984 568 992 572 997 576 992 579 964 580 950 584 932 587ZM494 584 484 584 480 584 482 582 486 578 496 574 510 572 515 572 517 572 514 576 506 580 494 584ZM882 582 880 582 878 581 878 580 878 578 894 572 900 572 904 574 895 578 882 582ZM442 581 438 578 442 576 443 576 444 578 442 581ZM310 598 308 596 308 593 324 588 340 584 358 583 370 578 402 578 410 579 413 580 411 582 402 584 378 586 358 585 342 590 310 598ZM1042 591 1012 588 1006 584 1005 580 1006 580 1012 579 1038 581 1050 578 1054 580 1055 582 1054 586 1042 591ZM274 588 265 586 261 584 261 582 266 580 274 580 282 582 285 584 282 586 274 588ZM648 607 642 607 636 606 630 602 624 594 608 588 604 589 596 596 590 598 584 598 578 596 576 594 575 590 578 589 590 590 602 581 610 580 616 583 628 593 640 599 644 599 656 599 666 599 668 600 670 602 648 607ZM820 588 810 588 804 584 804 582 809 580 818 580 824 580 827 582 828 582 827 584 820 588ZM546 585 542 584 540 582 542 581 547 582 547 584 546 585ZM952 621 936 620 932 618 931 616 935 610 944 606 950 605 960 606 961 606 962 600 966 598 976 603 991 614 992 618 988 619 986 618 966 611 960 618 952 621ZM1050 607 1044 606 1040 606 1039 604 1038 602 1044 601 1051 602 1054 604 1053 606 1050 607ZM1112 609 1110 608 1108 607 1109 606 1110 605 1114 606 1114 608 1112 609ZM850 614 844 614 841 612 840 610 842 608 844 608 850 608 854 610 853 612 850 614ZM220 644 216 644 212 643 211 640 212 636 214 635 232 633 248 626 260 623 267 622 278 624 280 625 282 626 282 629 280 631 276 631 266 629 262 629 242 638 220 644ZM438 643 437 640 438 639 440 640 440 642 438 643ZM776 644 771 644 770 642 774 642 777 642 776 644ZM598 658 594 658 586 656 580 652 578 650 580 649 582 648 592 650 598 654 599 656 598 658ZM328 659 327 658 328 657 328 659ZM1202 675 1192 674 1181 672 1174 668 1172 666 1172 664 1176 661 1184 659 1204 658 1215 660 1220 664 1223 666 1221 670 1217 672 1202 675ZM294 671 290 670 292 668 294 668 297 668 294 671Z"/>
<path fill="#445880" fill-rule="evenodd" d="M652 332 648 332 647 330 647 328 648 326 653 324 658 316 680 303 692 298 693 296 688 294 672 295 656 297 644 300 636 301 628 300 624 298 623 296 625 292 632 290 636 289 650 291 670 288 686 289 694 289 704 288 712 285 716 285 718 288 720 294 718 298 706 301 699 310 687 318 662 326 652 332ZM804 311 800 310 798 308 799 306 803 304 822 296 824 297 826 298 826 300 824 302 811 308 804 311ZM524 303 520 303 518 302 520 300 522 300 525 302 524 303ZM336 306 331 304 325 302 327 300 332 300 339 302 339 304 336 306ZM598 315 590 315 586 313 583 310 582 306 583 302 586 300 592 300 599 300 603 302 606 306 605 310 602 313 598 315ZM468 314 462 314 456 314 452 312 451 308 454 306 458 304 464 304 468 305 471 306 472 310 470 312 468 314ZM538 319 534 319 530 318 529 314 530 311 532 310 534 309 540 311 542 314 542 316 541 318 538 319ZM738 318 728 317 726 314 726 312 730 310 736 310 741 314 742 316 742 317 738 318ZM892 326 886 326 882 324 878 320 877 314 878 314 882 314 892 318 895 322 894 324 892 326ZM768 327 764 327 763 326 762 324 762 322 778 316 782 316 786 317 782 320 768 327ZM996 332 992 332 988 330 986 328 986 325 990 323 996 323 998 328 997 330 996 332ZM1022 344 1010 342 1007 340 1006 338 1008 336 1012 334 1020 334 1024 336 1027 338 1027 340 1025 342 1022 344ZM1004 384 998 384 990 383 986 380 985 378 986 374 990 372 996 369 1010 370 1015 372 1017 374 1018 376 1016 380 1004 384ZM656 387 654 387 652 386 656 385 658 386 656 387ZM522 405 520 405 518 404 523 404 522 405ZM1130 426 1126 423 1123 416 1118 408 1120 409 1124 411 1130 419 1132 424 1130 426ZM190 429 178 425 177 424 178 421 180 419 183 420 189 426 190 428 190 429ZM468 438 458 438 446 435 444 433 441 430 441 426 442 424 446 423 462 421 474 423 482 426 483 428 482 430 479 434 476 436 468 438ZM238 435 234 434 232 433 232 430 233 428 238 426 243 426 244 428 243 432 240 434 238 435ZM1078 481 1076 481 1073 480 1073 478 1074 476 1094 466 1116 457 1122 456 1126 458 1126 460 1124 464 1104 470 1078 481ZM936 585 930 585 927 582 940 576 966 568 974 567 982 568 989 570 993 574 992 576 990 578 966 579 948 583 936 585ZM682 573 680 573 677 572 678 571 680 570 683 572 682 573ZM496 583 488 583 485 582 484 582 489 578 496 575 506 573 509 574 509 576 506 578 496 583ZM892 577 888 576 890 574 894 574 897 574 892 577ZM442 579 440 579 440 578 442 577 442 579ZM390 585 376 585 364 584 366 580 374 579 402 579 407 580 408 580 406 582 403 584 390 585ZM1042 590 1015 588 1009 584 1009 582 1010 580 1016 579 1038 581 1050 579 1053 580 1054 584 1052 585 1042 590ZM274 587 268 586 264 584 267 582 272 581 278 581 281 582 282 584 281 584 274 587ZM592 597 583 596 581 594 581 592 582 592 590 591 602 582 608 581 615 582 622 588 621 590 618 590 608 588 606 588 596 594 592 597ZM818 587 811 586 809 584 810 582 818 581 822 581 825 582 824 585 818 587ZM314 595 310 594 321 590 331 586 344 585 349 586 350 586 335 592 314 595ZM646 606 640 606 634 604 630 600 630 596 632 596 644 600 654 600 659 600 659 602 657 602 646 606ZM984 615 980 615 978 615 970 612 965 608 964 603 966 602 972 603 978 605 985 612 985 614 984 615ZM954 620 938 620 934 618 933 618 933 616 936 611 943 608 948 606 954 606 960 608 962 610 962 612 959 618 954 620ZM216 644 214 643 212 640 212 638 214 636 232 633 246 627 252 625 260 623 268 623 278 625 281 626 281 630 278 631 266 627 262 628 244 637 216 644ZM596 657 592 657 586 655 581 652 580 650 584 649 591 650 597 654 598 656 596 657ZM1204 674 1194 674 1185 672 1177 668 1175 664 1178 662 1184 660 1202 659 1212 661 1217 664 1220 666 1219 668 1216 670 1204 674Z"/>
<path fill="#3a4e77" fill-rule="evenodd" d="M662 324 661 322 659 320 661 316 682 304 696 298 696 296 694 292 712 286 714 286 718 289 719 292 717 296 714 298 706 297 702 298 701 300 701 304 700 306 689 316 680 320 662 324ZM680 294 664 294 660 294 659 292 664 290 672 288 679 290 685 292 680 294ZM638 300 630 298 627 296 627 294 631 292 638 290 641 292 647 296 645 298 638 300ZM810 309 804 309 800 308 802 306 805 304 816 300 822 297 824 297 826 298 824 301 820 303 810 309ZM598 313 592 313 589 312 586 308 586 304 588 302 592 302 596 303 600 304 602 308 602 310 600 312 598 313ZM462 314 454 312 453 308 456 306 460 305 466 306 470 308 470 310 469 312 466 313 462 314ZM538 318 534 318 532 317 530 314 530 312 534 310 539 312 541 314 540 316 538 318ZM890 325 886 325 884 323 881 320 881 318 882 318 884 317 890 320 892 322 890 325ZM766 326 764 326 763 324 775 318 779 318 777 320 766 326ZM994 332 988 331 987 328 987 326 989 324 994 323 996 325 997 330 996 331 994 332ZM1024 343 1018 343 1012 342 1008 340 1007 338 1009 336 1014 335 1023 336 1026 338 1027 340 1026 342 1024 343ZM1002 384 996 383 990 382 986 380 986 376 992 371 998 370 1010 370 1015 372 1017 374 1017 378 1014 380 1008 382 1002 384ZM184 425 180 424 179 422 182 421 185 424 184 425ZM464 438 456 437 447 434 443 430 443 426 445 424 448 423 462 422 472 423 479 426 480 430 478 434 472 436 464 438ZM240 434 236 434 234 432 233 430 235 428 240 426 243 428 243 430 240 434ZM1078 480 1074 480 1075 476 1097 464 1111 460 1122 457 1126 458 1126 462 1123 464 1106 469 1078 480ZM946 583 936 583 933 582 933 580 940 576 970 568 982 568 987 570 991 574 990 576 988 577 962 579 946 583ZM496 582 490 582 487 580 491 578 496 576 502 575 505 576 505 578 504 578 496 582ZM380 585 372 584 369 584 368 582 370 580 374 580 388 580 398 580 403 580 399 582 380 585ZM1044 589 1040 589 1019 588 1013 586 1012 582 1012 581 1016 580 1038 582 1050 580 1052 581 1053 582 1052 584 1044 589ZM272 586 270 585 268 584 272 582 276 582 277 584 276 584 272 586ZM616 588 606 586 604 586 602 586 607 582 612 582 617 586 616 588ZM332 592 324 592 322 592 322 590 326 588 332 587 338 587 344 588 340 590 332 592ZM644 604 636 603 634 602 634 600 636 599 648 602 644 604ZM980 613 978 613 974 612 969 610 968 606 968 605 970 605 978 606 982 610 980 613ZM950 620 938 619 935 618 934 616 942 610 948 607 954 607 959 610 960 612 958 616 955 618 950 620ZM218 643 216 643 214 642 212 640 214 637 232 634 251 626 256 625 259 626 258 628 256 630 245 636 218 643ZM278 630 275 628 272 626 273 626 280 626 280 628 278 630ZM594 656 586 654 583 652 586 650 592 651 595 654 594 656ZM1204 673 1194 673 1186 671 1179 668 1178 664 1180 662 1184 661 1198 660 1210 661 1213 662 1216 666 1217 668 1215 670 1204 673Z"/>
<path fill="#30446d" fill-rule="evenodd" d="M716 296 714 296 702 295 700 294 699 292 701 290 710 287 714 287 716 288 717 290 718 294 716 296ZM676 293 668 293 665 292 668 290 672 290 678 292 676 293ZM636 298 632 296 632 294 634 293 638 294 639 296 636 298ZM824 300 822 300 822 298 824 298 824 300ZM676 320 666 320 663 318 663 316 667 312 684 304 692 300 697 300 698 306 696 308 685 316 676 320ZM810 308 806 308 803 306 805 304 810 303 814 302 815 302 814 306 810 308ZM466 312 462 312 458 312 456 310 456 308 459 306 464 307 466 308 468 310 466 312ZM536 317 532 316 532 312 536 311 539 312 540 315 536 317ZM996 331 992 331 988 330 987 328 988 326 992 323 996 324 997 328 996 331ZM1022 343 1018 343 1012 342 1008 340 1008 338 1010 336 1014 335 1022 336 1025 338 1026 340 1025 342 1022 343ZM1004 383 998 383 992 382 987 380 986 376 992 372 998 370 1008 370 1015 374 1016 376 1015 378 1010 381 1004 383ZM468 437 460 437 450 435 444 432 444 428 448 424 458 423 468 423 475 426 478 428 478 432 475 434 468 437ZM238 434 234 432 234 430 234 429 238 427 242 427 243 430 242 432 238 434ZM1084 477 1080 476 1081 474 1085 472 1096 466 1116 458 1122 457 1125 458 1125 462 1124 463 1084 477ZM950 581 942 581 938 580 937 580 942 576 970 568 976 568 982 569 987 572 988 574 987 576 984 576 964 578 950 581ZM498 580 494 580 491 580 493 578 496 576 500 576 500 578 498 580ZM378 584 374 582 376 581 381 582 378 584ZM1042 588 1040 588 1024 587 1017 586 1015 582 1016 581 1022 581 1038 583 1047 582 1050 584 1042 588ZM952 619 940 619 938 618 936 616 937 614 946 609 952 608 957 610 958 612 956 616 952 619ZM242 636 236 636 233 636 247 628 255 626 255 628 253 630 242 636ZM220 642 214 642 213 640 214 638 217 636 227 636 227 638 225 640 220 642ZM590 654 587 652 588 652 591 652 590 654ZM1202 672 1194 671 1188 670 1183 668 1181 664 1186 662 1198 660 1208 662 1211 664 1213 666 1213 668 1210 670 1202 672Z"/>
<path fill="#263962" fill-rule="evenodd" d="M716 294 714 294 703 292 705 290 712 288 716 290 716 294ZM678 318 670 318 668 317 666 316 669 312 685 304 690 302 694 302 694 306 692 308 685 314 678 318ZM536 315 534 314 536 313 537 314 536 315ZM994 331 992 331 989 330 988 328 988 326 992 324 995 324 997 328 994 331ZM1020 343 1011 342 1008 340 1008 338 1014 335 1022 336 1025 338 1025 340 1024 342 1020 343ZM1002 383 994 382 990 380 987 378 988 376 992 372 1000 370 1010 371 1014 374 1014 377 1012 380 1002 383ZM466 437 458 437 450 435 446 432 445 430 445 428 448 425 458 423 468 424 475 426 477 430 476 432 472 435 466 437ZM238 433 236 432 235 430 236 428 240 428 241 428 242 430 238 433ZM1090 474 1088 474 1085 474 1087 472 1090 470 1100 464 1115 460 1124 458 1124 462 1122 462 1104 468 1090 474ZM950 579 943 578 962 570 970 569 980 569 983 570 986 572 984 575 980 576 950 579ZM1038 587 1025 586 1022 586 1020 584 1024 582 1033 584 1039 586 1038 587ZM952 618 942 618 938 616 939 614 948 612 950 610 952 610 954 612 955 616 952 618ZM244 634 240 634 240 632 247 628 251 628 249 632 244 634ZM218 641 214 641 214 638 216 638 220 638 218 641ZM1202 670 1198 670 1192 669 1187 668 1185 664 1188 662 1192 662 1204 662 1208 664 1208 666 1206 668 1202 670Z"/>
<path fill="#2b3857" fill-rule="evenodd" d="M678 315 674 315 672 314 678 311 681 310 680 314 678 315ZM994 330 990 330 989 326 990 325 994 325 996 328 994 330ZM1022 342 1013 342 1010 340 1009 338 1014 336 1022 336 1023 338 1024 340 1022 342ZM1004 382 998 382 992 381 990 379 989 376 992 373 998 371 1006 372 1012 374 1013 376 1011 378 1004 382ZM468 436 460 436 452 435 448 432 446 428 450 426 454 424 462 424 470 425 474 428 475 430 473 434 468 436ZM978 576 962 576 958 576 957 574 965 570 974 569 980 570 982 572 981 574 978 576ZM1198 666 1194 666 1193 666 1193 664 1198 664 1198 666Z"/>
<path fill="#303a52" fill-rule="evenodd" d="M994 329 990 328 990 326 994 327 994 328 994 329ZM1018 342 1012 340 1011 338 1016 336 1022 338 1022 340 1018 342ZM1004 381 994 380 991 378 990 376 993 374 998 372 1005 372 1009 374 1009 378 1004 381ZM466 436 458 436 452 434 448 432 448 428 452 426 460 425 468 425 472 428 473 430 473 432 470 434 466 436ZM976 574 968 574 965 574 965 572 970 571 974 570 978 572 976 574Z"/>
<path fill="#373c4b" fill-rule="evenodd" d="M1020 340 1018 340 1013 338 1014 337 1018 337 1021 338 1020 340ZM1002 380 995 380 993 378 992 376 993 374 996 374 1002 374 1005 374 1006 376 1005 378 1002 380ZM466 435 462 435 456 434 451 432 450 430 451 428 456 426 462 425 468 426 471 428 472 430 470 433 466 435Z"/>
<path fill="#393b40" fill-rule="evenodd" d="M466 434 458 433 453 432 453 430 458 427 466 428 468 428 469 430 468 432 466 434Z"/></g></g>
<g clip-path="url(#dc)"><path d="M899.6 284 899.6 288.1 904.7 292.8 912.1 297.3 923.9 301.7 934.2 306.1 941.6 307.6 956.4 315 969.6 317.9 982.9 321.6 993.2 317.2 999.9 313.9 1008 314.2 1016.8 317.2 1025.7 323.8 1036 333.4 1046.3 342.3 1061.1 348.2 1069.9 349.6 1075.8 352.6 1080 355.3 1088.8 356.2 1097.6 358.8 1106.4 359.7 1111.7 356.2 1116.1 361.5 1111.7 361.5 1115.2 366.7 1124 377.3 1132.8 386.1 1139.9 391.4 1139.9 400.2 1141.6 407.2 1149.5 411.6 1153.9 409 1162.7 417.8 1170.7 423.1 1171.5 430.1 1178.6 435.4 1183.9 434.5 1194.4 435.4 1203.2 439 1212 442.5 1213.8 450.4 1225.2 447.7 1232 447.7 1232 445 1225.2 445 1222.6 442.5 1220 436.3 1225.2 433.6 1232 433.6 1232 421.3 1225.2 421.3 1213.8 424 1205 426.6 1194.4 422.2 1189.2 416 1182.1 407.2 1175.1 396.7 1170.7 387.9 1172.4 375.5 1174.2 361.5 1175.1 350.9 1177.7 343.9 1178.6 336.8 1176.8 330.7 1169.8 326.3 1161 321 1150.4 318.3 1136.3 317.5 1122.3 321 1113.5 319.2 1104.6 321.9 1097.6 319.2 1093.2 315.7 1099.4 308.6 1102.9 299.8 1103.8 288 1103.8 284Z" fill="#fff" stroke="#fff" stroke-width="15" stroke-linejoin="miter"/>
<path d="M1232 561 1225 561 1220.7 561.7 1219.3 568 1214.4 572.2 1213 574.3 1214.4 580.6 1215.8 587.6 1213.7 593.2 1218.6 597.4 1222.8 601.6 1225 604.4 1232 604.4ZM1232 610 1225 610 1217.2 614.2 1210.2 619.8 1206.7 624 1207.4 629.6 1208.8 636.6 1213 643.6 1210.2 648.5 1215.8 652 1221.4 656.2 1225 659 1232 659Z" fill="#fff" stroke="#fff" stroke-width="8" stroke-linejoin="miter"/>
<rect x="1052" y="566" width="12" height="13" fill="#fff"/>
<path d="M899.6 284 899.6 288.1 904.7 292.8 912.1 297.3 923.9 301.7 934.2 306.1 941.6 307.6 956.4 315 969.6 317.9 982.9 321.6 993.2 317.2 999.9 313.9 1008 314.2 1016.8 317.2 1025.7 323.8 1036 333.4 1046.3 342.3 1061.1 348.2 1069.9 349.6 1075.8 352.6 1080 355.3 1088.8 356.2 1097.6 358.8 1106.4 359.7 1111.7 356.2 1116.1 361.5 1111.7 361.5 1115.2 366.7 1124 377.3 1132.8 386.1 1139.9 391.4 1139.9 400.2 1141.6 407.2 1149.5 411.6 1153.9 409 1162.7 417.8 1170.7 423.1 1171.5 430.1 1178.6 435.4 1183.9 434.5 1194.4 435.4 1203.2 439 1212 442.5 1213.8 450.4 1225.2 447.7 1232 447.7 1232 445 1225.2 445 1222.6 442.5 1220 436.3 1225.2 433.6 1232 433.6 1232 421.3 1225.2 421.3 1213.8 424 1205 426.6 1194.4 422.2 1189.2 416 1182.1 407.2 1175.1 396.7 1170.7 387.9 1172.4 375.5 1174.2 361.5 1175.1 350.9 1177.7 343.9 1178.6 336.8 1176.8 330.7 1169.8 326.3 1161 321 1150.4 318.3 1136.3 317.5 1122.3 321 1113.5 319.2 1104.6 321.9 1097.6 319.2 1093.2 315.7 1099.4 308.6 1102.9 299.8 1103.8 288 1103.8 284ZM1232 561 1225 561 1220.7 561.7 1219.3 568 1214.4 572.2 1213 574.3 1214.4 580.6 1215.8 587.6 1213.7 593.2 1218.6 597.4 1222.8 601.6 1225 604.4 1232 604.4ZM1232 610 1225 610 1217.2 614.2 1210.2 619.8 1206.7 624 1207.4 629.6 1208.8 636.6 1213 643.6 1210.2 648.5 1215.8 652 1221.4 656.2 1225 659 1232 659ZM1055 558 1058 560 1064 569 1060 572 1057 574 1054 571 1060 568 1057 564 1055 562Z" fill="#808080" stroke="#000" stroke-width="1.1" stroke-linejoin="round"/></g>
<path d="M401.5 286V677M626.5 286V677M851.5 286V677M1076.5 286V677M176 332.5H1225M176 408.5H1225M176 483.5H1225M176 559.5H1225M176 634.5H1225" stroke="#262626" stroke-width="1" stroke-dasharray="1 3" fill="none"/>
<path d="M401.0 288v8M401.0 677v-8M626.0 288v8M626.0 677v-8M851.0 288v8M851.0 677v-8M1076.0 288v8M1076.0 677v-8M178 332.0h8M1225 332.0h-8M178 408.0h8M1225 408.0h-8M178 483.0h8M1225 483.0h-8M178 559.0h8M1225 559.0h-8M178 634.0h8M1225 634.0h-8" stroke="#000" stroke-width="4" fill="none"/>
<rect x="176" y="286" width="1051" height="393" fill="none" stroke="#000" stroke-width="4" stroke-linejoin="round"/>
<text x="176.5" y="701" text-anchor="middle" font-family="Liberation Sans, Arial, sans-serif" font-size="16.5" fill="#000">150<tspan font-size="13.5" dy="-8">o</tspan><tspan dy="8">W</tspan></text>
<text x="401.5" y="701" text-anchor="middle" font-family="Liberation Sans, Arial, sans-serif" font-size="16.5" fill="#000">135<tspan font-size="13.5" dy="-8">o</tspan><tspan dy="8">W</tspan></text>
<text x="626.5" y="701" text-anchor="middle" font-family="Liberation Sans, Arial, sans-serif" font-size="16.5" fill="#000">120<tspan font-size="13.5" dy="-8">o</tspan><tspan dy="8">W</tspan></text>
<text x="851.5" y="701" text-anchor="middle" font-family="Liberation Sans, Arial, sans-serif" font-size="16.5" fill="#000">105<tspan font-size="13.5" dy="-8">o</tspan><tspan dy="8">W</tspan></text>
<text x="1076.5" y="701" text-anchor="middle" font-family="Liberation Sans, Arial, sans-serif" font-size="16.5" fill="#000">90<tspan font-size="13.5" dy="-8">o</tspan><tspan dy="8">W</tspan></text>
<text x="171.5" y="341" text-anchor="end" font-family="Liberation Sans, Arial, sans-serif" font-size="16.5" fill="#000">15<tspan font-size="13.5" dy="-8">o</tspan><tspan dy="8">N</tspan></text>
<text x="171.5" y="417" text-anchor="end" font-family="Liberation Sans, Arial, sans-serif" font-size="16.5" fill="#000">10<tspan font-size="13.5" dy="-8">o</tspan><tspan dy="8">N</tspan></text>
<text x="171.5" y="492" text-anchor="end" font-family="Liberation Sans, Arial, sans-serif" font-size="16.5" fill="#000">5<tspan font-size="13.5" dy="-8">o</tspan><tspan dy="8">N</tspan></text>
<text x="165.5" y="568" text-anchor="end" font-family="Liberation Sans, Arial, sans-serif" font-size="16.5" fill="#000">0<tspan font-size="13.5" dy="-8">o</tspan><tspan dy="8"></tspan></text>
<text x="171.5" y="643" text-anchor="end" font-family="Liberation Sans, Arial, sans-serif" font-size="16.5" fill="#000">5<tspan font-size="13.5" dy="-8">o</tspan><tspan dy="8">S</tspan></text>
<rect x="174.5" y="711.5" width="1050" height="19" fill="url(#cb)" stroke="#262626" stroke-width="1"/>
<path d="M349.5 730v-10M524.5 730v-10M699.5 730v-10M874.5 730v-10M1049.5 730v-10" stroke="#262626" stroke-width="1"/>
<text x="174.5" y="755" text-anchor="middle" font-family="Liberation Sans, Arial, sans-serif" font-size="17" fill="#262626">-0.03</text>
<text x="349.5" y="755" text-anchor="middle" font-family="Liberation Sans, Arial, sans-serif" font-size="17" fill="#262626">-0.02</text>
<text x="524.5" y="755" text-anchor="middle" font-family="Liberation Sans, Arial, sans-serif" font-size="17" fill="#262626">-0.01</text>
<text x="699.5" y="755" text-anchor="middle" font-family="Liberation Sans, Arial, sans-serif" font-size="17" fill="#262626">0</text>
<text x="874.5" y="755" text-anchor="middle" font-family="Liberation Sans, Arial, sans-serif" font-size="17" fill="#262626">0.01</text>
<text x="1049.5" y="755" text-anchor="middle" font-family="Liberation Sans, Arial, sans-serif" font-size="17" fill="#262626">0.02</text>
<text x="1224.5" y="755" text-anchor="middle" font-family="Liberation Sans, Arial, sans-serif" font-size="17" fill="#262626">0.03</text>
<text x="700" y="779" text-anchor="middle" font-family="Liberation Sans, Arial, sans-serif" font-size="17" fill="#262626">°C/km</text>
</svg>
</body></html>
